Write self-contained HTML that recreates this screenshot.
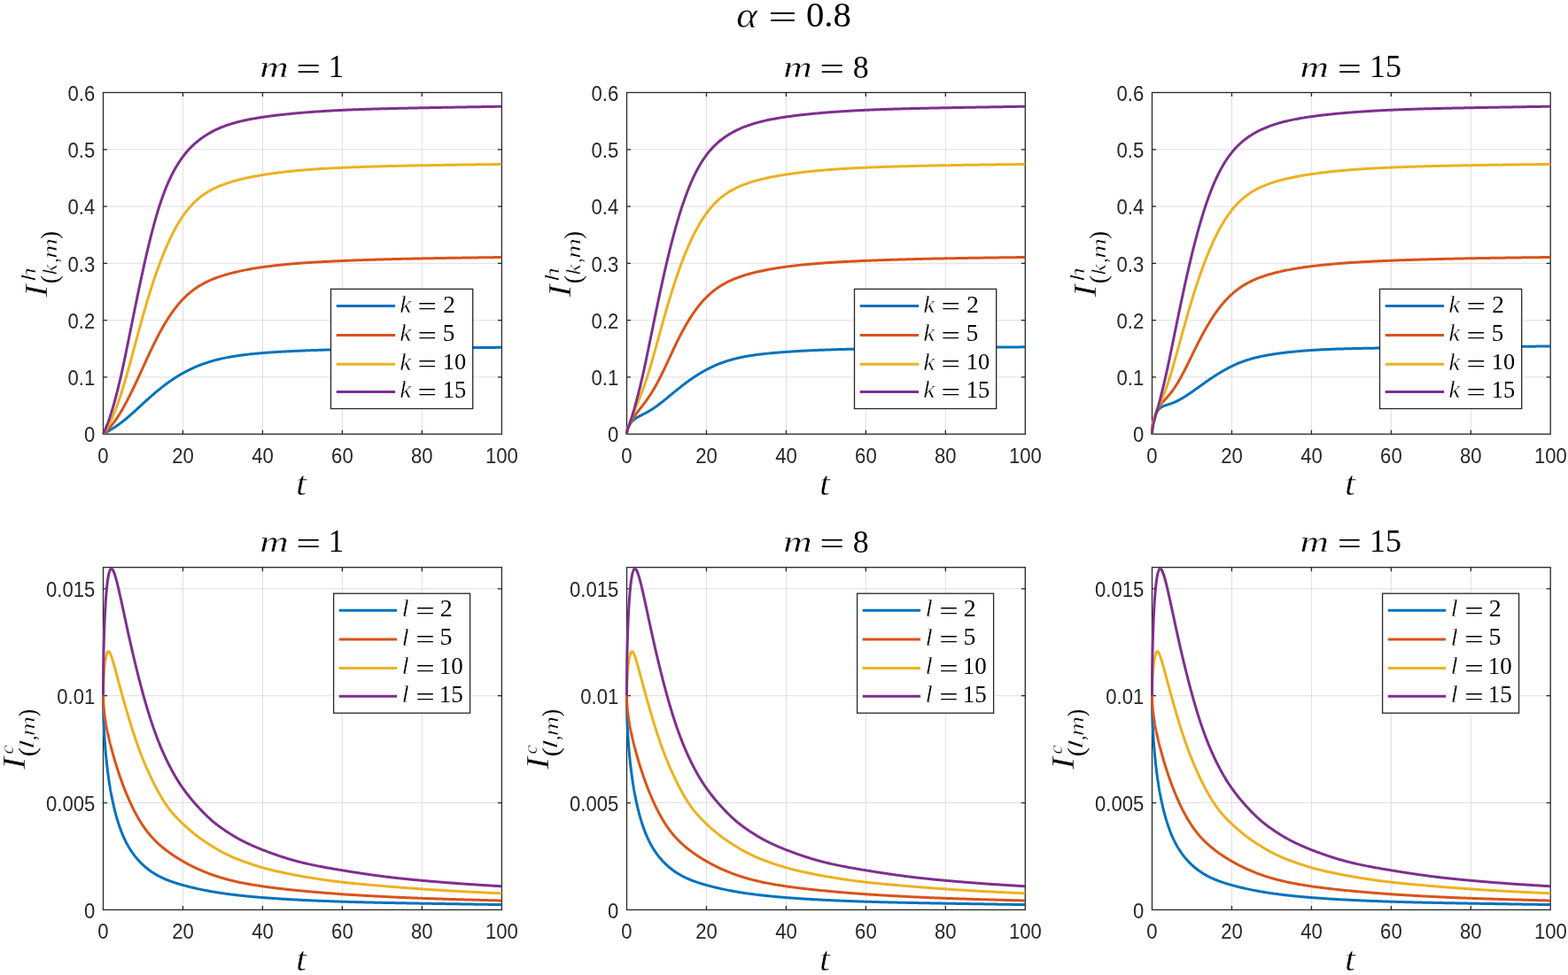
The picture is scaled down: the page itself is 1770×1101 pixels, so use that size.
<!DOCTYPE html><html><head><meta charset="utf-8"><title>alpha = 0.8</title><style>html,body{margin:0;padding:0;background:#fff;}svg{display:block;}.tk{font-family:"Liberation Sans",Arial,sans-serif;font-size:23px;fill:#262626;}.mt{font-family:"Liberation Serif","Times New Roman",serif;fill:#000;}.th{stroke:#fff;stroke-width:0.4px;}.it{font-style:italic;}</style></head><body>
<svg width="1770" height="1101" viewBox="0 0 1770 1101">
<rect width="1770" height="1101" fill="#fff"/>
<text class="mt th" font-size="39.38" font-style="italic" transform="translate(831.14 30.61) scale(1.1496 1)">α</text>
<text class="mt" font-size="39.60" transform="translate(867.33 33.22) scale(1.4500 1)">=</text>
<text class="mt" font-size="39.71" transform="translate(909.97 30.00) scale(1.0246 1)">0.8</text>
<g stroke="#dfdfdf" stroke-width="1"><line x1="206.46" y1="104.5" x2="206.46" y2="490.2"/><line x1="296.42" y1="104.5" x2="296.42" y2="490.2"/><line x1="386.38" y1="104.5" x2="386.38" y2="490.2"/><line x1="476.34" y1="104.5" x2="476.34" y2="490.2"/><line x1="116.5" y1="425.92" x2="566.4" y2="425.92"/><line x1="116.5" y1="361.63" x2="566.4" y2="361.63"/><line x1="116.5" y1="297.35" x2="566.4" y2="297.35"/><line x1="116.5" y1="233.07" x2="566.4" y2="233.07"/><line x1="116.5" y1="168.78" x2="566.4" y2="168.78"/></g>
<path d="M206.46 490.2v-4.5M206.46 104.5v4.5M296.42 490.2v-4.5M296.42 104.5v4.5M386.38 490.2v-4.5M386.38 104.5v4.5M476.34 490.2v-4.5M476.34 104.5v4.5M116.5 425.92h4.5M566.4 425.92h-4.5M116.5 361.63h4.5M566.4 361.63h-4.5M116.5 297.35h4.5M566.4 297.35h-4.5M116.5 233.07h4.5M566.4 233.07h-4.5M116.5 168.78h4.5M566.4 168.78h-4.5" fill="none" stroke="#262626" stroke-width="1.3"/>
<rect x="116.5" y="104.5" width="449.9" height="385.7" fill="none" stroke="#262626" stroke-width="1.3"/>
<path d="M116.5 490.2 L116.58 490.16 L116.65 490.11 L116.73 490.06 L116.8 490.02 L116.88 489.97 L116.95 489.92 L117.03 489.88 L117.1 489.83 L117.18 489.78 L117.26 489.74 L117.33 489.69 L117.41 489.64 L117.48 489.6 L117.56 489.55 L117.63 489.51 L117.71 489.46 L117.79 489.42 L117.86 489.37 L117.94 489.33 L118.01 489.28 L118.09 489.23 L118.16 489.19 L118.24 489.14 L118.31 489.1 L118.39 489.05 L118.47 489.01 L118.54 488.97 L118.62 488.92 L118.69 488.88 L118.77 488.83 L118.84 488.79 L118.92 488.74 L118.99 488.7 L119.07 488.65 L119.15 488.61 L119.22 488.56 L119.3 488.52 L119.37 488.48 L119.45 488.43 L119.52 488.39 L119.6 488.34 L119.68 488.3 L119.75 488.26 L119.83 488.21 L119.9 488.17 L119.98 488.12 L120.05 488.08 L120.13 488.04 L120.2 487.99 L120.28 487.95 L120.36 487.9 L120.43 487.86 L120.51 487.82 L120.58 487.77 L120.66 487.73 L120.73 487.68 L120.81 487.64 L120.88 487.6 L120.96 487.55 L121.04 487.51 L121.11 487.47 L121.19 487.42 L121.26 487.38 L121.34 487.33 L121.41 487.29 L121.49 487.25 L121.56 487.2 L121.64 487.16 L121.72 487.12 L121.79 487.07 L121.87 487.03 L121.94 486.98 L122.02 486.94 L122.09 486.9 L122.17 486.85 L122.25 486.81 L122.32 486.77 L122.4 486.72 L122.47 486.68 L122.55 486.63 L122.62 486.59 L122.7 486.55 L122.77 486.5 L122.85 486.46 L122.93 486.41 L123 486.37 L123.08 486.33 L123.15 486.28 L123.23 486.24 L123.3 486.19 L123.38 486.15 L123.45 486.1 L123.53 486.06 L123.61 486.02 L123.68 485.97 L123.76 485.93 L123.83 485.88 L123.91 485.84 L123.98 485.79 L124.06 485.75 L124.14 485.7 L124.21 485.66 L124.29 485.62 L124.36 485.57 L124.44 485.53 L124.51 485.48 L124.59 485.44 L124.66 485.39 L124.74 485.35 L124.82 485.3 L124.89 485.26 L124.97 485.21 L125.04 485.17 L125.12 485.12 L125.19 485.08 L125.27 485.03 L125.34 484.98 L125.42 484.94 L125.5 484.89 L125.63 484.81 L125.94 484.62 L126.26 484.43 L126.57 484.24 L126.88 484.05 L127.19 483.86 L127.5 483.66 L127.82 483.47 L128.13 483.27 L128.44 483.07 L128.75 482.87 L129.06 482.67 L129.38 482.47 L129.69 482.27 L130 482.06 L130.31 481.86 L130.62 481.65 L130.94 481.44 L131.25 481.23 L131.56 481.02 L131.87 480.8 L132.18 480.59 L132.5 480.37 L132.81 480.16 L133.12 479.94 L133.43 479.72 L133.75 479.5 L134.06 479.27 L134.37 479.05 L134.68 478.82 L134.99 478.6 L135.31 478.37 L135.62 478.14 L135.93 477.9 L136.24 477.67 L136.55 477.44 L136.87 477.2 L137.18 476.96 L137.49 476.72 L137.8 476.48 L138.11 476.24 L138.43 476 L138.74 475.76 L139.05 475.51 L139.36 475.26 L139.67 475.02 L139.99 474.77 L140.3 474.52 L140.61 474.27 L140.92 474.01 L141.24 473.76 L141.55 473.5 L141.86 473.25 L142.17 472.99 L142.48 472.73 L142.8 472.47 L143.11 472.21 L143.42 471.95 L143.73 471.69 L144.04 471.42 L144.36 471.16 L144.67 470.89 L144.98 470.62 L145.29 470.35 L145.6 470.09 L145.92 469.82 L146.23 469.54 L146.54 469.27 L146.85 469 L147.16 468.73 L147.48 468.45 L147.79 468.18 L148.1 467.9 L148.41 467.63 L148.72 467.35 L149.04 467.07 L149.35 466.79 L149.66 466.51 L149.97 466.23 L150.29 465.95 L150.6 465.67 L150.91 465.39 L151.22 465.11 L151.53 464.83 L151.85 464.54 L152.16 464.26 L152.47 463.98 L152.78 463.69 L153.09 463.41 L153.41 463.12 L153.72 462.84 L154.03 462.55 L154.34 462.27 L154.65 461.98 L154.97 461.7 L155.28 461.41 L155.59 461.12 L155.9 460.84 L156.21 460.55 L156.53 460.26 L156.84 459.97 L157.15 459.69 L157.46 459.4 L157.78 459.11 L158.09 458.82 L158.4 458.54 L158.71 458.25 L159.02 457.96 L159.34 457.67 L159.65 457.39 L159.96 457.1 L160.27 456.81 L160.58 456.53 L160.9 456.24 L161.21 455.95 L161.52 455.66 L161.83 455.38 L162.14 455.09 L162.46 454.81 L162.77 454.52 L163.08 454.24 L163.39 453.95 L163.7 453.67 L164.02 453.38 L164.33 453.1 L164.64 452.81 L164.95 452.53 L165.27 452.25 L165.58 451.96 L165.89 451.68 L166.2 451.4 L166.51 451.12 L166.83 450.84 L167.14 450.55 L167.45 450.27 L167.76 449.99 L168.07 449.72 L168.39 449.44 L168.7 449.16 L169.01 448.88 L169.32 448.6 L169.63 448.33 L169.95 448.05 L170.26 447.78 L170.57 447.5 L170.88 447.23 L171.19 446.95 L171.51 446.68 L171.82 446.41 L172.13 446.13 L172.44 445.86 L172.76 445.59 L173.07 445.32 L173.38 445.05 L173.69 444.79 L174 444.52 L174.32 444.25 L174.63 443.98 L174.94 443.72 L175.25 443.45 L175.56 443.19 L175.88 442.93 L176.19 442.66 L176.5 442.4 L176.81 442.14 L177.12 441.88 L177.44 441.62 L177.75 441.36 L178.06 441.1 L178.37 440.85 L178.68 440.59 L179 440.33 L179.31 440.08 L179.62 439.82 L179.93 439.57 L180.25 439.32 L180.56 439.07 L180.87 438.82 L181.18 438.57 L181.49 438.32 L181.81 438.07 L182.12 437.82 L182.43 437.58 L182.74 437.33 L183.05 437.08 L183.37 436.84 L183.68 436.6 L183.99 436.36 L184.3 436.11 L184.61 435.87 L184.93 435.63 L185.24 435.4 L185.55 435.16 L185.86 434.92 L186.17 434.69 L186.49 434.45 L186.8 434.22 L187.11 433.98 L187.42 433.75 L187.74 433.52 L188.05 433.29 L188.36 433.06 L188.67 432.83 L188.98 432.6 L189.3 432.38 L189.61 432.15 L189.92 431.93 L190.23 431.7 L190.54 431.48 L190.86 431.26 L191.17 431.04 L191.48 430.82 L191.79 430.6 L192.1 430.38 L192.42 430.16 L192.73 429.95 L193.04 429.73 L193.35 429.52 L193.66 429.3 L193.98 429.09 L194.29 428.88 L194.6 428.67 L194.91 428.46 L195.23 428.25 L195.54 428.04 L195.85 427.84 L196.16 427.63 L196.47 427.43 L196.79 427.22 L197.1 427.02 L197.41 426.82 L197.72 426.62 L198.03 426.42 L198.35 426.22 L198.66 426.02 L198.97 425.83 L199.28 425.63 L199.59 425.43 L199.91 425.24 L200.22 425.05 L200.53 424.85 L200.84 424.66 L201.15 424.47 L201.47 424.28 L201.78 424.09 L202.09 423.91 L202.4 423.72 L202.72 423.54 L203.03 423.35 L203.34 423.17 L203.65 422.98 L203.96 422.8 L204.28 422.62 L204.59 422.44 L204.9 422.26 L205.21 422.08 L205.52 421.91 L205.84 421.73 L206.15 421.56 L206.46 421.38 L207.36 420.88 L208.56 420.23 L209.76 419.59 L210.96 418.97 L212.16 418.36 L213.36 417.76 L214.56 417.17 L215.76 416.6 L216.96 416.04 L218.16 415.49 L219.36 414.96 L220.56 414.44 L221.77 413.92 L222.97 413.43 L224.17 412.94 L225.37 412.47 L226.57 412 L227.77 411.55 L228.97 411.11 L230.17 410.68 L231.37 410.26 L232.57 409.85 L233.77 409.46 L234.97 409.07 L236.17 408.69 L237.37 408.32 L238.57 407.96 L239.77 407.62 L240.97 407.28 L242.17 406.95 L243.37 406.63 L244.57 406.32 L245.77 406.01 L246.98 405.72 L248.18 405.43 L249.38 405.15 L250.58 404.88 L251.78 404.62 L252.98 404.36 L254.18 404.11 L255.38 403.87 L256.58 403.64 L257.78 403.41 L258.98 403.19 L260.18 402.98 L261.38 402.77 L262.58 402.56 L263.78 402.37 L264.98 402.18 L266.18 401.99 L267.38 401.81 L268.58 401.64 L269.78 401.46 L270.98 401.3 L272.18 401.14 L273.39 400.98 L274.59 400.83 L275.79 400.68 L276.99 400.53 L278.19 400.39 L279.39 400.26 L280.59 400.12 L281.79 399.99 L282.99 399.86 L284.19 399.74 L285.39 399.62 L286.59 399.5 L287.79 399.38 L288.99 399.27 L290.19 399.16 L291.39 399.05 L292.59 398.95 L293.79 398.84 L294.99 398.74 L296.19 398.64 L297.39 398.55 L298.6 398.45 L299.8 398.36 L301 398.27 L302.2 398.18 L303.4 398.09 L304.6 398 L305.8 397.92 L307 397.84 L308.2 397.75 L309.4 397.68 L310.6 397.6 L311.8 397.52 L313 397.45 L314.2 397.37 L315.4 397.3 L316.6 397.23 L317.8 397.16 L319 397.09 L320.2 397.02 L321.4 396.96 L322.6 396.89 L323.81 396.83 L325.01 396.76 L326.21 396.7 L327.41 396.64 L328.61 396.58 L329.81 396.52 L331.01 396.47 L332.21 396.41 L333.41 396.36 L334.61 396.3 L335.81 396.25 L337.01 396.19 L338.21 396.14 L339.41 396.09 L340.61 396.04 L341.81 395.99 L343.01 395.94 L344.21 395.89 L345.41 395.85 L346.61 395.8 L347.81 395.76 L349.02 395.71 L350.22 395.67 L351.42 395.62 L352.62 395.58 L353.82 395.54 L355.02 395.5 L356.22 395.46 L357.42 395.41 L358.62 395.38 L359.82 395.34 L361.02 395.3 L362.22 395.26 L363.42 395.22 L364.62 395.18 L365.82 395.15 L367.02 395.11 L368.22 395.08 L369.42 395.04 L370.62 395.01 L371.82 394.97 L373.02 394.94 L374.22 394.91 L375.43 394.87 L376.63 394.84 L377.83 394.81 L379.03 394.78 L380.23 394.75 L381.43 394.72 L382.63 394.69 L383.83 394.66 L385.03 394.63 L386.23 394.6 L387.43 394.57 L388.63 394.54 L389.83 394.51 L391.03 394.49 L392.23 394.46 L393.43 394.43 L394.63 394.41 L395.83 394.38 L397.03 394.35 L398.23 394.33 L399.43 394.3 L400.64 394.28 L401.84 394.25 L403.04 394.23 L404.24 394.21 L405.44 394.18 L406.64 394.16 L407.84 394.13 L409.04 394.11 L410.24 394.09 L411.44 394.07 L412.64 394.04 L413.84 394.02 L415.04 394 L416.24 393.98 L417.44 393.96 L418.64 393.94 L419.84 393.92 L421.04 393.9 L422.24 393.88 L423.44 393.86 L424.64 393.84 L425.85 393.82 L427.05 393.8 L428.25 393.78 L429.45 393.76 L430.65 393.74 L431.85 393.72 L433.05 393.7 L434.25 393.68 L435.45 393.67 L436.65 393.65 L437.85 393.63 L439.05 393.61 L440.25 393.6 L441.45 393.58 L442.65 393.56 L443.85 393.54 L445.05 393.53 L446.25 393.51 L447.45 393.49 L448.65 393.48 L449.85 393.46 L451.05 393.45 L452.26 393.43 L453.46 393.41 L454.66 393.4 L455.86 393.38 L457.06 393.37 L458.26 393.35 L459.46 393.34 L460.66 393.32 L461.86 393.31 L463.06 393.29 L464.26 393.28 L465.46 393.26 L466.66 393.25 L467.86 393.24 L469.06 393.22 L470.26 393.21 L471.46 393.19 L472.66 393.18 L473.86 393.17 L475.06 393.15 L476.26 393.14 L477.47 393.13 L478.67 393.11 L479.87 393.1 L481.07 393.09 L482.27 393.07 L483.47 393.06 L484.67 393.05 L485.87 393.03 L487.07 393.02 L488.27 393.01 L489.47 393 L490.67 392.98 L491.87 392.97 L493.07 392.96 L494.27 392.95 L495.47 392.94 L496.67 392.92 L497.87 392.91 L499.07 392.9 L500.27 392.89 L501.47 392.88 L502.68 392.86 L503.88 392.85 L505.08 392.84 L506.28 392.83 L507.48 392.82 L508.68 392.81 L509.88 392.8 L511.08 392.79 L512.28 392.77 L513.48 392.76 L514.68 392.75 L515.88 392.74 L517.08 392.73 L518.28 392.72 L519.48 392.71 L520.68 392.7 L521.88 392.69 L523.08 392.68 L524.28 392.67 L525.48 392.66 L526.68 392.64 L527.88 392.63 L529.09 392.62 L530.29 392.61 L531.49 392.6 L532.69 392.59 L533.89 392.58 L535.09 392.57 L536.29 392.56 L537.49 392.55 L538.69 392.54 L539.89 392.53 L541.09 392.52 L542.29 392.51 L543.49 392.5 L544.69 392.49 L545.89 392.48 L547.09 392.47 L548.29 392.46 L549.49 392.45 L550.69 392.44 L551.89 392.43 L553.09 392.42 L554.3 392.41 L555.5 392.4 L556.7 392.4 L557.9 392.39 L559.1 392.38 L560.3 392.37 L561.5 392.36 L562.7 392.35 L563.9 392.34 L565.1 392.33 L566.3 392.32" fill="none" stroke="#0072BD" stroke-width="3.0" stroke-linejoin="round"/>
<path d="M116.5 490.2 L116.58 490.13 L116.65 490.05 L116.73 489.97 L116.8 489.9 L116.88 489.82 L116.95 489.74 L117.03 489.67 L117.1 489.59 L117.18 489.52 L117.26 489.44 L117.33 489.37 L117.41 489.29 L117.48 489.22 L117.56 489.14 L117.63 489.07 L117.71 488.99 L117.79 488.92 L117.86 488.84 L117.94 488.77 L118.01 488.69 L118.09 488.62 L118.16 488.54 L118.24 488.47 L118.31 488.39 L118.39 488.32 L118.47 488.25 L118.54 488.17 L118.62 488.1 L118.69 488.02 L118.77 487.95 L118.84 487.87 L118.92 487.8 L118.99 487.73 L119.07 487.65 L119.15 487.58 L119.22 487.5 L119.3 487.43 L119.37 487.35 L119.45 487.28 L119.52 487.2 L119.6 487.13 L119.68 487.06 L119.75 486.98 L119.83 486.91 L119.9 486.83 L119.98 486.76 L120.05 486.68 L120.13 486.6 L120.2 486.53 L120.28 486.45 L120.36 486.38 L120.43 486.3 L120.51 486.23 L120.58 486.15 L120.66 486.07 L120.73 486 L120.81 485.92 L120.88 485.85 L120.96 485.77 L121.04 485.69 L121.11 485.62 L121.19 485.54 L121.26 485.46 L121.34 485.38 L121.41 485.31 L121.49 485.23 L121.56 485.15 L121.64 485.07 L121.72 484.99 L121.79 484.91 L121.87 484.84 L121.94 484.76 L122.02 484.68 L122.09 484.6 L122.17 484.52 L122.25 484.44 L122.32 484.36 L122.4 484.28 L122.47 484.2 L122.55 484.12 L122.62 484.04 L122.7 483.96 L122.77 483.88 L122.85 483.8 L122.93 483.71 L123 483.63 L123.08 483.55 L123.15 483.47 L123.23 483.39 L123.3 483.3 L123.38 483.22 L123.45 483.14 L123.53 483.05 L123.61 482.97 L123.68 482.89 L123.76 482.8 L123.83 482.72 L123.91 482.63 L123.98 482.55 L124.06 482.46 L124.14 482.38 L124.21 482.29 L124.29 482.21 L124.36 482.12 L124.44 482.03 L124.51 481.95 L124.59 481.86 L124.66 481.77 L124.74 481.69 L124.82 481.6 L124.89 481.51 L124.97 481.42 L125.04 481.33 L125.12 481.25 L125.19 481.16 L125.27 481.07 L125.34 480.98 L125.42 480.89 L125.5 480.8 L125.63 480.64 L125.94 480.26 L126.26 479.89 L126.57 479.5 L126.88 479.11 L127.19 478.72 L127.5 478.32 L127.82 477.92 L128.13 477.52 L128.44 477.11 L128.75 476.69 L129.06 476.27 L129.38 475.85 L129.69 475.42 L130 474.99 L130.31 474.55 L130.62 474.11 L130.94 473.66 L131.25 473.21 L131.56 472.75 L131.87 472.29 L132.18 471.83 L132.5 471.36 L132.81 470.89 L133.12 470.41 L133.43 469.93 L133.75 469.45 L134.06 468.96 L134.37 468.46 L134.68 467.96 L134.99 467.46 L135.31 466.96 L135.62 466.45 L135.93 465.93 L136.24 465.42 L136.55 464.9 L136.87 464.37 L137.18 463.84 L137.49 463.31 L137.8 462.78 L138.11 462.24 L138.43 461.69 L138.74 461.15 L139.05 460.6 L139.36 460.04 L139.67 459.49 L139.99 458.93 L140.3 458.36 L140.61 457.8 L140.92 457.23 L141.24 456.65 L141.55 456.08 L141.86 455.5 L142.17 454.92 L142.48 454.33 L142.8 453.74 L143.11 453.15 L143.42 452.56 L143.73 451.96 L144.04 451.36 L144.36 450.76 L144.67 450.15 L144.98 449.54 L145.29 448.93 L145.6 448.32 L145.92 447.7 L146.23 447.09 L146.54 446.47 L146.85 445.84 L147.16 445.22 L147.48 444.59 L147.79 443.96 L148.1 443.33 L148.41 442.69 L148.72 442.05 L149.04 441.41 L149.35 440.77 L149.66 440.13 L149.97 439.48 L150.29 438.84 L150.6 438.19 L150.91 437.54 L151.22 436.88 L151.53 436.23 L151.85 435.57 L152.16 434.92 L152.47 434.26 L152.78 433.59 L153.09 432.93 L153.41 432.27 L153.72 431.6 L154.03 430.94 L154.34 430.27 L154.65 429.6 L154.97 428.93 L155.28 428.26 L155.59 427.59 L155.9 426.91 L156.21 426.24 L156.53 425.56 L156.84 424.89 L157.15 424.21 L157.46 423.53 L157.78 422.85 L158.09 422.17 L158.4 421.49 L158.71 420.81 L159.02 420.13 L159.34 419.44 L159.65 418.76 L159.96 418.08 L160.27 417.39 L160.58 416.71 L160.9 416.02 L161.21 415.34 L161.52 414.65 L161.83 413.97 L162.14 413.28 L162.46 412.6 L162.77 411.91 L163.08 411.23 L163.39 410.54 L163.7 409.86 L164.02 409.17 L164.33 408.49 L164.64 407.81 L164.95 407.13 L165.27 406.44 L165.58 405.76 L165.89 405.09 L166.2 404.41 L166.51 403.73 L166.83 403.05 L167.14 402.38 L167.45 401.7 L167.76 401.03 L168.07 400.36 L168.39 399.69 L168.7 399.02 L169.01 398.36 L169.32 397.69 L169.63 397.03 L169.95 396.37 L170.26 395.71 L170.57 395.05 L170.88 394.39 L171.19 393.74 L171.51 393.09 L171.82 392.43 L172.13 391.79 L172.44 391.14 L172.76 390.5 L173.07 389.85 L173.38 389.21 L173.69 388.58 L174 387.94 L174.32 387.31 L174.63 386.68 L174.94 386.05 L175.25 385.43 L175.56 384.8 L175.88 384.18 L176.19 383.56 L176.5 382.95 L176.81 382.34 L177.12 381.73 L177.44 381.12 L177.75 380.52 L178.06 379.91 L178.37 379.32 L178.68 378.72 L179 378.13 L179.31 377.54 L179.62 376.95 L179.93 376.36 L180.25 375.78 L180.56 375.2 L180.87 374.63 L181.18 374.05 L181.49 373.48 L181.81 372.92 L182.12 372.35 L182.43 371.79 L182.74 371.23 L183.05 370.68 L183.37 370.13 L183.68 369.58 L183.99 369.03 L184.3 368.49 L184.61 367.95 L184.93 367.41 L185.24 366.88 L185.55 366.35 L185.86 365.82 L186.17 365.3 L186.49 364.78 L186.8 364.26 L187.11 363.75 L187.42 363.24 L187.74 362.73 L188.05 362.22 L188.36 361.72 L188.67 361.22 L188.98 360.73 L189.3 360.24 L189.61 359.75 L189.92 359.26 L190.23 358.78 L190.54 358.3 L190.86 357.82 L191.17 357.35 L191.48 356.88 L191.79 356.41 L192.1 355.95 L192.42 355.49 L192.73 355.03 L193.04 354.58 L193.35 354.13 L193.66 353.68 L193.98 353.23 L194.29 352.79 L194.6 352.35 L194.91 351.92 L195.23 351.49 L195.54 351.06 L195.85 350.63 L196.16 350.21 L196.47 349.79 L196.79 349.37 L197.1 348.95 L197.41 348.54 L197.72 348.14 L198.03 347.73 L198.35 347.33 L198.66 346.93 L198.97 346.53 L199.28 346.14 L199.59 345.75 L199.91 345.36 L200.22 344.98 L200.53 344.6 L200.84 344.22 L201.15 343.84 L201.47 343.47 L201.78 343.1 L202.09 342.74 L202.4 342.37 L202.72 342.01 L203.03 341.65 L203.34 341.3 L203.65 340.95 L203.96 340.6 L204.28 340.25 L204.59 339.91 L204.9 339.57 L205.21 339.23 L205.52 338.89 L205.84 338.56 L206.15 338.23 L206.46 337.9 L207.36 336.98 L208.56 335.77 L209.76 334.61 L210.96 333.49 L212.16 332.4 L213.36 331.35 L214.56 330.33 L215.76 329.35 L216.96 328.41 L218.16 327.49 L219.36 326.61 L220.56 325.76 L221.77 324.94 L222.97 324.14 L224.17 323.38 L225.37 322.64 L226.57 321.92 L227.77 321.23 L228.97 320.57 L230.17 319.92 L231.37 319.3 L232.57 318.69 L233.77 318.11 L234.97 317.54 L236.17 316.99 L237.37 316.46 L238.57 315.94 L239.77 315.44 L240.97 314.95 L242.17 314.48 L243.37 314.02 L244.57 313.57 L245.77 313.14 L246.98 312.71 L248.18 312.3 L249.38 311.9 L250.58 311.51 L251.78 311.13 L252.98 310.76 L254.18 310.39 L255.38 310.04 L256.58 309.7 L257.78 309.36 L258.98 309.03 L260.18 308.71 L261.38 308.39 L262.58 308.09 L263.78 307.79 L264.98 307.49 L266.18 307.2 L267.38 306.92 L268.58 306.65 L269.78 306.38 L270.98 306.11 L272.18 305.85 L273.39 305.6 L274.59 305.35 L275.79 305.11 L276.99 304.87 L278.19 304.64 L279.39 304.41 L280.59 304.19 L281.79 303.97 L282.99 303.75 L284.19 303.54 L285.39 303.34 L286.59 303.14 L287.79 302.94 L288.99 302.74 L290.19 302.55 L291.39 302.37 L292.59 302.18 L293.79 302 L294.99 301.83 L296.19 301.65 L297.39 301.49 L298.6 301.32 L299.8 301.16 L301 301 L302.2 300.84 L303.4 300.69 L304.6 300.53 L305.8 300.39 L307 300.24 L308.2 300.1 L309.4 299.96 L310.6 299.82 L311.8 299.68 L313 299.55 L314.2 299.42 L315.4 299.29 L316.6 299.17 L317.8 299.05 L319 298.92 L320.2 298.81 L321.4 298.69 L322.6 298.57 L323.81 298.46 L325.01 298.35 L326.21 298.24 L327.41 298.13 L328.61 298.03 L329.81 297.93 L331.01 297.82 L332.21 297.73 L333.41 297.63 L334.61 297.53 L335.81 297.44 L337.01 297.34 L338.21 297.25 L339.41 297.16 L340.61 297.07 L341.81 296.99 L343.01 296.9 L344.21 296.82 L345.41 296.73 L346.61 296.65 L347.81 296.57 L349.02 296.49 L350.22 296.41 L351.42 296.34 L352.62 296.26 L353.82 296.19 L355.02 296.11 L356.22 296.04 L357.42 295.97 L358.62 295.9 L359.82 295.83 L361.02 295.76 L362.22 295.7 L363.42 295.63 L364.62 295.57 L365.82 295.5 L367.02 295.44 L368.22 295.38 L369.42 295.31 L370.62 295.25 L371.82 295.19 L373.02 295.13 L374.22 295.08 L375.43 295.02 L376.63 294.96 L377.83 294.9 L379.03 294.85 L380.23 294.79 L381.43 294.74 L382.63 294.69 L383.83 294.63 L385.03 294.58 L386.23 294.53 L387.43 294.48 L388.63 294.43 L389.83 294.38 L391.03 294.33 L392.23 294.28 L393.43 294.23 L394.63 294.18 L395.83 294.14 L397.03 294.09 L398.23 294.04 L399.43 294 L400.64 293.95 L401.84 293.91 L403.04 293.86 L404.24 293.82 L405.44 293.78 L406.64 293.73 L407.84 293.69 L409.04 293.65 L410.24 293.61 L411.44 293.57 L412.64 293.53 L413.84 293.49 L415.04 293.45 L416.24 293.41 L417.44 293.37 L418.64 293.33 L419.84 293.29 L421.04 293.25 L422.24 293.22 L423.44 293.18 L424.64 293.14 L425.85 293.11 L427.05 293.07 L428.25 293.04 L429.45 293 L430.65 292.97 L431.85 292.93 L433.05 292.9 L434.25 292.87 L435.45 292.83 L436.65 292.8 L437.85 292.77 L439.05 292.73 L440.25 292.7 L441.45 292.67 L442.65 292.64 L443.85 292.61 L445.05 292.58 L446.25 292.55 L447.45 292.52 L448.65 292.49 L449.85 292.46 L451.05 292.43 L452.26 292.4 L453.46 292.37 L454.66 292.34 L455.86 292.32 L457.06 292.29 L458.26 292.26 L459.46 292.23 L460.66 292.21 L461.86 292.18 L463.06 292.15 L464.26 292.13 L465.46 292.1 L466.66 292.08 L467.86 292.05 L469.06 292.03 L470.26 292 L471.46 291.98 L472.66 291.95 L473.86 291.93 L475.06 291.9 L476.26 291.88 L477.47 291.86 L478.67 291.83 L479.87 291.81 L481.07 291.79 L482.27 291.77 L483.47 291.74 L484.67 291.72 L485.87 291.7 L487.07 291.68 L488.27 291.66 L489.47 291.63 L490.67 291.61 L491.87 291.59 L493.07 291.57 L494.27 291.55 L495.47 291.53 L496.67 291.51 L497.87 291.49 L499.07 291.47 L500.27 291.45 L501.47 291.43 L502.68 291.41 L503.88 291.39 L505.08 291.37 L506.28 291.35 L507.48 291.33 L508.68 291.31 L509.88 291.29 L511.08 291.28 L512.28 291.26 L513.48 291.24 L514.68 291.22 L515.88 291.2 L517.08 291.18 L518.28 291.17 L519.48 291.15 L520.68 291.13 L521.88 291.11 L523.08 291.1 L524.28 291.08 L525.48 291.06 L526.68 291.04 L527.88 291.03 L529.09 291.01 L530.29 290.99 L531.49 290.98 L532.69 290.96 L533.89 290.94 L535.09 290.93 L536.29 290.91 L537.49 290.89 L538.69 290.88 L539.89 290.86 L541.09 290.84 L542.29 290.83 L543.49 290.81 L544.69 290.8 L545.89 290.78 L547.09 290.76 L548.29 290.75 L549.49 290.73 L550.69 290.72 L551.89 290.7 L553.09 290.69 L554.3 290.67 L555.5 290.65 L556.7 290.64 L557.9 290.62 L559.1 290.61 L560.3 290.59 L561.5 290.58 L562.7 290.56 L563.9 290.55 L565.1 290.53 L566.3 290.52" fill="none" stroke="#D95319" stroke-width="3.0" stroke-linejoin="round"/>
<path d="M116.5 490.2 L116.58 490.08 L116.65 489.96 L116.73 489.84 L116.8 489.71 L116.88 489.59 L116.95 489.47 L117.03 489.35 L117.1 489.23 L117.18 489.11 L117.26 488.99 L117.33 488.87 L117.41 488.75 L117.48 488.63 L117.56 488.51 L117.63 488.39 L117.71 488.27 L117.79 488.15 L117.86 488.03 L117.94 487.91 L118.01 487.79 L118.09 487.67 L118.16 487.55 L118.24 487.43 L118.31 487.31 L118.39 487.19 L118.47 487.07 L118.54 486.95 L118.62 486.83 L118.69 486.71 L118.77 486.59 L118.84 486.47 L118.92 486.35 L118.99 486.23 L119.07 486.1 L119.15 485.98 L119.22 485.86 L119.3 485.74 L119.37 485.62 L119.45 485.49 L119.52 485.37 L119.6 485.25 L119.68 485.12 L119.75 485 L119.83 484.88 L119.9 484.75 L119.98 484.63 L120.05 484.5 L120.13 484.38 L120.2 484.25 L120.28 484.13 L120.36 484 L120.43 483.87 L120.51 483.75 L120.58 483.62 L120.66 483.49 L120.73 483.36 L120.81 483.23 L120.88 483.1 L120.96 482.97 L121.04 482.84 L121.11 482.71 L121.19 482.58 L121.26 482.45 L121.34 482.32 L121.41 482.19 L121.49 482.05 L121.56 481.92 L121.64 481.79 L121.72 481.65 L121.79 481.52 L121.87 481.38 L121.94 481.25 L122.02 481.11 L122.09 480.97 L122.17 480.83 L122.25 480.7 L122.32 480.56 L122.4 480.42 L122.47 480.28 L122.55 480.14 L122.62 480 L122.7 479.86 L122.77 479.72 L122.85 479.58 L122.93 479.43 L123 479.29 L123.08 479.15 L123.15 479 L123.23 478.86 L123.3 478.71 L123.38 478.57 L123.45 478.42 L123.53 478.28 L123.61 478.13 L123.68 477.98 L123.76 477.84 L123.83 477.69 L123.91 477.54 L123.98 477.39 L124.06 477.24 L124.14 477.09 L124.21 476.94 L124.29 476.78 L124.36 476.63 L124.44 476.48 L124.51 476.33 L124.59 476.17 L124.66 476.02 L124.74 475.86 L124.82 475.71 L124.89 475.55 L124.97 475.4 L125.04 475.24 L125.12 475.08 L125.19 474.92 L125.27 474.77 L125.34 474.61 L125.42 474.45 L125.5 474.29 L125.63 474 L125.94 473.33 L126.26 472.65 L126.57 471.96 L126.88 471.26 L127.19 470.55 L127.5 469.84 L127.82 469.11 L128.13 468.37 L128.44 467.63 L128.75 466.88 L129.06 466.11 L129.38 465.34 L129.69 464.56 L130 463.77 L130.31 462.97 L130.62 462.16 L130.94 461.35 L131.25 460.52 L131.56 459.69 L131.87 458.84 L132.18 457.99 L132.5 457.13 L132.81 456.26 L133.12 455.38 L133.43 454.5 L133.75 453.6 L134.06 452.7 L134.37 451.79 L134.68 450.87 L134.99 449.95 L135.31 449.01 L135.62 448.07 L135.93 447.12 L136.24 446.16 L136.55 445.2 L136.87 444.23 L137.18 443.25 L137.49 442.26 L137.8 441.27 L138.11 440.27 L138.43 439.27 L138.74 438.25 L139.05 437.23 L139.36 436.21 L139.67 435.18 L139.99 434.14 L140.3 433.09 L140.61 432.04 L140.92 430.99 L141.24 429.93 L141.55 428.86 L141.86 427.79 L142.17 426.71 L142.48 425.63 L142.8 424.54 L143.11 423.45 L143.42 422.35 L143.73 421.25 L144.04 420.15 L144.36 419.04 L144.67 417.92 L144.98 416.8 L145.29 415.68 L145.6 414.55 L145.92 413.42 L146.23 412.28 L146.54 411.15 L146.85 410 L147.16 408.86 L147.48 407.71 L147.79 406.56 L148.1 405.41 L148.41 404.26 L148.72 403.1 L149.04 401.95 L149.35 400.79 L149.66 399.63 L149.97 398.47 L150.29 397.3 L150.6 396.14 L150.91 394.98 L151.22 393.81 L151.53 392.65 L151.85 391.49 L152.16 390.32 L152.47 389.16 L152.78 388 L153.09 386.83 L153.41 385.67 L153.72 384.51 L154.03 383.35 L154.34 382.19 L154.65 381.03 L154.97 379.88 L155.28 378.72 L155.59 377.57 L155.9 376.42 L156.21 375.27 L156.53 374.12 L156.84 372.98 L157.15 371.83 L157.46 370.69 L157.78 369.55 L158.09 368.42 L158.4 367.28 L158.71 366.15 L159.02 365.02 L159.34 363.9 L159.65 362.78 L159.96 361.66 L160.27 360.54 L160.58 359.43 L160.9 358.32 L161.21 357.21 L161.52 356.11 L161.83 355.01 L162.14 353.91 L162.46 352.82 L162.77 351.73 L163.08 350.64 L163.39 349.56 L163.7 348.48 L164.02 347.41 L164.33 346.34 L164.64 345.27 L164.95 344.21 L165.27 343.15 L165.58 342.1 L165.89 341.05 L166.2 340 L166.51 338.96 L166.83 337.93 L167.14 336.89 L167.45 335.86 L167.76 334.84 L168.07 333.82 L168.39 332.81 L168.7 331.8 L169.01 330.79 L169.32 329.79 L169.63 328.79 L169.95 327.8 L170.26 326.81 L170.57 325.83 L170.88 324.85 L171.19 323.88 L171.51 322.91 L171.82 321.94 L172.13 320.98 L172.44 320.03 L172.76 319.08 L173.07 318.13 L173.38 317.19 L173.69 316.26 L174 315.33 L174.32 314.4 L174.63 313.48 L174.94 312.56 L175.25 311.65 L175.56 310.74 L175.88 309.84 L176.19 308.95 L176.5 308.05 L176.81 307.17 L177.12 306.28 L177.44 305.4 L177.75 304.53 L178.06 303.66 L178.37 302.8 L178.68 301.94 L179 301.09 L179.31 300.24 L179.62 299.39 L179.93 298.55 L180.25 297.72 L180.56 296.89 L180.87 296.07 L181.18 295.25 L181.49 294.43 L181.81 293.62 L182.12 292.81 L182.43 292.01 L182.74 291.21 L183.05 290.42 L183.37 289.64 L183.68 288.85 L183.99 288.08 L184.3 287.3 L184.61 286.53 L184.93 285.77 L185.24 285.01 L185.55 284.25 L185.86 283.5 L186.17 282.76 L186.49 282.02 L186.8 281.28 L187.11 280.55 L187.42 279.82 L187.74 279.1 L188.05 278.38 L188.36 277.67 L188.67 276.96 L188.98 276.25 L189.3 275.55 L189.61 274.85 L189.92 274.16 L190.23 273.48 L190.54 272.8 L190.86 272.12 L191.17 271.44 L191.48 270.78 L191.79 270.11 L192.1 269.45 L192.42 268.8 L192.73 268.15 L193.04 267.5 L193.35 266.86 L193.66 266.22 L193.98 265.59 L194.29 264.96 L194.6 264.34 L194.91 263.72 L195.23 263.11 L195.54 262.5 L195.85 261.9 L196.16 261.29 L196.47 260.7 L196.79 260.11 L197.1 259.52 L197.41 258.94 L197.72 258.36 L198.03 257.79 L198.35 257.22 L198.66 256.65 L198.97 256.09 L199.28 255.54 L199.59 254.99 L199.91 254.44 L200.22 253.9 L200.53 253.36 L200.84 252.83 L201.15 252.3 L201.47 251.77 L201.78 251.25 L202.09 250.74 L202.4 250.23 L202.72 249.72 L203.03 249.22 L203.34 248.72 L203.65 248.23 L203.96 247.74 L204.28 247.25 L204.59 246.77 L204.9 246.3 L205.21 245.82 L205.52 245.36 L205.84 244.89 L206.15 244.43 L206.46 243.98 L207.36 242.69 L208.56 241.02 L209.76 239.42 L210.96 237.86 L212.16 236.37 L213.36 234.92 L214.56 233.53 L215.76 232.19 L216.96 230.9 L218.16 229.66 L219.36 228.46 L220.56 227.31 L221.77 226.2 L222.97 225.14 L224.17 224.11 L225.37 223.12 L226.57 222.17 L227.77 221.26 L228.97 220.38 L230.17 219.53 L231.37 218.71 L232.57 217.93 L233.77 217.17 L234.97 216.44 L236.17 215.74 L237.37 215.07 L238.57 214.42 L239.77 213.79 L240.97 213.19 L242.17 212.6 L243.37 212.04 L244.57 211.5 L245.77 210.98 L246.98 210.47 L248.18 209.98 L249.38 209.5 L250.58 209.04 L251.78 208.59 L252.98 208.15 L254.18 207.72 L255.38 207.31 L256.58 206.9 L257.78 206.51 L258.98 206.12 L260.18 205.74 L261.38 205.38 L262.58 205.02 L263.78 204.67 L264.98 204.33 L266.18 203.99 L267.38 203.67 L268.58 203.35 L269.78 203.04 L270.98 202.73 L272.18 202.44 L273.39 202.15 L274.59 201.86 L275.79 201.58 L276.99 201.31 L278.19 201.04 L279.39 200.78 L280.59 200.53 L281.79 200.27 L282.99 200.03 L284.19 199.79 L285.39 199.55 L286.59 199.32 L287.79 199.09 L288.99 198.87 L290.19 198.65 L291.39 198.44 L292.59 198.23 L293.79 198.02 L294.99 197.82 L296.19 197.62 L297.39 197.42 L298.6 197.23 L299.8 197.04 L301 196.85 L302.2 196.67 L303.4 196.49 L304.6 196.31 L305.8 196.14 L307 195.96 L308.2 195.8 L309.4 195.63 L310.6 195.47 L311.8 195.31 L313 195.15 L314.2 194.99 L315.4 194.84 L316.6 194.69 L317.8 194.54 L319 194.4 L320.2 194.26 L321.4 194.12 L322.6 193.98 L323.81 193.84 L325.01 193.71 L326.21 193.58 L327.41 193.45 L328.61 193.32 L329.81 193.2 L331.01 193.08 L332.21 192.96 L333.41 192.84 L334.61 192.72 L335.81 192.61 L337.01 192.5 L338.21 192.39 L339.41 192.29 L340.61 192.18 L341.81 192.08 L343.01 191.98 L344.21 191.88 L345.41 191.78 L346.61 191.69 L347.81 191.6 L349.02 191.51 L350.22 191.42 L351.42 191.33 L352.62 191.24 L353.82 191.16 L355.02 191.08 L356.22 191 L357.42 190.92 L358.62 190.84 L359.82 190.76 L361.02 190.69 L362.22 190.61 L363.42 190.54 L364.62 190.47 L365.82 190.4 L367.02 190.33 L368.22 190.26 L369.42 190.2 L370.62 190.13 L371.82 190.07 L373.02 190 L374.22 189.94 L375.43 189.88 L376.63 189.82 L377.83 189.76 L379.03 189.7 L380.23 189.64 L381.43 189.59 L382.63 189.53 L383.83 189.48 L385.03 189.42 L386.23 189.37 L387.43 189.32 L388.63 189.26 L389.83 189.21 L391.03 189.16 L392.23 189.11 L393.43 189.06 L394.63 189.01 L395.83 188.97 L397.03 188.92 L398.23 188.87 L399.43 188.82 L400.64 188.78 L401.84 188.73 L403.04 188.69 L404.24 188.65 L405.44 188.6 L406.64 188.56 L407.84 188.52 L409.04 188.48 L410.24 188.44 L411.44 188.39 L412.64 188.35 L413.84 188.32 L415.04 188.28 L416.24 188.24 L417.44 188.2 L418.64 188.16 L419.84 188.13 L421.04 188.09 L422.24 188.05 L423.44 188.02 L424.64 187.98 L425.85 187.95 L427.05 187.91 L428.25 187.88 L429.45 187.84 L430.65 187.81 L431.85 187.78 L433.05 187.75 L434.25 187.71 L435.45 187.68 L436.65 187.65 L437.85 187.62 L439.05 187.59 L440.25 187.56 L441.45 187.53 L442.65 187.5 L443.85 187.47 L445.05 187.44 L446.25 187.41 L447.45 187.38 L448.65 187.35 L449.85 187.33 L451.05 187.3 L452.26 187.27 L453.46 187.25 L454.66 187.22 L455.86 187.19 L457.06 187.17 L458.26 187.14 L459.46 187.12 L460.66 187.09 L461.86 187.06 L463.06 187.04 L464.26 187.02 L465.46 186.99 L466.66 186.97 L467.86 186.94 L469.06 186.92 L470.26 186.9 L471.46 186.87 L472.66 186.85 L473.86 186.83 L475.06 186.81 L476.26 186.78 L477.47 186.76 L478.67 186.74 L479.87 186.72 L481.07 186.7 L482.27 186.67 L483.47 186.65 L484.67 186.63 L485.87 186.61 L487.07 186.59 L488.27 186.57 L489.47 186.55 L490.67 186.53 L491.87 186.51 L493.07 186.49 L494.27 186.47 L495.47 186.45 L496.67 186.43 L497.87 186.41 L499.07 186.39 L500.27 186.37 L501.47 186.36 L502.68 186.34 L503.88 186.32 L505.08 186.3 L506.28 186.28 L507.48 186.26 L508.68 186.25 L509.88 186.23 L511.08 186.21 L512.28 186.19 L513.48 186.18 L514.68 186.16 L515.88 186.14 L517.08 186.12 L518.28 186.11 L519.48 186.09 L520.68 186.07 L521.88 186.06 L523.08 186.04 L524.28 186.02 L525.48 186.01 L526.68 185.99 L527.88 185.97 L529.09 185.96 L530.29 185.94 L531.49 185.93 L532.69 185.91 L533.89 185.89 L535.09 185.88 L536.29 185.86 L537.49 185.85 L538.69 185.83 L539.89 185.81 L541.09 185.8 L542.29 185.78 L543.49 185.77 L544.69 185.75 L545.89 185.74 L547.09 185.72 L548.29 185.71 L549.49 185.69 L550.69 185.68 L551.89 185.66 L553.09 185.65 L554.3 185.63 L555.5 185.62 L556.7 185.6 L557.9 185.59 L559.1 185.57 L560.3 185.56 L561.5 185.55 L562.7 185.53 L563.9 185.52 L565.1 185.5 L566.3 185.49" fill="none" stroke="#EDB120" stroke-width="3.0" stroke-linejoin="round"/>
<path d="M116.5 490.2 L116.58 490.02 L116.65 489.84 L116.73 489.66 L116.8 489.49 L116.88 489.31 L116.95 489.13 L117.03 488.95 L117.1 488.77 L117.18 488.6 L117.26 488.42 L117.33 488.24 L117.41 488.07 L117.48 487.89 L117.56 487.72 L117.63 487.54 L117.71 487.36 L117.79 487.19 L117.86 487.01 L117.94 486.83 L118.01 486.66 L118.09 486.48 L118.16 486.3 L118.24 486.13 L118.31 485.95 L118.39 485.77 L118.47 485.6 L118.54 485.42 L118.62 485.24 L118.69 485.06 L118.77 484.88 L118.84 484.71 L118.92 484.53 L118.99 484.35 L119.07 484.17 L119.15 483.99 L119.22 483.81 L119.3 483.62 L119.37 483.44 L119.45 483.26 L119.52 483.08 L119.6 482.89 L119.68 482.71 L119.75 482.52 L119.83 482.34 L119.9 482.15 L119.98 481.97 L120.05 481.78 L120.13 481.59 L120.2 481.4 L120.28 481.22 L120.36 481.03 L120.43 480.84 L120.51 480.65 L120.58 480.45 L120.66 480.26 L120.73 480.07 L120.81 479.88 L120.88 479.68 L120.96 479.49 L121.04 479.29 L121.11 479.1 L121.19 478.9 L121.26 478.7 L121.34 478.5 L121.41 478.31 L121.49 478.11 L121.56 477.91 L121.64 477.71 L121.72 477.5 L121.79 477.3 L121.87 477.1 L121.94 476.9 L122.02 476.69 L122.09 476.49 L122.17 476.28 L122.25 476.07 L122.32 475.87 L122.4 475.66 L122.47 475.45 L122.55 475.24 L122.62 475.03 L122.7 474.82 L122.77 474.61 L122.85 474.4 L122.93 474.19 L123 473.97 L123.08 473.76 L123.15 473.54 L123.23 473.33 L123.3 473.11 L123.38 472.89 L123.45 472.68 L123.53 472.46 L123.61 472.24 L123.68 472.02 L123.76 471.8 L123.83 471.58 L123.91 471.35 L123.98 471.13 L124.06 470.91 L124.14 470.68 L124.21 470.46 L124.29 470.23 L124.36 470.01 L124.44 469.78 L124.51 469.55 L124.59 469.32 L124.66 469.09 L124.74 468.86 L124.82 468.63 L124.89 468.4 L124.97 468.17 L125.04 467.93 L125.12 467.7 L125.19 467.47 L125.27 467.23 L125.34 466.99 L125.42 466.76 L125.5 466.52 L125.63 466.09 L125.94 465.1 L126.26 464.1 L126.57 463.08 L126.88 462.05 L127.19 461.01 L127.5 459.95 L127.82 458.89 L128.13 457.81 L128.44 456.72 L128.75 455.62 L129.06 454.51 L129.38 453.38 L129.69 452.25 L130 451.1 L130.31 449.94 L130.62 448.77 L130.94 447.59 L131.25 446.4 L131.56 445.19 L131.87 443.98 L132.18 442.75 L132.5 441.52 L132.81 440.27 L133.12 439.01 L133.43 437.74 L133.75 436.46 L134.06 435.17 L134.37 433.87 L134.68 432.56 L134.99 431.23 L135.31 429.9 L135.62 428.56 L135.93 427.21 L136.24 425.85 L136.55 424.48 L136.87 423.1 L137.18 421.71 L137.49 420.31 L137.8 418.9 L138.11 417.48 L138.43 416.05 L138.74 414.62 L139.05 413.17 L139.36 411.72 L139.67 410.25 L139.99 408.78 L140.3 407.31 L140.61 405.82 L140.92 404.33 L141.24 402.83 L141.55 401.33 L141.86 399.82 L142.17 398.31 L142.48 396.79 L142.8 395.27 L143.11 393.74 L143.42 392.21 L143.73 390.68 L144.04 389.15 L144.36 387.61 L144.67 386.07 L144.98 384.53 L145.29 382.99 L145.6 381.44 L145.92 379.9 L146.23 378.35 L146.54 376.81 L146.85 375.26 L147.16 373.71 L147.48 372.16 L147.79 370.62 L148.1 369.07 L148.41 367.52 L148.72 365.98 L149.04 364.43 L149.35 362.89 L149.66 361.34 L149.97 359.8 L150.29 358.26 L150.6 356.72 L150.91 355.18 L151.22 353.65 L151.53 352.11 L151.85 350.58 L152.16 349.05 L152.47 347.52 L152.78 345.99 L153.09 344.47 L153.41 342.95 L153.72 341.43 L154.03 339.91 L154.34 338.4 L154.65 336.89 L154.97 335.38 L155.28 333.88 L155.59 332.38 L155.9 330.88 L156.21 329.38 L156.53 327.89 L156.84 326.4 L157.15 324.92 L157.46 323.44 L157.78 321.96 L158.09 320.48 L158.4 319.01 L158.71 317.55 L159.02 316.08 L159.34 314.62 L159.65 313.17 L159.96 311.72 L160.27 310.28 L160.58 308.84 L160.9 307.4 L161.21 305.97 L161.52 304.54 L161.83 303.12 L162.14 301.71 L162.46 300.3 L162.77 298.89 L163.08 297.49 L163.39 296.1 L163.7 294.71 L164.02 293.33 L164.33 291.96 L164.64 290.59 L164.95 289.22 L165.27 287.87 L165.58 286.52 L165.89 285.17 L166.2 283.83 L166.51 282.5 L166.83 281.18 L167.14 279.86 L167.45 278.55 L167.76 277.25 L168.07 275.96 L168.39 274.67 L168.7 273.39 L169.01 272.11 L169.32 270.85 L169.63 269.59 L169.95 268.34 L170.26 267.1 L170.57 265.87 L170.88 264.64 L171.19 263.42 L171.51 262.21 L171.82 261.01 L172.13 259.81 L172.44 258.63 L172.76 257.45 L173.07 256.28 L173.38 255.12 L173.69 253.97 L174 252.83 L174.32 251.69 L174.63 250.57 L174.94 249.45 L175.25 248.34 L175.56 247.24 L175.88 246.15 L176.19 245.07 L176.5 244 L176.81 242.93 L177.12 241.88 L177.44 240.83 L177.75 239.79 L178.06 238.76 L178.37 237.74 L178.68 236.73 L179 235.73 L179.31 234.74 L179.62 233.75 L179.93 232.78 L180.25 231.81 L180.56 230.85 L180.87 229.9 L181.18 228.96 L181.49 228.03 L181.81 227.11 L182.12 226.19 L182.43 225.29 L182.74 224.39 L183.05 223.5 L183.37 222.62 L183.68 221.75 L183.99 220.89 L184.3 220.03 L184.61 219.19 L184.93 218.35 L185.24 217.52 L185.55 216.7 L185.86 215.88 L186.17 215.08 L186.49 214.28 L186.8 213.49 L187.11 212.71 L187.42 211.94 L187.74 211.17 L188.05 210.42 L188.36 209.67 L188.67 208.93 L188.98 208.19 L189.3 207.46 L189.61 206.75 L189.92 206.03 L190.23 205.33 L190.54 204.63 L190.86 203.94 L191.17 203.26 L191.48 202.58 L191.79 201.91 L192.1 201.25 L192.42 200.59 L192.73 199.94 L193.04 199.3 L193.35 198.66 L193.66 198.03 L193.98 197.41 L194.29 196.79 L194.6 196.18 L194.91 195.58 L195.23 194.98 L195.54 194.39 L195.85 193.8 L196.16 193.22 L196.47 192.64 L196.79 192.07 L197.1 191.51 L197.41 190.95 L197.72 190.4 L198.03 189.85 L198.35 189.31 L198.66 188.77 L198.97 188.24 L199.28 187.72 L199.59 187.19 L199.91 186.68 L200.22 186.17 L200.53 185.66 L200.84 185.16 L201.15 184.66 L201.47 184.17 L201.78 183.69 L202.09 183.21 L202.4 182.73 L202.72 182.26 L203.03 181.79 L203.34 181.32 L203.65 180.87 L203.96 180.41 L204.28 179.96 L204.59 179.52 L204.9 179.07 L205.21 178.64 L205.52 178.2 L205.84 177.78 L206.15 177.35 L206.46 176.93 L207.36 175.74 L208.56 174.21 L209.76 172.73 L210.96 171.3 L212.16 169.93 L213.36 168.61 L214.56 167.34 L215.76 166.11 L216.96 164.93 L218.16 163.79 L219.36 162.69 L220.56 161.63 L221.77 160.6 L222.97 159.61 L224.17 158.65 L225.37 157.72 L226.57 156.82 L227.77 155.95 L228.97 155.1 L230.17 154.28 L231.37 153.48 L232.57 152.71 L233.77 151.95 L234.97 151.22 L236.17 150.51 L237.37 149.83 L238.57 149.16 L239.77 148.51 L240.97 147.88 L242.17 147.27 L243.37 146.68 L244.57 146.11 L245.77 145.56 L246.98 145.02 L248.18 144.5 L249.38 143.99 L250.58 143.5 L251.78 143.03 L252.98 142.57 L254.18 142.13 L255.38 141.7 L256.58 141.28 L257.78 140.88 L258.98 140.48 L260.18 140.11 L261.38 139.74 L262.58 139.38 L263.78 139.03 L264.98 138.7 L266.18 138.37 L267.38 138.05 L268.58 137.74 L269.78 137.44 L270.98 137.15 L272.18 136.86 L273.39 136.58 L274.59 136.31 L275.79 136.04 L276.99 135.78 L278.19 135.53 L279.39 135.28 L280.59 135.04 L281.79 134.8 L282.99 134.57 L284.19 134.35 L285.39 134.13 L286.59 133.91 L287.79 133.7 L288.99 133.49 L290.19 133.29 L291.39 133.09 L292.59 132.9 L293.79 132.7 L294.99 132.52 L296.19 132.33 L297.39 132.15 L298.6 131.98 L299.8 131.8 L301 131.63 L302.2 131.46 L303.4 131.3 L304.6 131.13 L305.8 130.97 L307 130.82 L308.2 130.66 L309.4 130.51 L310.6 130.36 L311.8 130.22 L313 130.07 L314.2 129.93 L315.4 129.79 L316.6 129.66 L317.8 129.52 L319 129.39 L320.2 129.26 L321.4 129.13 L322.6 129 L323.81 128.88 L325.01 128.76 L326.21 128.64 L327.41 128.52 L328.61 128.4 L329.81 128.28 L331.01 128.17 L332.21 128.06 L333.41 127.95 L334.61 127.84 L335.81 127.73 L337.01 127.63 L338.21 127.52 L339.41 127.42 L340.61 127.32 L341.81 127.22 L343.01 127.12 L344.21 127.02 L345.41 126.93 L346.61 126.83 L347.81 126.74 L349.02 126.65 L350.22 126.56 L351.42 126.47 L352.62 126.38 L353.82 126.29 L355.02 126.21 L356.22 126.12 L357.42 126.04 L358.62 125.96 L359.82 125.88 L361.02 125.8 L362.22 125.72 L363.42 125.64 L364.62 125.57 L365.82 125.49 L367.02 125.42 L368.22 125.34 L369.42 125.27 L370.62 125.2 L371.82 125.13 L373.02 125.06 L374.22 125 L375.43 124.93 L376.63 124.87 L377.83 124.8 L379.03 124.74 L380.23 124.68 L381.43 124.62 L382.63 124.56 L383.83 124.5 L385.03 124.44 L386.23 124.38 L387.43 124.33 L388.63 124.27 L389.83 124.22 L391.03 124.16 L392.23 124.11 L393.43 124.06 L394.63 124.01 L395.83 123.96 L397.03 123.91 L398.23 123.86 L399.43 123.82 L400.64 123.77 L401.84 123.73 L403.04 123.68 L404.24 123.64 L405.44 123.59 L406.64 123.55 L407.84 123.51 L409.04 123.47 L410.24 123.43 L411.44 123.39 L412.64 123.35 L413.84 123.31 L415.04 123.27 L416.24 123.23 L417.44 123.19 L418.64 123.16 L419.84 123.12 L421.04 123.08 L422.24 123.05 L423.44 123.01 L424.64 122.98 L425.85 122.95 L427.05 122.91 L428.25 122.88 L429.45 122.85 L430.65 122.82 L431.85 122.78 L433.05 122.75 L434.25 122.72 L435.45 122.69 L436.65 122.66 L437.85 122.63 L439.05 122.6 L440.25 122.57 L441.45 122.54 L442.65 122.51 L443.85 122.49 L445.05 122.46 L446.25 122.43 L447.45 122.4 L448.65 122.38 L449.85 122.35 L451.05 122.32 L452.26 122.3 L453.46 122.27 L454.66 122.24 L455.86 122.22 L457.06 122.19 L458.26 122.17 L459.46 122.14 L460.66 122.12 L461.86 122.09 L463.06 122.07 L464.26 122.04 L465.46 122.02 L466.66 121.99 L467.86 121.97 L469.06 121.94 L470.26 121.92 L471.46 121.9 L472.66 121.87 L473.86 121.85 L475.06 121.83 L476.26 121.8 L477.47 121.78 L478.67 121.76 L479.87 121.73 L481.07 121.71 L482.27 121.69 L483.47 121.66 L484.67 121.64 L485.87 121.62 L487.07 121.6 L488.27 121.57 L489.47 121.55 L490.67 121.53 L491.87 121.51 L493.07 121.48 L494.27 121.46 L495.47 121.44 L496.67 121.42 L497.87 121.39 L499.07 121.37 L500.27 121.35 L501.47 121.33 L502.68 121.31 L503.88 121.29 L505.08 121.26 L506.28 121.24 L507.48 121.22 L508.68 121.2 L509.88 121.18 L511.08 121.16 L512.28 121.14 L513.48 121.12 L514.68 121.09 L515.88 121.07 L517.08 121.05 L518.28 121.03 L519.48 121.01 L520.68 120.99 L521.88 120.97 L523.08 120.95 L524.28 120.93 L525.48 120.91 L526.68 120.89 L527.88 120.87 L529.09 120.85 L530.29 120.83 L531.49 120.81 L532.69 120.79 L533.89 120.77 L535.09 120.75 L536.29 120.73 L537.49 120.71 L538.69 120.69 L539.89 120.67 L541.09 120.65 L542.29 120.63 L543.49 120.61 L544.69 120.59 L545.89 120.57 L547.09 120.55 L548.29 120.53 L549.49 120.51 L550.69 120.49 L551.89 120.47 L553.09 120.46 L554.3 120.44 L555.5 120.42 L556.7 120.4 L557.9 120.38 L559.1 120.36 L560.3 120.34 L561.5 120.32 L562.7 120.3 L563.9 120.29 L565.1 120.27 L566.3 120.25" fill="none" stroke="#7E2F8E" stroke-width="3.0" stroke-linejoin="round"/>
<text class="tk" transform="translate(116.5 522.7) scale(0.96 1)" text-anchor="middle">0</text>
<text class="tk" transform="translate(206.46 522.7) scale(0.96 1)" text-anchor="middle">20</text>
<text class="tk" transform="translate(296.42 522.7) scale(0.96 1)" text-anchor="middle">40</text>
<text class="tk" transform="translate(386.38 522.7) scale(0.96 1)" text-anchor="middle">60</text>
<text class="tk" transform="translate(476.34 522.7) scale(0.96 1)" text-anchor="middle">80</text>
<text class="tk" transform="translate(566.3 522.7) scale(0.96 1)" text-anchor="middle">100</text>
<text class="tk" transform="translate(107.2 499.4) scale(0.96 1)" text-anchor="end">0</text>
<text class="tk" transform="translate(107.2 435.12) scale(0.96 1)" text-anchor="end">0.1</text>
<text class="tk" transform="translate(107.2 370.83) scale(0.96 1)" text-anchor="end">0.2</text>
<text class="tk" transform="translate(107.2 306.55) scale(0.96 1)" text-anchor="end">0.3</text>
<text class="tk" transform="translate(107.2 242.27) scale(0.96 1)" text-anchor="end">0.4</text>
<text class="tk" transform="translate(107.2 177.98) scale(0.96 1)" text-anchor="end">0.5</text>
<text class="tk" transform="translate(107.2 113.7) scale(0.96 1)" text-anchor="end">0.6</text>
<text class="mt th" font-size="34.47" font-style="italic" transform="translate(293.31 87.20) scale(1.3050 1)">m</text>
<text class="mt" font-size="35.20" transform="translate(334.13 90.10) scale(1.4052 1)">=</text>
<text class="mt" font-size="35.15" transform="translate(370.67 87.00) scale(0.9846 1)">1</text>
<text class="mt th" font-size="38.43" font-style="italic" transform="translate(334.08 559.12) scale(1.1129 1)">t</text>
<text class="mt th" font-size="36.49" font-style="italic" transform="translate(52.70 335.59) rotate(-90) scale(1.1547 1)">I</text>
<text class="mt th" font-size="23.88" font-style="italic" transform="translate(39.60 318.01) rotate(-90) scale(1.3457 1)">h</text>
<text class="mt" font-size="27.66" transform="translate(65.42 320.34) rotate(-90) scale(0.9925 1)">(</text>
<text class="mt th" font-size="23.88" font-style="italic" transform="translate(64.30 310.61) rotate(-90) scale(1.1361 1)">k</text>
<text class="mt" font-size="24.08" transform="translate(64.87 296.18) rotate(-90) scale(0.7476 1)">,</text>
<text class="mt th" font-size="23.83" font-style="italic" transform="translate(64.30 292.10) rotate(-90) scale(1.3389 1)">m</text>
<text class="mt" font-size="27.66" transform="translate(65.42 269.73) rotate(-90) scale(0.9267 1)">)</text>
<rect x="373.5" y="326.4" width="160.2" height="135.1" fill="#fff" stroke="#262626" stroke-width="1.3"/>
<line x1="379.7" y1="345.6" x2="446.1" y2="345.6" stroke="#0072BD" stroke-width="3.0"/>
<text class="mt th" font-size="27.05" font-style="italic" transform="translate(451.22 352.60) scale(1.0809 1)">k</text>
<text class="mt" font-size="27.20" transform="translate(471.40 355.14) scale(1.3994 1)">=</text>
<text class="mt" font-size="26.72" transform="translate(500.17 352.60) scale(1.0200 1)">2</text>
<line x1="379.7" y1="378.4" x2="446.1" y2="378.4" stroke="#D95319" stroke-width="3.0"/>
<text class="mt th" font-size="27.05" font-style="italic" transform="translate(451.22 385.00) scale(1.0809 1)">k</text>
<text class="mt" font-size="27.20" transform="translate(471.40 387.54) scale(1.3994 1)">=</text>
<text class="mt" font-size="26.62" transform="translate(499.84 384.73) scale(1.0174 1)">5</text>
<line x1="379.7" y1="411.2" x2="446.1" y2="411.2" stroke="#EDB120" stroke-width="3.0"/>
<text class="mt th" font-size="27.05" font-style="italic" transform="translate(451.22 417.60) scale(1.0809 1)">k</text>
<text class="mt" font-size="27.20" transform="translate(471.40 420.14) scale(1.3994 1)">=</text>
<text class="mt" font-size="26.22" transform="translate(499.69 417.34) scale(1.0068 1)">10</text>
<line x1="379.7" y1="442.5" x2="446.1" y2="442.5" stroke="#7E2F8E" stroke-width="3.0"/>
<text class="mt th" font-size="27.05" font-style="italic" transform="translate(451.22 449.40) scale(1.0809 1)">k</text>
<text class="mt" font-size="27.20" transform="translate(471.40 451.94) scale(1.3994 1)">=</text>
<text class="mt" font-size="26.42" transform="translate(499.68 449.14) scale(1.0022 1)">15</text>
<g stroke="#dfdfdf" stroke-width="1"><line x1="797.46" y1="104.5" x2="797.46" y2="490.2"/><line x1="887.42" y1="104.5" x2="887.42" y2="490.2"/><line x1="977.38" y1="104.5" x2="977.38" y2="490.2"/><line x1="1067.34" y1="104.5" x2="1067.34" y2="490.2"/><line x1="707.5" y1="425.92" x2="1157.3" y2="425.92"/><line x1="707.5" y1="361.63" x2="1157.3" y2="361.63"/><line x1="707.5" y1="297.35" x2="1157.3" y2="297.35"/><line x1="707.5" y1="233.07" x2="1157.3" y2="233.07"/><line x1="707.5" y1="168.78" x2="1157.3" y2="168.78"/></g>
<path d="M797.46 490.2v-4.5M797.46 104.5v4.5M887.42 490.2v-4.5M887.42 104.5v4.5M977.38 490.2v-4.5M977.38 104.5v4.5M1067.34 490.2v-4.5M1067.34 104.5v4.5M707.5 425.92h4.5M1157.3 425.92h-4.5M707.5 361.63h4.5M1157.3 361.63h-4.5M707.5 297.35h4.5M1157.3 297.35h-4.5M707.5 233.07h4.5M1157.3 233.07h-4.5M707.5 168.78h4.5M1157.3 168.78h-4.5" fill="none" stroke="#262626" stroke-width="1.3"/>
<rect x="707.5" y="104.5" width="449.8" height="385.7" fill="none" stroke="#262626" stroke-width="1.3"/>
<path d="M707.5 490.2 L707.58 488.51 L707.65 487.81 L707.73 487.28 L707.8 486.83 L707.88 486.43 L707.95 486.07 L708.03 485.74 L708.1 485.44 L708.18 485.15 L708.26 484.88 L708.33 484.63 L708.41 484.38 L708.48 484.15 L708.56 483.93 L708.63 483.71 L708.71 483.5 L708.79 483.3 L708.86 483.1 L708.94 482.91 L709.01 482.73 L709.09 482.55 L709.16 482.37 L709.24 482.2 L709.31 482.03 L709.39 481.87 L709.47 481.71 L709.54 481.55 L709.62 481.4 L709.69 481.25 L709.77 481.1 L709.84 480.96 L709.92 480.82 L709.99 480.68 L710.07 480.54 L710.15 480.4 L710.22 480.27 L710.3 480.14 L710.37 480.01 L710.45 479.88 L710.52 479.76 L710.6 479.64 L710.68 479.51 L710.75 479.39 L710.83 479.28 L710.9 479.16 L710.98 479.04 L711.05 478.93 L711.13 478.82 L711.2 478.71 L711.28 478.6 L711.36 478.49 L711.43 478.39 L711.51 478.28 L711.58 478.18 L711.66 478.07 L711.73 477.97 L711.81 477.87 L711.88 477.77 L711.96 477.67 L712.04 477.58 L712.11 477.48 L712.19 477.39 L712.26 477.29 L712.34 477.2 L712.41 477.11 L712.49 477.02 L712.56 476.93 L712.64 476.84 L712.72 476.75 L712.79 476.66 L712.87 476.58 L712.94 476.49 L713.02 476.41 L713.09 476.32 L713.17 476.24 L713.25 476.16 L713.32 476.08 L713.4 476 L713.47 475.92 L713.55 475.84 L713.62 475.76 L713.7 475.68 L713.77 475.61 L713.85 475.53 L713.93 475.45 L714 475.38 L714.08 475.31 L714.15 475.23 L714.23 475.16 L714.3 475.09 L714.38 475.02 L714.45 474.95 L714.53 474.88 L714.61 474.81 L714.68 474.74 L714.76 474.67 L714.83 474.6 L714.91 474.53 L714.98 474.47 L715.06 474.4 L715.14 474.34 L715.21 474.27 L715.29 474.21 L715.36 474.14 L715.44 474.08 L715.51 474.02 L715.59 473.95 L715.66 473.89 L715.74 473.83 L715.82 473.77 L715.89 473.71 L715.97 473.65 L716.04 473.59 L716.12 473.53 L716.19 473.47 L716.27 473.42 L716.34 473.36 L716.42 473.3 L716.5 473.24 L716.63 473.14 L716.94 472.92 L717.26 472.7 L717.57 472.48 L717.88 472.28 L718.19 472.07 L718.5 471.87 L718.82 471.68 L719.13 471.49 L719.44 471.3 L719.75 471.12 L720.06 470.94 L720.38 470.77 L720.69 470.59 L721 470.42 L721.31 470.25 L721.62 470.08 L721.94 469.92 L722.25 469.75 L722.56 469.59 L722.87 469.43 L723.18 469.27 L723.5 469.11 L723.81 468.95 L724.12 468.79 L724.43 468.63 L724.75 468.47 L725.06 468.31 L725.37 468.16 L725.68 468 L725.99 467.84 L726.31 467.68 L726.62 467.52 L726.93 467.36 L727.24 467.2 L727.55 467.04 L727.87 466.87 L728.18 466.71 L728.49 466.55 L728.8 466.38 L729.11 466.21 L729.43 466.05 L729.74 465.88 L730.05 465.71 L730.36 465.54 L730.67 465.37 L730.99 465.19 L731.3 465.02 L731.61 464.84 L731.92 464.66 L732.24 464.48 L732.55 464.3 L732.86 464.12 L733.17 463.94 L733.48 463.75 L733.8 463.56 L734.11 463.38 L734.42 463.18 L734.73 462.99 L735.04 462.8 L735.36 462.6 L735.67 462.41 L735.98 462.21 L736.29 462.01 L736.6 461.8 L736.92 461.6 L737.23 461.4 L737.54 461.19 L737.85 460.98 L738.16 460.77 L738.48 460.56 L738.79 460.35 L739.1 460.13 L739.41 459.92 L739.72 459.7 L740.04 459.48 L740.35 459.26 L740.66 459.04 L740.97 458.81 L741.29 458.59 L741.6 458.36 L741.91 458.14 L742.22 457.91 L742.53 457.68 L742.85 457.45 L743.16 457.21 L743.47 456.98 L743.78 456.75 L744.09 456.51 L744.41 456.27 L744.72 456.03 L745.03 455.8 L745.34 455.56 L745.65 455.31 L745.97 455.07 L746.28 454.83 L746.59 454.58 L746.9 454.34 L747.21 454.09 L747.53 453.85 L747.84 453.6 L748.15 453.35 L748.46 453.1 L748.78 452.85 L749.09 452.6 L749.4 452.35 L749.71 452.1 L750.02 451.85 L750.34 451.59 L750.65 451.34 L750.96 451.09 L751.27 450.83 L751.58 450.58 L751.9 450.32 L752.21 450.07 L752.52 449.81 L752.83 449.56 L753.14 449.3 L753.46 449.04 L753.77 448.78 L754.08 448.53 L754.39 448.27 L754.7 448.01 L755.02 447.75 L755.33 447.5 L755.64 447.24 L755.95 446.98 L756.27 446.72 L756.58 446.46 L756.89 446.2 L757.2 445.95 L757.51 445.69 L757.83 445.43 L758.14 445.17 L758.45 444.91 L758.76 444.66 L759.07 444.4 L759.39 444.14 L759.7 443.88 L760.01 443.63 L760.32 443.37 L760.63 443.11 L760.95 442.86 L761.26 442.6 L761.57 442.34 L761.88 442.09 L762.19 441.83 L762.51 441.58 L762.82 441.32 L763.13 441.07 L763.44 440.82 L763.76 440.56 L764.07 440.31 L764.38 440.06 L764.69 439.81 L765 439.56 L765.32 439.3 L765.63 439.05 L765.94 438.8 L766.25 438.55 L766.56 438.31 L766.88 438.06 L767.19 437.81 L767.5 437.56 L767.81 437.32 L768.12 437.07 L768.44 436.82 L768.75 436.58 L769.06 436.33 L769.37 436.09 L769.68 435.85 L770 435.61 L770.31 435.36 L770.62 435.12 L770.93 434.88 L771.25 434.64 L771.56 434.4 L771.87 434.17 L772.18 433.93 L772.49 433.69 L772.81 433.46 L773.12 433.22 L773.43 432.99 L773.74 432.75 L774.05 432.52 L774.37 432.29 L774.68 432.05 L774.99 431.82 L775.3 431.59 L775.61 431.36 L775.93 431.14 L776.24 430.91 L776.55 430.68 L776.86 430.46 L777.17 430.23 L777.49 430.01 L777.8 429.78 L778.11 429.56 L778.42 429.34 L778.74 429.12 L779.05 428.9 L779.36 428.68 L779.67 428.46 L779.98 428.24 L780.3 428.03 L780.61 427.81 L780.92 427.6 L781.23 427.38 L781.54 427.17 L781.86 426.96 L782.17 426.74 L782.48 426.53 L782.79 426.32 L783.1 426.12 L783.42 425.91 L783.73 425.7 L784.04 425.49 L784.35 425.29 L784.66 425.08 L784.98 424.88 L785.29 424.68 L785.6 424.48 L785.91 424.28 L786.23 424.08 L786.54 423.88 L786.85 423.68 L787.16 423.48 L787.47 423.29 L787.79 423.09 L788.1 422.9 L788.41 422.7 L788.72 422.51 L789.03 422.32 L789.35 422.13 L789.66 421.94 L789.97 421.75 L790.28 421.56 L790.59 421.37 L790.91 421.19 L791.22 421 L791.53 420.82 L791.84 420.63 L792.15 420.45 L792.47 420.27 L792.78 420.09 L793.09 419.91 L793.4 419.73 L793.72 419.55 L794.03 419.38 L794.34 419.2 L794.65 419.03 L794.96 418.85 L795.28 418.68 L795.59 418.51 L795.9 418.34 L796.21 418.16 L796.52 418 L796.84 417.83 L797.15 417.66 L797.46 417.49 L798.36 417.02 L799.56 416.4 L800.76 415.79 L801.96 415.2 L803.16 414.62 L804.36 414.05 L805.56 413.5 L806.76 412.97 L807.96 412.44 L809.16 411.93 L810.36 411.43 L811.56 410.95 L812.77 410.48 L813.97 410.02 L815.17 409.58 L816.37 409.15 L817.57 408.73 L818.77 408.32 L819.97 407.92 L821.17 407.54 L822.37 407.17 L823.57 406.8 L824.77 406.45 L825.97 406.11 L827.17 405.78 L828.37 405.47 L829.57 405.16 L830.77 404.86 L831.97 404.57 L833.17 404.29 L834.37 404.01 L835.57 403.75 L836.77 403.5 L837.98 403.25 L839.18 403.01 L840.38 402.78 L841.58 402.56 L842.78 402.34 L843.98 402.13 L845.18 401.93 L846.38 401.73 L847.58 401.54 L848.78 401.36 L849.98 401.18 L851.18 401 L852.38 400.83 L853.58 400.67 L854.78 400.51 L855.98 400.36 L857.18 400.21 L858.38 400.06 L859.58 399.92 L860.78 399.78 L861.98 399.64 L863.18 399.51 L864.39 399.38 L865.59 399.26 L866.79 399.13 L867.99 399.01 L869.19 398.89 L870.39 398.78 L871.59 398.67 L872.79 398.56 L873.99 398.45 L875.19 398.34 L876.39 398.24 L877.59 398.14 L878.79 398.04 L879.99 397.94 L881.19 397.85 L882.39 397.75 L883.59 397.66 L884.79 397.57 L885.99 397.48 L887.19 397.4 L888.39 397.31 L889.6 397.23 L890.8 397.14 L892 397.06 L893.2 396.98 L894.4 396.91 L895.6 396.83 L896.8 396.76 L898 396.68 L899.2 396.61 L900.4 396.54 L901.6 396.47 L902.8 396.4 L904 396.33 L905.2 396.27 L906.4 396.2 L907.6 396.14 L908.8 396.08 L910 396.02 L911.2 395.96 L912.4 395.9 L913.6 395.84 L914.81 395.78 L916.01 395.73 L917.21 395.67 L918.41 395.62 L919.61 395.57 L920.81 395.52 L922.01 395.47 L923.21 395.42 L924.41 395.37 L925.61 395.32 L926.81 395.27 L928.01 395.22 L929.21 395.18 L930.41 395.13 L931.61 395.09 L932.81 395.05 L934.01 395 L935.21 394.96 L936.41 394.92 L937.61 394.88 L938.81 394.84 L940.02 394.8 L941.22 394.77 L942.42 394.73 L943.62 394.69 L944.82 394.65 L946.02 394.62 L947.22 394.58 L948.42 394.55 L949.62 394.51 L950.82 394.48 L952.02 394.45 L953.22 394.42 L954.42 394.38 L955.62 394.35 L956.82 394.32 L958.02 394.29 L959.22 394.26 L960.42 394.23 L961.62 394.2 L962.82 394.17 L964.02 394.14 L965.22 394.12 L966.43 394.09 L967.63 394.06 L968.83 394.03 L970.03 394.01 L971.23 393.98 L972.43 393.96 L973.63 393.93 L974.83 393.9 L976.03 393.88 L977.23 393.85 L978.43 393.83 L979.63 393.81 L980.83 393.78 L982.03 393.76 L983.23 393.74 L984.43 393.71 L985.63 393.69 L986.83 393.67 L988.03 393.65 L989.23 393.62 L990.43 393.6 L991.64 393.58 L992.84 393.56 L994.04 393.54 L995.24 393.52 L996.44 393.5 L997.64 393.48 L998.84 393.46 L1000.04 393.44 L1001.24 393.42 L1002.44 393.4 L1003.64 393.38 L1004.84 393.36 L1006.04 393.34 L1007.24 393.33 L1008.44 393.31 L1009.64 393.29 L1010.84 393.27 L1012.04 393.25 L1013.24 393.24 L1014.44 393.22 L1015.64 393.2 L1016.85 393.18 L1018.05 393.17 L1019.25 393.15 L1020.45 393.13 L1021.65 393.12 L1022.85 393.1 L1024.05 393.09 L1025.25 393.07 L1026.45 393.05 L1027.65 393.04 L1028.85 393.02 L1030.05 393.01 L1031.25 392.99 L1032.45 392.98 L1033.65 392.96 L1034.85 392.95 L1036.05 392.93 L1037.25 392.92 L1038.45 392.9 L1039.65 392.89 L1040.85 392.87 L1042.05 392.86 L1043.26 392.84 L1044.46 392.83 L1045.66 392.82 L1046.86 392.8 L1048.06 392.79 L1049.26 392.77 L1050.46 392.76 L1051.66 392.75 L1052.86 392.73 L1054.06 392.72 L1055.26 392.71 L1056.46 392.69 L1057.66 392.68 L1058.86 392.67 L1060.06 392.66 L1061.26 392.64 L1062.46 392.63 L1063.66 392.62 L1064.86 392.61 L1066.06 392.59 L1067.26 392.58 L1068.47 392.57 L1069.67 392.56 L1070.87 392.55 L1072.07 392.53 L1073.27 392.52 L1074.47 392.51 L1075.67 392.5 L1076.87 392.49 L1078.07 392.48 L1079.27 392.46 L1080.47 392.45 L1081.67 392.44 L1082.87 392.43 L1084.07 392.42 L1085.27 392.41 L1086.47 392.4 L1087.67 392.39 L1088.87 392.38 L1090.07 392.36 L1091.27 392.35 L1092.47 392.34 L1093.68 392.33 L1094.88 392.32 L1096.08 392.31 L1097.28 392.3 L1098.48 392.29 L1099.68 392.28 L1100.88 392.27 L1102.08 392.26 L1103.28 392.25 L1104.48 392.24 L1105.68 392.23 L1106.88 392.22 L1108.08 392.21 L1109.28 392.2 L1110.48 392.19 L1111.68 392.18 L1112.88 392.17 L1114.08 392.16 L1115.28 392.15 L1116.48 392.15 L1117.68 392.14 L1118.88 392.13 L1120.09 392.12 L1121.29 392.11 L1122.49 392.1 L1123.69 392.09 L1124.89 392.08 L1126.09 392.07 L1127.29 392.06 L1128.49 392.05 L1129.69 392.04 L1130.89 392.04 L1132.09 392.03 L1133.29 392.02 L1134.49 392.01 L1135.69 392 L1136.89 391.99 L1138.09 391.98 L1139.29 391.97 L1140.49 391.96 L1141.69 391.96 L1142.89 391.95 L1144.09 391.94 L1145.3 391.93 L1146.5 391.92 L1147.7 391.91 L1148.9 391.9 L1150.1 391.89 L1151.3 391.89 L1152.5 391.88 L1153.7 391.87 L1154.9 391.86 L1156.1 391.85 L1157.3 391.84" fill="none" stroke="#0072BD" stroke-width="3.0" stroke-linejoin="round"/>
<path d="M707.5 490.2 L707.58 488.75 L707.65 488.15 L707.73 487.68 L707.8 487.28 L707.88 486.92 L707.95 486.6 L708.03 486.3 L708.1 486.01 L708.18 485.75 L708.26 485.49 L708.33 485.25 L708.41 485.01 L708.48 484.78 L708.56 484.56 L708.63 484.35 L708.71 484.14 L708.79 483.93 L708.86 483.73 L708.94 483.54 L709.01 483.34 L709.09 483.15 L709.16 482.97 L709.24 482.78 L709.31 482.6 L709.39 482.42 L709.47 482.24 L709.54 482.07 L709.62 481.9 L709.69 481.73 L709.77 481.56 L709.84 481.39 L709.92 481.22 L709.99 481.06 L710.07 480.89 L710.15 480.73 L710.22 480.57 L710.3 480.41 L710.37 480.25 L710.45 480.09 L710.52 479.94 L710.6 479.78 L710.68 479.63 L710.75 479.47 L710.83 479.32 L710.9 479.17 L710.98 479.02 L711.05 478.87 L711.13 478.72 L711.2 478.57 L711.28 478.42 L711.36 478.27 L711.43 478.13 L711.51 477.98 L711.58 477.84 L711.66 477.69 L711.73 477.55 L711.81 477.4 L711.88 477.26 L711.96 477.12 L712.04 476.98 L712.11 476.84 L712.19 476.7 L712.26 476.56 L712.34 476.42 L712.41 476.28 L712.49 476.15 L712.56 476.01 L712.64 475.87 L712.72 475.74 L712.79 475.6 L712.87 475.47 L712.94 475.33 L713.02 475.2 L713.09 475.07 L713.17 474.94 L713.25 474.8 L713.32 474.67 L713.4 474.54 L713.47 474.41 L713.55 474.28 L713.62 474.15 L713.7 474.02 L713.77 473.9 L713.85 473.77 L713.93 473.64 L714 473.52 L714.08 473.39 L714.15 473.27 L714.23 473.14 L714.3 473.02 L714.38 472.89 L714.45 472.77 L714.53 472.65 L714.61 472.52 L714.68 472.4 L714.76 472.28 L714.83 472.16 L714.91 472.04 L714.98 471.92 L715.06 471.8 L715.14 471.68 L715.21 471.57 L715.29 471.45 L715.36 471.33 L715.44 471.22 L715.51 471.1 L715.59 470.98 L715.66 470.87 L715.74 470.75 L715.82 470.64 L715.89 470.53 L715.97 470.41 L716.04 470.3 L716.12 470.19 L716.19 470.08 L716.27 469.97 L716.34 469.86 L716.42 469.75 L716.5 469.64 L716.63 469.44 L716.94 468.99 L717.26 468.55 L717.57 468.12 L717.88 467.69 L718.19 467.26 L718.5 466.84 L718.82 466.42 L719.13 466 L719.44 465.59 L719.75 465.18 L720.06 464.77 L720.38 464.36 L720.69 463.96 L721 463.55 L721.31 463.15 L721.62 462.75 L721.94 462.35 L722.25 461.95 L722.56 461.55 L722.87 461.14 L723.18 460.74 L723.5 460.34 L723.81 459.94 L724.12 459.54 L724.43 459.14 L724.75 458.73 L725.06 458.33 L725.37 457.92 L725.68 457.52 L725.99 457.11 L726.31 456.7 L726.62 456.29 L726.93 455.88 L727.24 455.46 L727.55 455.05 L727.87 454.63 L728.18 454.21 L728.49 453.78 L728.8 453.36 L729.11 452.93 L729.43 452.5 L729.74 452.07 L730.05 451.63 L730.36 451.19 L730.67 450.75 L730.99 450.31 L731.3 449.86 L731.61 449.41 L731.92 448.95 L732.24 448.5 L732.55 448.04 L732.86 447.57 L733.17 447.11 L733.48 446.64 L733.8 446.16 L734.11 445.69 L734.42 445.2 L734.73 444.72 L735.04 444.23 L735.36 443.74 L735.67 443.24 L735.98 442.75 L736.29 442.24 L736.6 441.73 L736.92 441.22 L737.23 440.71 L737.54 440.19 L737.85 439.67 L738.16 439.14 L738.48 438.61 L738.79 438.07 L739.1 437.53 L739.41 436.99 L739.72 436.44 L740.04 435.89 L740.35 435.33 L740.66 434.77 L740.97 434.21 L741.29 433.64 L741.6 433.07 L741.91 432.49 L742.22 431.91 L742.53 431.33 L742.85 430.74 L743.16 430.15 L743.47 429.56 L743.78 428.96 L744.09 428.36 L744.41 427.75 L744.72 427.14 L745.03 426.53 L745.34 425.92 L745.65 425.3 L745.97 424.68 L746.28 424.05 L746.59 423.42 L746.9 422.79 L747.21 422.16 L747.53 421.52 L747.84 420.88 L748.15 420.24 L748.46 419.6 L748.78 418.95 L749.09 418.3 L749.4 417.65 L749.71 417 L750.02 416.34 L750.34 415.69 L750.65 415.03 L750.96 414.37 L751.27 413.7 L751.58 413.04 L751.9 412.37 L752.21 411.7 L752.52 411.04 L752.83 410.37 L753.14 409.69 L753.46 409.02 L753.77 408.35 L754.08 407.68 L754.39 407 L754.7 406.33 L755.02 405.65 L755.33 404.98 L755.64 404.3 L755.95 403.63 L756.27 402.95 L756.58 402.28 L756.89 401.61 L757.2 400.93 L757.51 400.26 L757.83 399.59 L758.14 398.92 L758.45 398.25 L758.76 397.58 L759.07 396.91 L759.39 396.25 L759.7 395.58 L760.01 394.92 L760.32 394.26 L760.63 393.6 L760.95 392.94 L761.26 392.28 L761.57 391.62 L761.88 390.97 L762.19 390.32 L762.51 389.67 L762.82 389.02 L763.13 388.38 L763.44 387.73 L763.76 387.09 L764.07 386.45 L764.38 385.82 L764.69 385.18 L765 384.55 L765.32 383.92 L765.63 383.3 L765.94 382.67 L766.25 382.05 L766.56 381.43 L766.88 380.81 L767.19 380.2 L767.5 379.59 L767.81 378.98 L768.12 378.38 L768.44 377.78 L768.75 377.18 L769.06 376.58 L769.37 375.99 L769.68 375.4 L770 374.81 L770.31 374.22 L770.62 373.64 L770.93 373.06 L771.25 372.49 L771.56 371.92 L771.87 371.35 L772.18 370.78 L772.49 370.22 L772.81 369.66 L773.12 369.1 L773.43 368.55 L773.74 368 L774.05 367.45 L774.37 366.91 L774.68 366.37 L774.99 365.83 L775.3 365.3 L775.61 364.77 L775.93 364.24 L776.24 363.72 L776.55 363.19 L776.86 362.68 L777.17 362.16 L777.49 361.65 L777.8 361.15 L778.11 360.64 L778.42 360.14 L778.74 359.64 L779.05 359.15 L779.36 358.66 L779.67 358.17 L779.98 357.69 L780.3 357.21 L780.61 356.73 L780.92 356.25 L781.23 355.78 L781.54 355.32 L781.86 354.85 L782.17 354.39 L782.48 353.93 L782.79 353.48 L783.1 353.03 L783.42 352.58 L783.73 352.13 L784.04 351.69 L784.35 351.26 L784.66 350.82 L784.98 350.39 L785.29 349.96 L785.6 349.54 L785.91 349.11 L786.23 348.7 L786.54 348.28 L786.85 347.87 L787.16 347.46 L787.47 347.05 L787.79 346.65 L788.1 346.25 L788.41 345.85 L788.72 345.46 L789.03 345.07 L789.35 344.68 L789.66 344.3 L789.97 343.92 L790.28 343.54 L790.59 343.17 L790.91 342.79 L791.22 342.43 L791.53 342.06 L791.84 341.7 L792.15 341.34 L792.47 340.98 L792.78 340.63 L793.09 340.28 L793.4 339.93 L793.72 339.58 L794.03 339.24 L794.34 338.9 L794.65 338.56 L794.96 338.23 L795.28 337.9 L795.59 337.57 L795.9 337.25 L796.21 336.92 L796.52 336.6 L796.84 336.29 L797.15 335.97 L797.46 335.66 L798.36 334.78 L799.56 333.63 L800.76 332.53 L801.96 331.46 L803.16 330.43 L804.36 329.43 L805.56 328.46 L806.76 327.53 L807.96 326.63 L809.16 325.76 L810.36 324.92 L811.56 324.11 L812.77 323.33 L813.97 322.57 L815.17 321.84 L816.37 321.14 L817.57 320.46 L818.77 319.8 L819.97 319.16 L821.17 318.54 L822.37 317.94 L823.57 317.37 L824.77 316.81 L825.97 316.27 L827.17 315.74 L828.37 315.23 L829.57 314.74 L830.77 314.26 L831.97 313.8 L833.17 313.35 L834.37 312.91 L835.57 312.48 L836.77 312.07 L837.98 311.66 L839.18 311.27 L840.38 310.89 L841.58 310.52 L842.78 310.15 L843.98 309.8 L845.18 309.46 L846.38 309.12 L847.58 308.79 L848.78 308.47 L849.98 308.16 L851.18 307.86 L852.38 307.56 L853.58 307.27 L854.78 306.99 L855.98 306.71 L857.18 306.44 L858.38 306.18 L859.58 305.92 L860.78 305.66 L861.98 305.42 L863.18 305.17 L864.39 304.94 L865.59 304.71 L866.79 304.48 L867.99 304.26 L869.19 304.04 L870.39 303.82 L871.59 303.61 L872.79 303.41 L873.99 303.21 L875.19 303.01 L876.39 302.82 L877.59 302.63 L878.79 302.44 L879.99 302.26 L881.19 302.08 L882.39 301.91 L883.59 301.73 L884.79 301.57 L885.99 301.4 L887.19 301.24 L888.39 301.08 L889.6 300.92 L890.8 300.77 L892 300.62 L893.2 300.47 L894.4 300.32 L895.6 300.18 L896.8 300.04 L898 299.9 L899.2 299.77 L900.4 299.63 L901.6 299.5 L902.8 299.37 L904 299.25 L905.2 299.12 L906.4 299 L907.6 298.88 L908.8 298.77 L910 298.65 L911.2 298.54 L912.4 298.42 L913.6 298.32 L914.81 298.21 L916.01 298.1 L917.21 298 L918.41 297.89 L919.61 297.79 L920.81 297.69 L922.01 297.6 L923.21 297.5 L924.41 297.41 L925.61 297.31 L926.81 297.22 L928.01 297.13 L929.21 297.04 L930.41 296.96 L931.61 296.87 L932.81 296.79 L934.01 296.71 L935.21 296.62 L936.41 296.54 L937.61 296.46 L938.81 296.39 L940.02 296.31 L941.22 296.23 L942.42 296.16 L943.62 296.09 L944.82 296.01 L946.02 295.94 L947.22 295.87 L948.42 295.8 L949.62 295.74 L950.82 295.67 L952.02 295.6 L953.22 295.54 L954.42 295.47 L955.62 295.41 L956.82 295.35 L958.02 295.29 L959.22 295.23 L960.42 295.16 L961.62 295.11 L962.82 295.05 L964.02 294.99 L965.22 294.93 L966.43 294.88 L967.63 294.82 L968.83 294.77 L970.03 294.71 L971.23 294.66 L972.43 294.61 L973.63 294.55 L974.83 294.5 L976.03 294.45 L977.23 294.4 L978.43 294.35 L979.63 294.3 L980.83 294.25 L982.03 294.21 L983.23 294.16 L984.43 294.11 L985.63 294.07 L986.83 294.02 L988.03 293.97 L989.23 293.93 L990.43 293.89 L991.64 293.84 L992.84 293.8 L994.04 293.76 L995.24 293.71 L996.44 293.67 L997.64 293.63 L998.84 293.59 L1000.04 293.55 L1001.24 293.51 L1002.44 293.47 L1003.64 293.43 L1004.84 293.39 L1006.04 293.35 L1007.24 293.31 L1008.44 293.28 L1009.64 293.24 L1010.84 293.2 L1012.04 293.17 L1013.24 293.13 L1014.44 293.09 L1015.64 293.06 L1016.85 293.02 L1018.05 292.99 L1019.25 292.96 L1020.45 292.92 L1021.65 292.89 L1022.85 292.85 L1024.05 292.82 L1025.25 292.79 L1026.45 292.76 L1027.65 292.73 L1028.85 292.69 L1030.05 292.66 L1031.25 292.63 L1032.45 292.6 L1033.65 292.57 L1034.85 292.54 L1036.05 292.51 L1037.25 292.48 L1038.45 292.45 L1039.65 292.42 L1040.85 292.39 L1042.05 292.37 L1043.26 292.34 L1044.46 292.31 L1045.66 292.28 L1046.86 292.25 L1048.06 292.23 L1049.26 292.2 L1050.46 292.17 L1051.66 292.15 L1052.86 292.12 L1054.06 292.1 L1055.26 292.07 L1056.46 292.05 L1057.66 292.02 L1058.86 292 L1060.06 291.97 L1061.26 291.95 L1062.46 291.92 L1063.66 291.9 L1064.86 291.88 L1066.06 291.85 L1067.26 291.83 L1068.47 291.81 L1069.67 291.78 L1070.87 291.76 L1072.07 291.74 L1073.27 291.72 L1074.47 291.69 L1075.67 291.67 L1076.87 291.65 L1078.07 291.63 L1079.27 291.61 L1080.47 291.59 L1081.67 291.56 L1082.87 291.54 L1084.07 291.52 L1085.27 291.5 L1086.47 291.48 L1087.67 291.46 L1088.87 291.44 L1090.07 291.42 L1091.27 291.4 L1092.47 291.38 L1093.68 291.36 L1094.88 291.35 L1096.08 291.33 L1097.28 291.31 L1098.48 291.29 L1099.68 291.27 L1100.88 291.25 L1102.08 291.23 L1103.28 291.22 L1104.48 291.2 L1105.68 291.18 L1106.88 291.16 L1108.08 291.14 L1109.28 291.13 L1110.48 291.11 L1111.68 291.09 L1112.88 291.08 L1114.08 291.06 L1115.28 291.04 L1116.48 291.02 L1117.68 291.01 L1118.88 290.99 L1120.09 290.98 L1121.29 290.96 L1122.49 290.94 L1123.69 290.93 L1124.89 290.91 L1126.09 290.89 L1127.29 290.88 L1128.49 290.86 L1129.69 290.85 L1130.89 290.83 L1132.09 290.82 L1133.29 290.8 L1134.49 290.79 L1135.69 290.77 L1136.89 290.76 L1138.09 290.74 L1139.29 290.73 L1140.49 290.71 L1141.69 290.7 L1142.89 290.68 L1144.09 290.67 L1145.3 290.65 L1146.5 290.64 L1147.7 290.62 L1148.9 290.61 L1150.1 290.59 L1151.3 290.58 L1152.5 290.56 L1153.7 290.55 L1154.9 290.54 L1156.1 290.52 L1157.3 290.51" fill="none" stroke="#D95319" stroke-width="3.0" stroke-linejoin="round"/>
<path d="M707.5 490.2 L707.58 488.72 L707.65 488.09 L707.73 487.6 L707.8 487.18 L707.88 486.8 L707.95 486.46 L708.03 486.13 L708.1 485.82 L708.18 485.53 L708.26 485.24 L708.33 484.97 L708.41 484.7 L708.48 484.44 L708.56 484.19 L708.63 483.94 L708.71 483.7 L708.79 483.46 L708.86 483.22 L708.94 482.99 L709.01 482.76 L709.09 482.53 L709.16 482.3 L709.24 482.08 L709.31 481.86 L709.39 481.64 L709.47 481.42 L709.54 481.2 L709.62 480.98 L709.69 480.77 L709.77 480.56 L709.84 480.34 L709.92 480.13 L709.99 479.92 L710.07 479.71 L710.15 479.5 L710.22 479.29 L710.3 479.08 L710.37 478.87 L710.45 478.66 L710.52 478.45 L710.6 478.24 L710.68 478.04 L710.75 477.83 L710.83 477.63 L710.9 477.42 L710.98 477.22 L711.05 477.01 L711.13 476.81 L711.2 476.6 L711.28 476.4 L711.36 476.2 L711.43 475.99 L711.51 475.79 L711.58 475.59 L711.66 475.39 L711.73 475.19 L711.81 474.99 L711.88 474.79 L711.96 474.59 L712.04 474.39 L712.11 474.19 L712.19 473.99 L712.26 473.79 L712.34 473.59 L712.41 473.39 L712.49 473.19 L712.56 473 L712.64 472.8 L712.72 472.6 L712.79 472.41 L712.87 472.21 L712.94 472.01 L713.02 471.82 L713.09 471.62 L713.17 471.43 L713.25 471.23 L713.32 471.04 L713.4 470.84 L713.47 470.65 L713.55 470.46 L713.62 470.26 L713.7 470.07 L713.77 469.87 L713.85 469.68 L713.93 469.49 L714 469.3 L714.08 469.1 L714.15 468.91 L714.23 468.72 L714.3 468.53 L714.38 468.34 L714.45 468.15 L714.53 467.96 L714.61 467.76 L714.68 467.57 L714.76 467.38 L714.83 467.19 L714.91 467 L714.98 466.81 L715.06 466.62 L715.14 466.43 L715.21 466.24 L715.29 466.05 L715.36 465.87 L715.44 465.68 L715.51 465.49 L715.59 465.3 L715.66 465.11 L715.74 464.92 L715.82 464.73 L715.89 464.55 L715.97 464.36 L716.04 464.17 L716.12 463.98 L716.19 463.79 L716.27 463.61 L716.34 463.42 L716.42 463.23 L716.5 463.05 L716.63 462.71 L716.94 461.94 L717.26 461.17 L717.57 460.41 L717.88 459.64 L718.19 458.88 L718.5 458.11 L718.82 457.35 L719.13 456.58 L719.44 455.82 L719.75 455.05 L720.06 454.28 L720.38 453.51 L720.69 452.74 L721 451.96 L721.31 451.18 L721.62 450.4 L721.94 449.62 L722.25 448.83 L722.56 448.04 L722.87 447.24 L723.18 446.44 L723.5 445.63 L723.81 444.82 L724.12 444.01 L724.43 443.19 L724.75 442.36 L725.06 441.52 L725.37 440.69 L725.68 439.84 L725.99 438.99 L726.31 438.13 L726.62 437.26 L726.93 436.39 L727.24 435.51 L727.55 434.63 L727.87 433.73 L728.18 432.83 L728.49 431.92 L728.8 431 L729.11 430.08 L729.43 429.15 L729.74 428.21 L730.05 427.26 L730.36 426.31 L730.67 425.34 L730.99 424.37 L731.3 423.39 L731.61 422.41 L731.92 421.41 L732.24 420.41 L732.55 419.4 L732.86 418.38 L733.17 417.36 L733.48 416.33 L733.8 415.29 L734.11 414.25 L734.42 413.19 L734.73 412.14 L735.04 411.07 L735.36 410 L735.67 408.93 L735.98 407.85 L736.29 406.76 L736.6 405.67 L736.92 404.57 L737.23 403.47 L737.54 402.37 L737.85 401.26 L738.16 400.15 L738.48 399.04 L738.79 397.92 L739.1 396.8 L739.41 395.68 L739.72 394.56 L740.04 393.43 L740.35 392.3 L740.66 391.17 L740.97 390.04 L741.29 388.91 L741.6 387.78 L741.91 386.65 L742.22 385.51 L742.53 384.38 L742.85 383.25 L743.16 382.11 L743.47 380.98 L743.78 379.85 L744.09 378.71 L744.41 377.58 L744.72 376.45 L745.03 375.32 L745.34 374.19 L745.65 373.06 L745.97 371.94 L746.28 370.81 L746.59 369.69 L746.9 368.57 L747.21 367.45 L747.53 366.33 L747.84 365.21 L748.15 364.1 L748.46 362.99 L748.78 361.88 L749.09 360.77 L749.4 359.67 L749.71 358.57 L750.02 357.47 L750.34 356.37 L750.65 355.28 L750.96 354.19 L751.27 353.1 L751.58 352.02 L751.9 350.94 L752.21 349.86 L752.52 348.79 L752.83 347.72 L753.14 346.65 L753.46 345.59 L753.77 344.53 L754.08 343.47 L754.39 342.42 L754.7 341.37 L755.02 340.32 L755.33 339.28 L755.64 338.25 L755.95 337.21 L756.27 336.18 L756.58 335.16 L756.89 334.14 L757.2 333.12 L757.51 332.11 L757.83 331.1 L758.14 330.09 L758.45 329.09 L758.76 328.1 L759.07 327.1 L759.39 326.12 L759.7 325.13 L760.01 324.16 L760.32 323.18 L760.63 322.21 L760.95 321.25 L761.26 320.29 L761.57 319.33 L761.88 318.38 L762.19 317.43 L762.51 316.49 L762.82 315.55 L763.13 314.62 L763.44 313.69 L763.76 312.77 L764.07 311.85 L764.38 310.93 L764.69 310.03 L765 309.12 L765.32 308.22 L765.63 307.33 L765.94 306.44 L766.25 305.55 L766.56 304.67 L766.88 303.79 L767.19 302.92 L767.5 302.06 L767.81 301.2 L768.12 300.34 L768.44 299.49 L768.75 298.64 L769.06 297.8 L769.37 296.96 L769.68 296.13 L770 295.3 L770.31 294.48 L770.62 293.66 L770.93 292.85 L771.25 292.04 L771.56 291.24 L771.87 290.44 L772.18 289.65 L772.49 288.86 L772.81 288.08 L773.12 287.3 L773.43 286.53 L773.74 285.76 L774.05 284.99 L774.37 284.24 L774.68 283.48 L774.99 282.73 L775.3 281.99 L775.61 281.25 L775.93 280.51 L776.24 279.79 L776.55 279.06 L776.86 278.34 L777.17 277.63 L777.49 276.92 L777.8 276.21 L778.11 275.51 L778.42 274.81 L778.74 274.12 L779.05 273.44 L779.36 272.75 L779.67 272.08 L779.98 271.4 L780.3 270.74 L780.61 270.07 L780.92 269.42 L781.23 268.76 L781.54 268.12 L781.86 267.47 L782.17 266.83 L782.48 266.2 L782.79 265.57 L783.1 264.94 L783.42 264.32 L783.73 263.71 L784.04 263.1 L784.35 262.49 L784.66 261.89 L784.98 261.29 L785.29 260.7 L785.6 260.11 L785.91 259.52 L786.23 258.94 L786.54 258.37 L786.85 257.8 L787.16 257.23 L787.47 256.67 L787.79 256.11 L788.1 255.56 L788.41 255.01 L788.72 254.47 L789.03 253.93 L789.35 253.39 L789.66 252.86 L789.97 252.34 L790.28 251.81 L790.59 251.29 L790.91 250.78 L791.22 250.27 L791.53 249.77 L791.84 249.26 L792.15 248.77 L792.47 248.27 L792.78 247.79 L793.09 247.3 L793.4 246.82 L793.72 246.34 L794.03 245.87 L794.34 245.4 L794.65 244.94 L794.96 244.48 L795.28 244.02 L795.59 243.57 L795.9 243.12 L796.21 242.68 L796.52 242.24 L796.84 241.8 L797.15 241.37 L797.46 240.94 L798.36 239.73 L799.56 238.15 L800.76 236.63 L801.96 235.17 L803.16 233.76 L804.36 232.39 L805.56 231.08 L806.76 229.81 L807.96 228.59 L809.16 227.42 L810.36 226.29 L811.56 225.2 L812.77 224.15 L813.97 223.14 L815.17 222.17 L816.37 221.23 L817.57 220.33 L818.77 219.47 L819.97 218.63 L821.17 217.83 L822.37 217.06 L823.57 216.31 L824.77 215.6 L825.97 214.9 L827.17 214.24 L828.37 213.6 L829.57 212.98 L830.77 212.38 L831.97 211.8 L833.17 211.24 L834.37 210.7 L835.57 210.18 L836.77 209.68 L837.98 209.19 L839.18 208.72 L840.38 208.26 L841.58 207.81 L842.78 207.38 L843.98 206.96 L845.18 206.55 L846.38 206.16 L847.58 205.77 L848.78 205.4 L849.98 205.03 L851.18 204.68 L852.38 204.34 L853.58 204 L854.78 203.67 L855.98 203.35 L857.18 203.04 L858.38 202.74 L859.58 202.44 L860.78 202.15 L861.98 201.87 L863.18 201.59 L864.39 201.32 L865.59 201.06 L866.79 200.8 L867.99 200.54 L869.19 200.29 L870.39 200.05 L871.59 199.81 L872.79 199.58 L873.99 199.35 L875.19 199.12 L876.39 198.9 L877.59 198.69 L878.79 198.47 L879.99 198.27 L881.19 198.06 L882.39 197.86 L883.59 197.66 L884.79 197.47 L885.99 197.28 L887.19 197.09 L888.39 196.9 L889.6 196.72 L890.8 196.55 L892 196.37 L893.2 196.2 L894.4 196.03 L895.6 195.86 L896.8 195.7 L898 195.54 L899.2 195.38 L900.4 195.22 L901.6 195.07 L902.8 194.92 L904 194.77 L905.2 194.63 L906.4 194.48 L907.6 194.34 L908.8 194.2 L910 194.07 L911.2 193.93 L912.4 193.8 L913.6 193.67 L914.81 193.55 L916.01 193.42 L917.21 193.3 L918.41 193.18 L919.61 193.06 L920.81 192.94 L922.01 192.83 L923.21 192.71 L924.41 192.6 L925.61 192.49 L926.81 192.39 L928.01 192.28 L929.21 192.18 L930.41 192.08 L931.61 191.98 L932.81 191.88 L934.01 191.78 L935.21 191.69 L936.41 191.6 L937.61 191.5 L938.81 191.41 L940.02 191.33 L941.22 191.24 L942.42 191.16 L943.62 191.07 L944.82 190.99 L946.02 190.91 L947.22 190.83 L948.42 190.75 L949.62 190.68 L950.82 190.6 L952.02 190.53 L953.22 190.46 L954.42 190.38 L955.62 190.31 L956.82 190.25 L958.02 190.18 L959.22 190.11 L960.42 190.05 L961.62 189.98 L962.82 189.92 L964.02 189.86 L965.22 189.8 L966.43 189.74 L967.63 189.68 L968.83 189.62 L970.03 189.56 L971.23 189.5 L972.43 189.45 L973.63 189.39 L974.83 189.34 L976.03 189.29 L977.23 189.24 L978.43 189.18 L979.63 189.13 L980.83 189.08 L982.03 189.03 L983.23 188.99 L984.43 188.94 L985.63 188.89 L986.83 188.84 L988.03 188.8 L989.23 188.75 L990.43 188.71 L991.64 188.67 L992.84 188.62 L994.04 188.58 L995.24 188.54 L996.44 188.5 L997.64 188.45 L998.84 188.41 L1000.04 188.37 L1001.24 188.33 L1002.44 188.29 L1003.64 188.26 L1004.84 188.22 L1006.04 188.18 L1007.24 188.14 L1008.44 188.11 L1009.64 188.07 L1010.84 188.04 L1012.04 188 L1013.24 187.96 L1014.44 187.93 L1015.64 187.9 L1016.85 187.86 L1018.05 187.83 L1019.25 187.8 L1020.45 187.76 L1021.65 187.73 L1022.85 187.7 L1024.05 187.67 L1025.25 187.64 L1026.45 187.61 L1027.65 187.58 L1028.85 187.55 L1030.05 187.52 L1031.25 187.49 L1032.45 187.46 L1033.65 187.43 L1034.85 187.4 L1036.05 187.37 L1037.25 187.34 L1038.45 187.32 L1039.65 187.29 L1040.85 187.26 L1042.05 187.24 L1043.26 187.21 L1044.46 187.18 L1045.66 187.16 L1046.86 187.13 L1048.06 187.11 L1049.26 187.08 L1050.46 187.06 L1051.66 187.03 L1052.86 187.01 L1054.06 186.98 L1055.26 186.96 L1056.46 186.94 L1057.66 186.91 L1058.86 186.89 L1060.06 186.87 L1061.26 186.84 L1062.46 186.82 L1063.66 186.8 L1064.86 186.78 L1066.06 186.75 L1067.26 186.73 L1068.47 186.71 L1069.67 186.69 L1070.87 186.67 L1072.07 186.65 L1073.27 186.62 L1074.47 186.6 L1075.67 186.58 L1076.87 186.56 L1078.07 186.54 L1079.27 186.52 L1080.47 186.5 L1081.67 186.48 L1082.87 186.46 L1084.07 186.44 L1085.27 186.42 L1086.47 186.41 L1087.67 186.39 L1088.87 186.37 L1090.07 186.35 L1091.27 186.33 L1092.47 186.31 L1093.68 186.29 L1094.88 186.28 L1096.08 186.26 L1097.28 186.24 L1098.48 186.22 L1099.68 186.2 L1100.88 186.19 L1102.08 186.17 L1103.28 186.15 L1104.48 186.14 L1105.68 186.12 L1106.88 186.1 L1108.08 186.09 L1109.28 186.07 L1110.48 186.05 L1111.68 186.04 L1112.88 186.02 L1114.08 186 L1115.28 185.99 L1116.48 185.97 L1117.68 185.96 L1118.88 185.94 L1120.09 185.92 L1121.29 185.91 L1122.49 185.89 L1123.69 185.88 L1124.89 185.86 L1126.09 185.85 L1127.29 185.83 L1128.49 185.82 L1129.69 185.8 L1130.89 185.79 L1132.09 185.77 L1133.29 185.76 L1134.49 185.74 L1135.69 185.73 L1136.89 185.71 L1138.09 185.7 L1139.29 185.69 L1140.49 185.67 L1141.69 185.66 L1142.89 185.64 L1144.09 185.63 L1145.3 185.62 L1146.5 185.6 L1147.7 185.59 L1148.9 185.57 L1150.1 185.56 L1151.3 185.55 L1152.5 185.53 L1153.7 185.52 L1154.9 185.5 L1156.1 185.49 L1157.3 185.48" fill="none" stroke="#EDB120" stroke-width="3.0" stroke-linejoin="round"/>
<path d="M707.5 490.2 L707.58 488.93 L707.65 488.39 L707.73 487.96 L707.8 487.58 L707.88 487.24 L707.95 486.93 L708.03 486.63 L708.1 486.34 L708.18 486.07 L708.26 485.8 L708.33 485.54 L708.41 485.29 L708.48 485.04 L708.56 484.8 L708.63 484.56 L708.71 484.32 L708.79 484.08 L708.86 483.85 L708.94 483.61 L709.01 483.38 L709.09 483.15 L709.16 482.92 L709.24 482.69 L709.31 482.47 L709.39 482.24 L709.47 482.01 L709.54 481.79 L709.62 481.56 L709.69 481.34 L709.77 481.11 L709.84 480.89 L709.92 480.66 L709.99 480.44 L710.07 480.21 L710.15 479.99 L710.22 479.76 L710.3 479.54 L710.37 479.31 L710.45 479.08 L710.52 478.86 L710.6 478.63 L710.68 478.4 L710.75 478.18 L710.83 477.95 L710.9 477.72 L710.98 477.49 L711.05 477.26 L711.13 477.03 L711.2 476.8 L711.28 476.57 L711.36 476.34 L711.43 476.11 L711.51 475.88 L711.58 475.65 L711.66 475.42 L711.73 475.19 L711.81 474.95 L711.88 474.72 L711.96 474.49 L712.04 474.25 L712.11 474.02 L712.19 473.78 L712.26 473.55 L712.34 473.31 L712.41 473.08 L712.49 472.84 L712.56 472.6 L712.64 472.36 L712.72 472.13 L712.79 471.89 L712.87 471.65 L712.94 471.41 L713.02 471.17 L713.09 470.93 L713.17 470.69 L713.25 470.45 L713.32 470.2 L713.4 469.96 L713.47 469.72 L713.55 469.48 L713.62 469.23 L713.7 468.99 L713.77 468.74 L713.85 468.5 L713.93 468.25 L714 468.01 L714.08 467.76 L714.15 467.51 L714.23 467.26 L714.3 467.02 L714.38 466.77 L714.45 466.52 L714.53 466.27 L714.61 466.02 L714.68 465.77 L714.76 465.52 L714.83 465.26 L714.91 465.01 L714.98 464.76 L715.06 464.51 L715.14 464.25 L715.21 464 L715.29 463.74 L715.36 463.49 L715.44 463.23 L715.51 462.97 L715.59 462.72 L715.66 462.46 L715.74 462.2 L715.82 461.94 L715.89 461.68 L715.97 461.42 L716.04 461.16 L716.12 460.9 L716.19 460.64 L716.27 460.38 L716.34 460.12 L716.42 459.85 L716.5 459.59 L716.63 459.12 L716.94 458.02 L717.26 456.92 L717.57 455.8 L717.88 454.68 L718.19 453.54 L718.5 452.4 L718.82 451.25 L719.13 450.08 L719.44 448.91 L719.75 447.73 L720.06 446.54 L720.38 445.34 L720.69 444.12 L721 442.9 L721.31 441.67 L721.62 440.42 L721.94 439.17 L722.25 437.9 L722.56 436.62 L722.87 435.34 L723.18 434.04 L723.5 432.73 L723.81 431.41 L724.12 430.08 L724.43 428.73 L724.75 427.38 L725.06 426.02 L725.37 424.65 L725.68 423.27 L725.99 421.87 L726.31 420.47 L726.62 419.06 L726.93 417.64 L727.24 416.21 L727.55 414.77 L727.87 413.33 L728.18 411.87 L728.49 410.41 L728.8 408.94 L729.11 407.47 L729.43 405.99 L729.74 404.5 L730.05 403.01 L730.36 401.51 L730.67 400.01 L730.99 398.5 L731.3 396.99 L731.61 395.48 L731.92 393.96 L732.24 392.44 L732.55 390.92 L732.86 389.4 L733.17 387.87 L733.48 386.34 L733.8 384.81 L734.11 383.28 L734.42 381.75 L734.73 380.21 L735.04 378.68 L735.36 377.14 L735.67 375.61 L735.98 374.08 L736.29 372.54 L736.6 371.01 L736.92 369.48 L737.23 367.95 L737.54 366.42 L737.85 364.89 L738.16 363.36 L738.48 361.83 L738.79 360.31 L739.1 358.79 L739.41 357.27 L739.72 355.75 L740.04 354.23 L740.35 352.72 L740.66 351.21 L740.97 349.71 L741.29 348.2 L741.6 346.7 L741.91 345.2 L742.22 343.71 L742.53 342.22 L742.85 340.73 L743.16 339.25 L743.47 337.77 L743.78 336.29 L744.09 334.82 L744.41 333.35 L744.72 331.89 L745.03 330.43 L745.34 328.97 L745.65 327.52 L745.97 326.08 L746.28 324.63 L746.59 323.2 L746.9 321.77 L747.21 320.34 L747.53 318.92 L747.84 317.5 L748.15 316.09 L748.46 314.68 L748.78 313.28 L749.09 311.89 L749.4 310.5 L749.71 309.11 L750.02 307.73 L750.34 306.36 L750.65 304.99 L750.96 303.63 L751.27 302.28 L751.58 300.93 L751.9 299.58 L752.21 298.24 L752.52 296.91 L752.83 295.58 L753.14 294.26 L753.46 292.95 L753.77 291.64 L754.08 290.34 L754.39 289.05 L754.7 287.76 L755.02 286.47 L755.33 285.2 L755.64 283.93 L755.95 282.67 L756.27 281.41 L756.58 280.16 L756.89 278.92 L757.2 277.68 L757.51 276.45 L757.83 275.23 L758.14 274.01 L758.45 272.8 L758.76 271.6 L759.07 270.4 L759.39 269.21 L759.7 268.03 L760.01 266.86 L760.32 265.69 L760.63 264.53 L760.95 263.37 L761.26 262.23 L761.57 261.09 L761.88 259.95 L762.19 258.83 L762.51 257.71 L762.82 256.59 L763.13 255.49 L763.44 254.39 L763.76 253.3 L764.07 252.22 L764.38 251.14 L764.69 250.07 L765 249.01 L765.32 247.95 L765.63 246.91 L765.94 245.86 L766.25 244.83 L766.56 243.81 L766.88 242.79 L767.19 241.77 L767.5 240.77 L767.81 239.77 L768.12 238.78 L768.44 237.8 L768.75 236.82 L769.06 235.85 L769.37 234.89 L769.68 233.94 L770 232.99 L770.31 232.05 L770.62 231.12 L770.93 230.19 L771.25 229.27 L771.56 228.36 L771.87 227.45 L772.18 226.56 L772.49 225.67 L772.81 224.78 L773.12 223.91 L773.43 223.04 L773.74 222.18 L774.05 221.32 L774.37 220.47 L774.68 219.63 L774.99 218.8 L775.3 217.97 L775.61 217.15 L775.93 216.34 L776.24 215.53 L776.55 214.73 L776.86 213.94 L777.17 213.15 L777.49 212.37 L777.8 211.6 L778.11 210.83 L778.42 210.07 L778.74 209.32 L779.05 208.58 L779.36 207.84 L779.67 207.11 L779.98 206.38 L780.3 205.66 L780.61 204.95 L780.92 204.24 L781.23 203.54 L781.54 202.85 L781.86 202.16 L782.17 201.48 L782.48 200.8 L782.79 200.14 L783.1 199.47 L783.42 198.82 L783.73 198.17 L784.04 197.52 L784.35 196.89 L784.66 196.26 L784.98 195.63 L785.29 195.01 L785.6 194.4 L785.91 193.79 L786.23 193.19 L786.54 192.59 L786.85 192 L787.16 191.42 L787.47 190.84 L787.79 190.27 L788.1 189.7 L788.41 189.14 L788.72 188.58 L789.03 188.03 L789.35 187.48 L789.66 186.94 L789.97 186.41 L790.28 185.88 L790.59 185.36 L790.91 184.84 L791.22 184.32 L791.53 183.82 L791.84 183.31 L792.15 182.82 L792.47 182.32 L792.78 181.83 L793.09 181.35 L793.4 180.87 L793.72 180.4 L794.03 179.93 L794.34 179.47 L794.65 179.01 L794.96 178.55 L795.28 178.1 L795.59 177.66 L795.9 177.22 L796.21 176.78 L796.52 176.35 L796.84 175.92 L797.15 175.5 L797.46 175.08 L798.36 173.9 L799.56 172.37 L800.76 170.9 L801.96 169.49 L803.16 168.14 L804.36 166.83 L805.56 165.58 L806.76 164.37 L807.96 163.21 L809.16 162.09 L810.36 161.01 L811.56 159.98 L812.77 158.98 L813.97 158.01 L815.17 157.08 L816.37 156.18 L817.57 155.31 L818.77 154.48 L819.97 153.67 L821.17 152.88 L822.37 152.13 L823.57 151.39 L824.77 150.69 L825.97 150 L827.17 149.33 L828.37 148.69 L829.57 148.07 L830.77 147.46 L831.97 146.87 L833.17 146.31 L834.37 145.75 L835.57 145.22 L836.77 144.7 L837.98 144.2 L839.18 143.71 L840.38 143.23 L841.58 142.77 L842.78 142.32 L843.98 141.89 L845.18 141.47 L846.38 141.06 L847.58 140.66 L848.78 140.27 L849.98 139.89 L851.18 139.53 L852.38 139.17 L853.58 138.83 L854.78 138.49 L855.98 138.17 L857.18 137.85 L858.38 137.54 L859.58 137.24 L860.78 136.94 L861.98 136.66 L863.18 136.38 L864.39 136.1 L865.59 135.84 L866.79 135.58 L867.99 135.33 L869.19 135.08 L870.39 134.84 L871.59 134.61 L872.79 134.38 L873.99 134.16 L875.19 133.94 L876.39 133.72 L877.59 133.51 L878.79 133.31 L879.99 133.11 L881.19 132.91 L882.39 132.72 L883.59 132.53 L884.79 132.35 L885.99 132.16 L887.19 131.99 L888.39 131.81 L889.6 131.64 L890.8 131.47 L892 131.31 L893.2 131.15 L894.4 130.99 L895.6 130.83 L896.8 130.68 L898 130.53 L899.2 130.38 L900.4 130.24 L901.6 130.09 L902.8 129.95 L904 129.81 L905.2 129.68 L906.4 129.54 L907.6 129.41 L908.8 129.28 L910 129.15 L911.2 129.03 L912.4 128.9 L913.6 128.78 L914.81 128.66 L916.01 128.54 L917.21 128.43 L918.41 128.31 L919.61 128.2 L920.81 128.09 L922.01 127.98 L923.21 127.87 L924.41 127.76 L925.61 127.66 L926.81 127.55 L928.01 127.45 L929.21 127.35 L930.41 127.25 L931.61 127.15 L932.81 127.05 L934.01 126.96 L935.21 126.86 L936.41 126.77 L937.61 126.68 L938.81 126.59 L940.02 126.5 L941.22 126.41 L942.42 126.33 L943.62 126.24 L944.82 126.16 L946.02 126.08 L947.22 125.99 L948.42 125.91 L949.62 125.83 L950.82 125.76 L952.02 125.68 L953.22 125.6 L954.42 125.53 L955.62 125.46 L956.82 125.38 L958.02 125.31 L959.22 125.24 L960.42 125.17 L961.62 125.11 L962.82 125.04 L964.02 124.97 L965.22 124.91 L966.43 124.84 L967.63 124.78 L968.83 124.72 L970.03 124.66 L971.23 124.6 L972.43 124.54 L973.63 124.48 L974.83 124.42 L976.03 124.37 L977.23 124.31 L978.43 124.26 L979.63 124.2 L980.83 124.15 L982.03 124.1 L983.23 124.05 L984.43 124 L985.63 123.95 L986.83 123.9 L988.03 123.85 L989.23 123.8 L990.43 123.76 L991.64 123.71 L992.84 123.67 L994.04 123.62 L995.24 123.58 L996.44 123.54 L997.64 123.49 L998.84 123.45 L1000.04 123.41 L1001.24 123.37 L1002.44 123.33 L1003.64 123.29 L1004.84 123.25 L1006.04 123.21 L1007.24 123.18 L1008.44 123.14 L1009.64 123.1 L1010.84 123.07 L1012.04 123.03 L1013.24 123 L1014.44 122.96 L1015.64 122.93 L1016.85 122.89 L1018.05 122.86 L1019.25 122.83 L1020.45 122.8 L1021.65 122.76 L1022.85 122.73 L1024.05 122.7 L1025.25 122.67 L1026.45 122.64 L1027.65 122.61 L1028.85 122.58 L1030.05 122.55 L1031.25 122.52 L1032.45 122.49 L1033.65 122.47 L1034.85 122.44 L1036.05 122.41 L1037.25 122.38 L1038.45 122.35 L1039.65 122.33 L1040.85 122.3 L1042.05 122.27 L1043.26 122.25 L1044.46 122.22 L1045.66 122.2 L1046.86 122.17 L1048.06 122.14 L1049.26 122.12 L1050.46 122.09 L1051.66 122.07 L1052.86 122.04 L1054.06 122.02 L1055.26 121.99 L1056.46 121.97 L1057.66 121.95 L1058.86 121.92 L1060.06 121.9 L1061.26 121.87 L1062.46 121.85 L1063.66 121.83 L1064.86 121.8 L1066.06 121.78 L1067.26 121.76 L1068.47 121.73 L1069.67 121.71 L1070.87 121.69 L1072.07 121.67 L1073.27 121.64 L1074.47 121.62 L1075.67 121.6 L1076.87 121.58 L1078.07 121.55 L1079.27 121.53 L1080.47 121.51 L1081.67 121.49 L1082.87 121.46 L1084.07 121.44 L1085.27 121.42 L1086.47 121.4 L1087.67 121.38 L1088.87 121.36 L1090.07 121.33 L1091.27 121.31 L1092.47 121.29 L1093.68 121.27 L1094.88 121.25 L1096.08 121.23 L1097.28 121.21 L1098.48 121.19 L1099.68 121.17 L1100.88 121.14 L1102.08 121.12 L1103.28 121.1 L1104.48 121.08 L1105.68 121.06 L1106.88 121.04 L1108.08 121.02 L1109.28 121 L1110.48 120.98 L1111.68 120.96 L1112.88 120.94 L1114.08 120.92 L1115.28 120.9 L1116.48 120.88 L1117.68 120.86 L1118.88 120.84 L1120.09 120.82 L1121.29 120.8 L1122.49 120.78 L1123.69 120.76 L1124.89 120.74 L1126.09 120.72 L1127.29 120.7 L1128.49 120.68 L1129.69 120.67 L1130.89 120.65 L1132.09 120.63 L1133.29 120.61 L1134.49 120.59 L1135.69 120.57 L1136.89 120.55 L1138.09 120.53 L1139.29 120.52 L1140.49 120.5 L1141.69 120.48 L1142.89 120.46 L1144.09 120.44 L1145.3 120.42 L1146.5 120.4 L1147.7 120.39 L1148.9 120.37 L1150.1 120.35 L1151.3 120.33 L1152.5 120.31 L1153.7 120.3 L1154.9 120.28 L1156.1 120.26 L1157.3 120.24" fill="none" stroke="#7E2F8E" stroke-width="3.0" stroke-linejoin="round"/>
<text class="tk" transform="translate(707.5 522.7) scale(0.96 1)" text-anchor="middle">0</text>
<text class="tk" transform="translate(797.46 522.7) scale(0.96 1)" text-anchor="middle">20</text>
<text class="tk" transform="translate(887.42 522.7) scale(0.96 1)" text-anchor="middle">40</text>
<text class="tk" transform="translate(977.38 522.7) scale(0.96 1)" text-anchor="middle">60</text>
<text class="tk" transform="translate(1067.34 522.7) scale(0.96 1)" text-anchor="middle">80</text>
<text class="tk" transform="translate(1157.3 522.7) scale(0.96 1)" text-anchor="middle">100</text>
<text class="tk" transform="translate(698.2 499.4) scale(0.96 1)" text-anchor="end">0</text>
<text class="tk" transform="translate(698.2 435.12) scale(0.96 1)" text-anchor="end">0.1</text>
<text class="tk" transform="translate(698.2 370.83) scale(0.96 1)" text-anchor="end">0.2</text>
<text class="tk" transform="translate(698.2 306.55) scale(0.96 1)" text-anchor="end">0.3</text>
<text class="tk" transform="translate(698.2 242.27) scale(0.96 1)" text-anchor="end">0.4</text>
<text class="tk" transform="translate(698.2 177.98) scale(0.96 1)" text-anchor="end">0.5</text>
<text class="tk" transform="translate(698.2 113.7) scale(0.96 1)" text-anchor="end">0.6</text>
<text class="mt th" font-size="34.47" font-style="italic" transform="translate(884.31 87.20) scale(1.3050 1)">m</text>
<text class="mt" font-size="35.20" transform="translate(925.13 90.10) scale(1.4052 1)">=</text>
<text class="mt" font-size="36.15" transform="translate(962.65 87.54) scale(0.9959 1)">8</text>
<text class="mt th" font-size="38.43" font-style="italic" transform="translate(925.08 559.12) scale(1.1129 1)">t</text>
<text class="mt th" font-size="36.49" font-style="italic" transform="translate(643.70 335.59) rotate(-90) scale(1.1547 1)">I</text>
<text class="mt th" font-size="23.88" font-style="italic" transform="translate(630.60 318.01) rotate(-90) scale(1.3457 1)">h</text>
<text class="mt" font-size="27.66" transform="translate(656.42 320.34) rotate(-90) scale(0.9925 1)">(</text>
<text class="mt th" font-size="23.88" font-style="italic" transform="translate(655.30 310.61) rotate(-90) scale(1.1361 1)">k</text>
<text class="mt" font-size="24.08" transform="translate(655.87 296.18) rotate(-90) scale(0.7476 1)">,</text>
<text class="mt th" font-size="23.83" font-style="italic" transform="translate(655.30 292.10) rotate(-90) scale(1.3389 1)">m</text>
<text class="mt" font-size="27.66" transform="translate(656.42 269.73) rotate(-90) scale(0.9267 1)">)</text>
<rect x="964.5" y="326.4" width="160.2" height="135.1" fill="#fff" stroke="#262626" stroke-width="1.3"/>
<line x1="970.7" y1="345.6" x2="1037.1" y2="345.6" stroke="#0072BD" stroke-width="3.0"/>
<text class="mt th" font-size="27.05" font-style="italic" transform="translate(1042.22 352.60) scale(1.0809 1)">k</text>
<text class="mt" font-size="27.20" transform="translate(1062.40 355.14) scale(1.3994 1)">=</text>
<text class="mt" font-size="26.72" transform="translate(1091.17 352.60) scale(1.0200 1)">2</text>
<line x1="970.7" y1="378.4" x2="1037.1" y2="378.4" stroke="#D95319" stroke-width="3.0"/>
<text class="mt th" font-size="27.05" font-style="italic" transform="translate(1042.22 385.00) scale(1.0809 1)">k</text>
<text class="mt" font-size="27.20" transform="translate(1062.40 387.54) scale(1.3994 1)">=</text>
<text class="mt" font-size="26.62" transform="translate(1090.84 384.73) scale(1.0174 1)">5</text>
<line x1="970.7" y1="411.2" x2="1037.1" y2="411.2" stroke="#EDB120" stroke-width="3.0"/>
<text class="mt th" font-size="27.05" font-style="italic" transform="translate(1042.22 417.60) scale(1.0809 1)">k</text>
<text class="mt" font-size="27.20" transform="translate(1062.40 420.14) scale(1.3994 1)">=</text>
<text class="mt" font-size="26.22" transform="translate(1090.69 417.34) scale(1.0068 1)">10</text>
<line x1="970.7" y1="442.5" x2="1037.1" y2="442.5" stroke="#7E2F8E" stroke-width="3.0"/>
<text class="mt th" font-size="27.05" font-style="italic" transform="translate(1042.22 449.40) scale(1.0809 1)">k</text>
<text class="mt" font-size="27.20" transform="translate(1062.40 451.94) scale(1.3994 1)">=</text>
<text class="mt" font-size="26.42" transform="translate(1090.68 449.14) scale(1.0022 1)">15</text>
<g stroke="#dfdfdf" stroke-width="1"><line x1="1390.46" y1="104.5" x2="1390.46" y2="490.2"/><line x1="1480.42" y1="104.5" x2="1480.42" y2="490.2"/><line x1="1570.38" y1="104.5" x2="1570.38" y2="490.2"/><line x1="1660.34" y1="104.5" x2="1660.34" y2="490.2"/><line x1="1300.5" y1="425.92" x2="1750.2" y2="425.92"/><line x1="1300.5" y1="361.63" x2="1750.2" y2="361.63"/><line x1="1300.5" y1="297.35" x2="1750.2" y2="297.35"/><line x1="1300.5" y1="233.07" x2="1750.2" y2="233.07"/><line x1="1300.5" y1="168.78" x2="1750.2" y2="168.78"/></g>
<path d="M1390.46 490.2v-4.5M1390.46 104.5v4.5M1480.42 490.2v-4.5M1480.42 104.5v4.5M1570.38 490.2v-4.5M1570.38 104.5v4.5M1660.34 490.2v-4.5M1660.34 104.5v4.5M1300.5 425.92h4.5M1750.2 425.92h-4.5M1300.5 361.63h4.5M1750.2 361.63h-4.5M1300.5 297.35h4.5M1750.2 297.35h-4.5M1300.5 233.07h4.5M1750.2 233.07h-4.5M1300.5 168.78h4.5M1750.2 168.78h-4.5" fill="none" stroke="#262626" stroke-width="1.3"/>
<rect x="1300.5" y="104.5" width="449.7" height="385.7" fill="none" stroke="#262626" stroke-width="1.3"/>
<path d="M1300.5 490.2 L1300.58 486.82 L1300.65 485.43 L1300.73 484.37 L1300.8 483.48 L1300.88 482.7 L1300.95 482 L1301.03 481.36 L1301.1 480.76 L1301.18 480.2 L1301.26 479.68 L1301.33 479.19 L1301.41 478.72 L1301.48 478.27 L1301.56 477.84 L1301.63 477.42 L1301.71 477.03 L1301.79 476.65 L1301.86 476.28 L1301.94 475.92 L1302.01 475.57 L1302.09 475.24 L1302.16 474.91 L1302.24 474.59 L1302.31 474.28 L1302.39 473.98 L1302.47 473.69 L1302.54 473.41 L1302.62 473.13 L1302.69 472.86 L1302.77 472.59 L1302.84 472.33 L1302.92 472.08 L1302.99 471.83 L1303.07 471.58 L1303.15 471.34 L1303.22 471.11 L1303.3 470.88 L1303.37 470.66 L1303.45 470.44 L1303.52 470.22 L1303.6 470.01 L1303.68 469.8 L1303.75 469.6 L1303.83 469.4 L1303.9 469.2 L1303.98 469.01 L1304.05 468.82 L1304.13 468.63 L1304.2 468.45 L1304.28 468.27 L1304.36 468.09 L1304.43 467.92 L1304.51 467.75 L1304.58 467.58 L1304.66 467.41 L1304.73 467.25 L1304.81 467.09 L1304.88 466.93 L1304.96 466.78 L1305.04 466.63 L1305.11 466.48 L1305.19 466.33 L1305.26 466.19 L1305.34 466.04 L1305.41 465.9 L1305.49 465.76 L1305.56 465.63 L1305.64 465.5 L1305.72 465.36 L1305.79 465.23 L1305.87 465.11 L1305.94 464.98 L1306.02 464.86 L1306.09 464.74 L1306.17 464.62 L1306.25 464.5 L1306.32 464.38 L1306.4 464.27 L1306.47 464.16 L1306.55 464.05 L1306.62 463.94 L1306.7 463.83 L1306.77 463.72 L1306.85 463.62 L1306.93 463.52 L1307 463.42 L1307.08 463.32 L1307.15 463.22 L1307.23 463.12 L1307.3 463.03 L1307.38 462.94 L1307.45 462.85 L1307.53 462.76 L1307.61 462.67 L1307.68 462.58 L1307.76 462.49 L1307.83 462.41 L1307.91 462.32 L1307.98 462.24 L1308.06 462.16 L1308.14 462.08 L1308.21 462 L1308.29 461.93 L1308.36 461.85 L1308.44 461.77 L1308.51 461.7 L1308.59 461.63 L1308.66 461.56 L1308.74 461.49 L1308.82 461.42 L1308.89 461.35 L1308.97 461.28 L1309.04 461.21 L1309.12 461.15 L1309.19 461.08 L1309.27 461.02 L1309.34 460.96 L1309.42 460.9 L1309.5 460.84 L1309.63 460.73 L1309.94 460.5 L1310.26 460.27 L1310.57 460.07 L1310.88 459.87 L1311.19 459.68 L1311.5 459.5 L1311.82 459.34 L1312.13 459.18 L1312.44 459.02 L1312.75 458.88 L1313.06 458.74 L1313.38 458.6 L1313.69 458.47 L1314 458.35 L1314.31 458.23 L1314.62 458.12 L1314.94 458 L1315.25 457.89 L1315.56 457.78 L1315.87 457.68 L1316.18 457.58 L1316.5 457.47 L1316.81 457.37 L1317.12 457.27 L1317.43 457.17 L1317.75 457.08 L1318.06 456.98 L1318.37 456.88 L1318.68 456.78 L1318.99 456.68 L1319.31 456.58 L1319.62 456.48 L1319.93 456.38 L1320.24 456.27 L1320.55 456.17 L1320.87 456.06 L1321.18 455.96 L1321.49 455.85 L1321.8 455.74 L1322.11 455.63 L1322.43 455.52 L1322.74 455.4 L1323.05 455.29 L1323.36 455.17 L1323.67 455.05 L1323.99 454.93 L1324.3 454.8 L1324.61 454.68 L1324.92 454.55 L1325.24 454.42 L1325.55 454.29 L1325.86 454.16 L1326.17 454.02 L1326.48 453.89 L1326.8 453.75 L1327.11 453.6 L1327.42 453.46 L1327.73 453.32 L1328.04 453.17 L1328.36 453.02 L1328.67 452.87 L1328.98 452.71 L1329.29 452.56 L1329.6 452.4 L1329.92 452.24 L1330.23 452.08 L1330.54 451.91 L1330.85 451.75 L1331.16 451.58 L1331.48 451.41 L1331.79 451.24 L1332.1 451.07 L1332.41 450.9 L1332.72 450.72 L1333.04 450.54 L1333.35 450.36 L1333.66 450.18 L1333.97 450 L1334.29 449.82 L1334.6 449.64 L1334.91 449.45 L1335.22 449.26 L1335.53 449.07 L1335.85 448.88 L1336.16 448.69 L1336.47 448.5 L1336.78 448.31 L1337.09 448.11 L1337.41 447.91 L1337.72 447.72 L1338.03 447.52 L1338.34 447.32 L1338.65 447.12 L1338.97 446.92 L1339.28 446.71 L1339.59 446.51 L1339.9 446.31 L1340.21 446.1 L1340.53 445.9 L1340.84 445.69 L1341.15 445.48 L1341.46 445.27 L1341.78 445.06 L1342.09 444.85 L1342.4 444.64 L1342.71 444.43 L1343.02 444.22 L1343.34 444 L1343.65 443.79 L1343.96 443.57 L1344.27 443.36 L1344.58 443.14 L1344.9 442.93 L1345.21 442.71 L1345.52 442.49 L1345.83 442.28 L1346.14 442.06 L1346.46 441.84 L1346.77 441.62 L1347.08 441.4 L1347.39 441.18 L1347.7 440.96 L1348.02 440.74 L1348.33 440.52 L1348.64 440.3 L1348.95 440.08 L1349.27 439.86 L1349.58 439.64 L1349.89 439.41 L1350.2 439.19 L1350.51 438.97 L1350.83 438.75 L1351.14 438.52 L1351.45 438.3 L1351.76 438.08 L1352.07 437.85 L1352.39 437.63 L1352.7 437.41 L1353.01 437.18 L1353.32 436.96 L1353.63 436.74 L1353.95 436.51 L1354.26 436.29 L1354.57 436.07 L1354.88 435.84 L1355.19 435.62 L1355.51 435.39 L1355.82 435.17 L1356.13 434.95 L1356.44 434.72 L1356.76 434.5 L1357.07 434.28 L1357.38 434.06 L1357.69 433.83 L1358 433.61 L1358.32 433.39 L1358.63 433.17 L1358.94 432.95 L1359.25 432.72 L1359.56 432.5 L1359.88 432.28 L1360.19 432.06 L1360.5 431.84 L1360.81 431.62 L1361.12 431.4 L1361.44 431.18 L1361.75 430.96 L1362.06 430.74 L1362.37 430.53 L1362.68 430.31 L1363 430.09 L1363.31 429.87 L1363.62 429.66 L1363.93 429.44 L1364.25 429.23 L1364.56 429.01 L1364.87 428.8 L1365.18 428.58 L1365.49 428.37 L1365.81 428.16 L1366.12 427.95 L1366.43 427.73 L1366.74 427.52 L1367.05 427.31 L1367.37 427.1 L1367.68 426.89 L1367.99 426.68 L1368.3 426.48 L1368.61 426.27 L1368.93 426.06 L1369.24 425.86 L1369.55 425.65 L1369.86 425.45 L1370.17 425.24 L1370.49 425.04 L1370.8 424.83 L1371.11 424.63 L1371.42 424.43 L1371.74 424.23 L1372.05 424.03 L1372.36 423.83 L1372.67 423.63 L1372.98 423.43 L1373.3 423.24 L1373.61 423.04 L1373.92 422.84 L1374.23 422.65 L1374.54 422.45 L1374.86 422.26 L1375.17 422.07 L1375.48 421.88 L1375.79 421.68 L1376.1 421.49 L1376.42 421.3 L1376.73 421.12 L1377.04 420.93 L1377.35 420.74 L1377.66 420.55 L1377.98 420.37 L1378.29 420.18 L1378.6 420 L1378.91 419.81 L1379.23 419.63 L1379.54 419.45 L1379.85 419.27 L1380.16 419.09 L1380.47 418.91 L1380.79 418.73 L1381.1 418.55 L1381.41 418.37 L1381.72 418.2 L1382.03 418.02 L1382.35 417.85 L1382.66 417.67 L1382.97 417.5 L1383.28 417.33 L1383.59 417.15 L1383.91 416.98 L1384.22 416.81 L1384.53 416.65 L1384.84 416.48 L1385.15 416.31 L1385.47 416.14 L1385.78 415.98 L1386.09 415.81 L1386.4 415.65 L1386.72 415.49 L1387.03 415.32 L1387.34 415.16 L1387.65 415 L1387.96 414.84 L1388.28 414.68 L1388.59 414.53 L1388.9 414.37 L1389.21 414.21 L1389.52 414.06 L1389.84 413.91 L1390.15 413.75 L1390.46 413.6 L1391.36 413.17 L1392.56 412.6 L1393.76 412.04 L1394.96 411.5 L1396.16 410.98 L1397.36 410.46 L1398.56 409.97 L1399.76 409.48 L1400.96 409.01 L1402.16 408.55 L1403.36 408.11 L1404.56 407.68 L1405.77 407.26 L1406.97 406.86 L1408.17 406.47 L1409.37 406.09 L1410.57 405.72 L1411.77 405.37 L1412.97 405.02 L1414.17 404.69 L1415.37 404.37 L1416.57 404.06 L1417.77 403.76 L1418.97 403.47 L1420.17 403.19 L1421.37 402.92 L1422.57 402.66 L1423.77 402.4 L1424.97 402.15 L1426.17 401.91 L1427.37 401.68 L1428.57 401.45 L1429.77 401.23 L1430.98 401.02 L1432.18 400.81 L1433.38 400.61 L1434.58 400.41 L1435.78 400.22 L1436.98 400.03 L1438.18 399.85 L1439.38 399.67 L1440.58 399.5 L1441.78 399.33 L1442.98 399.17 L1444.18 399 L1445.38 398.85 L1446.58 398.69 L1447.78 398.54 L1448.98 398.39 L1450.18 398.25 L1451.38 398.11 L1452.58 397.97 L1453.78 397.83 L1454.98 397.7 L1456.18 397.57 L1457.39 397.44 L1458.59 397.32 L1459.79 397.2 L1460.99 397.08 L1462.19 396.96 L1463.39 396.85 L1464.59 396.73 L1465.79 396.63 L1466.99 396.52 L1468.19 396.41 L1469.39 396.31 L1470.59 396.21 L1471.79 396.12 L1472.99 396.02 L1474.19 395.93 L1475.39 395.84 L1476.59 395.75 L1477.79 395.67 L1478.99 395.59 L1480.19 395.5 L1481.39 395.43 L1482.6 395.35 L1483.8 395.28 L1485 395.2 L1486.2 395.13 L1487.4 395.06 L1488.6 395 L1489.8 394.93 L1491 394.87 L1492.2 394.81 L1493.4 394.75 L1494.6 394.69 L1495.8 394.64 L1497 394.58 L1498.2 394.53 L1499.4 394.48 L1500.6 394.43 L1501.8 394.38 L1503 394.33 L1504.2 394.29 L1505.4 394.24 L1506.6 394.2 L1507.81 394.16 L1509.01 394.11 L1510.21 394.07 L1511.41 394.03 L1512.61 394 L1513.81 393.96 L1515.01 393.92 L1516.21 393.89 L1517.41 393.85 L1518.61 393.82 L1519.81 393.79 L1521.01 393.75 L1522.21 393.72 L1523.41 393.69 L1524.61 393.66 L1525.81 393.63 L1527.01 393.61 L1528.21 393.58 L1529.41 393.55 L1530.61 393.52 L1531.81 393.5 L1533.02 393.47 L1534.22 393.45 L1535.42 393.42 L1536.62 393.4 L1537.82 393.37 L1539.02 393.35 L1540.22 393.33 L1541.42 393.3 L1542.62 393.28 L1543.82 393.26 L1545.02 393.24 L1546.22 393.21 L1547.42 393.19 L1548.62 393.17 L1549.82 393.15 L1551.02 393.13 L1552.22 393.11 L1553.42 393.09 L1554.62 393.07 L1555.82 393.05 L1557.02 393.03 L1558.22 393.01 L1559.43 392.99 L1560.63 392.97 L1561.83 392.95 L1563.03 392.93 L1564.23 392.91 L1565.43 392.89 L1566.63 392.87 L1567.83 392.85 L1569.03 392.83 L1570.23 392.81 L1571.43 392.79 L1572.63 392.77 L1573.83 392.75 L1575.03 392.74 L1576.23 392.72 L1577.43 392.7 L1578.63 392.68 L1579.83 392.66 L1581.03 392.64 L1582.23 392.63 L1583.43 392.61 L1584.64 392.59 L1585.84 392.57 L1587.04 392.56 L1588.24 392.54 L1589.44 392.52 L1590.64 392.51 L1591.84 392.49 L1593.04 392.47 L1594.24 392.45 L1595.44 392.44 L1596.64 392.42 L1597.84 392.41 L1599.04 392.39 L1600.24 392.37 L1601.44 392.36 L1602.64 392.34 L1603.84 392.33 L1605.04 392.31 L1606.24 392.3 L1607.44 392.28 L1608.64 392.26 L1609.85 392.25 L1611.05 392.23 L1612.25 392.22 L1613.45 392.21 L1614.65 392.19 L1615.85 392.18 L1617.05 392.16 L1618.25 392.15 L1619.45 392.13 L1620.65 392.12 L1621.85 392.11 L1623.05 392.09 L1624.25 392.08 L1625.45 392.07 L1626.65 392.05 L1627.85 392.04 L1629.05 392.03 L1630.25 392.01 L1631.45 392 L1632.65 391.99 L1633.85 391.97 L1635.05 391.96 L1636.26 391.95 L1637.46 391.94 L1638.66 391.92 L1639.86 391.91 L1641.06 391.9 L1642.26 391.89 L1643.46 391.88 L1644.66 391.86 L1645.86 391.85 L1647.06 391.84 L1648.26 391.83 L1649.46 391.82 L1650.66 391.81 L1651.86 391.79 L1653.06 391.78 L1654.26 391.77 L1655.46 391.76 L1656.66 391.75 L1657.86 391.74 L1659.06 391.73 L1660.26 391.72 L1661.47 391.71 L1662.67 391.69 L1663.87 391.68 L1665.07 391.67 L1666.27 391.66 L1667.47 391.65 L1668.67 391.64 L1669.87 391.63 L1671.07 391.62 L1672.27 391.61 L1673.47 391.6 L1674.67 391.59 L1675.87 391.58 L1677.07 391.57 L1678.27 391.56 L1679.47 391.55 L1680.67 391.54 L1681.87 391.53 L1683.07 391.52 L1684.27 391.51 L1685.47 391.5 L1686.68 391.49 L1687.88 391.48 L1689.08 391.47 L1690.28 391.46 L1691.48 391.45 L1692.68 391.44 L1693.88 391.43 L1695.08 391.42 L1696.28 391.41 L1697.48 391.4 L1698.68 391.39 L1699.88 391.38 L1701.08 391.37 L1702.28 391.36 L1703.48 391.36 L1704.68 391.35 L1705.88 391.34 L1707.08 391.33 L1708.28 391.32 L1709.48 391.31 L1710.68 391.3 L1711.88 391.29 L1713.09 391.28 L1714.29 391.27 L1715.49 391.26 L1716.69 391.25 L1717.89 391.25 L1719.09 391.24 L1720.29 391.23 L1721.49 391.22 L1722.69 391.21 L1723.89 391.2 L1725.09 391.19 L1726.29 391.18 L1727.49 391.17 L1728.69 391.17 L1729.89 391.16 L1731.09 391.15 L1732.29 391.14 L1733.49 391.13 L1734.69 391.12 L1735.89 391.11 L1737.09 391.1 L1738.3 391.1 L1739.5 391.09 L1740.7 391.08 L1741.9 391.07 L1743.1 391.06 L1744.3 391.05 L1745.5 391.04 L1746.7 391.04 L1747.9 391.03 L1749.1 391.02 L1750.3 391.01" fill="none" stroke="#0072BD" stroke-width="3.0" stroke-linejoin="round"/>
<path d="M1300.5 490.2 L1300.58 486.93 L1300.65 485.58 L1300.73 484.54 L1300.8 483.67 L1300.88 482.9 L1300.95 482.21 L1301.03 481.58 L1301.1 480.99 L1301.18 480.43 L1301.26 479.91 L1301.33 479.41 L1301.41 478.93 L1301.48 478.48 L1301.56 478.04 L1301.63 477.62 L1301.71 477.22 L1301.79 476.82 L1301.86 476.44 L1301.94 476.07 L1302.01 475.71 L1302.09 475.36 L1302.16 475.02 L1302.24 474.68 L1302.31 474.36 L1302.39 474.04 L1302.47 473.73 L1302.54 473.42 L1302.62 473.12 L1302.69 472.83 L1302.77 472.54 L1302.84 472.26 L1302.92 471.98 L1302.99 471.71 L1303.07 471.44 L1303.15 471.18 L1303.22 470.92 L1303.3 470.66 L1303.37 470.41 L1303.45 470.17 L1303.52 469.92 L1303.6 469.69 L1303.68 469.45 L1303.75 469.22 L1303.83 468.99 L1303.9 468.76 L1303.98 468.54 L1304.05 468.32 L1304.13 468.11 L1304.2 467.89 L1304.28 467.68 L1304.36 467.48 L1304.43 467.27 L1304.51 467.07 L1304.58 466.87 L1304.66 466.67 L1304.73 466.48 L1304.81 466.29 L1304.88 466.1 L1304.96 465.91 L1305.04 465.72 L1305.11 465.54 L1305.19 465.36 L1305.26 465.18 L1305.34 465.01 L1305.41 464.83 L1305.49 464.66 L1305.56 464.49 L1305.64 464.32 L1305.72 464.16 L1305.79 463.99 L1305.87 463.83 L1305.94 463.67 L1306.02 463.51 L1306.09 463.35 L1306.17 463.2 L1306.25 463.05 L1306.32 462.89 L1306.4 462.74 L1306.47 462.6 L1306.55 462.45 L1306.62 462.3 L1306.7 462.16 L1306.77 462.02 L1306.85 461.88 L1306.93 461.74 L1307 461.6 L1307.08 461.46 L1307.15 461.33 L1307.23 461.19 L1307.3 461.06 L1307.38 460.93 L1307.45 460.8 L1307.53 460.67 L1307.61 460.54 L1307.68 460.42 L1307.76 460.29 L1307.83 460.17 L1307.91 460.05 L1307.98 459.93 L1308.06 459.81 L1308.14 459.69 L1308.21 459.57 L1308.29 459.45 L1308.36 459.34 L1308.44 459.22 L1308.51 459.11 L1308.59 458.99 L1308.66 458.88 L1308.74 458.77 L1308.82 458.66 L1308.89 458.55 L1308.97 458.44 L1309.04 458.33 L1309.12 458.23 L1309.19 458.12 L1309.27 458.01 L1309.34 457.91 L1309.42 457.81 L1309.5 457.7 L1309.63 457.52 L1309.94 457.1 L1310.26 456.7 L1310.57 456.31 L1310.88 455.92 L1311.19 455.54 L1311.5 455.17 L1311.82 454.81 L1312.13 454.45 L1312.44 454.1 L1312.75 453.75 L1313.06 453.41 L1313.38 453.06 L1313.69 452.72 L1314 452.39 L1314.31 452.05 L1314.62 451.71 L1314.94 451.38 L1315.25 451.04 L1315.56 450.7 L1315.87 450.37 L1316.18 450.03 L1316.5 449.69 L1316.81 449.35 L1317.12 449 L1317.43 448.66 L1317.75 448.31 L1318.06 447.95 L1318.37 447.6 L1318.68 447.24 L1318.99 446.88 L1319.31 446.51 L1319.62 446.15 L1319.93 445.77 L1320.24 445.4 L1320.55 445.02 L1320.87 444.63 L1321.18 444.24 L1321.49 443.85 L1321.8 443.45 L1322.11 443.05 L1322.43 442.64 L1322.74 442.23 L1323.05 441.82 L1323.36 441.4 L1323.67 440.97 L1323.99 440.54 L1324.3 440.11 L1324.61 439.67 L1324.92 439.23 L1325.24 438.78 L1325.55 438.32 L1325.86 437.87 L1326.17 437.4 L1326.48 436.93 L1326.8 436.46 L1327.11 435.98 L1327.42 435.49 L1327.73 435 L1328.04 434.51 L1328.36 434.01 L1328.67 433.51 L1328.98 433 L1329.29 432.48 L1329.6 431.96 L1329.92 431.44 L1330.23 430.91 L1330.54 430.38 L1330.85 429.84 L1331.16 429.3 L1331.48 428.76 L1331.79 428.21 L1332.1 427.66 L1332.41 427.1 L1332.72 426.54 L1333.04 425.97 L1333.35 425.4 L1333.66 424.83 L1333.97 424.26 L1334.29 423.68 L1334.6 423.09 L1334.91 422.51 L1335.22 421.92 L1335.53 421.32 L1335.85 420.73 L1336.16 420.13 L1336.47 419.53 L1336.78 418.92 L1337.09 418.31 L1337.41 417.71 L1337.72 417.09 L1338.03 416.48 L1338.34 415.86 L1338.65 415.24 L1338.97 414.62 L1339.28 414 L1339.59 413.37 L1339.9 412.75 L1340.21 412.12 L1340.53 411.49 L1340.84 410.86 L1341.15 410.23 L1341.46 409.59 L1341.78 408.96 L1342.09 408.32 L1342.4 407.69 L1342.71 407.05 L1343.02 406.41 L1343.34 405.77 L1343.65 405.13 L1343.96 404.49 L1344.27 403.85 L1344.58 403.22 L1344.9 402.58 L1345.21 401.94 L1345.52 401.3 L1345.83 400.66 L1346.14 400.02 L1346.46 399.38 L1346.77 398.75 L1347.08 398.11 L1347.39 397.47 L1347.7 396.84 L1348.02 396.2 L1348.33 395.57 L1348.64 394.94 L1348.95 394.31 L1349.27 393.68 L1349.58 393.05 L1349.89 392.42 L1350.2 391.79 L1350.51 391.17 L1350.83 390.54 L1351.14 389.92 L1351.45 389.3 L1351.76 388.68 L1352.07 388.07 L1352.39 387.45 L1352.7 386.84 L1353.01 386.22 L1353.32 385.61 L1353.63 385.01 L1353.95 384.4 L1354.26 383.8 L1354.57 383.19 L1354.88 382.59 L1355.19 382 L1355.51 381.4 L1355.82 380.81 L1356.13 380.21 L1356.44 379.63 L1356.76 379.04 L1357.07 378.46 L1357.38 377.87 L1357.69 377.29 L1358 376.72 L1358.32 376.14 L1358.63 375.57 L1358.94 375 L1359.25 374.43 L1359.56 373.87 L1359.88 373.31 L1360.19 372.75 L1360.5 372.19 L1360.81 371.64 L1361.12 371.09 L1361.44 370.54 L1361.75 369.99 L1362.06 369.45 L1362.37 368.91 L1362.68 368.37 L1363 367.84 L1363.31 367.31 L1363.62 366.78 L1363.93 366.25 L1364.25 365.73 L1364.56 365.21 L1364.87 364.69 L1365.18 364.18 L1365.49 363.67 L1365.81 363.16 L1366.12 362.65 L1366.43 362.15 L1366.74 361.65 L1367.05 361.15 L1367.37 360.66 L1367.68 360.17 L1367.99 359.68 L1368.3 359.2 L1368.61 358.72 L1368.93 358.24 L1369.24 357.76 L1369.55 357.29 L1369.86 356.82 L1370.17 356.35 L1370.49 355.89 L1370.8 355.43 L1371.11 354.97 L1371.42 354.52 L1371.74 354.06 L1372.05 353.62 L1372.36 353.17 L1372.67 352.73 L1372.98 352.29 L1373.3 351.85 L1373.61 351.42 L1373.92 350.99 L1374.23 350.56 L1374.54 350.14 L1374.86 349.72 L1375.17 349.3 L1375.48 348.88 L1375.79 348.47 L1376.1 348.06 L1376.42 347.65 L1376.73 347.25 L1377.04 346.85 L1377.35 346.45 L1377.66 346.06 L1377.98 345.67 L1378.29 345.28 L1378.6 344.89 L1378.91 344.51 L1379.23 344.13 L1379.54 343.75 L1379.85 343.38 L1380.16 343.01 L1380.47 342.64 L1380.79 342.27 L1381.1 341.91 L1381.41 341.55 L1381.72 341.2 L1382.03 340.84 L1382.35 340.49 L1382.66 340.14 L1382.97 339.8 L1383.28 339.45 L1383.59 339.11 L1383.91 338.77 L1384.22 338.44 L1384.53 338.11 L1384.84 337.78 L1385.15 337.45 L1385.47 337.13 L1385.78 336.81 L1386.09 336.49 L1386.4 336.17 L1386.72 335.86 L1387.03 335.55 L1387.34 335.24 L1387.65 334.94 L1387.96 334.63 L1388.28 334.33 L1388.59 334.04 L1388.9 333.74 L1389.21 333.45 L1389.52 333.16 L1389.84 332.87 L1390.15 332.58 L1390.46 332.3 L1391.36 331.5 L1392.56 330.46 L1393.76 329.46 L1394.96 328.49 L1396.16 327.55 L1397.36 326.64 L1398.56 325.76 L1399.76 324.92 L1400.96 324.1 L1402.16 323.31 L1403.36 322.55 L1404.56 321.81 L1405.77 321.1 L1406.97 320.41 L1408.17 319.74 L1409.37 319.1 L1410.57 318.48 L1411.77 317.88 L1412.97 317.29 L1414.17 316.73 L1415.37 316.18 L1416.57 315.66 L1417.77 315.14 L1418.97 314.65 L1420.17 314.17 L1421.37 313.7 L1422.57 313.25 L1423.77 312.81 L1424.97 312.38 L1426.17 311.96 L1427.37 311.56 L1428.57 311.17 L1429.77 310.78 L1430.98 310.41 L1432.18 310.05 L1433.38 309.7 L1434.58 309.35 L1435.78 309.02 L1436.98 308.69 L1438.18 308.37 L1439.38 308.06 L1440.58 307.76 L1441.78 307.46 L1442.98 307.17 L1444.18 306.89 L1445.38 306.61 L1446.58 306.34 L1447.78 306.08 L1448.98 305.82 L1450.18 305.57 L1451.38 305.33 L1452.58 305.08 L1453.78 304.85 L1454.98 304.62 L1456.18 304.39 L1457.39 304.17 L1458.59 303.96 L1459.79 303.74 L1460.99 303.54 L1462.19 303.33 L1463.39 303.13 L1464.59 302.94 L1465.79 302.75 L1466.99 302.56 L1468.19 302.37 L1469.39 302.19 L1470.59 302.02 L1471.79 301.84 L1472.99 301.67 L1474.19 301.51 L1475.39 301.34 L1476.59 301.18 L1477.79 301.02 L1478.99 300.87 L1480.19 300.72 L1481.39 300.57 L1482.6 300.42 L1483.8 300.28 L1485 300.13 L1486.2 300 L1487.4 299.86 L1488.6 299.73 L1489.8 299.59 L1491 299.46 L1492.2 299.34 L1493.4 299.21 L1494.6 299.09 L1495.8 298.97 L1497 298.85 L1498.2 298.73 L1499.4 298.62 L1500.6 298.51 L1501.8 298.4 L1503 298.29 L1504.2 298.18 L1505.4 298.07 L1506.6 297.97 L1507.81 297.87 L1509.01 297.77 L1510.21 297.67 L1511.41 297.57 L1512.61 297.48 L1513.81 297.38 L1515.01 297.29 L1516.21 297.2 L1517.41 297.11 L1518.61 297.02 L1519.81 296.94 L1521.01 296.85 L1522.21 296.77 L1523.41 296.69 L1524.61 296.61 L1525.81 296.53 L1527.01 296.45 L1528.21 296.37 L1529.41 296.29 L1530.61 296.22 L1531.81 296.14 L1533.02 296.07 L1534.22 296 L1535.42 295.93 L1536.62 295.86 L1537.82 295.79 L1539.02 295.72 L1540.22 295.65 L1541.42 295.59 L1542.62 295.52 L1543.82 295.46 L1545.02 295.39 L1546.22 295.33 L1547.42 295.27 L1548.62 295.21 L1549.82 295.15 L1551.02 295.09 L1552.22 295.03 L1553.42 294.98 L1554.62 294.92 L1555.82 294.86 L1557.02 294.81 L1558.22 294.75 L1559.43 294.7 L1560.63 294.64 L1561.83 294.59 L1563.03 294.54 L1564.23 294.49 L1565.43 294.44 L1566.63 294.39 L1567.83 294.34 L1569.03 294.29 L1570.23 294.24 L1571.43 294.19 L1572.63 294.15 L1573.83 294.1 L1575.03 294.05 L1576.23 294.01 L1577.43 293.96 L1578.63 293.92 L1579.83 293.87 L1581.03 293.83 L1582.23 293.79 L1583.43 293.74 L1584.64 293.7 L1585.84 293.66 L1587.04 293.62 L1588.24 293.58 L1589.44 293.54 L1590.64 293.5 L1591.84 293.46 L1593.04 293.42 L1594.24 293.38 L1595.44 293.34 L1596.64 293.3 L1597.84 293.27 L1599.04 293.23 L1600.24 293.19 L1601.44 293.16 L1602.64 293.12 L1603.84 293.09 L1605.04 293.05 L1606.24 293.02 L1607.44 292.98 L1608.64 292.95 L1609.85 292.91 L1611.05 292.88 L1612.25 292.85 L1613.45 292.81 L1614.65 292.78 L1615.85 292.75 L1617.05 292.72 L1618.25 292.69 L1619.45 292.65 L1620.65 292.62 L1621.85 292.59 L1623.05 292.56 L1624.25 292.53 L1625.45 292.5 L1626.65 292.47 L1627.85 292.44 L1629.05 292.42 L1630.25 292.39 L1631.45 292.36 L1632.65 292.33 L1633.85 292.3 L1635.05 292.28 L1636.26 292.25 L1637.46 292.22 L1638.66 292.19 L1639.86 292.17 L1641.06 292.14 L1642.26 292.12 L1643.46 292.09 L1644.66 292.06 L1645.86 292.04 L1647.06 292.01 L1648.26 291.99 L1649.46 291.96 L1650.66 291.94 L1651.86 291.92 L1653.06 291.89 L1654.26 291.87 L1655.46 291.85 L1656.66 291.82 L1657.86 291.8 L1659.06 291.78 L1660.26 291.75 L1661.47 291.73 L1662.67 291.71 L1663.87 291.69 L1665.07 291.67 L1666.27 291.64 L1667.47 291.62 L1668.67 291.6 L1669.87 291.58 L1671.07 291.56 L1672.27 291.54 L1673.47 291.52 L1674.67 291.5 L1675.87 291.48 L1677.07 291.46 L1678.27 291.44 L1679.47 291.42 L1680.67 291.4 L1681.87 291.38 L1683.07 291.36 L1684.27 291.34 L1685.47 291.32 L1686.68 291.3 L1687.88 291.29 L1689.08 291.27 L1690.28 291.25 L1691.48 291.23 L1692.68 291.21 L1693.88 291.2 L1695.08 291.18 L1696.28 291.16 L1697.48 291.14 L1698.68 291.13 L1699.88 291.11 L1701.08 291.09 L1702.28 291.08 L1703.48 291.06 L1704.68 291.04 L1705.88 291.03 L1707.08 291.01 L1708.28 290.99 L1709.48 290.98 L1710.68 290.96 L1711.88 290.95 L1713.09 290.93 L1714.29 290.92 L1715.49 290.9 L1716.69 290.88 L1717.89 290.87 L1719.09 290.85 L1720.29 290.84 L1721.49 290.83 L1722.69 290.81 L1723.89 290.8 L1725.09 290.78 L1726.29 290.77 L1727.49 290.75 L1728.69 290.74 L1729.89 290.73 L1731.09 290.71 L1732.29 290.7 L1733.49 290.68 L1734.69 290.67 L1735.89 290.66 L1737.09 290.64 L1738.3 290.63 L1739.5 290.62 L1740.7 290.6 L1741.9 290.59 L1743.1 290.58 L1744.3 290.56 L1745.5 290.55 L1746.7 290.54 L1747.9 290.52 L1749.1 290.51 L1750.3 290.5" fill="none" stroke="#D95319" stroke-width="3.0" stroke-linejoin="round"/>
<path d="M1300.5 490.2 L1300.58 487.07 L1300.65 485.77 L1300.73 484.77 L1300.8 483.93 L1300.88 483.18 L1300.95 482.51 L1301.03 481.89 L1301.1 481.31 L1301.18 480.77 L1301.26 480.25 L1301.33 479.76 L1301.41 479.3 L1301.48 478.85 L1301.56 478.41 L1301.63 477.99 L1301.71 477.59 L1301.79 477.2 L1301.86 476.81 L1301.94 476.44 L1302.01 476.08 L1302.09 475.72 L1302.16 475.38 L1302.24 475.04 L1302.31 474.7 L1302.39 474.38 L1302.47 474.06 L1302.54 473.75 L1302.62 473.44 L1302.69 473.13 L1302.77 472.84 L1302.84 472.54 L1302.92 472.26 L1302.99 471.97 L1303.07 471.69 L1303.15 471.42 L1303.22 471.15 L1303.3 470.88 L1303.37 470.61 L1303.45 470.35 L1303.52 470.1 L1303.6 469.84 L1303.68 469.59 L1303.75 469.34 L1303.83 469.1 L1303.9 468.86 L1303.98 468.62 L1304.05 468.38 L1304.13 468.14 L1304.2 467.91 L1304.28 467.68 L1304.36 467.46 L1304.43 467.23 L1304.51 467.01 L1304.58 466.79 L1304.66 466.57 L1304.73 466.36 L1304.81 466.14 L1304.88 465.93 L1304.96 465.72 L1305.04 465.51 L1305.11 465.31 L1305.19 465.11 L1305.26 464.9 L1305.34 464.7 L1305.41 464.5 L1305.49 464.31 L1305.56 464.11 L1305.64 463.92 L1305.72 463.73 L1305.79 463.54 L1305.87 463.35 L1305.94 463.16 L1306.02 462.97 L1306.09 462.79 L1306.17 462.6 L1306.25 462.42 L1306.32 462.24 L1306.4 462.06 L1306.47 461.88 L1306.55 461.71 L1306.62 461.53 L1306.7 461.35 L1306.77 461.18 L1306.85 461.01 L1306.93 460.83 L1307 460.66 L1307.08 460.49 L1307.15 460.32 L1307.23 460.16 L1307.3 459.99 L1307.38 459.82 L1307.45 459.66 L1307.53 459.49 L1307.61 459.33 L1307.68 459.16 L1307.76 459 L1307.83 458.84 L1307.91 458.68 L1307.98 458.52 L1308.06 458.36 L1308.14 458.19 L1308.21 458.03 L1308.29 457.87 L1308.36 457.71 L1308.44 457.56 L1308.51 457.4 L1308.59 457.24 L1308.66 457.08 L1308.74 456.92 L1308.82 456.76 L1308.89 456.6 L1308.97 456.44 L1309.04 456.28 L1309.12 456.13 L1309.19 455.97 L1309.27 455.81 L1309.34 455.65 L1309.42 455.49 L1309.5 455.33 L1309.63 455.04 L1309.94 454.38 L1310.26 453.71 L1310.57 453.03 L1310.88 452.35 L1311.19 451.65 L1311.5 450.95 L1311.82 450.24 L1312.13 449.52 L1312.44 448.79 L1312.75 448.04 L1313.06 447.29 L1313.38 446.53 L1313.69 445.75 L1314 444.97 L1314.31 444.17 L1314.62 443.36 L1314.94 442.55 L1315.25 441.72 L1315.56 440.87 L1315.87 440.02 L1316.18 439.16 L1316.5 438.29 L1316.81 437.4 L1317.12 436.51 L1317.43 435.6 L1317.75 434.69 L1318.06 433.76 L1318.37 432.83 L1318.68 431.88 L1318.99 430.93 L1319.31 429.96 L1319.62 428.99 L1319.93 428.01 L1320.24 427.01 L1320.55 426.02 L1320.87 425.01 L1321.18 423.99 L1321.49 422.97 L1321.8 421.94 L1322.11 420.9 L1322.43 419.85 L1322.74 418.8 L1323.05 417.74 L1323.36 416.68 L1323.67 415.61 L1323.99 414.53 L1324.3 413.45 L1324.61 412.36 L1324.92 411.27 L1325.24 410.17 L1325.55 409.07 L1325.86 407.97 L1326.17 406.86 L1326.48 405.75 L1326.8 404.64 L1327.11 403.52 L1327.42 402.4 L1327.73 401.28 L1328.04 400.15 L1328.36 399.03 L1328.67 397.9 L1328.98 396.77 L1329.29 395.64 L1329.6 394.51 L1329.92 393.38 L1330.23 392.24 L1330.54 391.11 L1330.85 389.98 L1331.16 388.84 L1331.48 387.71 L1331.79 386.57 L1332.1 385.44 L1332.41 384.31 L1332.72 383.18 L1333.04 382.04 L1333.35 380.91 L1333.66 379.78 L1333.97 378.65 L1334.29 377.53 L1334.6 376.4 L1334.91 375.27 L1335.22 374.15 L1335.53 373.03 L1335.85 371.91 L1336.16 370.79 L1336.47 369.67 L1336.78 368.56 L1337.09 367.45 L1337.41 366.34 L1337.72 365.23 L1338.03 364.13 L1338.34 363.02 L1338.65 361.93 L1338.97 360.83 L1339.28 359.73 L1339.59 358.64 L1339.9 357.55 L1340.21 356.47 L1340.53 355.39 L1340.84 354.31 L1341.15 353.23 L1341.46 352.16 L1341.78 351.09 L1342.09 350.02 L1342.4 348.96 L1342.71 347.9 L1343.02 346.84 L1343.34 345.79 L1343.65 344.74 L1343.96 343.7 L1344.27 342.65 L1344.58 341.62 L1344.9 340.58 L1345.21 339.55 L1345.52 338.52 L1345.83 337.5 L1346.14 336.48 L1346.46 335.47 L1346.77 334.46 L1347.08 333.45 L1347.39 332.45 L1347.7 331.45 L1348.02 330.46 L1348.33 329.47 L1348.64 328.48 L1348.95 327.5 L1349.27 326.52 L1349.58 325.55 L1349.89 324.58 L1350.2 323.62 L1350.51 322.66 L1350.83 321.7 L1351.14 320.75 L1351.45 319.8 L1351.76 318.86 L1352.07 317.92 L1352.39 316.99 L1352.7 316.06 L1353.01 315.13 L1353.32 314.21 L1353.63 313.3 L1353.95 312.39 L1354.26 311.48 L1354.57 310.58 L1354.88 309.68 L1355.19 308.79 L1355.51 307.9 L1355.82 307.02 L1356.13 306.14 L1356.44 305.26 L1356.76 304.39 L1357.07 303.53 L1357.38 302.67 L1357.69 301.81 L1358 300.96 L1358.32 300.12 L1358.63 299.28 L1358.94 298.44 L1359.25 297.61 L1359.56 296.78 L1359.88 295.96 L1360.19 295.14 L1360.5 294.33 L1360.81 293.52 L1361.12 292.72 L1361.44 291.92 L1361.75 291.12 L1362.06 290.33 L1362.37 289.55 L1362.68 288.77 L1363 287.99 L1363.31 287.22 L1363.62 286.46 L1363.93 285.69 L1364.25 284.94 L1364.56 284.19 L1364.87 283.44 L1365.18 282.7 L1365.49 281.96 L1365.81 281.23 L1366.12 280.5 L1366.43 279.78 L1366.74 279.06 L1367.05 278.34 L1367.37 277.63 L1367.68 276.93 L1367.99 276.23 L1368.3 275.53 L1368.61 274.84 L1368.93 274.16 L1369.24 273.47 L1369.55 272.8 L1369.86 272.13 L1370.17 271.46 L1370.49 270.79 L1370.8 270.14 L1371.11 269.48 L1371.42 268.83 L1371.74 268.19 L1372.05 267.55 L1372.36 266.91 L1372.67 266.28 L1372.98 265.66 L1373.3 265.03 L1373.61 264.42 L1373.92 263.8 L1374.23 263.19 L1374.54 262.59 L1374.86 261.99 L1375.17 261.4 L1375.48 260.81 L1375.79 260.22 L1376.1 259.64 L1376.42 259.06 L1376.73 258.49 L1377.04 257.92 L1377.35 257.35 L1377.66 256.79 L1377.98 256.24 L1378.29 255.69 L1378.6 255.14 L1378.91 254.6 L1379.23 254.06 L1379.54 253.53 L1379.85 253 L1380.16 252.47 L1380.47 251.95 L1380.79 251.43 L1381.1 250.92 L1381.41 250.41 L1381.72 249.9 L1382.03 249.4 L1382.35 248.91 L1382.66 248.41 L1382.97 247.93 L1383.28 247.44 L1383.59 246.96 L1383.91 246.49 L1384.22 246.01 L1384.53 245.54 L1384.84 245.08 L1385.15 244.62 L1385.47 244.16 L1385.78 243.71 L1386.09 243.26 L1386.4 242.82 L1386.72 242.38 L1387.03 241.94 L1387.34 241.51 L1387.65 241.08 L1387.96 240.65 L1388.28 240.23 L1388.59 239.81 L1388.9 239.4 L1389.21 238.99 L1389.52 238.58 L1389.84 238.18 L1390.15 237.78 L1390.46 237.38 L1391.36 236.26 L1392.56 234.81 L1393.76 233.41 L1394.96 232.06 L1396.16 230.75 L1397.36 229.5 L1398.56 228.29 L1399.76 227.12 L1400.96 226 L1402.16 224.92 L1403.36 223.87 L1404.56 222.87 L1405.77 221.91 L1406.97 220.98 L1408.17 220.09 L1409.37 219.23 L1410.57 218.4 L1411.77 217.6 L1412.97 216.83 L1414.17 216.09 L1415.37 215.38 L1416.57 214.7 L1417.77 214.04 L1418.97 213.4 L1420.17 212.78 L1421.37 212.19 L1422.57 211.62 L1423.77 211.06 L1424.97 210.53 L1426.17 210.01 L1427.37 209.51 L1428.57 209.03 L1429.77 208.56 L1430.98 208.1 L1432.18 207.66 L1433.38 207.23 L1434.58 206.82 L1435.78 206.41 L1436.98 206.02 L1438.18 205.63 L1439.38 205.26 L1440.58 204.9 L1441.78 204.55 L1442.98 204.21 L1444.18 203.87 L1445.38 203.54 L1446.58 203.23 L1447.78 202.92 L1448.98 202.61 L1450.18 202.32 L1451.38 202.03 L1452.58 201.75 L1453.78 201.47 L1454.98 201.2 L1456.18 200.94 L1457.39 200.68 L1458.59 200.43 L1459.79 200.18 L1460.99 199.94 L1462.19 199.7 L1463.39 199.47 L1464.59 199.24 L1465.79 199.02 L1466.99 198.8 L1468.19 198.58 L1469.39 198.37 L1470.59 198.17 L1471.79 197.96 L1472.99 197.76 L1474.19 197.57 L1475.39 197.38 L1476.59 197.19 L1477.79 197 L1478.99 196.82 L1480.19 196.64 L1481.39 196.46 L1482.6 196.29 L1483.8 196.12 L1485 195.95 L1486.2 195.79 L1487.4 195.62 L1488.6 195.46 L1489.8 195.31 L1491 195.15 L1492.2 195 L1493.4 194.85 L1494.6 194.71 L1495.8 194.56 L1497 194.42 L1498.2 194.28 L1499.4 194.15 L1500.6 194.01 L1501.8 193.88 L1503 193.75 L1504.2 193.62 L1505.4 193.49 L1506.6 193.37 L1507.81 193.25 L1509.01 193.13 L1510.21 193.01 L1511.41 192.9 L1512.61 192.78 L1513.81 192.67 L1515.01 192.56 L1516.21 192.45 L1517.41 192.35 L1518.61 192.24 L1519.81 192.14 L1521.01 192.04 L1522.21 191.94 L1523.41 191.85 L1524.61 191.75 L1525.81 191.66 L1527.01 191.56 L1528.21 191.47 L1529.41 191.38 L1530.61 191.3 L1531.81 191.21 L1533.02 191.13 L1534.22 191.04 L1535.42 190.96 L1536.62 190.88 L1537.82 190.8 L1539.02 190.73 L1540.22 190.65 L1541.42 190.58 L1542.62 190.5 L1543.82 190.43 L1545.02 190.36 L1546.22 190.29 L1547.42 190.22 L1548.62 190.16 L1549.82 190.09 L1551.02 190.02 L1552.22 189.96 L1553.42 189.9 L1554.62 189.84 L1555.82 189.77 L1557.02 189.71 L1558.22 189.66 L1559.43 189.6 L1560.63 189.54 L1561.83 189.48 L1563.03 189.43 L1564.23 189.37 L1565.43 189.32 L1566.63 189.27 L1567.83 189.22 L1569.03 189.16 L1570.23 189.11 L1571.43 189.06 L1572.63 189.02 L1573.83 188.97 L1575.03 188.92 L1576.23 188.87 L1577.43 188.83 L1578.63 188.78 L1579.83 188.74 L1581.03 188.69 L1582.23 188.65 L1583.43 188.6 L1584.64 188.56 L1585.84 188.52 L1587.04 188.48 L1588.24 188.44 L1589.44 188.4 L1590.64 188.36 L1591.84 188.32 L1593.04 188.28 L1594.24 188.24 L1595.44 188.2 L1596.64 188.17 L1597.84 188.13 L1599.04 188.09 L1600.24 188.06 L1601.44 188.02 L1602.64 187.98 L1603.84 187.95 L1605.04 187.92 L1606.24 187.88 L1607.44 187.85 L1608.64 187.82 L1609.85 187.78 L1611.05 187.75 L1612.25 187.72 L1613.45 187.69 L1614.65 187.66 L1615.85 187.62 L1617.05 187.59 L1618.25 187.56 L1619.45 187.53 L1620.65 187.5 L1621.85 187.47 L1623.05 187.45 L1624.25 187.42 L1625.45 187.39 L1626.65 187.36 L1627.85 187.33 L1629.05 187.31 L1630.25 187.28 L1631.45 187.25 L1632.65 187.22 L1633.85 187.2 L1635.05 187.17 L1636.26 187.15 L1637.46 187.12 L1638.66 187.1 L1639.86 187.07 L1641.06 187.05 L1642.26 187.02 L1643.46 187 L1644.66 186.97 L1645.86 186.95 L1647.06 186.92 L1648.26 186.9 L1649.46 186.88 L1650.66 186.85 L1651.86 186.83 L1653.06 186.81 L1654.26 186.79 L1655.46 186.76 L1656.66 186.74 L1657.86 186.72 L1659.06 186.7 L1660.26 186.68 L1661.47 186.66 L1662.67 186.64 L1663.87 186.61 L1665.07 186.59 L1666.27 186.57 L1667.47 186.55 L1668.67 186.53 L1669.87 186.51 L1671.07 186.49 L1672.27 186.47 L1673.47 186.45 L1674.67 186.43 L1675.87 186.42 L1677.07 186.4 L1678.27 186.38 L1679.47 186.36 L1680.67 186.34 L1681.87 186.32 L1683.07 186.3 L1684.27 186.29 L1685.47 186.27 L1686.68 186.25 L1687.88 186.23 L1689.08 186.21 L1690.28 186.2 L1691.48 186.18 L1692.68 186.16 L1693.88 186.15 L1695.08 186.13 L1696.28 186.11 L1697.48 186.1 L1698.68 186.08 L1699.88 186.06 L1701.08 186.05 L1702.28 186.03 L1703.48 186.01 L1704.68 186 L1705.88 185.98 L1707.08 185.97 L1708.28 185.95 L1709.48 185.94 L1710.68 185.92 L1711.88 185.91 L1713.09 185.89 L1714.29 185.88 L1715.49 185.86 L1716.69 185.85 L1717.89 185.83 L1719.09 185.82 L1720.29 185.8 L1721.49 185.79 L1722.69 185.77 L1723.89 185.76 L1725.09 185.75 L1726.29 185.73 L1727.49 185.72 L1728.69 185.71 L1729.89 185.69 L1731.09 185.68 L1732.29 185.66 L1733.49 185.65 L1734.69 185.64 L1735.89 185.63 L1737.09 185.61 L1738.3 185.6 L1739.5 185.59 L1740.7 185.57 L1741.9 185.56 L1743.1 185.55 L1744.3 185.53 L1745.5 185.52 L1746.7 185.51 L1747.9 185.5 L1749.1 185.48 L1750.3 185.47" fill="none" stroke="#EDB120" stroke-width="3.0" stroke-linejoin="round"/>
<path d="M1300.5 490.2 L1300.58 487.86 L1300.65 486.87 L1300.73 486.11 L1300.8 485.45 L1300.88 484.87 L1300.95 484.33 L1301.03 483.84 L1301.1 483.37 L1301.18 482.92 L1301.26 482.49 L1301.33 482.08 L1301.41 481.68 L1301.48 481.3 L1301.56 480.92 L1301.63 480.55 L1301.71 480.19 L1301.79 479.84 L1301.86 479.5 L1301.94 479.16 L1302.01 478.82 L1302.09 478.49 L1302.16 478.17 L1302.24 477.85 L1302.31 477.53 L1302.39 477.21 L1302.47 476.9 L1302.54 476.59 L1302.62 476.29 L1302.69 475.98 L1302.77 475.68 L1302.84 475.38 L1302.92 475.09 L1302.99 474.79 L1303.07 474.5 L1303.15 474.21 L1303.22 473.92 L1303.3 473.63 L1303.37 473.34 L1303.45 473.05 L1303.52 472.77 L1303.6 472.48 L1303.68 472.2 L1303.75 471.92 L1303.83 471.64 L1303.9 471.36 L1303.98 471.08 L1304.05 470.8 L1304.13 470.52 L1304.2 470.25 L1304.28 469.97 L1304.36 469.69 L1304.43 469.42 L1304.51 469.14 L1304.58 468.87 L1304.66 468.59 L1304.73 468.32 L1304.81 468.05 L1304.88 467.77 L1304.96 467.5 L1305.04 467.23 L1305.11 466.96 L1305.19 466.68 L1305.26 466.41 L1305.34 466.14 L1305.41 465.87 L1305.49 465.6 L1305.56 465.33 L1305.64 465.05 L1305.72 464.78 L1305.79 464.51 L1305.87 464.24 L1305.94 463.97 L1306.02 463.7 L1306.09 463.43 L1306.17 463.16 L1306.25 462.88 L1306.32 462.61 L1306.4 462.34 L1306.47 462.07 L1306.55 461.8 L1306.62 461.52 L1306.7 461.25 L1306.77 460.98 L1306.85 460.71 L1306.93 460.43 L1307 460.16 L1307.08 459.89 L1307.15 459.62 L1307.23 459.34 L1307.3 459.07 L1307.38 458.79 L1307.45 458.52 L1307.53 458.25 L1307.61 457.97 L1307.68 457.7 L1307.76 457.42 L1307.83 457.14 L1307.91 456.87 L1307.98 456.59 L1308.06 456.31 L1308.14 456.04 L1308.21 455.76 L1308.29 455.48 L1308.36 455.2 L1308.44 454.93 L1308.51 454.65 L1308.59 454.37 L1308.66 454.09 L1308.74 453.81 L1308.82 453.53 L1308.89 453.24 L1308.97 452.96 L1309.04 452.68 L1309.12 452.4 L1309.19 452.11 L1309.27 451.83 L1309.34 451.55 L1309.42 451.26 L1309.5 450.98 L1309.63 450.47 L1309.94 449.28 L1310.26 448.08 L1310.57 446.88 L1310.88 445.66 L1311.19 444.43 L1311.5 443.2 L1311.82 441.95 L1312.13 440.69 L1312.44 439.43 L1312.75 438.15 L1313.06 436.86 L1313.38 435.56 L1313.69 434.25 L1314 432.93 L1314.31 431.6 L1314.62 430.26 L1314.94 428.91 L1315.25 427.54 L1315.56 426.17 L1315.87 424.79 L1316.18 423.4 L1316.5 422 L1316.81 420.59 L1317.12 419.17 L1317.43 417.74 L1317.75 416.31 L1318.06 414.87 L1318.37 413.41 L1318.68 411.96 L1318.99 410.49 L1319.31 409.02 L1319.62 407.54 L1319.93 406.06 L1320.24 404.57 L1320.55 403.07 L1320.87 401.57 L1321.18 400.07 L1321.49 398.56 L1321.8 397.05 L1322.11 395.54 L1322.43 394.02 L1322.74 392.51 L1323.05 390.99 L1323.36 389.46 L1323.67 387.94 L1323.99 386.41 L1324.3 384.88 L1324.61 383.36 L1324.92 381.83 L1325.24 380.3 L1325.55 378.77 L1325.86 377.24 L1326.17 375.71 L1326.48 374.18 L1326.8 372.65 L1327.11 371.12 L1327.42 369.6 L1327.73 368.07 L1328.04 366.55 L1328.36 365.02 L1328.67 363.5 L1328.98 361.98 L1329.29 360.47 L1329.6 358.95 L1329.92 357.44 L1330.23 355.93 L1330.54 354.42 L1330.85 352.91 L1331.16 351.41 L1331.48 349.91 L1331.79 348.41 L1332.1 346.92 L1332.41 345.43 L1332.72 343.94 L1333.04 342.46 L1333.35 340.98 L1333.66 339.5 L1333.97 338.03 L1334.29 336.56 L1334.6 335.1 L1334.91 333.64 L1335.22 332.18 L1335.53 330.73 L1335.85 329.28 L1336.16 327.84 L1336.47 326.4 L1336.78 324.97 L1337.09 323.54 L1337.41 322.11 L1337.72 320.69 L1338.03 319.28 L1338.34 317.87 L1338.65 316.46 L1338.97 315.06 L1339.28 313.67 L1339.59 312.28 L1339.9 310.9 L1340.21 309.52 L1340.53 308.15 L1340.84 306.78 L1341.15 305.42 L1341.46 304.06 L1341.78 302.71 L1342.09 301.37 L1342.4 300.03 L1342.71 298.7 L1343.02 297.37 L1343.34 296.05 L1343.65 294.74 L1343.96 293.43 L1344.27 292.13 L1344.58 290.83 L1344.9 289.54 L1345.21 288.26 L1345.52 286.98 L1345.83 285.71 L1346.14 284.44 L1346.46 283.19 L1346.77 281.93 L1347.08 280.69 L1347.39 279.45 L1347.7 278.22 L1348.02 276.99 L1348.33 275.77 L1348.64 274.56 L1348.95 273.35 L1349.27 272.16 L1349.58 270.96 L1349.89 269.78 L1350.2 268.6 L1350.51 267.43 L1350.83 266.26 L1351.14 265.1 L1351.45 263.95 L1351.76 262.81 L1352.07 261.67 L1352.39 260.54 L1352.7 259.41 L1353.01 258.3 L1353.32 257.19 L1353.63 256.08 L1353.95 254.99 L1354.26 253.9 L1354.57 252.82 L1354.88 251.74 L1355.19 250.67 L1355.51 249.61 L1355.82 248.56 L1356.13 247.51 L1356.44 246.47 L1356.76 245.44 L1357.07 244.41 L1357.38 243.4 L1357.69 242.38 L1358 241.38 L1358.32 240.38 L1358.63 239.39 L1358.94 238.41 L1359.25 237.43 L1359.56 236.46 L1359.88 235.5 L1360.19 234.55 L1360.5 233.6 L1360.81 232.66 L1361.12 231.73 L1361.44 230.8 L1361.75 229.88 L1362.06 228.97 L1362.37 228.06 L1362.68 227.16 L1363 226.27 L1363.31 225.39 L1363.62 224.51 L1363.93 223.64 L1364.25 222.78 L1364.56 221.92 L1364.87 221.07 L1365.18 220.23 L1365.49 219.39 L1365.81 218.56 L1366.12 217.74 L1366.43 216.92 L1366.74 216.11 L1367.05 215.31 L1367.37 214.52 L1367.68 213.73 L1367.99 212.95 L1368.3 212.17 L1368.61 211.41 L1368.93 210.64 L1369.24 209.89 L1369.55 209.14 L1369.86 208.4 L1370.17 207.66 L1370.49 206.93 L1370.8 206.21 L1371.11 205.5 L1371.42 204.79 L1371.74 204.08 L1372.05 203.39 L1372.36 202.7 L1372.67 202.01 L1372.98 201.34 L1373.3 200.66 L1373.61 200 L1373.92 199.34 L1374.23 198.69 L1374.54 198.04 L1374.86 197.4 L1375.17 196.76 L1375.48 196.14 L1375.79 195.51 L1376.1 194.9 L1376.42 194.29 L1376.73 193.68 L1377.04 193.08 L1377.35 192.49 L1377.66 191.9 L1377.98 191.32 L1378.29 190.74 L1378.6 190.17 L1378.91 189.6 L1379.23 189.04 L1379.54 188.49 L1379.85 187.94 L1380.16 187.4 L1380.47 186.86 L1380.79 186.33 L1381.1 185.8 L1381.41 185.28 L1381.72 184.76 L1382.03 184.25 L1382.35 183.74 L1382.66 183.24 L1382.97 182.74 L1383.28 182.25 L1383.59 181.76 L1383.91 181.28 L1384.22 180.8 L1384.53 180.33 L1384.84 179.86 L1385.15 179.4 L1385.47 178.94 L1385.78 178.49 L1386.09 178.04 L1386.4 177.6 L1386.72 177.16 L1387.03 176.72 L1387.34 176.29 L1387.65 175.86 L1387.96 175.44 L1388.28 175.02 L1388.59 174.61 L1388.9 174.2 L1389.21 173.79 L1389.52 173.39 L1389.84 173 L1390.15 172.6 L1390.46 172.21 L1391.36 171.11 L1392.56 169.69 L1393.76 168.33 L1394.96 167.02 L1396.16 165.76 L1397.36 164.54 L1398.56 163.37 L1399.76 162.25 L1400.96 161.16 L1402.16 160.12 L1403.36 159.11 L1404.56 158.14 L1405.77 157.21 L1406.97 156.3 L1408.17 155.43 L1409.37 154.59 L1410.57 153.77 L1411.77 152.99 L1412.97 152.22 L1414.17 151.49 L1415.37 150.78 L1416.57 150.09 L1417.77 149.42 L1418.97 148.77 L1420.17 148.14 L1421.37 147.53 L1422.57 146.95 L1423.77 146.37 L1424.97 145.82 L1426.17 145.28 L1427.37 144.76 L1428.57 144.26 L1429.77 143.76 L1430.98 143.29 L1432.18 142.82 L1433.38 142.38 L1434.58 141.94 L1435.78 141.52 L1436.98 141.1 L1438.18 140.7 L1439.38 140.32 L1440.58 139.94 L1441.78 139.57 L1442.98 139.22 L1444.18 138.87 L1445.38 138.53 L1446.58 138.2 L1447.78 137.88 L1448.98 137.57 L1450.18 137.27 L1451.38 136.98 L1452.58 136.69 L1453.78 136.41 L1454.98 136.14 L1456.18 135.87 L1457.39 135.61 L1458.59 135.36 L1459.79 135.11 L1460.99 134.87 L1462.19 134.64 L1463.39 134.41 L1464.59 134.18 L1465.79 133.96 L1466.99 133.75 L1468.19 133.54 L1469.39 133.33 L1470.59 133.13 L1471.79 132.93 L1472.99 132.74 L1474.19 132.55 L1475.39 132.37 L1476.59 132.19 L1477.79 132.01 L1478.99 131.83 L1480.19 131.66 L1481.39 131.49 L1482.6 131.33 L1483.8 131.17 L1485 131.01 L1486.2 130.85 L1487.4 130.7 L1488.6 130.55 L1489.8 130.4 L1491 130.25 L1492.2 130.11 L1493.4 129.97 L1494.6 129.83 L1495.8 129.69 L1497 129.56 L1498.2 129.43 L1499.4 129.3 L1500.6 129.17 L1501.8 129.04 L1503 128.92 L1504.2 128.8 L1505.4 128.68 L1506.6 128.56 L1507.81 128.44 L1509.01 128.33 L1510.21 128.21 L1511.41 128.1 L1512.61 127.99 L1513.81 127.88 L1515.01 127.77 L1516.21 127.67 L1517.41 127.56 L1518.61 127.46 L1519.81 127.36 L1521.01 127.26 L1522.21 127.16 L1523.41 127.07 L1524.61 126.97 L1525.81 126.88 L1527.01 126.78 L1528.21 126.69 L1529.41 126.6 L1530.61 126.51 L1531.81 126.42 L1533.02 126.34 L1534.22 126.25 L1535.42 126.17 L1536.62 126.09 L1537.82 126 L1539.02 125.92 L1540.22 125.84 L1541.42 125.77 L1542.62 125.69 L1543.82 125.61 L1545.02 125.54 L1546.22 125.47 L1547.42 125.39 L1548.62 125.32 L1549.82 125.25 L1551.02 125.18 L1552.22 125.11 L1553.42 125.05 L1554.62 124.98 L1555.82 124.92 L1557.02 124.85 L1558.22 124.79 L1559.43 124.73 L1560.63 124.67 L1561.83 124.61 L1563.03 124.55 L1564.23 124.49 L1565.43 124.43 L1566.63 124.37 L1567.83 124.32 L1569.03 124.26 L1570.23 124.21 L1571.43 124.16 L1572.63 124.11 L1573.83 124.05 L1575.03 124 L1576.23 123.95 L1577.43 123.9 L1578.63 123.86 L1579.83 123.81 L1581.03 123.76 L1582.23 123.72 L1583.43 123.67 L1584.64 123.63 L1585.84 123.58 L1587.04 123.54 L1588.24 123.5 L1589.44 123.46 L1590.64 123.42 L1591.84 123.38 L1593.04 123.34 L1594.24 123.3 L1595.44 123.26 L1596.64 123.22 L1597.84 123.18 L1599.04 123.14 L1600.24 123.11 L1601.44 123.07 L1602.64 123.04 L1603.84 123 L1605.04 122.97 L1606.24 122.93 L1607.44 122.9 L1608.64 122.87 L1609.85 122.83 L1611.05 122.8 L1612.25 122.77 L1613.45 122.74 L1614.65 122.71 L1615.85 122.68 L1617.05 122.64 L1618.25 122.61 L1619.45 122.59 L1620.65 122.56 L1621.85 122.53 L1623.05 122.5 L1624.25 122.47 L1625.45 122.44 L1626.65 122.41 L1627.85 122.39 L1629.05 122.36 L1630.25 122.33 L1631.45 122.3 L1632.65 122.28 L1633.85 122.25 L1635.05 122.22 L1636.26 122.2 L1637.46 122.17 L1638.66 122.15 L1639.86 122.12 L1641.06 122.1 L1642.26 122.07 L1643.46 122.05 L1644.66 122.02 L1645.86 122 L1647.06 121.97 L1648.26 121.95 L1649.46 121.92 L1650.66 121.9 L1651.86 121.88 L1653.06 121.85 L1654.26 121.83 L1655.46 121.81 L1656.66 121.78 L1657.86 121.76 L1659.06 121.74 L1660.26 121.71 L1661.47 121.69 L1662.67 121.67 L1663.87 121.64 L1665.07 121.62 L1666.27 121.6 L1667.47 121.58 L1668.67 121.55 L1669.87 121.53 L1671.07 121.51 L1672.27 121.49 L1673.47 121.47 L1674.67 121.44 L1675.87 121.42 L1677.07 121.4 L1678.27 121.38 L1679.47 121.36 L1680.67 121.33 L1681.87 121.31 L1683.07 121.29 L1684.27 121.27 L1685.47 121.25 L1686.68 121.23 L1687.88 121.21 L1689.08 121.19 L1690.28 121.17 L1691.48 121.15 L1692.68 121.12 L1693.88 121.1 L1695.08 121.08 L1696.28 121.06 L1697.48 121.04 L1698.68 121.02 L1699.88 121 L1701.08 120.98 L1702.28 120.96 L1703.48 120.94 L1704.68 120.92 L1705.88 120.9 L1707.08 120.88 L1708.28 120.86 L1709.48 120.84 L1710.68 120.82 L1711.88 120.8 L1713.09 120.79 L1714.29 120.77 L1715.49 120.75 L1716.69 120.73 L1717.89 120.71 L1719.09 120.69 L1720.29 120.67 L1721.49 120.65 L1722.69 120.64 L1723.89 120.62 L1725.09 120.6 L1726.29 120.58 L1727.49 120.56 L1728.69 120.54 L1729.89 120.53 L1731.09 120.51 L1732.29 120.49 L1733.49 120.47 L1734.69 120.46 L1735.89 120.44 L1737.09 120.42 L1738.3 120.4 L1739.5 120.39 L1740.7 120.37 L1741.9 120.35 L1743.1 120.34 L1744.3 120.32 L1745.5 120.3 L1746.7 120.29 L1747.9 120.27 L1749.1 120.25 L1750.3 120.24" fill="none" stroke="#7E2F8E" stroke-width="3.0" stroke-linejoin="round"/>
<text class="tk" transform="translate(1300.5 522.7) scale(0.96 1)" text-anchor="middle">0</text>
<text class="tk" transform="translate(1390.46 522.7) scale(0.96 1)" text-anchor="middle">20</text>
<text class="tk" transform="translate(1480.42 522.7) scale(0.96 1)" text-anchor="middle">40</text>
<text class="tk" transform="translate(1570.38 522.7) scale(0.96 1)" text-anchor="middle">60</text>
<text class="tk" transform="translate(1660.34 522.7) scale(0.96 1)" text-anchor="middle">80</text>
<text class="tk" transform="translate(1750.3 522.7) scale(0.96 1)" text-anchor="middle">100</text>
<text class="tk" transform="translate(1291.2 499.4) scale(0.96 1)" text-anchor="end">0</text>
<text class="tk" transform="translate(1291.2 435.12) scale(0.96 1)" text-anchor="end">0.1</text>
<text class="tk" transform="translate(1291.2 370.83) scale(0.96 1)" text-anchor="end">0.2</text>
<text class="tk" transform="translate(1291.2 306.55) scale(0.96 1)" text-anchor="end">0.3</text>
<text class="tk" transform="translate(1291.2 242.27) scale(0.96 1)" text-anchor="end">0.4</text>
<text class="tk" transform="translate(1291.2 177.98) scale(0.96 1)" text-anchor="end">0.5</text>
<text class="tk" transform="translate(1291.2 113.7) scale(0.96 1)" text-anchor="end">0.6</text>
<text class="mt th" font-size="34.47" font-style="italic" transform="translate(1467.61 87.20) scale(1.3050 1)">m</text>
<text class="mt" font-size="35.20" transform="translate(1509.68 90.10) scale(1.3746 1)">=</text>
<text class="mt" font-size="35.37" transform="translate(1546.06 87.05) scale(1.0142 1)">15</text>
<text class="mt th" font-size="38.43" font-style="italic" transform="translate(1518.08 559.12) scale(1.1129 1)">t</text>
<text class="mt th" font-size="36.49" font-style="italic" transform="translate(1236.70 335.59) rotate(-90) scale(1.1547 1)">I</text>
<text class="mt th" font-size="23.88" font-style="italic" transform="translate(1223.60 318.01) rotate(-90) scale(1.3457 1)">h</text>
<text class="mt" font-size="27.66" transform="translate(1249.42 320.34) rotate(-90) scale(0.9925 1)">(</text>
<text class="mt th" font-size="23.88" font-style="italic" transform="translate(1248.30 310.61) rotate(-90) scale(1.1361 1)">k</text>
<text class="mt" font-size="24.08" transform="translate(1248.87 296.18) rotate(-90) scale(0.7476 1)">,</text>
<text class="mt th" font-size="23.83" font-style="italic" transform="translate(1248.30 292.10) rotate(-90) scale(1.3389 1)">m</text>
<text class="mt" font-size="27.66" transform="translate(1249.42 269.73) rotate(-90) scale(0.9267 1)">)</text>
<rect x="1557.5" y="326.4" width="160.2" height="135.1" fill="#fff" stroke="#262626" stroke-width="1.3"/>
<line x1="1563.7" y1="345.6" x2="1630.1" y2="345.6" stroke="#0072BD" stroke-width="3.0"/>
<text class="mt th" font-size="27.05" font-style="italic" transform="translate(1635.22 352.60) scale(1.0809 1)">k</text>
<text class="mt" font-size="27.20" transform="translate(1655.40 355.14) scale(1.3994 1)">=</text>
<text class="mt" font-size="26.72" transform="translate(1684.17 352.60) scale(1.0200 1)">2</text>
<line x1="1563.7" y1="378.4" x2="1630.1" y2="378.4" stroke="#D95319" stroke-width="3.0"/>
<text class="mt th" font-size="27.05" font-style="italic" transform="translate(1635.22 385.00) scale(1.0809 1)">k</text>
<text class="mt" font-size="27.20" transform="translate(1655.40 387.54) scale(1.3994 1)">=</text>
<text class="mt" font-size="26.62" transform="translate(1683.84 384.73) scale(1.0174 1)">5</text>
<line x1="1563.7" y1="411.2" x2="1630.1" y2="411.2" stroke="#EDB120" stroke-width="3.0"/>
<text class="mt th" font-size="27.05" font-style="italic" transform="translate(1635.22 417.60) scale(1.0809 1)">k</text>
<text class="mt" font-size="27.20" transform="translate(1655.40 420.14) scale(1.3994 1)">=</text>
<text class="mt" font-size="26.22" transform="translate(1683.69 417.34) scale(1.0068 1)">10</text>
<line x1="1563.7" y1="442.5" x2="1630.1" y2="442.5" stroke="#7E2F8E" stroke-width="3.0"/>
<text class="mt th" font-size="27.05" font-style="italic" transform="translate(1635.22 449.40) scale(1.0809 1)">k</text>
<text class="mt" font-size="27.20" transform="translate(1655.40 451.94) scale(1.3994 1)">=</text>
<text class="mt" font-size="26.42" transform="translate(1683.68 449.14) scale(1.0022 1)">15</text>
<g stroke="#dfdfdf" stroke-width="1"><line x1="206.46" y1="640.7" x2="206.46" y2="1027.4"/><line x1="296.42" y1="640.7" x2="296.42" y2="1027.4"/><line x1="386.38" y1="640.7" x2="386.38" y2="1027.4"/><line x1="476.34" y1="640.7" x2="476.34" y2="1027.4"/><line x1="116.5" y1="906.56" x2="566.4" y2="906.56"/><line x1="116.5" y1="785.71" x2="566.4" y2="785.71"/><line x1="116.5" y1="664.87" x2="566.4" y2="664.87"/></g>
<path d="M206.46 1027.4v-4.5M206.46 640.7v4.5M296.42 1027.4v-4.5M296.42 640.7v4.5M386.38 1027.4v-4.5M386.38 640.7v4.5M476.34 1027.4v-4.5M476.34 640.7v4.5M116.5 906.56h4.5M566.4 906.56h-4.5M116.5 785.71h4.5M566.4 785.71h-4.5M116.5 664.87h4.5M566.4 664.87h-4.5" fill="none" stroke="#262626" stroke-width="1.3"/>
<rect x="116.5" y="640.7" width="449.9" height="386.7" fill="none" stroke="#262626" stroke-width="1.3"/>
<path d="M116.5 785.71 L116.58 796.47 L116.65 800.92 L116.73 804.32 L116.8 807.19 L116.88 809.72 L116.95 812 L117.03 814.09 L117.1 816.03 L117.18 817.86 L117.26 819.58 L117.33 821.22 L117.41 822.78 L117.48 824.27 L117.56 825.71 L117.63 827.09 L117.71 828.43 L117.79 829.72 L117.86 830.98 L117.94 832.2 L118.01 833.38 L118.09 834.54 L118.16 835.66 L118.24 836.76 L118.31 837.83 L118.39 838.88 L118.47 839.91 L118.54 840.92 L118.62 841.9 L118.69 842.87 L118.77 843.82 L118.84 844.75 L118.92 845.67 L118.99 846.57 L119.07 847.45 L119.15 848.32 L119.22 849.18 L119.3 850.02 L119.37 850.86 L119.45 851.68 L119.52 852.48 L119.6 853.28 L119.68 854.07 L119.75 854.84 L119.83 855.61 L119.9 856.36 L119.98 857.11 L120.05 857.84 L120.13 858.57 L120.2 859.29 L120.28 860 L120.36 860.7 L120.43 861.4 L120.51 862.09 L120.58 862.76 L120.66 863.44 L120.73 864.1 L120.81 864.76 L120.88 865.41 L120.96 866.05 L121.04 866.69 L121.11 867.32 L121.19 867.95 L121.26 868.57 L121.34 869.18 L121.41 869.79 L121.49 870.39 L121.56 870.99 L121.64 871.58 L121.72 872.16 L121.79 872.74 L121.87 873.32 L121.94 873.89 L122.02 874.45 L122.09 875.01 L122.17 875.57 L122.25 876.12 L122.32 876.67 L122.4 877.21 L122.47 877.75 L122.55 878.28 L122.62 878.81 L122.7 879.33 L122.77 879.85 L122.85 880.37 L122.93 880.88 L123 881.39 L123.08 881.9 L123.15 882.4 L123.23 882.9 L123.3 883.39 L123.38 883.88 L123.45 884.37 L123.53 884.85 L123.61 885.33 L123.68 885.81 L123.76 886.28 L123.83 886.75 L123.91 887.22 L123.98 887.68 L124.06 888.14 L124.14 888.6 L124.21 889.05 L124.29 889.5 L124.36 889.95 L124.44 890.39 L124.51 890.84 L124.59 891.27 L124.66 891.71 L124.74 892.14 L124.82 892.57 L124.89 893 L124.97 893.43 L125.04 893.85 L125.12 894.27 L125.19 894.69 L125.27 895.1 L125.34 895.51 L125.42 895.92 L125.5 896.33 L125.63 897.05 L125.94 898.69 L126.26 900.28 L126.57 901.84 L126.88 903.36 L127.19 904.85 L127.5 906.31 L127.82 907.73 L128.13 909.12 L128.44 910.48 L128.75 911.81 L129.06 913.12 L129.38 914.4 L129.69 915.65 L130 916.87 L130.31 918.08 L130.62 919.25 L130.94 920.41 L131.25 921.54 L131.56 922.65 L131.87 923.74 L132.18 924.81 L132.5 925.86 L132.81 926.89 L133.12 927.9 L133.43 928.9 L133.75 929.87 L134.06 930.83 L134.37 931.77 L134.68 932.69 L134.99 933.6 L135.31 934.49 L135.62 935.36 L135.93 936.22 L136.24 937.07 L136.55 937.9 L136.87 938.72 L137.18 939.52 L137.49 940.31 L137.8 941.08 L138.11 941.84 L138.43 942.59 L138.74 943.33 L139.05 944.06 L139.36 944.77 L139.67 945.47 L139.99 946.16 L140.3 946.84 L140.61 947.51 L140.92 948.17 L141.24 948.82 L141.55 949.46 L141.86 950.09 L142.17 950.71 L142.48 951.32 L142.8 951.92 L143.11 952.51 L143.42 953.09 L143.73 953.67 L144.04 954.23 L144.36 954.79 L144.67 955.34 L144.98 955.89 L145.29 956.42 L145.6 956.95 L145.92 957.47 L146.23 957.98 L146.54 958.49 L146.85 958.99 L147.16 959.48 L147.48 959.97 L147.79 960.45 L148.1 960.92 L148.41 961.39 L148.72 961.85 L149.04 962.31 L149.35 962.76 L149.66 963.2 L149.97 963.64 L150.29 964.07 L150.6 964.5 L150.91 964.93 L151.22 965.34 L151.53 965.76 L151.85 966.16 L152.16 966.57 L152.47 966.96 L152.78 967.36 L153.09 967.75 L153.41 968.13 L153.72 968.51 L154.03 968.89 L154.34 969.26 L154.65 969.62 L154.97 969.99 L155.28 970.35 L155.59 970.7 L155.9 971.05 L156.21 971.4 L156.53 971.74 L156.84 972.08 L157.15 972.42 L157.46 972.75 L157.78 973.08 L158.09 973.41 L158.4 973.73 L158.71 974.05 L159.02 974.36 L159.34 974.68 L159.65 974.98 L159.96 975.29 L160.27 975.59 L160.58 975.89 L160.9 976.19 L161.21 976.48 L161.52 976.77 L161.83 977.06 L162.14 977.34 L162.46 977.63 L162.77 977.9 L163.08 978.18 L163.39 978.45 L163.7 978.72 L164.02 978.99 L164.33 979.26 L164.64 979.52 L164.95 979.78 L165.27 980.04 L165.58 980.29 L165.89 980.54 L166.2 980.79 L166.51 981.04 L166.83 981.28 L167.14 981.53 L167.45 981.77 L167.76 982 L168.07 982.24 L168.39 982.47 L168.7 982.7 L169.01 982.93 L169.32 983.16 L169.63 983.38 L169.95 983.6 L170.26 983.82 L170.57 984.04 L170.88 984.25 L171.19 984.47 L171.51 984.68 L171.82 984.89 L172.13 985.1 L172.44 985.3 L172.76 985.5 L173.07 985.71 L173.38 985.9 L173.69 986.1 L174 986.3 L174.32 986.49 L174.63 986.68 L174.94 986.87 L175.25 987.06 L175.56 987.25 L175.88 987.43 L176.19 987.61 L176.5 987.79 L176.81 987.97 L177.12 988.15 L177.44 988.33 L177.75 988.5 L178.06 988.67 L178.37 988.84 L178.68 989.01 L179 989.18 L179.31 989.35 L179.62 989.51 L179.93 989.67 L180.25 989.83 L180.56 989.99 L180.87 990.15 L181.18 990.31 L181.49 990.46 L181.81 990.61 L182.12 990.76 L182.43 990.91 L182.74 991.06 L183.05 991.21 L183.37 991.36 L183.68 991.5 L183.99 991.64 L184.3 991.79 L184.61 991.93 L184.93 992.06 L185.24 992.2 L185.55 992.34 L185.86 992.47 L186.17 992.61 L186.49 992.74 L186.8 992.87 L187.11 993 L187.42 993.13 L187.74 993.26 L188.05 993.39 L188.36 993.51 L188.67 993.64 L188.98 993.76 L189.3 993.89 L189.61 994.01 L189.92 994.13 L190.23 994.25 L190.54 994.37 L190.86 994.49 L191.17 994.6 L191.48 994.72 L191.79 994.83 L192.1 994.95 L192.42 995.06 L192.73 995.18 L193.04 995.29 L193.35 995.4 L193.66 995.51 L193.98 995.62 L194.29 995.73 L194.6 995.84 L194.91 995.94 L195.23 996.05 L195.54 996.16 L195.85 996.26 L196.16 996.37 L196.47 996.47 L196.79 996.57 L197.1 996.68 L197.41 996.78 L197.72 996.88 L198.03 996.98 L198.35 997.08 L198.66 997.18 L198.97 997.28 L199.28 997.38 L199.59 997.48 L199.91 997.58 L200.22 997.67 L200.53 997.77 L200.84 997.86 L201.15 997.96 L201.47 998.06 L201.78 998.15 L202.09 998.24 L202.4 998.34 L202.72 998.43 L203.03 998.52 L203.34 998.61 L203.65 998.7 L203.96 998.8 L204.28 998.89 L204.59 998.98 L204.9 999.07 L205.21 999.15 L205.52 999.24 L205.84 999.33 L206.15 999.42 L206.46 999.51 L207.36 999.76 L208.56 1000.09 L209.76 1000.41 L210.96 1000.73 L212.16 1001.04 L213.36 1001.35 L214.56 1001.65 L215.76 1001.94 L216.96 1002.23 L218.16 1002.52 L219.36 1002.8 L220.56 1003.08 L221.77 1003.35 L222.97 1003.62 L224.17 1003.88 L225.37 1004.14 L226.57 1004.39 L227.77 1004.64 L228.97 1004.88 L230.17 1005.12 L231.37 1005.36 L232.57 1005.59 L233.77 1005.82 L234.97 1006.04 L236.17 1006.26 L237.37 1006.47 L238.57 1006.69 L239.77 1006.89 L240.97 1007.1 L242.17 1007.3 L243.37 1007.5 L244.57 1007.69 L245.77 1007.88 L246.98 1008.07 L248.18 1008.25 L249.38 1008.43 L250.58 1008.61 L251.78 1008.78 L252.98 1008.95 L254.18 1009.12 L255.38 1009.29 L256.58 1009.45 L257.78 1009.61 L258.98 1009.76 L260.18 1009.92 L261.38 1010.07 L262.58 1010.22 L263.78 1010.36 L264.98 1010.51 L266.18 1010.65 L267.38 1010.79 L268.58 1010.93 L269.78 1011.06 L270.98 1011.19 L272.18 1011.32 L273.39 1011.45 L274.59 1011.58 L275.79 1011.71 L276.99 1011.83 L278.19 1011.95 L279.39 1012.07 L280.59 1012.19 L281.79 1012.3 L282.99 1012.42 L284.19 1012.53 L285.39 1012.64 L286.59 1012.75 L287.79 1012.86 L288.99 1012.96 L290.19 1013.06 L291.39 1013.17 L292.59 1013.27 L293.79 1013.37 L294.99 1013.47 L296.19 1013.56 L297.39 1013.66 L298.6 1013.75 L299.8 1013.84 L301 1013.93 L302.2 1014.02 L303.4 1014.11 L304.6 1014.2 L305.8 1014.28 L307 1014.36 L308.2 1014.45 L309.4 1014.53 L310.6 1014.61 L311.8 1014.69 L313 1014.77 L314.2 1014.84 L315.4 1014.92 L316.6 1015 L317.8 1015.07 L319 1015.14 L320.2 1015.22 L321.4 1015.29 L322.6 1015.36 L323.81 1015.43 L325.01 1015.5 L326.21 1015.56 L327.41 1015.63 L328.61 1015.7 L329.81 1015.76 L331.01 1015.83 L332.21 1015.89 L333.41 1015.95 L334.61 1016.02 L335.81 1016.08 L337.01 1016.14 L338.21 1016.2 L339.41 1016.26 L340.61 1016.32 L341.81 1016.38 L343.01 1016.43 L344.21 1016.49 L345.41 1016.55 L346.61 1016.61 L347.81 1016.66 L349.02 1016.72 L350.22 1016.77 L351.42 1016.83 L352.62 1016.88 L353.82 1016.93 L355.02 1016.98 L356.22 1017.04 L357.42 1017.09 L358.62 1017.14 L359.82 1017.19 L361.02 1017.24 L362.22 1017.29 L363.42 1017.34 L364.62 1017.39 L365.82 1017.43 L367.02 1017.48 L368.22 1017.53 L369.42 1017.57 L370.62 1017.62 L371.82 1017.66 L373.02 1017.71 L374.22 1017.75 L375.43 1017.8 L376.63 1017.84 L377.83 1017.88 L379.03 1017.92 L380.23 1017.97 L381.43 1018.01 L382.63 1018.05 L383.83 1018.09 L385.03 1018.13 L386.23 1018.17 L387.43 1018.2 L388.63 1018.24 L389.83 1018.28 L391.03 1018.32 L392.23 1018.35 L393.43 1018.39 L394.63 1018.42 L395.83 1018.46 L397.03 1018.49 L398.23 1018.53 L399.43 1018.56 L400.64 1018.6 L401.84 1018.63 L403.04 1018.66 L404.24 1018.7 L405.44 1018.73 L406.64 1018.76 L407.84 1018.79 L409.04 1018.82 L410.24 1018.85 L411.44 1018.88 L412.64 1018.91 L413.84 1018.94 L415.04 1018.97 L416.24 1019 L417.44 1019.03 L418.64 1019.06 L419.84 1019.09 L421.04 1019.11 L422.24 1019.14 L423.44 1019.17 L424.64 1019.2 L425.85 1019.22 L427.05 1019.25 L428.25 1019.27 L429.45 1019.3 L430.65 1019.33 L431.85 1019.35 L433.05 1019.38 L434.25 1019.4 L435.45 1019.43 L436.65 1019.45 L437.85 1019.48 L439.05 1019.5 L440.25 1019.52 L441.45 1019.55 L442.65 1019.57 L443.85 1019.6 L445.05 1019.62 L446.25 1019.64 L447.45 1019.67 L448.65 1019.69 L449.85 1019.71 L451.05 1019.73 L452.26 1019.76 L453.46 1019.78 L454.66 1019.8 L455.86 1019.82 L457.06 1019.84 L458.26 1019.87 L459.46 1019.89 L460.66 1019.91 L461.86 1019.93 L463.06 1019.95 L464.26 1019.97 L465.46 1019.99 L466.66 1020.02 L467.86 1020.04 L469.06 1020.06 L470.26 1020.08 L471.46 1020.1 L472.66 1020.12 L473.86 1020.14 L475.06 1020.16 L476.26 1020.18 L477.47 1020.2 L478.67 1020.22 L479.87 1020.24 L481.07 1020.26 L482.27 1020.28 L483.47 1020.3 L484.67 1020.32 L485.87 1020.34 L487.07 1020.36 L488.27 1020.38 L489.47 1020.4 L490.67 1020.42 L491.87 1020.44 L493.07 1020.46 L494.27 1020.48 L495.47 1020.5 L496.67 1020.52 L497.87 1020.54 L499.07 1020.56 L500.27 1020.58 L501.47 1020.6 L502.68 1020.62 L503.88 1020.64 L505.08 1020.66 L506.28 1020.68 L507.48 1020.7 L508.68 1020.72 L509.88 1020.74 L511.08 1020.75 L512.28 1020.77 L513.48 1020.79 L514.68 1020.81 L515.88 1020.83 L517.08 1020.85 L518.28 1020.87 L519.48 1020.89 L520.68 1020.91 L521.88 1020.93 L523.08 1020.94 L524.28 1020.96 L525.48 1020.98 L526.68 1021 L527.88 1021.02 L529.09 1021.04 L530.29 1021.06 L531.49 1021.07 L532.69 1021.09 L533.89 1021.11 L535.09 1021.13 L536.29 1021.15 L537.49 1021.17 L538.69 1021.19 L539.89 1021.2 L541.09 1021.22 L542.29 1021.24 L543.49 1021.26 L544.69 1021.28 L545.89 1021.3 L547.09 1021.31 L548.29 1021.33 L549.49 1021.35 L550.69 1021.37 L551.89 1021.39 L553.09 1021.4 L554.3 1021.42 L555.5 1021.44 L556.7 1021.46 L557.9 1021.48 L559.1 1021.49 L560.3 1021.51 L561.5 1021.53 L562.7 1021.55 L563.9 1021.56 L565.1 1021.58 L566.3 1021.6" fill="none" stroke="#0072BD" stroke-width="3.0" stroke-linejoin="round"/>
<path d="M116.5 785.71 L116.58 790.48 L116.65 792.46 L116.73 793.99 L116.8 795.28 L116.88 796.42 L116.95 797.45 L117.03 798.41 L117.1 799.3 L117.18 800.14 L117.26 800.94 L117.33 801.7 L117.41 802.43 L117.48 803.13 L117.56 803.8 L117.63 804.46 L117.71 805.1 L117.79 805.71 L117.86 806.32 L117.94 806.9 L118.01 807.48 L118.09 808.04 L118.16 808.59 L118.24 809.13 L118.31 809.66 L118.39 810.18 L118.47 810.69 L118.54 811.19 L118.62 811.69 L118.69 812.17 L118.77 812.66 L118.84 813.13 L118.92 813.6 L118.99 814.06 L119.07 814.52 L119.15 814.97 L119.22 815.42 L119.3 815.86 L119.37 816.29 L119.45 816.73 L119.52 817.16 L119.6 817.58 L119.68 818 L119.75 818.42 L119.83 818.83 L119.9 819.24 L119.98 819.64 L120.05 820.04 L120.13 820.44 L120.2 820.84 L120.28 821.23 L120.36 821.62 L120.43 822.01 L120.51 822.39 L120.58 822.77 L120.66 823.15 L120.73 823.53 L120.81 823.9 L120.88 824.28 L120.96 824.65 L121.04 825.01 L121.11 825.38 L121.19 825.74 L121.26 826.1 L121.34 826.46 L121.41 826.82 L121.49 827.17 L121.56 827.52 L121.64 827.88 L121.72 828.23 L121.79 828.57 L121.87 828.92 L121.94 829.26 L122.02 829.61 L122.09 829.95 L122.17 830.29 L122.25 830.62 L122.32 830.96 L122.4 831.3 L122.47 831.63 L122.55 831.96 L122.62 832.29 L122.7 832.62 L122.77 832.95 L122.85 833.28 L122.93 833.6 L123 833.93 L123.08 834.25 L123.15 834.57 L123.23 834.89 L123.3 835.21 L123.38 835.53 L123.45 835.84 L123.53 836.16 L123.61 836.48 L123.68 836.79 L123.76 837.1 L123.83 837.41 L123.91 837.72 L123.98 838.03 L124.06 838.34 L124.14 838.65 L124.21 838.95 L124.29 839.26 L124.36 839.56 L124.44 839.87 L124.51 840.17 L124.59 840.47 L124.66 840.77 L124.74 841.07 L124.82 841.37 L124.89 841.67 L124.97 841.96 L125.04 842.26 L125.12 842.55 L125.19 842.85 L125.27 843.14 L125.34 843.43 L125.42 843.72 L125.5 844.02 L125.63 844.53 L125.94 845.72 L126.26 846.89 L126.57 848.05 L126.88 849.2 L127.19 850.34 L127.5 851.47 L127.82 852.58 L128.13 853.69 L128.44 854.78 L128.75 855.87 L129.06 856.94 L129.38 858.01 L129.69 859.06 L130 860.11 L130.31 861.14 L130.62 862.17 L130.94 863.19 L131.25 864.2 L131.56 865.21 L131.87 866.2 L132.18 867.19 L132.5 868.16 L132.81 869.14 L133.12 870.1 L133.43 871.05 L133.75 872 L134.06 872.94 L134.37 873.87 L134.68 874.8 L134.99 875.72 L135.31 876.63 L135.62 877.53 L135.93 878.43 L136.24 879.32 L136.55 880.2 L136.87 881.08 L137.18 881.95 L137.49 882.81 L137.8 883.67 L138.11 884.52 L138.43 885.36 L138.74 886.2 L139.05 887.03 L139.36 887.86 L139.67 888.68 L139.99 889.49 L140.3 890.3 L140.61 891.1 L140.92 891.89 L141.24 892.68 L141.55 893.46 L141.86 894.24 L142.17 895.01 L142.48 895.77 L142.8 896.53 L143.11 897.28 L143.42 898.03 L143.73 898.77 L144.04 899.51 L144.36 900.24 L144.67 900.96 L144.98 901.68 L145.29 902.39 L145.6 903.1 L145.92 903.8 L146.23 904.5 L146.54 905.19 L146.85 905.88 L147.16 906.56 L147.48 907.24 L147.79 907.91 L148.1 908.57 L148.41 909.23 L148.72 909.89 L149.04 910.54 L149.35 911.18 L149.66 911.82 L149.97 912.46 L150.29 913.09 L150.6 913.71 L150.91 914.33 L151.22 914.95 L151.53 915.56 L151.85 916.16 L152.16 916.76 L152.47 917.36 L152.78 917.95 L153.09 918.53 L153.41 919.12 L153.72 919.69 L154.03 920.26 L154.34 920.83 L154.65 921.39 L154.97 921.95 L155.28 922.5 L155.59 923.05 L155.9 923.6 L156.21 924.14 L156.53 924.67 L156.84 925.2 L157.15 925.73 L157.46 926.25 L157.78 926.76 L158.09 927.27 L158.4 927.78 L158.71 928.28 L159.02 928.78 L159.34 929.28 L159.65 929.77 L159.96 930.25 L160.27 930.73 L160.58 931.21 L160.9 931.68 L161.21 932.15 L161.52 932.61 L161.83 933.07 L162.14 933.52 L162.46 933.98 L162.77 934.42 L163.08 934.87 L163.39 935.3 L163.7 935.74 L164.02 936.17 L164.33 936.6 L164.64 937.02 L164.95 937.44 L165.27 937.85 L165.58 938.26 L165.89 938.67 L166.2 939.08 L166.51 939.48 L166.83 939.87 L167.14 940.27 L167.45 940.66 L167.76 941.04 L168.07 941.42 L168.39 941.8 L168.7 942.18 L169.01 942.55 L169.32 942.92 L169.63 943.29 L169.95 943.65 L170.26 944.01 L170.57 944.37 L170.88 944.72 L171.19 945.07 L171.51 945.42 L171.82 945.76 L172.13 946.11 L172.44 946.44 L172.76 946.78 L173.07 947.11 L173.38 947.44 L173.69 947.77 L174 948.09 L174.32 948.41 L174.63 948.73 L174.94 949.05 L175.25 949.36 L175.56 949.67 L175.88 949.98 L176.19 950.29 L176.5 950.59 L176.81 950.89 L177.12 951.19 L177.44 951.49 L177.75 951.78 L178.06 952.08 L178.37 952.37 L178.68 952.66 L179 952.94 L179.31 953.22 L179.62 953.51 L179.93 953.79 L180.25 954.06 L180.56 954.34 L180.87 954.61 L181.18 954.89 L181.49 955.16 L181.81 955.42 L182.12 955.69 L182.43 955.95 L182.74 956.22 L183.05 956.48 L183.37 956.74 L183.68 957 L183.99 957.25 L184.3 957.51 L184.61 957.76 L184.93 958.01 L185.24 958.26 L185.55 958.51 L185.86 958.76 L186.17 959 L186.49 959.25 L186.8 959.49 L187.11 959.73 L187.42 959.97 L187.74 960.21 L188.05 960.45 L188.36 960.68 L188.67 960.92 L188.98 961.15 L189.3 961.38 L189.61 961.61 L189.92 961.84 L190.23 962.07 L190.54 962.3 L190.86 962.52 L191.17 962.75 L191.48 962.97 L191.79 963.19 L192.1 963.41 L192.42 963.63 L192.73 963.85 L193.04 964.07 L193.35 964.29 L193.66 964.5 L193.98 964.72 L194.29 964.93 L194.6 965.14 L194.91 965.36 L195.23 965.57 L195.54 965.78 L195.85 965.99 L196.16 966.19 L196.47 966.4 L196.79 966.61 L197.1 966.81 L197.41 967.02 L197.72 967.22 L198.03 967.42 L198.35 967.62 L198.66 967.82 L198.97 968.02 L199.28 968.22 L199.59 968.42 L199.91 968.61 L200.22 968.81 L200.53 969.01 L200.84 969.2 L201.15 969.39 L201.47 969.59 L201.78 969.78 L202.09 969.97 L202.4 970.16 L202.72 970.35 L203.03 970.54 L203.34 970.73 L203.65 970.91 L203.96 971.1 L204.28 971.29 L204.59 971.47 L204.9 971.65 L205.21 971.84 L205.52 972.02 L205.84 972.2 L206.15 972.38 L206.46 972.56 L207.36 973.08 L208.56 973.76 L209.76 974.43 L210.96 975.08 L212.16 975.73 L213.36 976.37 L214.56 976.99 L215.76 977.61 L216.96 978.21 L218.16 978.8 L219.36 979.39 L220.56 979.96 L221.77 980.52 L222.97 981.08 L224.17 981.62 L225.37 982.15 L226.57 982.68 L227.77 983.19 L228.97 983.7 L230.17 984.2 L231.37 984.68 L232.57 985.16 L233.77 985.64 L234.97 986.1 L236.17 986.55 L237.37 987 L238.57 987.44 L239.77 987.87 L240.97 988.29 L242.17 988.7 L243.37 989.11 L244.57 989.5 L245.77 989.89 L246.98 990.28 L248.18 990.65 L249.38 991.01 L250.58 991.37 L251.78 991.72 L252.98 992.06 L254.18 992.4 L255.38 992.73 L256.58 993.05 L257.78 993.36 L258.98 993.67 L260.18 993.97 L261.38 994.26 L262.58 994.55 L263.78 994.83 L264.98 995.11 L266.18 995.38 L267.38 995.65 L268.58 995.91 L269.78 996.17 L270.98 996.42 L272.18 996.66 L273.39 996.91 L274.59 997.14 L275.79 997.38 L276.99 997.61 L278.19 997.83 L279.39 998.05 L280.59 998.27 L281.79 998.49 L282.99 998.7 L284.19 998.9 L285.39 999.11 L286.59 999.31 L287.79 999.51 L288.99 999.7 L290.19 999.89 L291.39 1000.08 L292.59 1000.26 L293.79 1000.45 L294.99 1000.63 L296.19 1000.8 L297.39 1000.98 L298.6 1001.15 L299.8 1001.32 L301 1001.49 L302.2 1001.65 L303.4 1001.81 L304.6 1001.97 L305.8 1002.13 L307 1002.29 L308.2 1002.44 L309.4 1002.59 L310.6 1002.74 L311.8 1002.89 L313 1003.03 L314.2 1003.18 L315.4 1003.32 L316.6 1003.46 L317.8 1003.6 L319 1003.74 L320.2 1003.87 L321.4 1004.01 L322.6 1004.14 L323.81 1004.27 L325.01 1004.4 L326.21 1004.53 L327.41 1004.66 L328.61 1004.78 L329.81 1004.91 L331.01 1005.03 L332.21 1005.15 L333.41 1005.27 L334.61 1005.39 L335.81 1005.51 L337.01 1005.63 L338.21 1005.75 L339.41 1005.86 L340.61 1005.98 L341.81 1006.09 L343.01 1006.2 L344.21 1006.32 L345.41 1006.43 L346.61 1006.54 L347.81 1006.65 L349.02 1006.76 L350.22 1006.87 L351.42 1006.97 L352.62 1007.08 L353.82 1007.19 L355.02 1007.29 L356.22 1007.39 L357.42 1007.5 L358.62 1007.6 L359.82 1007.7 L361.02 1007.8 L362.22 1007.9 L363.42 1008 L364.62 1008.1 L365.82 1008.2 L367.02 1008.29 L368.22 1008.39 L369.42 1008.48 L370.62 1008.58 L371.82 1008.67 L373.02 1008.76 L374.22 1008.85 L375.43 1008.94 L376.63 1009.04 L377.83 1009.12 L379.03 1009.21 L380.23 1009.3 L381.43 1009.39 L382.63 1009.47 L383.83 1009.56 L385.03 1009.64 L386.23 1009.73 L387.43 1009.81 L388.63 1009.89 L389.83 1009.98 L391.03 1010.06 L392.23 1010.14 L393.43 1010.22 L394.63 1010.3 L395.83 1010.37 L397.03 1010.45 L398.23 1010.53 L399.43 1010.6 L400.64 1010.68 L401.84 1010.75 L403.04 1010.83 L404.24 1010.9 L405.44 1010.98 L406.64 1011.05 L407.84 1011.12 L409.04 1011.19 L410.24 1011.26 L411.44 1011.33 L412.64 1011.4 L413.84 1011.47 L415.04 1011.54 L416.24 1011.6 L417.44 1011.67 L418.64 1011.74 L419.84 1011.8 L421.04 1011.87 L422.24 1011.93 L423.44 1011.99 L424.64 1012.06 L425.85 1012.12 L427.05 1012.18 L428.25 1012.24 L429.45 1012.31 L430.65 1012.37 L431.85 1012.43 L433.05 1012.49 L434.25 1012.55 L435.45 1012.6 L436.65 1012.66 L437.85 1012.72 L439.05 1012.78 L440.25 1012.83 L441.45 1012.89 L442.65 1012.95 L443.85 1013 L445.05 1013.06 L446.25 1013.11 L447.45 1013.16 L448.65 1013.22 L449.85 1013.27 L451.05 1013.32 L452.26 1013.38 L453.46 1013.43 L454.66 1013.48 L455.86 1013.53 L457.06 1013.58 L458.26 1013.63 L459.46 1013.68 L460.66 1013.73 L461.86 1013.78 L463.06 1013.83 L464.26 1013.88 L465.46 1013.92 L466.66 1013.97 L467.86 1014.02 L469.06 1014.06 L470.26 1014.11 L471.46 1014.16 L472.66 1014.2 L473.86 1014.25 L475.06 1014.29 L476.26 1014.34 L477.47 1014.38 L478.67 1014.42 L479.87 1014.47 L481.07 1014.51 L482.27 1014.55 L483.47 1014.6 L484.67 1014.64 L485.87 1014.68 L487.07 1014.72 L488.27 1014.76 L489.47 1014.8 L490.67 1014.84 L491.87 1014.88 L493.07 1014.92 L494.27 1014.96 L495.47 1015 L496.67 1015.04 L497.87 1015.08 L499.07 1015.12 L500.27 1015.16 L501.47 1015.2 L502.68 1015.23 L503.88 1015.27 L505.08 1015.31 L506.28 1015.35 L507.48 1015.38 L508.68 1015.42 L509.88 1015.46 L511.08 1015.49 L512.28 1015.53 L513.48 1015.57 L514.68 1015.6 L515.88 1015.64 L517.08 1015.67 L518.28 1015.71 L519.48 1015.74 L520.68 1015.78 L521.88 1015.81 L523.08 1015.85 L524.28 1015.88 L525.48 1015.92 L526.68 1015.95 L527.88 1015.98 L529.09 1016.02 L530.29 1016.05 L531.49 1016.09 L532.69 1016.12 L533.89 1016.15 L535.09 1016.19 L536.29 1016.22 L537.49 1016.25 L538.69 1016.28 L539.89 1016.32 L541.09 1016.35 L542.29 1016.38 L543.49 1016.41 L544.69 1016.45 L545.89 1016.48 L547.09 1016.51 L548.29 1016.54 L549.49 1016.57 L550.69 1016.61 L551.89 1016.64 L553.09 1016.67 L554.3 1016.7 L555.5 1016.73 L556.7 1016.76 L557.9 1016.79 L559.1 1016.83 L560.3 1016.86 L561.5 1016.89 L562.7 1016.92 L563.9 1016.95 L565.1 1016.98 L566.3 1017.01" fill="none" stroke="#D95319" stroke-width="3.0" stroke-linejoin="round"/>
<path d="M116.5 785.71 L116.58 777.99 L116.65 774.82 L116.73 772.4 L116.8 770.39 L116.88 768.62 L116.95 767.04 L117.03 765.6 L117.1 764.28 L117.18 763.04 L117.26 761.88 L117.33 760.79 L117.41 759.75 L117.48 758.77 L117.56 757.83 L117.63 756.93 L117.71 756.07 L117.79 755.25 L117.86 754.46 L117.94 753.7 L118.01 752.97 L118.09 752.26 L118.16 751.58 L118.24 750.92 L118.31 750.29 L118.39 749.67 L118.47 749.08 L118.54 748.5 L118.62 747.95 L118.69 747.41 L118.77 746.88 L118.84 746.38 L118.92 745.89 L118.99 745.41 L119.07 744.95 L119.15 744.5 L119.22 744.07 L119.3 743.65 L119.37 743.25 L119.45 742.86 L119.52 742.48 L119.6 742.11 L119.68 741.75 L119.75 741.41 L119.83 741.08 L119.9 740.76 L119.98 740.45 L120.05 740.16 L120.13 739.87 L120.2 739.59 L120.28 739.33 L120.36 739.07 L120.43 738.83 L120.51 738.59 L120.58 738.37 L120.66 738.16 L120.73 737.95 L120.81 737.76 L120.88 737.57 L120.96 737.39 L121.04 737.23 L121.11 737.07 L121.19 736.92 L121.26 736.78 L121.34 736.65 L121.41 736.53 L121.49 736.42 L121.56 736.32 L121.64 736.22 L121.72 736.14 L121.79 736.06 L121.87 735.99 L121.94 735.93 L122.02 735.88 L122.09 735.84 L122.17 735.8 L122.25 735.78 L122.32 735.76 L122.4 735.75 L122.47 735.75 L122.55 735.75 L122.62 735.77 L122.7 735.79 L122.77 735.82 L122.85 735.86 L122.93 735.9 L123 735.96 L123.08 736.02 L123.15 736.08 L123.23 736.15 L123.3 736.23 L123.38 736.32 L123.45 736.41 L123.53 736.51 L123.61 736.61 L123.68 736.72 L123.76 736.83 L123.83 736.95 L123.91 737.07 L123.98 737.2 L124.06 737.33 L124.14 737.47 L124.21 737.61 L124.29 737.76 L124.36 737.91 L124.44 738.06 L124.51 738.22 L124.59 738.39 L124.66 738.55 L124.74 738.72 L124.82 738.9 L124.89 739.08 L124.97 739.26 L125.04 739.44 L125.12 739.63 L125.19 739.82 L125.27 740.01 L125.34 740.21 L125.42 740.41 L125.5 740.61 L125.63 740.98 L125.94 741.86 L126.26 742.78 L126.57 743.73 L126.88 744.71 L127.19 745.72 L127.5 746.76 L127.82 747.81 L128.13 748.89 L128.44 749.98 L128.75 751.09 L129.06 752.2 L129.38 753.33 L129.69 754.47 L130 755.61 L130.31 756.76 L130.62 757.91 L130.94 759.07 L131.25 760.23 L131.56 761.39 L131.87 762.55 L132.18 763.71 L132.5 764.88 L132.81 766.04 L133.12 767.2 L133.43 768.36 L133.75 769.52 L134.06 770.67 L134.37 771.83 L134.68 772.98 L134.99 774.13 L135.31 775.27 L135.62 776.42 L135.93 777.56 L136.24 778.69 L136.55 779.83 L136.87 780.96 L137.18 782.09 L137.49 783.21 L137.8 784.34 L138.11 785.46 L138.43 786.58 L138.74 787.7 L139.05 788.81 L139.36 789.92 L139.67 791.04 L139.99 792.14 L140.3 793.25 L140.61 794.35 L140.92 795.45 L141.24 796.55 L141.55 797.64 L141.86 798.73 L142.17 799.81 L142.48 800.9 L142.8 801.98 L143.11 803.05 L143.42 804.12 L143.73 805.19 L144.04 806.25 L144.36 807.31 L144.67 808.37 L144.98 809.42 L145.29 810.46 L145.6 811.51 L145.92 812.54 L146.23 813.58 L146.54 814.61 L146.85 815.63 L147.16 816.65 L147.48 817.66 L147.79 818.67 L148.1 819.68 L148.41 820.68 L148.72 821.68 L149.04 822.67 L149.35 823.65 L149.66 824.63 L149.97 825.61 L150.29 826.58 L150.6 827.54 L150.91 828.5 L151.22 829.45 L151.53 830.4 L151.85 831.34 L152.16 832.28 L152.47 833.21 L152.78 834.14 L153.09 835.06 L153.41 835.97 L153.72 836.88 L154.03 837.79 L154.34 838.68 L154.65 839.58 L154.97 840.46 L155.28 841.34 L155.59 842.22 L155.9 843.08 L156.21 843.95 L156.53 844.8 L156.84 845.65 L157.15 846.5 L157.46 847.34 L157.78 848.17 L158.09 849 L158.4 849.82 L158.71 850.64 L159.02 851.45 L159.34 852.26 L159.65 853.06 L159.96 853.85 L160.27 854.64 L160.58 855.43 L160.9 856.21 L161.21 856.99 L161.52 857.76 L161.83 858.52 L162.14 859.28 L162.46 860.04 L162.77 860.79 L163.08 861.54 L163.39 862.28 L163.7 863.02 L164.02 863.75 L164.33 864.48 L164.64 865.2 L164.95 865.93 L165.27 866.64 L165.58 867.35 L165.89 868.06 L166.2 868.77 L166.51 869.47 L166.83 870.16 L167.14 870.86 L167.45 871.55 L167.76 872.23 L168.07 872.91 L168.39 873.59 L168.7 874.27 L169.01 874.94 L169.32 875.61 L169.63 876.27 L169.95 876.93 L170.26 877.59 L170.57 878.25 L170.88 878.9 L171.19 879.55 L171.51 880.2 L171.82 880.84 L172.13 881.48 L172.44 882.12 L172.76 882.75 L173.07 883.38 L173.38 884.01 L173.69 884.64 L174 885.26 L174.32 885.87 L174.63 886.49 L174.94 887.1 L175.25 887.71 L175.56 888.31 L175.88 888.91 L176.19 889.51 L176.5 890.11 L176.81 890.7 L177.12 891.29 L177.44 891.87 L177.75 892.45 L178.06 893.03 L178.37 893.6 L178.68 894.17 L179 894.74 L179.31 895.3 L179.62 895.86 L179.93 896.41 L180.25 896.97 L180.56 897.51 L180.87 898.06 L181.18 898.6 L181.49 899.13 L181.81 899.67 L182.12 900.2 L182.43 900.72 L182.74 901.24 L183.05 901.76 L183.37 902.27 L183.68 902.78 L183.99 903.29 L184.3 903.79 L184.61 904.29 L184.93 904.78 L185.24 905.27 L185.55 905.75 L185.86 906.23 L186.17 906.71 L186.49 907.18 L186.8 907.65 L187.11 908.11 L187.42 908.57 L187.74 909.03 L188.05 909.48 L188.36 909.93 L188.67 910.37 L188.98 910.81 L189.3 911.24 L189.61 911.67 L189.92 912.1 L190.23 912.52 L190.54 912.94 L190.86 913.35 L191.17 913.76 L191.48 914.17 L191.79 914.57 L192.1 914.97 L192.42 915.36 L192.73 915.75 L193.04 916.14 L193.35 916.52 L193.66 916.9 L193.98 917.27 L194.29 917.64 L194.6 918.01 L194.91 918.38 L195.23 918.74 L195.54 919.1 L195.85 919.46 L196.16 919.81 L196.47 920.16 L196.79 920.51 L197.1 920.86 L197.41 921.2 L197.72 921.54 L198.03 921.88 L198.35 922.21 L198.66 922.55 L198.97 922.88 L199.28 923.21 L199.59 923.53 L199.91 923.86 L200.22 924.18 L200.53 924.5 L200.84 924.82 L201.15 925.14 L201.47 925.46 L201.78 925.77 L202.09 926.08 L202.4 926.39 L202.72 926.7 L203.03 927.01 L203.34 927.32 L203.65 927.63 L203.96 927.93 L204.28 928.24 L204.59 928.54 L204.9 928.84 L205.21 929.14 L205.52 929.44 L205.84 929.74 L206.15 930.04 L206.46 930.33 L207.36 931.18 L208.56 932.3 L209.76 933.41 L210.96 934.5 L212.16 935.57 L213.36 936.63 L214.56 937.67 L215.76 938.69 L216.96 939.7 L218.16 940.68 L219.36 941.65 L220.56 942.6 L221.77 943.53 L222.97 944.44 L224.17 945.33 L225.37 946.21 L226.57 947.07 L227.77 947.92 L228.97 948.76 L230.17 949.59 L231.37 950.4 L232.57 951.21 L233.77 952.01 L234.97 952.79 L236.17 953.57 L237.37 954.34 L238.57 955.1 L239.77 955.85 L240.97 956.59 L242.17 957.32 L243.37 958.03 L244.57 958.73 L245.77 959.43 L246.98 960.1 L248.18 960.77 L249.38 961.42 L250.58 962.07 L251.78 962.69 L252.98 963.31 L254.18 963.91 L255.38 964.5 L256.58 965.07 L257.78 965.64 L258.98 966.19 L260.18 966.74 L261.38 967.27 L262.58 967.8 L263.78 968.31 L264.98 968.82 L266.18 969.32 L267.38 969.81 L268.58 970.29 L269.78 970.76 L270.98 971.23 L272.18 971.69 L273.39 972.15 L274.59 972.6 L275.79 973.04 L276.99 973.48 L278.19 973.91 L279.39 974.33 L280.59 974.75 L281.79 975.17 L282.99 975.58 L284.19 975.98 L285.39 976.38 L286.59 976.77 L287.79 977.16 L288.99 977.54 L290.19 977.91 L291.39 978.28 L292.59 978.64 L293.79 979 L294.99 979.35 L296.19 979.7 L297.39 980.04 L298.6 980.37 L299.8 980.7 L301 981.02 L302.2 981.34 L303.4 981.65 L304.6 981.96 L305.8 982.27 L307 982.56 L308.2 982.86 L309.4 983.15 L310.6 983.43 L311.8 983.72 L313 983.99 L314.2 984.27 L315.4 984.54 L316.6 984.8 L317.8 985.06 L319 985.32 L320.2 985.58 L321.4 985.83 L322.6 986.08 L323.81 986.33 L325.01 986.57 L326.21 986.81 L327.41 987.05 L328.61 987.28 L329.81 987.51 L331.01 987.74 L332.21 987.97 L333.41 988.19 L334.61 988.42 L335.81 988.64 L337.01 988.85 L338.21 989.07 L339.41 989.29 L340.61 989.5 L341.81 989.71 L343.01 989.92 L344.21 990.12 L345.41 990.33 L346.61 990.53 L347.81 990.74 L349.02 990.94 L350.22 991.13 L351.42 991.33 L352.62 991.52 L353.82 991.72 L355.02 991.91 L356.22 992.1 L357.42 992.28 L358.62 992.47 L359.82 992.65 L361.02 992.83 L362.22 993.01 L363.42 993.19 L364.62 993.36 L365.82 993.54 L367.02 993.71 L368.22 993.88 L369.42 994.05 L370.62 994.21 L371.82 994.38 L373.02 994.54 L374.22 994.7 L375.43 994.85 L376.63 995.01 L377.83 995.16 L379.03 995.32 L380.23 995.46 L381.43 995.61 L382.63 995.76 L383.83 995.9 L385.03 996.04 L386.23 996.18 L387.43 996.32 L388.63 996.45 L389.83 996.59 L391.03 996.72 L392.23 996.85 L393.43 996.98 L394.63 997.1 L395.83 997.23 L397.03 997.35 L398.23 997.47 L399.43 997.59 L400.64 997.71 L401.84 997.83 L403.04 997.94 L404.24 998.06 L405.44 998.17 L406.64 998.28 L407.84 998.39 L409.04 998.5 L410.24 998.61 L411.44 998.72 L412.64 998.83 L413.84 998.94 L415.04 999.04 L416.24 999.15 L417.44 999.25 L418.64 999.36 L419.84 999.46 L421.04 999.56 L422.24 999.66 L423.44 999.77 L424.64 999.87 L425.85 999.97 L427.05 1000.07 L428.25 1000.17 L429.45 1000.27 L430.65 1000.37 L431.85 1000.47 L433.05 1000.57 L434.25 1000.67 L435.45 1000.77 L436.65 1000.87 L437.85 1000.97 L439.05 1001.07 L440.25 1001.17 L441.45 1001.27 L442.65 1001.37 L443.85 1001.47 L445.05 1001.56 L446.25 1001.66 L447.45 1001.76 L448.65 1001.85 L449.85 1001.95 L451.05 1002.05 L452.26 1002.14 L453.46 1002.24 L454.66 1002.33 L455.86 1002.43 L457.06 1002.52 L458.26 1002.61 L459.46 1002.71 L460.66 1002.8 L461.86 1002.89 L463.06 1002.98 L464.26 1003.07 L465.46 1003.16 L466.66 1003.25 L467.86 1003.34 L469.06 1003.43 L470.26 1003.51 L471.46 1003.6 L472.66 1003.69 L473.86 1003.77 L475.06 1003.86 L476.26 1003.94 L477.47 1004.02 L478.67 1004.1 L479.87 1004.19 L481.07 1004.27 L482.27 1004.35 L483.47 1004.43 L484.67 1004.51 L485.87 1004.58 L487.07 1004.66 L488.27 1004.74 L489.47 1004.81 L490.67 1004.89 L491.87 1004.96 L493.07 1005.04 L494.27 1005.11 L495.47 1005.19 L496.67 1005.26 L497.87 1005.33 L499.07 1005.4 L500.27 1005.47 L501.47 1005.54 L502.68 1005.61 L503.88 1005.68 L505.08 1005.75 L506.28 1005.82 L507.48 1005.89 L508.68 1005.95 L509.88 1006.02 L511.08 1006.09 L512.28 1006.15 L513.48 1006.22 L514.68 1006.28 L515.88 1006.35 L517.08 1006.41 L518.28 1006.48 L519.48 1006.54 L520.68 1006.6 L521.88 1006.67 L523.08 1006.73 L524.28 1006.79 L525.48 1006.85 L526.68 1006.91 L527.88 1006.97 L529.09 1007.03 L530.29 1007.09 L531.49 1007.15 L532.69 1007.21 L533.89 1007.27 L535.09 1007.33 L536.29 1007.39 L537.49 1007.45 L538.69 1007.51 L539.89 1007.57 L541.09 1007.62 L542.29 1007.68 L543.49 1007.74 L544.69 1007.79 L545.89 1007.85 L547.09 1007.91 L548.29 1007.96 L549.49 1008.02 L550.69 1008.08 L551.89 1008.13 L553.09 1008.19 L554.3 1008.24 L555.5 1008.3 L556.7 1008.35 L557.9 1008.41 L559.1 1008.46 L560.3 1008.52 L561.5 1008.57 L562.7 1008.63 L563.9 1008.68 L565.1 1008.74 L566.3 1008.79" fill="none" stroke="#EDB120" stroke-width="3.0" stroke-linejoin="round"/>
<path d="M116.5 785.71 L116.58 766.25 L116.65 758.26 L116.73 752.18 L116.8 747.1 L116.88 742.66 L116.95 738.68 L117.03 735.05 L117.1 731.71 L117.18 728.59 L117.26 725.67 L117.33 722.91 L117.41 720.3 L117.48 717.82 L117.56 715.46 L117.63 713.19 L117.71 711.03 L117.79 708.95 L117.86 706.95 L117.94 705.02 L118.01 703.16 L118.09 701.36 L118.16 699.63 L118.24 697.95 L118.31 696.32 L118.39 694.74 L118.47 693.21 L118.54 691.73 L118.62 690.28 L118.69 688.88 L118.77 687.52 L118.84 686.19 L118.92 684.9 L118.99 683.64 L119.07 682.42 L119.15 681.22 L119.22 680.06 L119.3 678.93 L119.37 677.83 L119.45 676.75 L119.52 675.7 L119.6 674.67 L119.68 673.67 L119.75 672.7 L119.83 671.75 L119.9 670.82 L119.98 669.91 L120.05 669.02 L120.13 668.16 L120.2 667.32 L120.28 666.49 L120.36 665.69 L120.43 664.91 L120.51 664.14 L120.58 663.39 L120.66 662.66 L120.73 661.95 L120.81 661.25 L120.88 660.57 L120.96 659.91 L121.04 659.27 L121.11 658.64 L121.19 658.02 L121.26 657.42 L121.34 656.84 L121.41 656.27 L121.49 655.71 L121.56 655.17 L121.64 654.64 L121.72 654.13 L121.79 653.63 L121.87 653.14 L121.94 652.67 L122.02 652.2 L122.09 651.75 L122.17 651.32 L122.25 650.89 L122.32 650.48 L122.4 650.08 L122.47 649.69 L122.55 649.31 L122.62 648.95 L122.7 648.59 L122.77 648.25 L122.85 647.92 L122.93 647.59 L123 647.28 L123.08 646.98 L123.15 646.69 L123.23 646.41 L123.3 646.14 L123.38 645.88 L123.45 645.63 L123.53 645.39 L123.61 645.16 L123.68 644.94 L123.76 644.73 L123.83 644.52 L123.91 644.33 L123.98 644.14 L124.06 643.97 L124.14 643.8 L124.21 643.64 L124.29 643.49 L124.36 643.35 L124.44 643.22 L124.51 643.1 L124.59 642.98 L124.66 642.87 L124.74 642.77 L124.82 642.68 L124.89 642.6 L124.97 642.52 L125.04 642.45 L125.12 642.39 L125.19 642.34 L125.27 642.3 L125.34 642.26 L125.42 642.23 L125.5 642.21 L125.63 642.18 L125.94 642.22 L126.26 642.36 L126.57 642.61 L126.88 642.95 L127.19 643.38 L127.5 643.89 L127.82 644.48 L128.13 645.13 L128.44 645.86 L128.75 646.64 L129.06 647.48 L129.38 648.37 L129.69 649.32 L130 650.3 L130.31 651.33 L130.62 652.39 L130.94 653.49 L131.25 654.63 L131.56 655.79 L131.87 656.98 L132.18 658.2 L132.5 659.44 L132.81 660.7 L133.12 661.99 L133.43 663.29 L133.75 664.6 L134.06 665.94 L134.37 667.29 L134.68 668.65 L134.99 670.02 L135.31 671.41 L135.62 672.8 L135.93 674.2 L136.24 675.62 L136.55 677.03 L136.87 678.46 L137.18 679.89 L137.49 681.33 L137.8 682.77 L138.11 684.21 L138.43 685.66 L138.74 687.11 L139.05 688.56 L139.36 690.02 L139.67 691.47 L139.99 692.93 L140.3 694.39 L140.61 695.84 L140.92 697.3 L141.24 698.75 L141.55 700.21 L141.86 701.66 L142.17 703.11 L142.48 704.55 L142.8 706 L143.11 707.44 L143.42 708.88 L143.73 710.31 L144.04 711.74 L144.36 713.17 L144.67 714.59 L144.98 716.01 L145.29 717.43 L145.6 718.84 L145.92 720.24 L146.23 721.65 L146.54 723.04 L146.85 724.43 L147.16 725.82 L147.48 727.2 L147.79 728.58 L148.1 729.95 L148.41 731.31 L148.72 732.67 L149.04 734.03 L149.35 735.38 L149.66 736.72 L149.97 738.06 L150.29 739.4 L150.6 740.73 L150.91 742.05 L151.22 743.37 L151.53 744.68 L151.85 745.98 L152.16 747.28 L152.47 748.58 L152.78 749.87 L153.09 751.15 L153.41 752.43 L153.72 753.71 L154.03 754.98 L154.34 756.24 L154.65 757.5 L154.97 758.75 L155.28 760 L155.59 761.24 L155.9 762.47 L156.21 763.71 L156.53 764.93 L156.84 766.15 L157.15 767.37 L157.46 768.57 L157.78 769.78 L158.09 770.98 L158.4 772.17 L158.71 773.36 L159.02 774.54 L159.34 775.72 L159.65 776.89 L159.96 778.05 L160.27 779.21 L160.58 780.37 L160.9 781.51 L161.21 782.66 L161.52 783.79 L161.83 784.92 L162.14 786.05 L162.46 787.17 L162.77 788.28 L163.08 789.39 L163.39 790.49 L163.7 791.58 L164.02 792.67 L164.33 793.75 L164.64 794.83 L164.95 795.9 L165.27 796.96 L165.58 798.02 L165.89 799.07 L166.2 800.12 L166.51 801.16 L166.83 802.19 L167.14 803.21 L167.45 804.23 L167.76 805.25 L168.07 806.25 L168.39 807.25 L168.7 808.25 L169.01 809.23 L169.32 810.21 L169.63 811.19 L169.95 812.15 L170.26 813.11 L170.57 814.07 L170.88 815.02 L171.19 815.96 L171.51 816.89 L171.82 817.82 L172.13 818.75 L172.44 819.66 L172.76 820.57 L173.07 821.48 L173.38 822.37 L173.69 823.26 L174 824.15 L174.32 825.03 L174.63 825.9 L174.94 826.76 L175.25 827.62 L175.56 828.48 L175.88 829.33 L176.19 830.17 L176.5 831 L176.81 831.83 L177.12 832.66 L177.44 833.48 L177.75 834.29 L178.06 835.09 L178.37 835.9 L178.68 836.69 L179 837.48 L179.31 838.27 L179.62 839.05 L179.93 839.82 L180.25 840.59 L180.56 841.35 L180.87 842.11 L181.18 842.86 L181.49 843.61 L181.81 844.35 L182.12 845.08 L182.43 845.82 L182.74 846.54 L183.05 847.26 L183.37 847.98 L183.68 848.69 L183.99 849.4 L184.3 850.1 L184.61 850.8 L184.93 851.49 L185.24 852.18 L185.55 852.87 L185.86 853.55 L186.17 854.22 L186.49 854.89 L186.8 855.56 L187.11 856.22 L187.42 856.88 L187.74 857.54 L188.05 858.19 L188.36 858.84 L188.67 859.48 L188.98 860.12 L189.3 860.75 L189.61 861.38 L189.92 862.01 L190.23 862.63 L190.54 863.25 L190.86 863.87 L191.17 864.48 L191.48 865.09 L191.79 865.7 L192.1 866.3 L192.42 866.9 L192.73 867.49 L193.04 868.08 L193.35 868.67 L193.66 869.25 L193.98 869.83 L194.29 870.4 L194.6 870.97 L194.91 871.54 L195.23 872.11 L195.54 872.67 L195.85 873.22 L196.16 873.78 L196.47 874.33 L196.79 874.87 L197.1 875.41 L197.41 875.95 L197.72 876.48 L198.03 877.02 L198.35 877.54 L198.66 878.07 L198.97 878.59 L199.28 879.1 L199.59 879.61 L199.91 880.12 L200.22 880.63 L200.53 881.13 L200.84 881.63 L201.15 882.12 L201.47 882.62 L201.78 883.11 L202.09 883.59 L202.4 884.07 L202.72 884.55 L203.03 885.03 L203.34 885.5 L203.65 885.97 L203.96 886.44 L204.28 886.9 L204.59 887.36 L204.9 887.82 L205.21 888.28 L205.52 888.73 L205.84 889.18 L206.15 889.63 L206.46 890.07 L207.36 891.34 L208.56 892.99 L209.76 894.61 L210.96 896.19 L212.16 897.74 L213.36 899.26 L214.56 900.74 L215.76 902.2 L216.96 903.64 L218.16 905.05 L219.36 906.44 L220.56 907.81 L221.77 909.16 L222.97 910.49 L224.17 911.8 L225.37 913.1 L226.57 914.37 L227.77 915.63 L228.97 916.87 L230.17 918.09 L231.37 919.29 L232.57 920.47 L233.77 921.62 L234.97 922.76 L236.17 923.87 L237.37 924.96 L238.57 926.02 L239.77 927.06 L240.97 928.07 L242.17 929.06 L243.37 930.02 L244.57 930.96 L245.77 931.88 L246.98 932.79 L248.18 933.67 L249.38 934.54 L250.58 935.4 L251.78 936.24 L252.98 937.07 L254.18 937.89 L255.38 938.7 L256.58 939.49 L257.78 940.27 L258.98 941.04 L260.18 941.8 L261.38 942.55 L262.58 943.28 L263.78 944 L264.98 944.71 L266.18 945.41 L267.38 946.1 L268.58 946.78 L269.78 947.44 L270.98 948.09 L272.18 948.73 L273.39 949.36 L274.59 949.98 L275.79 950.58 L276.99 951.18 L278.19 951.76 L279.39 952.34 L280.59 952.9 L281.79 953.46 L282.99 954 L284.19 954.54 L285.39 955.07 L286.59 955.6 L287.79 956.11 L288.99 956.62 L290.19 957.12 L291.39 957.62 L292.59 958.11 L293.79 958.6 L294.99 959.08 L296.19 959.56 L297.39 960.03 L298.6 960.49 L299.8 960.96 L301 961.42 L302.2 961.87 L303.4 962.32 L304.6 962.77 L305.8 963.21 L307 963.64 L308.2 964.07 L309.4 964.5 L310.6 964.92 L311.8 965.34 L313 965.76 L314.2 966.16 L315.4 966.57 L316.6 966.97 L317.8 967.36 L319 967.75 L320.2 968.13 L321.4 968.51 L322.6 968.89 L323.81 969.26 L325.01 969.62 L326.21 969.98 L327.41 970.34 L328.61 970.69 L329.81 971.03 L331.01 971.38 L332.21 971.71 L333.41 972.04 L334.61 972.37 L335.81 972.69 L337.01 973 L338.21 973.31 L339.41 973.62 L340.61 973.91 L341.81 974.21 L343.01 974.5 L344.21 974.78 L345.41 975.06 L346.61 975.34 L347.81 975.61 L349.02 975.88 L350.22 976.14 L351.42 976.4 L352.62 976.65 L353.82 976.91 L355.02 977.15 L356.22 977.4 L357.42 977.64 L358.62 977.88 L359.82 978.11 L361.02 978.34 L362.22 978.57 L363.42 978.8 L364.62 979.03 L365.82 979.25 L367.02 979.47 L368.22 979.68 L369.42 979.9 L370.62 980.11 L371.82 980.33 L373.02 980.54 L374.22 980.74 L375.43 980.95 L376.63 981.16 L377.83 981.36 L379.03 981.56 L380.23 981.77 L381.43 981.97 L382.63 982.17 L383.83 982.37 L385.03 982.57 L386.23 982.76 L387.43 982.96 L388.63 983.16 L389.83 983.35 L391.03 983.55 L392.23 983.75 L393.43 983.94 L394.63 984.13 L395.83 984.33 L397.03 984.52 L398.23 984.71 L399.43 984.9 L400.64 985.09 L401.84 985.28 L403.04 985.47 L404.24 985.65 L405.44 985.84 L406.64 986.02 L407.84 986.21 L409.04 986.39 L410.24 986.57 L411.44 986.75 L412.64 986.93 L413.84 987.1 L415.04 987.28 L416.24 987.45 L417.44 987.63 L418.64 987.8 L419.84 987.97 L421.04 988.13 L422.24 988.3 L423.44 988.47 L424.64 988.63 L425.85 988.79 L427.05 988.95 L428.25 989.11 L429.45 989.27 L430.65 989.42 L431.85 989.58 L433.05 989.73 L434.25 989.88 L435.45 990.03 L436.65 990.17 L437.85 990.32 L439.05 990.46 L440.25 990.61 L441.45 990.75 L442.65 990.89 L443.85 991.02 L445.05 991.16 L446.25 991.29 L447.45 991.43 L448.65 991.56 L449.85 991.69 L451.05 991.82 L452.26 991.95 L453.46 992.08 L454.66 992.2 L455.86 992.33 L457.06 992.45 L458.26 992.58 L459.46 992.7 L460.66 992.82 L461.86 992.94 L463.06 993.06 L464.26 993.17 L465.46 993.29 L466.66 993.41 L467.86 993.52 L469.06 993.64 L470.26 993.75 L471.46 993.86 L472.66 993.97 L473.86 994.08 L475.06 994.19 L476.26 994.3 L477.47 994.41 L478.67 994.52 L479.87 994.63 L481.07 994.73 L482.27 994.84 L483.47 994.95 L484.67 995.05 L485.87 995.15 L487.07 995.26 L488.27 995.36 L489.47 995.46 L490.67 995.56 L491.87 995.66 L493.07 995.76 L494.27 995.86 L495.47 995.96 L496.67 996.06 L497.87 996.16 L499.07 996.25 L500.27 996.35 L501.47 996.44 L502.68 996.54 L503.88 996.63 L505.08 996.73 L506.28 996.82 L507.48 996.91 L508.68 997 L509.88 997.09 L511.08 997.18 L512.28 997.27 L513.48 997.36 L514.68 997.45 L515.88 997.54 L517.08 997.63 L518.28 997.71 L519.48 997.8 L520.68 997.88 L521.88 997.97 L523.08 998.05 L524.28 998.14 L525.48 998.22 L526.68 998.3 L527.88 998.38 L529.09 998.47 L530.29 998.55 L531.49 998.63 L532.69 998.71 L533.89 998.79 L535.09 998.87 L536.29 998.95 L537.49 999.02 L538.69 999.1 L539.89 999.18 L541.09 999.26 L542.29 999.33 L543.49 999.41 L544.69 999.49 L545.89 999.56 L547.09 999.64 L548.29 999.71 L549.49 999.79 L550.69 999.86 L551.89 999.94 L553.09 1000.01 L554.3 1000.09 L555.5 1000.16 L556.7 1000.23 L557.9 1000.31 L559.1 1000.38 L560.3 1000.45 L561.5 1000.53 L562.7 1000.6 L563.9 1000.67 L565.1 1000.75 L566.3 1000.82" fill="none" stroke="#7E2F8E" stroke-width="3.0" stroke-linejoin="round"/>
<text class="tk" transform="translate(116.5 1059.9) scale(0.96 1)" text-anchor="middle">0</text>
<text class="tk" transform="translate(206.46 1059.9) scale(0.96 1)" text-anchor="middle">20</text>
<text class="tk" transform="translate(296.42 1059.9) scale(0.96 1)" text-anchor="middle">40</text>
<text class="tk" transform="translate(386.38 1059.9) scale(0.96 1)" text-anchor="middle">60</text>
<text class="tk" transform="translate(476.34 1059.9) scale(0.96 1)" text-anchor="middle">80</text>
<text class="tk" transform="translate(566.3 1059.9) scale(0.96 1)" text-anchor="middle">100</text>
<text class="tk" transform="translate(107.2 1036.6) scale(0.96 1)" text-anchor="end">0</text>
<text class="tk" transform="translate(107.2 915.76) scale(0.96 1)" text-anchor="end">0.005</text>
<text class="tk" transform="translate(107.2 794.91) scale(0.96 1)" text-anchor="end">0.01</text>
<text class="tk" transform="translate(107.2 674.07) scale(0.96 1)" text-anchor="end">0.015</text>
<text class="mt th" font-size="34.47" font-style="italic" transform="translate(293.31 623.40) scale(1.3050 1)">m</text>
<text class="mt" font-size="35.20" transform="translate(334.13 626.30) scale(1.4052 1)">=</text>
<text class="mt" font-size="35.15" transform="translate(370.67 623.20) scale(0.9846 1)">1</text>
<text class="mt th" font-size="38.43" font-style="italic" transform="translate(334.08 1096.32) scale(1.1129 1)">t</text>
<text class="mt th" font-size="36.64" font-style="italic" transform="translate(27.60 868.70) rotate(-90) scale(1.1426 1)">I</text>
<text class="mt th" font-size="21.88" font-style="italic" transform="translate(14.68 851.71) rotate(-90) scale(1.0790 1)">c</text>
<text class="mt" font-size="26.78" transform="translate(39.71 854.51) rotate(-90) scale(1.1716 1)">(</text>
<text class="mt th" font-size="22.59" font-style="italic" transform="translate(38.20 846.66) rotate(-90) scale(1.9019 1)">l</text>
<text class="mt" font-size="24.08" transform="translate(39.77 835.75) rotate(-90) scale(0.8306 1)">,</text>
<text class="mt th" font-size="22.34" font-style="italic" transform="translate(39.20 831.36) rotate(-90) scale(1.3864 1)">m</text>
<text class="mt" font-size="26.78" transform="translate(39.71 808.88) rotate(-90) scale(0.8992 1)">)</text>
<rect x="376.6" y="670.2" width="154" height="135" fill="#fff" stroke="#262626" stroke-width="1.3"/>
<line x1="382.7" y1="689.3" x2="448.1" y2="689.3" stroke="#0072BD" stroke-width="3.0"/>
<text class="mt th" font-size="27.19" font-style="italic" transform="translate(453.54 696.20) scale(1.0896 1)">l</text>
<text class="mt" font-size="27.20" transform="translate(469.30 698.74) scale(1.3994 1)">=</text>
<text class="mt" font-size="27.47" transform="translate(496.84 696.20) scale(1.0192 1)">2</text>
<line x1="382.7" y1="722" x2="448.1" y2="722" stroke="#D95319" stroke-width="3.0"/>
<text class="mt th" font-size="27.19" font-style="italic" transform="translate(453.54 728.60) scale(1.0896 1)">l</text>
<text class="mt" font-size="27.20" transform="translate(469.30 731.14) scale(1.3994 1)">=</text>
<text class="mt" font-size="27.37" transform="translate(496.50 728.33) scale(1.0167 1)">5</text>
<line x1="382.7" y1="754.5" x2="448.1" y2="754.5" stroke="#EDB120" stroke-width="3.0"/>
<text class="mt th" font-size="27.19" font-style="italic" transform="translate(453.54 761.20) scale(1.0896 1)">l</text>
<text class="mt" font-size="27.20" transform="translate(469.30 763.74) scale(1.3994 1)">=</text>
<text class="mt" font-size="26.96" transform="translate(495.74 760.93) scale(1.0003 1)">10</text>
<line x1="382.7" y1="786.3" x2="448.1" y2="786.3" stroke="#7E2F8E" stroke-width="3.0"/>
<text class="mt th" font-size="27.19" font-style="italic" transform="translate(453.54 793.20) scale(1.0896 1)">l</text>
<text class="mt" font-size="27.20" transform="translate(469.30 795.74) scale(1.3994 1)">=</text>
<text class="mt" font-size="27.16" transform="translate(495.73 792.93) scale(0.9957 1)">15</text>
<g stroke="#dfdfdf" stroke-width="1"><line x1="797.46" y1="640.7" x2="797.46" y2="1027.4"/><line x1="887.42" y1="640.7" x2="887.42" y2="1027.4"/><line x1="977.38" y1="640.7" x2="977.38" y2="1027.4"/><line x1="1067.34" y1="640.7" x2="1067.34" y2="1027.4"/><line x1="707.5" y1="906.56" x2="1157.3" y2="906.56"/><line x1="707.5" y1="785.71" x2="1157.3" y2="785.71"/><line x1="707.5" y1="664.87" x2="1157.3" y2="664.87"/></g>
<path d="M797.46 1027.4v-4.5M797.46 640.7v4.5M887.42 1027.4v-4.5M887.42 640.7v4.5M977.38 1027.4v-4.5M977.38 640.7v4.5M1067.34 1027.4v-4.5M1067.34 640.7v4.5M707.5 906.56h4.5M1157.3 906.56h-4.5M707.5 785.71h4.5M1157.3 785.71h-4.5M707.5 664.87h4.5M1157.3 664.87h-4.5" fill="none" stroke="#262626" stroke-width="1.3"/>
<rect x="707.5" y="640.7" width="449.8" height="386.7" fill="none" stroke="#262626" stroke-width="1.3"/>
<path d="M707.5 785.71 L707.58 796.47 L707.65 800.92 L707.73 804.32 L707.8 807.19 L707.88 809.72 L707.95 812 L708.03 814.09 L708.1 816.03 L708.18 817.86 L708.26 819.58 L708.33 821.22 L708.41 822.78 L708.48 824.27 L708.56 825.71 L708.63 827.09 L708.71 828.43 L708.79 829.72 L708.86 830.98 L708.94 832.2 L709.01 833.38 L709.09 834.54 L709.16 835.66 L709.24 836.76 L709.31 837.83 L709.39 838.88 L709.47 839.91 L709.54 840.92 L709.62 841.9 L709.69 842.87 L709.77 843.82 L709.84 844.75 L709.92 845.67 L709.99 846.57 L710.07 847.45 L710.15 848.32 L710.22 849.18 L710.3 850.02 L710.37 850.86 L710.45 851.68 L710.52 852.48 L710.6 853.28 L710.68 854.07 L710.75 854.84 L710.83 855.61 L710.9 856.36 L710.98 857.11 L711.05 857.84 L711.13 858.57 L711.2 859.29 L711.28 860 L711.36 860.7 L711.43 861.4 L711.51 862.09 L711.58 862.76 L711.66 863.44 L711.73 864.1 L711.81 864.76 L711.88 865.41 L711.96 866.05 L712.04 866.69 L712.11 867.32 L712.19 867.95 L712.26 868.57 L712.34 869.18 L712.41 869.79 L712.49 870.39 L712.56 870.99 L712.64 871.58 L712.72 872.16 L712.79 872.74 L712.87 873.32 L712.94 873.89 L713.02 874.45 L713.09 875.01 L713.17 875.57 L713.25 876.12 L713.32 876.67 L713.4 877.21 L713.47 877.75 L713.55 878.28 L713.62 878.81 L713.7 879.33 L713.77 879.85 L713.85 880.37 L713.93 880.88 L714 881.39 L714.08 881.9 L714.15 882.4 L714.23 882.9 L714.3 883.39 L714.38 883.88 L714.45 884.37 L714.53 884.85 L714.61 885.33 L714.68 885.81 L714.76 886.28 L714.83 886.75 L714.91 887.22 L714.98 887.68 L715.06 888.14 L715.14 888.6 L715.21 889.05 L715.29 889.5 L715.36 889.95 L715.44 890.39 L715.51 890.84 L715.59 891.27 L715.66 891.71 L715.74 892.14 L715.82 892.57 L715.89 893 L715.97 893.43 L716.04 893.85 L716.12 894.27 L716.19 894.69 L716.27 895.1 L716.34 895.51 L716.42 895.92 L716.5 896.33 L716.63 897.05 L716.94 898.69 L717.26 900.28 L717.57 901.84 L717.88 903.36 L718.19 904.85 L718.5 906.31 L718.82 907.73 L719.13 909.12 L719.44 910.48 L719.75 911.81 L720.06 913.12 L720.38 914.4 L720.69 915.65 L721 916.87 L721.31 918.08 L721.62 919.25 L721.94 920.41 L722.25 921.54 L722.56 922.65 L722.87 923.74 L723.18 924.81 L723.5 925.86 L723.81 926.89 L724.12 927.9 L724.43 928.9 L724.75 929.87 L725.06 930.83 L725.37 931.77 L725.68 932.69 L725.99 933.6 L726.31 934.49 L726.62 935.36 L726.93 936.22 L727.24 937.07 L727.55 937.9 L727.87 938.72 L728.18 939.52 L728.49 940.31 L728.8 941.08 L729.11 941.84 L729.43 942.59 L729.74 943.33 L730.05 944.06 L730.36 944.77 L730.67 945.47 L730.99 946.16 L731.3 946.84 L731.61 947.51 L731.92 948.17 L732.24 948.82 L732.55 949.46 L732.86 950.09 L733.17 950.71 L733.48 951.32 L733.8 951.92 L734.11 952.51 L734.42 953.09 L734.73 953.67 L735.04 954.23 L735.36 954.79 L735.67 955.34 L735.98 955.89 L736.29 956.42 L736.6 956.95 L736.92 957.47 L737.23 957.98 L737.54 958.49 L737.85 958.99 L738.16 959.48 L738.48 959.97 L738.79 960.45 L739.1 960.92 L739.41 961.39 L739.72 961.85 L740.04 962.31 L740.35 962.76 L740.66 963.2 L740.97 963.64 L741.29 964.07 L741.6 964.5 L741.91 964.93 L742.22 965.34 L742.53 965.76 L742.85 966.16 L743.16 966.57 L743.47 966.96 L743.78 967.36 L744.09 967.75 L744.41 968.13 L744.72 968.51 L745.03 968.89 L745.34 969.26 L745.65 969.62 L745.97 969.99 L746.28 970.35 L746.59 970.7 L746.9 971.05 L747.21 971.4 L747.53 971.74 L747.84 972.08 L748.15 972.42 L748.46 972.75 L748.78 973.08 L749.09 973.41 L749.4 973.73 L749.71 974.05 L750.02 974.36 L750.34 974.68 L750.65 974.98 L750.96 975.29 L751.27 975.59 L751.58 975.89 L751.9 976.19 L752.21 976.48 L752.52 976.77 L752.83 977.06 L753.14 977.34 L753.46 977.63 L753.77 977.9 L754.08 978.18 L754.39 978.45 L754.7 978.72 L755.02 978.99 L755.33 979.26 L755.64 979.52 L755.95 979.78 L756.27 980.04 L756.58 980.29 L756.89 980.54 L757.2 980.79 L757.51 981.04 L757.83 981.28 L758.14 981.53 L758.45 981.77 L758.76 982 L759.07 982.24 L759.39 982.47 L759.7 982.7 L760.01 982.93 L760.32 983.16 L760.63 983.38 L760.95 983.6 L761.26 983.82 L761.57 984.04 L761.88 984.25 L762.19 984.47 L762.51 984.68 L762.82 984.89 L763.13 985.1 L763.44 985.3 L763.76 985.5 L764.07 985.71 L764.38 985.9 L764.69 986.1 L765 986.3 L765.32 986.49 L765.63 986.68 L765.94 986.87 L766.25 987.06 L766.56 987.25 L766.88 987.43 L767.19 987.61 L767.5 987.79 L767.81 987.97 L768.12 988.15 L768.44 988.33 L768.75 988.5 L769.06 988.67 L769.37 988.84 L769.68 989.01 L770 989.18 L770.31 989.35 L770.62 989.51 L770.93 989.67 L771.25 989.83 L771.56 989.99 L771.87 990.15 L772.18 990.31 L772.49 990.46 L772.81 990.61 L773.12 990.76 L773.43 990.91 L773.74 991.06 L774.05 991.21 L774.37 991.36 L774.68 991.5 L774.99 991.64 L775.3 991.79 L775.61 991.93 L775.93 992.06 L776.24 992.2 L776.55 992.34 L776.86 992.47 L777.17 992.61 L777.49 992.74 L777.8 992.87 L778.11 993 L778.42 993.13 L778.74 993.26 L779.05 993.39 L779.36 993.51 L779.67 993.64 L779.98 993.76 L780.3 993.89 L780.61 994.01 L780.92 994.13 L781.23 994.25 L781.54 994.37 L781.86 994.49 L782.17 994.6 L782.48 994.72 L782.79 994.83 L783.1 994.95 L783.42 995.06 L783.73 995.18 L784.04 995.29 L784.35 995.4 L784.66 995.51 L784.98 995.62 L785.29 995.73 L785.6 995.84 L785.91 995.94 L786.23 996.05 L786.54 996.16 L786.85 996.26 L787.16 996.37 L787.47 996.47 L787.79 996.57 L788.1 996.68 L788.41 996.78 L788.72 996.88 L789.03 996.98 L789.35 997.08 L789.66 997.18 L789.97 997.28 L790.28 997.38 L790.59 997.48 L790.91 997.58 L791.22 997.67 L791.53 997.77 L791.84 997.86 L792.15 997.96 L792.47 998.06 L792.78 998.15 L793.09 998.24 L793.4 998.34 L793.72 998.43 L794.03 998.52 L794.34 998.61 L794.65 998.7 L794.96 998.8 L795.28 998.89 L795.59 998.98 L795.9 999.07 L796.21 999.15 L796.52 999.24 L796.84 999.33 L797.15 999.42 L797.46 999.51 L798.36 999.76 L799.56 1000.09 L800.76 1000.41 L801.96 1000.73 L803.16 1001.04 L804.36 1001.35 L805.56 1001.65 L806.76 1001.94 L807.96 1002.23 L809.16 1002.52 L810.36 1002.8 L811.56 1003.08 L812.77 1003.35 L813.97 1003.62 L815.17 1003.88 L816.37 1004.14 L817.57 1004.39 L818.77 1004.64 L819.97 1004.88 L821.17 1005.12 L822.37 1005.36 L823.57 1005.59 L824.77 1005.82 L825.97 1006.04 L827.17 1006.26 L828.37 1006.47 L829.57 1006.69 L830.77 1006.89 L831.97 1007.1 L833.17 1007.3 L834.37 1007.5 L835.57 1007.69 L836.77 1007.88 L837.98 1008.07 L839.18 1008.25 L840.38 1008.43 L841.58 1008.61 L842.78 1008.78 L843.98 1008.95 L845.18 1009.12 L846.38 1009.29 L847.58 1009.45 L848.78 1009.61 L849.98 1009.76 L851.18 1009.92 L852.38 1010.07 L853.58 1010.22 L854.78 1010.36 L855.98 1010.51 L857.18 1010.65 L858.38 1010.79 L859.58 1010.93 L860.78 1011.06 L861.98 1011.19 L863.18 1011.32 L864.39 1011.45 L865.59 1011.58 L866.79 1011.71 L867.99 1011.83 L869.19 1011.95 L870.39 1012.07 L871.59 1012.19 L872.79 1012.3 L873.99 1012.42 L875.19 1012.53 L876.39 1012.64 L877.59 1012.75 L878.79 1012.86 L879.99 1012.96 L881.19 1013.06 L882.39 1013.17 L883.59 1013.27 L884.79 1013.37 L885.99 1013.47 L887.19 1013.56 L888.39 1013.66 L889.6 1013.75 L890.8 1013.84 L892 1013.93 L893.2 1014.02 L894.4 1014.11 L895.6 1014.2 L896.8 1014.28 L898 1014.36 L899.2 1014.45 L900.4 1014.53 L901.6 1014.61 L902.8 1014.69 L904 1014.77 L905.2 1014.84 L906.4 1014.92 L907.6 1015 L908.8 1015.07 L910 1015.14 L911.2 1015.22 L912.4 1015.29 L913.6 1015.36 L914.81 1015.43 L916.01 1015.5 L917.21 1015.56 L918.41 1015.63 L919.61 1015.7 L920.81 1015.76 L922.01 1015.83 L923.21 1015.89 L924.41 1015.95 L925.61 1016.02 L926.81 1016.08 L928.01 1016.14 L929.21 1016.2 L930.41 1016.26 L931.61 1016.32 L932.81 1016.38 L934.01 1016.43 L935.21 1016.49 L936.41 1016.55 L937.61 1016.61 L938.81 1016.66 L940.02 1016.72 L941.22 1016.77 L942.42 1016.83 L943.62 1016.88 L944.82 1016.93 L946.02 1016.98 L947.22 1017.04 L948.42 1017.09 L949.62 1017.14 L950.82 1017.19 L952.02 1017.24 L953.22 1017.29 L954.42 1017.34 L955.62 1017.39 L956.82 1017.43 L958.02 1017.48 L959.22 1017.53 L960.42 1017.57 L961.62 1017.62 L962.82 1017.66 L964.02 1017.71 L965.22 1017.75 L966.43 1017.8 L967.63 1017.84 L968.83 1017.88 L970.03 1017.92 L971.23 1017.97 L972.43 1018.01 L973.63 1018.05 L974.83 1018.09 L976.03 1018.13 L977.23 1018.17 L978.43 1018.2 L979.63 1018.24 L980.83 1018.28 L982.03 1018.32 L983.23 1018.35 L984.43 1018.39 L985.63 1018.42 L986.83 1018.46 L988.03 1018.49 L989.23 1018.53 L990.43 1018.56 L991.64 1018.6 L992.84 1018.63 L994.04 1018.66 L995.24 1018.7 L996.44 1018.73 L997.64 1018.76 L998.84 1018.79 L1000.04 1018.82 L1001.24 1018.85 L1002.44 1018.88 L1003.64 1018.91 L1004.84 1018.94 L1006.04 1018.97 L1007.24 1019 L1008.44 1019.03 L1009.64 1019.06 L1010.84 1019.09 L1012.04 1019.11 L1013.24 1019.14 L1014.44 1019.17 L1015.64 1019.2 L1016.85 1019.22 L1018.05 1019.25 L1019.25 1019.27 L1020.45 1019.3 L1021.65 1019.33 L1022.85 1019.35 L1024.05 1019.38 L1025.25 1019.4 L1026.45 1019.43 L1027.65 1019.45 L1028.85 1019.48 L1030.05 1019.5 L1031.25 1019.52 L1032.45 1019.55 L1033.65 1019.57 L1034.85 1019.6 L1036.05 1019.62 L1037.25 1019.64 L1038.45 1019.67 L1039.65 1019.69 L1040.85 1019.71 L1042.05 1019.73 L1043.26 1019.76 L1044.46 1019.78 L1045.66 1019.8 L1046.86 1019.82 L1048.06 1019.84 L1049.26 1019.87 L1050.46 1019.89 L1051.66 1019.91 L1052.86 1019.93 L1054.06 1019.95 L1055.26 1019.97 L1056.46 1019.99 L1057.66 1020.02 L1058.86 1020.04 L1060.06 1020.06 L1061.26 1020.08 L1062.46 1020.1 L1063.66 1020.12 L1064.86 1020.14 L1066.06 1020.16 L1067.26 1020.18 L1068.47 1020.2 L1069.67 1020.22 L1070.87 1020.24 L1072.07 1020.26 L1073.27 1020.28 L1074.47 1020.3 L1075.67 1020.32 L1076.87 1020.34 L1078.07 1020.36 L1079.27 1020.38 L1080.47 1020.4 L1081.67 1020.42 L1082.87 1020.44 L1084.07 1020.46 L1085.27 1020.48 L1086.47 1020.5 L1087.67 1020.52 L1088.87 1020.54 L1090.07 1020.56 L1091.27 1020.58 L1092.47 1020.6 L1093.68 1020.62 L1094.88 1020.64 L1096.08 1020.66 L1097.28 1020.68 L1098.48 1020.7 L1099.68 1020.72 L1100.88 1020.74 L1102.08 1020.75 L1103.28 1020.77 L1104.48 1020.79 L1105.68 1020.81 L1106.88 1020.83 L1108.08 1020.85 L1109.28 1020.87 L1110.48 1020.89 L1111.68 1020.91 L1112.88 1020.93 L1114.08 1020.94 L1115.28 1020.96 L1116.48 1020.98 L1117.68 1021 L1118.88 1021.02 L1120.09 1021.04 L1121.29 1021.06 L1122.49 1021.07 L1123.69 1021.09 L1124.89 1021.11 L1126.09 1021.13 L1127.29 1021.15 L1128.49 1021.17 L1129.69 1021.19 L1130.89 1021.2 L1132.09 1021.22 L1133.29 1021.24 L1134.49 1021.26 L1135.69 1021.28 L1136.89 1021.3 L1138.09 1021.31 L1139.29 1021.33 L1140.49 1021.35 L1141.69 1021.37 L1142.89 1021.39 L1144.09 1021.4 L1145.3 1021.42 L1146.5 1021.44 L1147.7 1021.46 L1148.9 1021.48 L1150.1 1021.49 L1151.3 1021.51 L1152.5 1021.53 L1153.7 1021.55 L1154.9 1021.56 L1156.1 1021.58 L1157.3 1021.6" fill="none" stroke="#0072BD" stroke-width="3.0" stroke-linejoin="round"/>
<path d="M707.5 785.71 L707.58 790.48 L707.65 792.46 L707.73 793.99 L707.8 795.28 L707.88 796.42 L707.95 797.45 L708.03 798.41 L708.1 799.3 L708.18 800.14 L708.26 800.94 L708.33 801.7 L708.41 802.43 L708.48 803.13 L708.56 803.8 L708.63 804.46 L708.71 805.1 L708.79 805.71 L708.86 806.32 L708.94 806.9 L709.01 807.48 L709.09 808.04 L709.16 808.59 L709.24 809.13 L709.31 809.66 L709.39 810.18 L709.47 810.69 L709.54 811.19 L709.62 811.69 L709.69 812.17 L709.77 812.66 L709.84 813.13 L709.92 813.6 L709.99 814.06 L710.07 814.52 L710.15 814.97 L710.22 815.42 L710.3 815.86 L710.37 816.29 L710.45 816.73 L710.52 817.16 L710.6 817.58 L710.68 818 L710.75 818.42 L710.83 818.83 L710.9 819.24 L710.98 819.64 L711.05 820.04 L711.13 820.44 L711.2 820.84 L711.28 821.23 L711.36 821.62 L711.43 822.01 L711.51 822.39 L711.58 822.77 L711.66 823.15 L711.73 823.53 L711.81 823.9 L711.88 824.28 L711.96 824.65 L712.04 825.01 L712.11 825.38 L712.19 825.74 L712.26 826.1 L712.34 826.46 L712.41 826.82 L712.49 827.17 L712.56 827.52 L712.64 827.88 L712.72 828.23 L712.79 828.57 L712.87 828.92 L712.94 829.26 L713.02 829.61 L713.09 829.95 L713.17 830.29 L713.25 830.62 L713.32 830.96 L713.4 831.3 L713.47 831.63 L713.55 831.96 L713.62 832.29 L713.7 832.62 L713.77 832.95 L713.85 833.28 L713.93 833.6 L714 833.93 L714.08 834.25 L714.15 834.57 L714.23 834.89 L714.3 835.21 L714.38 835.53 L714.45 835.84 L714.53 836.16 L714.61 836.48 L714.68 836.79 L714.76 837.1 L714.83 837.41 L714.91 837.72 L714.98 838.03 L715.06 838.34 L715.14 838.65 L715.21 838.95 L715.29 839.26 L715.36 839.56 L715.44 839.87 L715.51 840.17 L715.59 840.47 L715.66 840.77 L715.74 841.07 L715.82 841.37 L715.89 841.67 L715.97 841.96 L716.04 842.26 L716.12 842.55 L716.19 842.85 L716.27 843.14 L716.34 843.43 L716.42 843.72 L716.5 844.02 L716.63 844.53 L716.94 845.72 L717.26 846.89 L717.57 848.05 L717.88 849.2 L718.19 850.34 L718.5 851.47 L718.82 852.58 L719.13 853.69 L719.44 854.78 L719.75 855.87 L720.06 856.94 L720.38 858.01 L720.69 859.06 L721 860.11 L721.31 861.14 L721.62 862.17 L721.94 863.19 L722.25 864.2 L722.56 865.21 L722.87 866.2 L723.18 867.19 L723.5 868.16 L723.81 869.14 L724.12 870.1 L724.43 871.05 L724.75 872 L725.06 872.94 L725.37 873.87 L725.68 874.8 L725.99 875.72 L726.31 876.63 L726.62 877.53 L726.93 878.43 L727.24 879.32 L727.55 880.2 L727.87 881.08 L728.18 881.95 L728.49 882.81 L728.8 883.67 L729.11 884.52 L729.43 885.36 L729.74 886.2 L730.05 887.03 L730.36 887.86 L730.67 888.68 L730.99 889.49 L731.3 890.3 L731.61 891.1 L731.92 891.89 L732.24 892.68 L732.55 893.46 L732.86 894.24 L733.17 895.01 L733.48 895.77 L733.8 896.53 L734.11 897.28 L734.42 898.03 L734.73 898.77 L735.04 899.51 L735.36 900.24 L735.67 900.96 L735.98 901.68 L736.29 902.39 L736.6 903.1 L736.92 903.8 L737.23 904.5 L737.54 905.19 L737.85 905.88 L738.16 906.56 L738.48 907.24 L738.79 907.91 L739.1 908.57 L739.41 909.23 L739.72 909.89 L740.04 910.54 L740.35 911.18 L740.66 911.82 L740.97 912.46 L741.29 913.09 L741.6 913.71 L741.91 914.33 L742.22 914.95 L742.53 915.56 L742.85 916.16 L743.16 916.76 L743.47 917.36 L743.78 917.95 L744.09 918.53 L744.41 919.12 L744.72 919.69 L745.03 920.26 L745.34 920.83 L745.65 921.39 L745.97 921.95 L746.28 922.5 L746.59 923.05 L746.9 923.6 L747.21 924.14 L747.53 924.67 L747.84 925.2 L748.15 925.73 L748.46 926.25 L748.78 926.76 L749.09 927.27 L749.4 927.78 L749.71 928.28 L750.02 928.78 L750.34 929.28 L750.65 929.77 L750.96 930.25 L751.27 930.73 L751.58 931.21 L751.9 931.68 L752.21 932.15 L752.52 932.61 L752.83 933.07 L753.14 933.52 L753.46 933.98 L753.77 934.42 L754.08 934.87 L754.39 935.3 L754.7 935.74 L755.02 936.17 L755.33 936.6 L755.64 937.02 L755.95 937.44 L756.27 937.85 L756.58 938.26 L756.89 938.67 L757.2 939.08 L757.51 939.48 L757.83 939.87 L758.14 940.27 L758.45 940.66 L758.76 941.04 L759.07 941.42 L759.39 941.8 L759.7 942.18 L760.01 942.55 L760.32 942.92 L760.63 943.29 L760.95 943.65 L761.26 944.01 L761.57 944.37 L761.88 944.72 L762.19 945.07 L762.51 945.42 L762.82 945.76 L763.13 946.11 L763.44 946.44 L763.76 946.78 L764.07 947.11 L764.38 947.44 L764.69 947.77 L765 948.09 L765.32 948.41 L765.63 948.73 L765.94 949.05 L766.25 949.36 L766.56 949.67 L766.88 949.98 L767.19 950.29 L767.5 950.59 L767.81 950.89 L768.12 951.19 L768.44 951.49 L768.75 951.78 L769.06 952.08 L769.37 952.37 L769.68 952.66 L770 952.94 L770.31 953.22 L770.62 953.51 L770.93 953.79 L771.25 954.06 L771.56 954.34 L771.87 954.61 L772.18 954.89 L772.49 955.16 L772.81 955.42 L773.12 955.69 L773.43 955.95 L773.74 956.22 L774.05 956.48 L774.37 956.74 L774.68 957 L774.99 957.25 L775.3 957.51 L775.61 957.76 L775.93 958.01 L776.24 958.26 L776.55 958.51 L776.86 958.76 L777.17 959 L777.49 959.25 L777.8 959.49 L778.11 959.73 L778.42 959.97 L778.74 960.21 L779.05 960.45 L779.36 960.68 L779.67 960.92 L779.98 961.15 L780.3 961.38 L780.61 961.61 L780.92 961.84 L781.23 962.07 L781.54 962.3 L781.86 962.52 L782.17 962.75 L782.48 962.97 L782.79 963.19 L783.1 963.41 L783.42 963.63 L783.73 963.85 L784.04 964.07 L784.35 964.29 L784.66 964.5 L784.98 964.72 L785.29 964.93 L785.6 965.14 L785.91 965.36 L786.23 965.57 L786.54 965.78 L786.85 965.99 L787.16 966.19 L787.47 966.4 L787.79 966.61 L788.1 966.81 L788.41 967.02 L788.72 967.22 L789.03 967.42 L789.35 967.62 L789.66 967.82 L789.97 968.02 L790.28 968.22 L790.59 968.42 L790.91 968.61 L791.22 968.81 L791.53 969.01 L791.84 969.2 L792.15 969.39 L792.47 969.59 L792.78 969.78 L793.09 969.97 L793.4 970.16 L793.72 970.35 L794.03 970.54 L794.34 970.73 L794.65 970.91 L794.96 971.1 L795.28 971.29 L795.59 971.47 L795.9 971.65 L796.21 971.84 L796.52 972.02 L796.84 972.2 L797.15 972.38 L797.46 972.56 L798.36 973.08 L799.56 973.76 L800.76 974.43 L801.96 975.08 L803.16 975.73 L804.36 976.37 L805.56 976.99 L806.76 977.61 L807.96 978.21 L809.16 978.8 L810.36 979.39 L811.56 979.96 L812.77 980.52 L813.97 981.08 L815.17 981.62 L816.37 982.15 L817.57 982.68 L818.77 983.19 L819.97 983.7 L821.17 984.2 L822.37 984.68 L823.57 985.16 L824.77 985.64 L825.97 986.1 L827.17 986.55 L828.37 987 L829.57 987.44 L830.77 987.87 L831.97 988.29 L833.17 988.7 L834.37 989.11 L835.57 989.5 L836.77 989.89 L837.98 990.28 L839.18 990.65 L840.38 991.01 L841.58 991.37 L842.78 991.72 L843.98 992.06 L845.18 992.4 L846.38 992.73 L847.58 993.05 L848.78 993.36 L849.98 993.67 L851.18 993.97 L852.38 994.26 L853.58 994.55 L854.78 994.83 L855.98 995.11 L857.18 995.38 L858.38 995.65 L859.58 995.91 L860.78 996.17 L861.98 996.42 L863.18 996.66 L864.39 996.91 L865.59 997.14 L866.79 997.38 L867.99 997.61 L869.19 997.83 L870.39 998.05 L871.59 998.27 L872.79 998.49 L873.99 998.7 L875.19 998.9 L876.39 999.11 L877.59 999.31 L878.79 999.51 L879.99 999.7 L881.19 999.89 L882.39 1000.08 L883.59 1000.26 L884.79 1000.45 L885.99 1000.63 L887.19 1000.8 L888.39 1000.98 L889.6 1001.15 L890.8 1001.32 L892 1001.49 L893.2 1001.65 L894.4 1001.81 L895.6 1001.97 L896.8 1002.13 L898 1002.29 L899.2 1002.44 L900.4 1002.59 L901.6 1002.74 L902.8 1002.89 L904 1003.03 L905.2 1003.18 L906.4 1003.32 L907.6 1003.46 L908.8 1003.6 L910 1003.74 L911.2 1003.87 L912.4 1004.01 L913.6 1004.14 L914.81 1004.27 L916.01 1004.4 L917.21 1004.53 L918.41 1004.66 L919.61 1004.78 L920.81 1004.91 L922.01 1005.03 L923.21 1005.15 L924.41 1005.27 L925.61 1005.39 L926.81 1005.51 L928.01 1005.63 L929.21 1005.75 L930.41 1005.86 L931.61 1005.98 L932.81 1006.09 L934.01 1006.2 L935.21 1006.32 L936.41 1006.43 L937.61 1006.54 L938.81 1006.65 L940.02 1006.76 L941.22 1006.87 L942.42 1006.97 L943.62 1007.08 L944.82 1007.19 L946.02 1007.29 L947.22 1007.39 L948.42 1007.5 L949.62 1007.6 L950.82 1007.7 L952.02 1007.8 L953.22 1007.9 L954.42 1008 L955.62 1008.1 L956.82 1008.2 L958.02 1008.29 L959.22 1008.39 L960.42 1008.48 L961.62 1008.58 L962.82 1008.67 L964.02 1008.76 L965.22 1008.85 L966.43 1008.94 L967.63 1009.04 L968.83 1009.12 L970.03 1009.21 L971.23 1009.3 L972.43 1009.39 L973.63 1009.47 L974.83 1009.56 L976.03 1009.64 L977.23 1009.73 L978.43 1009.81 L979.63 1009.89 L980.83 1009.98 L982.03 1010.06 L983.23 1010.14 L984.43 1010.22 L985.63 1010.3 L986.83 1010.37 L988.03 1010.45 L989.23 1010.53 L990.43 1010.6 L991.64 1010.68 L992.84 1010.75 L994.04 1010.83 L995.24 1010.9 L996.44 1010.98 L997.64 1011.05 L998.84 1011.12 L1000.04 1011.19 L1001.24 1011.26 L1002.44 1011.33 L1003.64 1011.4 L1004.84 1011.47 L1006.04 1011.54 L1007.24 1011.6 L1008.44 1011.67 L1009.64 1011.74 L1010.84 1011.8 L1012.04 1011.87 L1013.24 1011.93 L1014.44 1011.99 L1015.64 1012.06 L1016.85 1012.12 L1018.05 1012.18 L1019.25 1012.24 L1020.45 1012.31 L1021.65 1012.37 L1022.85 1012.43 L1024.05 1012.49 L1025.25 1012.55 L1026.45 1012.6 L1027.65 1012.66 L1028.85 1012.72 L1030.05 1012.78 L1031.25 1012.83 L1032.45 1012.89 L1033.65 1012.95 L1034.85 1013 L1036.05 1013.06 L1037.25 1013.11 L1038.45 1013.16 L1039.65 1013.22 L1040.85 1013.27 L1042.05 1013.32 L1043.26 1013.38 L1044.46 1013.43 L1045.66 1013.48 L1046.86 1013.53 L1048.06 1013.58 L1049.26 1013.63 L1050.46 1013.68 L1051.66 1013.73 L1052.86 1013.78 L1054.06 1013.83 L1055.26 1013.88 L1056.46 1013.92 L1057.66 1013.97 L1058.86 1014.02 L1060.06 1014.06 L1061.26 1014.11 L1062.46 1014.16 L1063.66 1014.2 L1064.86 1014.25 L1066.06 1014.29 L1067.26 1014.34 L1068.47 1014.38 L1069.67 1014.42 L1070.87 1014.47 L1072.07 1014.51 L1073.27 1014.55 L1074.47 1014.6 L1075.67 1014.64 L1076.87 1014.68 L1078.07 1014.72 L1079.27 1014.76 L1080.47 1014.8 L1081.67 1014.84 L1082.87 1014.88 L1084.07 1014.92 L1085.27 1014.96 L1086.47 1015 L1087.67 1015.04 L1088.87 1015.08 L1090.07 1015.12 L1091.27 1015.16 L1092.47 1015.2 L1093.68 1015.23 L1094.88 1015.27 L1096.08 1015.31 L1097.28 1015.35 L1098.48 1015.38 L1099.68 1015.42 L1100.88 1015.46 L1102.08 1015.49 L1103.28 1015.53 L1104.48 1015.57 L1105.68 1015.6 L1106.88 1015.64 L1108.08 1015.67 L1109.28 1015.71 L1110.48 1015.74 L1111.68 1015.78 L1112.88 1015.81 L1114.08 1015.85 L1115.28 1015.88 L1116.48 1015.92 L1117.68 1015.95 L1118.88 1015.98 L1120.09 1016.02 L1121.29 1016.05 L1122.49 1016.09 L1123.69 1016.12 L1124.89 1016.15 L1126.09 1016.19 L1127.29 1016.22 L1128.49 1016.25 L1129.69 1016.28 L1130.89 1016.32 L1132.09 1016.35 L1133.29 1016.38 L1134.49 1016.41 L1135.69 1016.45 L1136.89 1016.48 L1138.09 1016.51 L1139.29 1016.54 L1140.49 1016.57 L1141.69 1016.61 L1142.89 1016.64 L1144.09 1016.67 L1145.3 1016.7 L1146.5 1016.73 L1147.7 1016.76 L1148.9 1016.79 L1150.1 1016.83 L1151.3 1016.86 L1152.5 1016.89 L1153.7 1016.92 L1154.9 1016.95 L1156.1 1016.98 L1157.3 1017.01" fill="none" stroke="#D95319" stroke-width="3.0" stroke-linejoin="round"/>
<path d="M707.5 785.71 L707.58 777.99 L707.65 774.82 L707.73 772.4 L707.8 770.39 L707.88 768.62 L707.95 767.04 L708.03 765.6 L708.1 764.28 L708.18 763.04 L708.26 761.88 L708.33 760.79 L708.41 759.75 L708.48 758.77 L708.56 757.83 L708.63 756.93 L708.71 756.07 L708.79 755.25 L708.86 754.46 L708.94 753.7 L709.01 752.97 L709.09 752.26 L709.16 751.58 L709.24 750.92 L709.31 750.29 L709.39 749.67 L709.47 749.08 L709.54 748.5 L709.62 747.95 L709.69 747.41 L709.77 746.88 L709.84 746.38 L709.92 745.89 L709.99 745.41 L710.07 744.95 L710.15 744.5 L710.22 744.07 L710.3 743.65 L710.37 743.25 L710.45 742.86 L710.52 742.48 L710.6 742.11 L710.68 741.75 L710.75 741.41 L710.83 741.08 L710.9 740.76 L710.98 740.45 L711.05 740.16 L711.13 739.87 L711.2 739.59 L711.28 739.33 L711.36 739.07 L711.43 738.83 L711.51 738.59 L711.58 738.37 L711.66 738.16 L711.73 737.95 L711.81 737.76 L711.88 737.57 L711.96 737.39 L712.04 737.23 L712.11 737.07 L712.19 736.92 L712.26 736.78 L712.34 736.65 L712.41 736.53 L712.49 736.42 L712.56 736.32 L712.64 736.22 L712.72 736.14 L712.79 736.06 L712.87 735.99 L712.94 735.93 L713.02 735.88 L713.09 735.84 L713.17 735.8 L713.25 735.78 L713.32 735.76 L713.4 735.75 L713.47 735.75 L713.55 735.75 L713.62 735.77 L713.7 735.79 L713.77 735.82 L713.85 735.86 L713.93 735.9 L714 735.96 L714.08 736.02 L714.15 736.08 L714.23 736.15 L714.3 736.23 L714.38 736.32 L714.45 736.41 L714.53 736.51 L714.61 736.61 L714.68 736.72 L714.76 736.83 L714.83 736.95 L714.91 737.07 L714.98 737.2 L715.06 737.33 L715.14 737.47 L715.21 737.61 L715.29 737.76 L715.36 737.91 L715.44 738.06 L715.51 738.22 L715.59 738.39 L715.66 738.55 L715.74 738.72 L715.82 738.9 L715.89 739.08 L715.97 739.26 L716.04 739.44 L716.12 739.63 L716.19 739.82 L716.27 740.01 L716.34 740.21 L716.42 740.41 L716.5 740.61 L716.63 740.98 L716.94 741.86 L717.26 742.78 L717.57 743.73 L717.88 744.71 L718.19 745.72 L718.5 746.76 L718.82 747.81 L719.13 748.89 L719.44 749.98 L719.75 751.09 L720.06 752.2 L720.38 753.33 L720.69 754.47 L721 755.61 L721.31 756.76 L721.62 757.91 L721.94 759.07 L722.25 760.23 L722.56 761.39 L722.87 762.55 L723.18 763.71 L723.5 764.88 L723.81 766.04 L724.12 767.2 L724.43 768.36 L724.75 769.52 L725.06 770.67 L725.37 771.83 L725.68 772.98 L725.99 774.13 L726.31 775.27 L726.62 776.42 L726.93 777.56 L727.24 778.69 L727.55 779.83 L727.87 780.96 L728.18 782.09 L728.49 783.21 L728.8 784.34 L729.11 785.46 L729.43 786.58 L729.74 787.7 L730.05 788.81 L730.36 789.92 L730.67 791.04 L730.99 792.14 L731.3 793.25 L731.61 794.35 L731.92 795.45 L732.24 796.55 L732.55 797.64 L732.86 798.73 L733.17 799.81 L733.48 800.9 L733.8 801.98 L734.11 803.05 L734.42 804.12 L734.73 805.19 L735.04 806.25 L735.36 807.31 L735.67 808.37 L735.98 809.42 L736.29 810.46 L736.6 811.51 L736.92 812.54 L737.23 813.58 L737.54 814.61 L737.85 815.63 L738.16 816.65 L738.48 817.66 L738.79 818.67 L739.1 819.68 L739.41 820.68 L739.72 821.68 L740.04 822.67 L740.35 823.65 L740.66 824.63 L740.97 825.61 L741.29 826.58 L741.6 827.54 L741.91 828.5 L742.22 829.45 L742.53 830.4 L742.85 831.34 L743.16 832.28 L743.47 833.21 L743.78 834.14 L744.09 835.06 L744.41 835.97 L744.72 836.88 L745.03 837.79 L745.34 838.68 L745.65 839.58 L745.97 840.46 L746.28 841.34 L746.59 842.22 L746.9 843.08 L747.21 843.95 L747.53 844.8 L747.84 845.65 L748.15 846.5 L748.46 847.34 L748.78 848.17 L749.09 849 L749.4 849.82 L749.71 850.64 L750.02 851.45 L750.34 852.26 L750.65 853.06 L750.96 853.85 L751.27 854.64 L751.58 855.43 L751.9 856.21 L752.21 856.99 L752.52 857.76 L752.83 858.52 L753.14 859.28 L753.46 860.04 L753.77 860.79 L754.08 861.54 L754.39 862.28 L754.7 863.02 L755.02 863.75 L755.33 864.48 L755.64 865.2 L755.95 865.93 L756.27 866.64 L756.58 867.35 L756.89 868.06 L757.2 868.77 L757.51 869.47 L757.83 870.16 L758.14 870.86 L758.45 871.55 L758.76 872.23 L759.07 872.91 L759.39 873.59 L759.7 874.27 L760.01 874.94 L760.32 875.61 L760.63 876.27 L760.95 876.93 L761.26 877.59 L761.57 878.25 L761.88 878.9 L762.19 879.55 L762.51 880.2 L762.82 880.84 L763.13 881.48 L763.44 882.12 L763.76 882.75 L764.07 883.38 L764.38 884.01 L764.69 884.64 L765 885.26 L765.32 885.87 L765.63 886.49 L765.94 887.1 L766.25 887.71 L766.56 888.31 L766.88 888.91 L767.19 889.51 L767.5 890.11 L767.81 890.7 L768.12 891.29 L768.44 891.87 L768.75 892.45 L769.06 893.03 L769.37 893.6 L769.68 894.17 L770 894.74 L770.31 895.3 L770.62 895.86 L770.93 896.41 L771.25 896.97 L771.56 897.51 L771.87 898.06 L772.18 898.6 L772.49 899.13 L772.81 899.67 L773.12 900.2 L773.43 900.72 L773.74 901.24 L774.05 901.76 L774.37 902.27 L774.68 902.78 L774.99 903.29 L775.3 903.79 L775.61 904.29 L775.93 904.78 L776.24 905.27 L776.55 905.75 L776.86 906.23 L777.17 906.71 L777.49 907.18 L777.8 907.65 L778.11 908.11 L778.42 908.57 L778.74 909.03 L779.05 909.48 L779.36 909.93 L779.67 910.37 L779.98 910.81 L780.3 911.24 L780.61 911.67 L780.92 912.1 L781.23 912.52 L781.54 912.94 L781.86 913.35 L782.17 913.76 L782.48 914.17 L782.79 914.57 L783.1 914.97 L783.42 915.36 L783.73 915.75 L784.04 916.14 L784.35 916.52 L784.66 916.9 L784.98 917.27 L785.29 917.64 L785.6 918.01 L785.91 918.38 L786.23 918.74 L786.54 919.1 L786.85 919.46 L787.16 919.81 L787.47 920.16 L787.79 920.51 L788.1 920.86 L788.41 921.2 L788.72 921.54 L789.03 921.88 L789.35 922.21 L789.66 922.55 L789.97 922.88 L790.28 923.21 L790.59 923.53 L790.91 923.86 L791.22 924.18 L791.53 924.5 L791.84 924.82 L792.15 925.14 L792.47 925.46 L792.78 925.77 L793.09 926.08 L793.4 926.39 L793.72 926.7 L794.03 927.01 L794.34 927.32 L794.65 927.63 L794.96 927.93 L795.28 928.24 L795.59 928.54 L795.9 928.84 L796.21 929.14 L796.52 929.44 L796.84 929.74 L797.15 930.04 L797.46 930.33 L798.36 931.18 L799.56 932.3 L800.76 933.41 L801.96 934.5 L803.16 935.57 L804.36 936.63 L805.56 937.67 L806.76 938.69 L807.96 939.7 L809.16 940.68 L810.36 941.65 L811.56 942.6 L812.77 943.53 L813.97 944.44 L815.17 945.33 L816.37 946.21 L817.57 947.07 L818.77 947.92 L819.97 948.76 L821.17 949.59 L822.37 950.4 L823.57 951.21 L824.77 952.01 L825.97 952.79 L827.17 953.57 L828.37 954.34 L829.57 955.1 L830.77 955.85 L831.97 956.59 L833.17 957.32 L834.37 958.03 L835.57 958.73 L836.77 959.43 L837.98 960.1 L839.18 960.77 L840.38 961.42 L841.58 962.07 L842.78 962.69 L843.98 963.31 L845.18 963.91 L846.38 964.5 L847.58 965.07 L848.78 965.64 L849.98 966.19 L851.18 966.74 L852.38 967.27 L853.58 967.8 L854.78 968.31 L855.98 968.82 L857.18 969.32 L858.38 969.81 L859.58 970.29 L860.78 970.76 L861.98 971.23 L863.18 971.69 L864.39 972.15 L865.59 972.6 L866.79 973.04 L867.99 973.48 L869.19 973.91 L870.39 974.33 L871.59 974.75 L872.79 975.17 L873.99 975.58 L875.19 975.98 L876.39 976.38 L877.59 976.77 L878.79 977.16 L879.99 977.54 L881.19 977.91 L882.39 978.28 L883.59 978.64 L884.79 979 L885.99 979.35 L887.19 979.7 L888.39 980.04 L889.6 980.37 L890.8 980.7 L892 981.02 L893.2 981.34 L894.4 981.65 L895.6 981.96 L896.8 982.27 L898 982.56 L899.2 982.86 L900.4 983.15 L901.6 983.43 L902.8 983.72 L904 983.99 L905.2 984.27 L906.4 984.54 L907.6 984.8 L908.8 985.06 L910 985.32 L911.2 985.58 L912.4 985.83 L913.6 986.08 L914.81 986.33 L916.01 986.57 L917.21 986.81 L918.41 987.05 L919.61 987.28 L920.81 987.51 L922.01 987.74 L923.21 987.97 L924.41 988.19 L925.61 988.42 L926.81 988.64 L928.01 988.85 L929.21 989.07 L930.41 989.29 L931.61 989.5 L932.81 989.71 L934.01 989.92 L935.21 990.12 L936.41 990.33 L937.61 990.53 L938.81 990.74 L940.02 990.94 L941.22 991.13 L942.42 991.33 L943.62 991.52 L944.82 991.72 L946.02 991.91 L947.22 992.1 L948.42 992.28 L949.62 992.47 L950.82 992.65 L952.02 992.83 L953.22 993.01 L954.42 993.19 L955.62 993.36 L956.82 993.54 L958.02 993.71 L959.22 993.88 L960.42 994.05 L961.62 994.21 L962.82 994.38 L964.02 994.54 L965.22 994.7 L966.43 994.85 L967.63 995.01 L968.83 995.16 L970.03 995.32 L971.23 995.46 L972.43 995.61 L973.63 995.76 L974.83 995.9 L976.03 996.04 L977.23 996.18 L978.43 996.32 L979.63 996.45 L980.83 996.59 L982.03 996.72 L983.23 996.85 L984.43 996.98 L985.63 997.1 L986.83 997.23 L988.03 997.35 L989.23 997.47 L990.43 997.59 L991.64 997.71 L992.84 997.83 L994.04 997.94 L995.24 998.06 L996.44 998.17 L997.64 998.28 L998.84 998.39 L1000.04 998.5 L1001.24 998.61 L1002.44 998.72 L1003.64 998.83 L1004.84 998.94 L1006.04 999.04 L1007.24 999.15 L1008.44 999.25 L1009.64 999.36 L1010.84 999.46 L1012.04 999.56 L1013.24 999.66 L1014.44 999.77 L1015.64 999.87 L1016.85 999.97 L1018.05 1000.07 L1019.25 1000.17 L1020.45 1000.27 L1021.65 1000.37 L1022.85 1000.47 L1024.05 1000.57 L1025.25 1000.67 L1026.45 1000.77 L1027.65 1000.87 L1028.85 1000.97 L1030.05 1001.07 L1031.25 1001.17 L1032.45 1001.27 L1033.65 1001.37 L1034.85 1001.47 L1036.05 1001.56 L1037.25 1001.66 L1038.45 1001.76 L1039.65 1001.85 L1040.85 1001.95 L1042.05 1002.05 L1043.26 1002.14 L1044.46 1002.24 L1045.66 1002.33 L1046.86 1002.43 L1048.06 1002.52 L1049.26 1002.61 L1050.46 1002.71 L1051.66 1002.8 L1052.86 1002.89 L1054.06 1002.98 L1055.26 1003.07 L1056.46 1003.16 L1057.66 1003.25 L1058.86 1003.34 L1060.06 1003.43 L1061.26 1003.51 L1062.46 1003.6 L1063.66 1003.69 L1064.86 1003.77 L1066.06 1003.86 L1067.26 1003.94 L1068.47 1004.02 L1069.67 1004.1 L1070.87 1004.19 L1072.07 1004.27 L1073.27 1004.35 L1074.47 1004.43 L1075.67 1004.51 L1076.87 1004.58 L1078.07 1004.66 L1079.27 1004.74 L1080.47 1004.81 L1081.67 1004.89 L1082.87 1004.96 L1084.07 1005.04 L1085.27 1005.11 L1086.47 1005.19 L1087.67 1005.26 L1088.87 1005.33 L1090.07 1005.4 L1091.27 1005.47 L1092.47 1005.54 L1093.68 1005.61 L1094.88 1005.68 L1096.08 1005.75 L1097.28 1005.82 L1098.48 1005.89 L1099.68 1005.95 L1100.88 1006.02 L1102.08 1006.09 L1103.28 1006.15 L1104.48 1006.22 L1105.68 1006.28 L1106.88 1006.35 L1108.08 1006.41 L1109.28 1006.48 L1110.48 1006.54 L1111.68 1006.6 L1112.88 1006.67 L1114.08 1006.73 L1115.28 1006.79 L1116.48 1006.85 L1117.68 1006.91 L1118.88 1006.97 L1120.09 1007.03 L1121.29 1007.09 L1122.49 1007.15 L1123.69 1007.21 L1124.89 1007.27 L1126.09 1007.33 L1127.29 1007.39 L1128.49 1007.45 L1129.69 1007.51 L1130.89 1007.57 L1132.09 1007.62 L1133.29 1007.68 L1134.49 1007.74 L1135.69 1007.79 L1136.89 1007.85 L1138.09 1007.91 L1139.29 1007.96 L1140.49 1008.02 L1141.69 1008.08 L1142.89 1008.13 L1144.09 1008.19 L1145.3 1008.24 L1146.5 1008.3 L1147.7 1008.35 L1148.9 1008.41 L1150.1 1008.46 L1151.3 1008.52 L1152.5 1008.57 L1153.7 1008.63 L1154.9 1008.68 L1156.1 1008.74 L1157.3 1008.79" fill="none" stroke="#EDB120" stroke-width="3.0" stroke-linejoin="round"/>
<path d="M707.5 785.71 L707.58 766.25 L707.65 758.26 L707.73 752.18 L707.8 747.1 L707.88 742.66 L707.95 738.68 L708.03 735.05 L708.1 731.71 L708.18 728.59 L708.26 725.67 L708.33 722.91 L708.41 720.3 L708.48 717.82 L708.56 715.46 L708.63 713.19 L708.71 711.03 L708.79 708.95 L708.86 706.95 L708.94 705.02 L709.01 703.16 L709.09 701.36 L709.16 699.63 L709.24 697.95 L709.31 696.32 L709.39 694.74 L709.47 693.21 L709.54 691.73 L709.62 690.28 L709.69 688.88 L709.77 687.52 L709.84 686.19 L709.92 684.9 L709.99 683.64 L710.07 682.42 L710.15 681.22 L710.22 680.06 L710.3 678.93 L710.37 677.83 L710.45 676.75 L710.52 675.7 L710.6 674.67 L710.68 673.67 L710.75 672.7 L710.83 671.75 L710.9 670.82 L710.98 669.91 L711.05 669.02 L711.13 668.16 L711.2 667.32 L711.28 666.49 L711.36 665.69 L711.43 664.91 L711.51 664.14 L711.58 663.39 L711.66 662.66 L711.73 661.95 L711.81 661.25 L711.88 660.57 L711.96 659.91 L712.04 659.27 L712.11 658.64 L712.19 658.02 L712.26 657.42 L712.34 656.84 L712.41 656.27 L712.49 655.71 L712.56 655.17 L712.64 654.64 L712.72 654.13 L712.79 653.63 L712.87 653.14 L712.94 652.67 L713.02 652.2 L713.09 651.75 L713.17 651.32 L713.25 650.89 L713.32 650.48 L713.4 650.08 L713.47 649.69 L713.55 649.31 L713.62 648.95 L713.7 648.59 L713.77 648.25 L713.85 647.92 L713.93 647.59 L714 647.28 L714.08 646.98 L714.15 646.69 L714.23 646.41 L714.3 646.14 L714.38 645.88 L714.45 645.63 L714.53 645.39 L714.61 645.16 L714.68 644.94 L714.76 644.73 L714.83 644.52 L714.91 644.33 L714.98 644.14 L715.06 643.97 L715.14 643.8 L715.21 643.64 L715.29 643.49 L715.36 643.35 L715.44 643.22 L715.51 643.1 L715.59 642.98 L715.66 642.87 L715.74 642.77 L715.82 642.68 L715.89 642.6 L715.97 642.52 L716.04 642.45 L716.12 642.39 L716.19 642.34 L716.27 642.3 L716.34 642.26 L716.42 642.23 L716.5 642.21 L716.63 642.18 L716.94 642.22 L717.26 642.36 L717.57 642.61 L717.88 642.95 L718.19 643.38 L718.5 643.89 L718.82 644.48 L719.13 645.13 L719.44 645.86 L719.75 646.64 L720.06 647.48 L720.38 648.37 L720.69 649.32 L721 650.3 L721.31 651.33 L721.62 652.39 L721.94 653.49 L722.25 654.63 L722.56 655.79 L722.87 656.98 L723.18 658.2 L723.5 659.44 L723.81 660.7 L724.12 661.99 L724.43 663.29 L724.75 664.6 L725.06 665.94 L725.37 667.29 L725.68 668.65 L725.99 670.02 L726.31 671.41 L726.62 672.8 L726.93 674.2 L727.24 675.62 L727.55 677.03 L727.87 678.46 L728.18 679.89 L728.49 681.33 L728.8 682.77 L729.11 684.21 L729.43 685.66 L729.74 687.11 L730.05 688.56 L730.36 690.02 L730.67 691.47 L730.99 692.93 L731.3 694.39 L731.61 695.84 L731.92 697.3 L732.24 698.75 L732.55 700.21 L732.86 701.66 L733.17 703.11 L733.48 704.55 L733.8 706 L734.11 707.44 L734.42 708.88 L734.73 710.31 L735.04 711.74 L735.36 713.17 L735.67 714.59 L735.98 716.01 L736.29 717.43 L736.6 718.84 L736.92 720.24 L737.23 721.65 L737.54 723.04 L737.85 724.43 L738.16 725.82 L738.48 727.2 L738.79 728.58 L739.1 729.95 L739.41 731.31 L739.72 732.67 L740.04 734.03 L740.35 735.38 L740.66 736.72 L740.97 738.06 L741.29 739.4 L741.6 740.73 L741.91 742.05 L742.22 743.37 L742.53 744.68 L742.85 745.98 L743.16 747.28 L743.47 748.58 L743.78 749.87 L744.09 751.15 L744.41 752.43 L744.72 753.71 L745.03 754.98 L745.34 756.24 L745.65 757.5 L745.97 758.75 L746.28 760 L746.59 761.24 L746.9 762.47 L747.21 763.71 L747.53 764.93 L747.84 766.15 L748.15 767.37 L748.46 768.57 L748.78 769.78 L749.09 770.98 L749.4 772.17 L749.71 773.36 L750.02 774.54 L750.34 775.72 L750.65 776.89 L750.96 778.05 L751.27 779.21 L751.58 780.37 L751.9 781.51 L752.21 782.66 L752.52 783.79 L752.83 784.92 L753.14 786.05 L753.46 787.17 L753.77 788.28 L754.08 789.39 L754.39 790.49 L754.7 791.58 L755.02 792.67 L755.33 793.75 L755.64 794.83 L755.95 795.9 L756.27 796.96 L756.58 798.02 L756.89 799.07 L757.2 800.12 L757.51 801.16 L757.83 802.19 L758.14 803.21 L758.45 804.23 L758.76 805.25 L759.07 806.25 L759.39 807.25 L759.7 808.25 L760.01 809.23 L760.32 810.21 L760.63 811.19 L760.95 812.15 L761.26 813.11 L761.57 814.07 L761.88 815.02 L762.19 815.96 L762.51 816.89 L762.82 817.82 L763.13 818.75 L763.44 819.66 L763.76 820.57 L764.07 821.48 L764.38 822.37 L764.69 823.26 L765 824.15 L765.32 825.03 L765.63 825.9 L765.94 826.76 L766.25 827.62 L766.56 828.48 L766.88 829.33 L767.19 830.17 L767.5 831 L767.81 831.83 L768.12 832.66 L768.44 833.48 L768.75 834.29 L769.06 835.09 L769.37 835.9 L769.68 836.69 L770 837.48 L770.31 838.27 L770.62 839.05 L770.93 839.82 L771.25 840.59 L771.56 841.35 L771.87 842.11 L772.18 842.86 L772.49 843.61 L772.81 844.35 L773.12 845.08 L773.43 845.82 L773.74 846.54 L774.05 847.26 L774.37 847.98 L774.68 848.69 L774.99 849.4 L775.3 850.1 L775.61 850.8 L775.93 851.49 L776.24 852.18 L776.55 852.87 L776.86 853.55 L777.17 854.22 L777.49 854.89 L777.8 855.56 L778.11 856.22 L778.42 856.88 L778.74 857.54 L779.05 858.19 L779.36 858.84 L779.67 859.48 L779.98 860.12 L780.3 860.75 L780.61 861.38 L780.92 862.01 L781.23 862.63 L781.54 863.25 L781.86 863.87 L782.17 864.48 L782.48 865.09 L782.79 865.7 L783.1 866.3 L783.42 866.9 L783.73 867.49 L784.04 868.08 L784.35 868.67 L784.66 869.25 L784.98 869.83 L785.29 870.4 L785.6 870.97 L785.91 871.54 L786.23 872.11 L786.54 872.67 L786.85 873.22 L787.16 873.78 L787.47 874.33 L787.79 874.87 L788.1 875.41 L788.41 875.95 L788.72 876.48 L789.03 877.02 L789.35 877.54 L789.66 878.07 L789.97 878.59 L790.28 879.1 L790.59 879.61 L790.91 880.12 L791.22 880.63 L791.53 881.13 L791.84 881.63 L792.15 882.12 L792.47 882.62 L792.78 883.11 L793.09 883.59 L793.4 884.07 L793.72 884.55 L794.03 885.03 L794.34 885.5 L794.65 885.97 L794.96 886.44 L795.28 886.9 L795.59 887.36 L795.9 887.82 L796.21 888.28 L796.52 888.73 L796.84 889.18 L797.15 889.63 L797.46 890.07 L798.36 891.34 L799.56 892.99 L800.76 894.61 L801.96 896.19 L803.16 897.74 L804.36 899.26 L805.56 900.74 L806.76 902.2 L807.96 903.64 L809.16 905.05 L810.36 906.44 L811.56 907.81 L812.77 909.16 L813.97 910.49 L815.17 911.8 L816.37 913.1 L817.57 914.37 L818.77 915.63 L819.97 916.87 L821.17 918.09 L822.37 919.29 L823.57 920.47 L824.77 921.62 L825.97 922.76 L827.17 923.87 L828.37 924.96 L829.57 926.02 L830.77 927.06 L831.97 928.07 L833.17 929.06 L834.37 930.02 L835.57 930.96 L836.77 931.88 L837.98 932.79 L839.18 933.67 L840.38 934.54 L841.58 935.4 L842.78 936.24 L843.98 937.07 L845.18 937.89 L846.38 938.7 L847.58 939.49 L848.78 940.27 L849.98 941.04 L851.18 941.8 L852.38 942.55 L853.58 943.28 L854.78 944 L855.98 944.71 L857.18 945.41 L858.38 946.1 L859.58 946.78 L860.78 947.44 L861.98 948.09 L863.18 948.73 L864.39 949.36 L865.59 949.98 L866.79 950.58 L867.99 951.18 L869.19 951.76 L870.39 952.34 L871.59 952.9 L872.79 953.46 L873.99 954 L875.19 954.54 L876.39 955.07 L877.59 955.6 L878.79 956.11 L879.99 956.62 L881.19 957.12 L882.39 957.62 L883.59 958.11 L884.79 958.6 L885.99 959.08 L887.19 959.56 L888.39 960.03 L889.6 960.49 L890.8 960.96 L892 961.42 L893.2 961.87 L894.4 962.32 L895.6 962.77 L896.8 963.21 L898 963.64 L899.2 964.07 L900.4 964.5 L901.6 964.92 L902.8 965.34 L904 965.76 L905.2 966.16 L906.4 966.57 L907.6 966.97 L908.8 967.36 L910 967.75 L911.2 968.13 L912.4 968.51 L913.6 968.89 L914.81 969.26 L916.01 969.62 L917.21 969.98 L918.41 970.34 L919.61 970.69 L920.81 971.03 L922.01 971.38 L923.21 971.71 L924.41 972.04 L925.61 972.37 L926.81 972.69 L928.01 973 L929.21 973.31 L930.41 973.62 L931.61 973.91 L932.81 974.21 L934.01 974.5 L935.21 974.78 L936.41 975.06 L937.61 975.34 L938.81 975.61 L940.02 975.88 L941.22 976.14 L942.42 976.4 L943.62 976.65 L944.82 976.91 L946.02 977.15 L947.22 977.4 L948.42 977.64 L949.62 977.88 L950.82 978.11 L952.02 978.34 L953.22 978.57 L954.42 978.8 L955.62 979.03 L956.82 979.25 L958.02 979.47 L959.22 979.68 L960.42 979.9 L961.62 980.11 L962.82 980.33 L964.02 980.54 L965.22 980.74 L966.43 980.95 L967.63 981.16 L968.83 981.36 L970.03 981.56 L971.23 981.77 L972.43 981.97 L973.63 982.17 L974.83 982.37 L976.03 982.57 L977.23 982.76 L978.43 982.96 L979.63 983.16 L980.83 983.35 L982.03 983.55 L983.23 983.75 L984.43 983.94 L985.63 984.13 L986.83 984.33 L988.03 984.52 L989.23 984.71 L990.43 984.9 L991.64 985.09 L992.84 985.28 L994.04 985.47 L995.24 985.65 L996.44 985.84 L997.64 986.02 L998.84 986.21 L1000.04 986.39 L1001.24 986.57 L1002.44 986.75 L1003.64 986.93 L1004.84 987.1 L1006.04 987.28 L1007.24 987.45 L1008.44 987.63 L1009.64 987.8 L1010.84 987.97 L1012.04 988.13 L1013.24 988.3 L1014.44 988.47 L1015.64 988.63 L1016.85 988.79 L1018.05 988.95 L1019.25 989.11 L1020.45 989.27 L1021.65 989.42 L1022.85 989.58 L1024.05 989.73 L1025.25 989.88 L1026.45 990.03 L1027.65 990.17 L1028.85 990.32 L1030.05 990.46 L1031.25 990.61 L1032.45 990.75 L1033.65 990.89 L1034.85 991.02 L1036.05 991.16 L1037.25 991.29 L1038.45 991.43 L1039.65 991.56 L1040.85 991.69 L1042.05 991.82 L1043.26 991.95 L1044.46 992.08 L1045.66 992.2 L1046.86 992.33 L1048.06 992.45 L1049.26 992.58 L1050.46 992.7 L1051.66 992.82 L1052.86 992.94 L1054.06 993.06 L1055.26 993.17 L1056.46 993.29 L1057.66 993.41 L1058.86 993.52 L1060.06 993.64 L1061.26 993.75 L1062.46 993.86 L1063.66 993.97 L1064.86 994.08 L1066.06 994.19 L1067.26 994.3 L1068.47 994.41 L1069.67 994.52 L1070.87 994.63 L1072.07 994.73 L1073.27 994.84 L1074.47 994.95 L1075.67 995.05 L1076.87 995.15 L1078.07 995.26 L1079.27 995.36 L1080.47 995.46 L1081.67 995.56 L1082.87 995.66 L1084.07 995.76 L1085.27 995.86 L1086.47 995.96 L1087.67 996.06 L1088.87 996.16 L1090.07 996.25 L1091.27 996.35 L1092.47 996.44 L1093.68 996.54 L1094.88 996.63 L1096.08 996.73 L1097.28 996.82 L1098.48 996.91 L1099.68 997 L1100.88 997.09 L1102.08 997.18 L1103.28 997.27 L1104.48 997.36 L1105.68 997.45 L1106.88 997.54 L1108.08 997.63 L1109.28 997.71 L1110.48 997.8 L1111.68 997.88 L1112.88 997.97 L1114.08 998.05 L1115.28 998.14 L1116.48 998.22 L1117.68 998.3 L1118.88 998.38 L1120.09 998.47 L1121.29 998.55 L1122.49 998.63 L1123.69 998.71 L1124.89 998.79 L1126.09 998.87 L1127.29 998.95 L1128.49 999.02 L1129.69 999.1 L1130.89 999.18 L1132.09 999.26 L1133.29 999.33 L1134.49 999.41 L1135.69 999.49 L1136.89 999.56 L1138.09 999.64 L1139.29 999.71 L1140.49 999.79 L1141.69 999.86 L1142.89 999.94 L1144.09 1000.01 L1145.3 1000.09 L1146.5 1000.16 L1147.7 1000.23 L1148.9 1000.31 L1150.1 1000.38 L1151.3 1000.45 L1152.5 1000.53 L1153.7 1000.6 L1154.9 1000.67 L1156.1 1000.75 L1157.3 1000.82" fill="none" stroke="#7E2F8E" stroke-width="3.0" stroke-linejoin="round"/>
<text class="tk" transform="translate(707.5 1059.9) scale(0.96 1)" text-anchor="middle">0</text>
<text class="tk" transform="translate(797.46 1059.9) scale(0.96 1)" text-anchor="middle">20</text>
<text class="tk" transform="translate(887.42 1059.9) scale(0.96 1)" text-anchor="middle">40</text>
<text class="tk" transform="translate(977.38 1059.9) scale(0.96 1)" text-anchor="middle">60</text>
<text class="tk" transform="translate(1067.34 1059.9) scale(0.96 1)" text-anchor="middle">80</text>
<text class="tk" transform="translate(1157.3 1059.9) scale(0.96 1)" text-anchor="middle">100</text>
<text class="tk" transform="translate(698.2 1036.6) scale(0.96 1)" text-anchor="end">0</text>
<text class="tk" transform="translate(698.2 915.76) scale(0.96 1)" text-anchor="end">0.005</text>
<text class="tk" transform="translate(698.2 794.91) scale(0.96 1)" text-anchor="end">0.01</text>
<text class="tk" transform="translate(698.2 674.07) scale(0.96 1)" text-anchor="end">0.015</text>
<text class="mt th" font-size="34.47" font-style="italic" transform="translate(884.31 623.40) scale(1.3050 1)">m</text>
<text class="mt" font-size="35.20" transform="translate(925.13 626.30) scale(1.4052 1)">=</text>
<text class="mt" font-size="36.15" transform="translate(962.65 623.74) scale(0.9959 1)">8</text>
<text class="mt th" font-size="38.43" font-style="italic" transform="translate(925.08 1096.32) scale(1.1129 1)">t</text>
<text class="mt th" font-size="36.64" font-style="italic" transform="translate(618.60 868.70) rotate(-90) scale(1.1426 1)">I</text>
<text class="mt th" font-size="21.88" font-style="italic" transform="translate(605.68 851.71) rotate(-90) scale(1.0790 1)">c</text>
<text class="mt" font-size="26.78" transform="translate(630.71 854.51) rotate(-90) scale(1.1716 1)">(</text>
<text class="mt th" font-size="22.59" font-style="italic" transform="translate(629.20 846.66) rotate(-90) scale(1.9019 1)">l</text>
<text class="mt" font-size="24.08" transform="translate(630.77 835.75) rotate(-90) scale(0.8306 1)">,</text>
<text class="mt th" font-size="22.34" font-style="italic" transform="translate(630.20 831.36) rotate(-90) scale(1.3864 1)">m</text>
<text class="mt" font-size="26.78" transform="translate(630.71 808.88) rotate(-90) scale(0.8992 1)">)</text>
<rect x="967.6" y="670.2" width="154" height="135" fill="#fff" stroke="#262626" stroke-width="1.3"/>
<line x1="973.7" y1="689.3" x2="1039.1" y2="689.3" stroke="#0072BD" stroke-width="3.0"/>
<text class="mt th" font-size="27.19" font-style="italic" transform="translate(1044.54 696.20) scale(1.0896 1)">l</text>
<text class="mt" font-size="27.20" transform="translate(1060.30 698.74) scale(1.3994 1)">=</text>
<text class="mt" font-size="27.47" transform="translate(1087.84 696.20) scale(1.0192 1)">2</text>
<line x1="973.7" y1="722" x2="1039.1" y2="722" stroke="#D95319" stroke-width="3.0"/>
<text class="mt th" font-size="27.19" font-style="italic" transform="translate(1044.54 728.60) scale(1.0896 1)">l</text>
<text class="mt" font-size="27.20" transform="translate(1060.30 731.14) scale(1.3994 1)">=</text>
<text class="mt" font-size="27.37" transform="translate(1087.50 728.33) scale(1.0167 1)">5</text>
<line x1="973.7" y1="754.5" x2="1039.1" y2="754.5" stroke="#EDB120" stroke-width="3.0"/>
<text class="mt th" font-size="27.19" font-style="italic" transform="translate(1044.54 761.20) scale(1.0896 1)">l</text>
<text class="mt" font-size="27.20" transform="translate(1060.30 763.74) scale(1.3994 1)">=</text>
<text class="mt" font-size="26.96" transform="translate(1086.74 760.93) scale(1.0003 1)">10</text>
<line x1="973.7" y1="786.3" x2="1039.1" y2="786.3" stroke="#7E2F8E" stroke-width="3.0"/>
<text class="mt th" font-size="27.19" font-style="italic" transform="translate(1044.54 793.20) scale(1.0896 1)">l</text>
<text class="mt" font-size="27.20" transform="translate(1060.30 795.74) scale(1.3994 1)">=</text>
<text class="mt" font-size="27.16" transform="translate(1086.73 792.93) scale(0.9957 1)">15</text>
<g stroke="#dfdfdf" stroke-width="1"><line x1="1390.46" y1="640.7" x2="1390.46" y2="1027.4"/><line x1="1480.42" y1="640.7" x2="1480.42" y2="1027.4"/><line x1="1570.38" y1="640.7" x2="1570.38" y2="1027.4"/><line x1="1660.34" y1="640.7" x2="1660.34" y2="1027.4"/><line x1="1300.5" y1="906.56" x2="1750.2" y2="906.56"/><line x1="1300.5" y1="785.71" x2="1750.2" y2="785.71"/><line x1="1300.5" y1="664.87" x2="1750.2" y2="664.87"/></g>
<path d="M1390.46 1027.4v-4.5M1390.46 640.7v4.5M1480.42 1027.4v-4.5M1480.42 640.7v4.5M1570.38 1027.4v-4.5M1570.38 640.7v4.5M1660.34 1027.4v-4.5M1660.34 640.7v4.5M1300.5 906.56h4.5M1750.2 906.56h-4.5M1300.5 785.71h4.5M1750.2 785.71h-4.5M1300.5 664.87h4.5M1750.2 664.87h-4.5" fill="none" stroke="#262626" stroke-width="1.3"/>
<rect x="1300.5" y="640.7" width="449.7" height="386.7" fill="none" stroke="#262626" stroke-width="1.3"/>
<path d="M1300.5 785.71 L1300.58 796.47 L1300.65 800.92 L1300.73 804.32 L1300.8 807.19 L1300.88 809.72 L1300.95 812 L1301.03 814.09 L1301.1 816.03 L1301.18 817.86 L1301.26 819.58 L1301.33 821.22 L1301.41 822.78 L1301.48 824.27 L1301.56 825.71 L1301.63 827.09 L1301.71 828.43 L1301.79 829.72 L1301.86 830.98 L1301.94 832.2 L1302.01 833.38 L1302.09 834.54 L1302.16 835.66 L1302.24 836.76 L1302.31 837.83 L1302.39 838.88 L1302.47 839.91 L1302.54 840.92 L1302.62 841.9 L1302.69 842.87 L1302.77 843.82 L1302.84 844.75 L1302.92 845.67 L1302.99 846.57 L1303.07 847.45 L1303.15 848.32 L1303.22 849.18 L1303.3 850.02 L1303.37 850.86 L1303.45 851.68 L1303.52 852.48 L1303.6 853.28 L1303.68 854.07 L1303.75 854.84 L1303.83 855.61 L1303.9 856.36 L1303.98 857.11 L1304.05 857.84 L1304.13 858.57 L1304.2 859.29 L1304.28 860 L1304.36 860.7 L1304.43 861.4 L1304.51 862.09 L1304.58 862.76 L1304.66 863.44 L1304.73 864.1 L1304.81 864.76 L1304.88 865.41 L1304.96 866.05 L1305.04 866.69 L1305.11 867.32 L1305.19 867.95 L1305.26 868.57 L1305.34 869.18 L1305.41 869.79 L1305.49 870.39 L1305.56 870.99 L1305.64 871.58 L1305.72 872.16 L1305.79 872.74 L1305.87 873.32 L1305.94 873.89 L1306.02 874.45 L1306.09 875.01 L1306.17 875.57 L1306.25 876.12 L1306.32 876.67 L1306.4 877.21 L1306.47 877.75 L1306.55 878.28 L1306.62 878.81 L1306.7 879.33 L1306.77 879.85 L1306.85 880.37 L1306.93 880.88 L1307 881.39 L1307.08 881.9 L1307.15 882.4 L1307.23 882.9 L1307.3 883.39 L1307.38 883.88 L1307.45 884.37 L1307.53 884.85 L1307.61 885.33 L1307.68 885.81 L1307.76 886.28 L1307.83 886.75 L1307.91 887.22 L1307.98 887.68 L1308.06 888.14 L1308.14 888.6 L1308.21 889.05 L1308.29 889.5 L1308.36 889.95 L1308.44 890.39 L1308.51 890.84 L1308.59 891.27 L1308.66 891.71 L1308.74 892.14 L1308.82 892.57 L1308.89 893 L1308.97 893.43 L1309.04 893.85 L1309.12 894.27 L1309.19 894.69 L1309.27 895.1 L1309.34 895.51 L1309.42 895.92 L1309.5 896.33 L1309.63 897.05 L1309.94 898.69 L1310.26 900.28 L1310.57 901.84 L1310.88 903.36 L1311.19 904.85 L1311.5 906.31 L1311.82 907.73 L1312.13 909.12 L1312.44 910.48 L1312.75 911.81 L1313.06 913.12 L1313.38 914.4 L1313.69 915.65 L1314 916.87 L1314.31 918.08 L1314.62 919.25 L1314.94 920.41 L1315.25 921.54 L1315.56 922.65 L1315.87 923.74 L1316.18 924.81 L1316.5 925.86 L1316.81 926.89 L1317.12 927.9 L1317.43 928.9 L1317.75 929.87 L1318.06 930.83 L1318.37 931.77 L1318.68 932.69 L1318.99 933.6 L1319.31 934.49 L1319.62 935.36 L1319.93 936.22 L1320.24 937.07 L1320.55 937.9 L1320.87 938.72 L1321.18 939.52 L1321.49 940.31 L1321.8 941.08 L1322.11 941.84 L1322.43 942.59 L1322.74 943.33 L1323.05 944.06 L1323.36 944.77 L1323.67 945.47 L1323.99 946.16 L1324.3 946.84 L1324.61 947.51 L1324.92 948.17 L1325.24 948.82 L1325.55 949.46 L1325.86 950.09 L1326.17 950.71 L1326.48 951.32 L1326.8 951.92 L1327.11 952.51 L1327.42 953.09 L1327.73 953.67 L1328.04 954.23 L1328.36 954.79 L1328.67 955.34 L1328.98 955.89 L1329.29 956.42 L1329.6 956.95 L1329.92 957.47 L1330.23 957.98 L1330.54 958.49 L1330.85 958.99 L1331.16 959.48 L1331.48 959.97 L1331.79 960.45 L1332.1 960.92 L1332.41 961.39 L1332.72 961.85 L1333.04 962.31 L1333.35 962.76 L1333.66 963.2 L1333.97 963.64 L1334.29 964.07 L1334.6 964.5 L1334.91 964.93 L1335.22 965.34 L1335.53 965.76 L1335.85 966.16 L1336.16 966.57 L1336.47 966.96 L1336.78 967.36 L1337.09 967.75 L1337.41 968.13 L1337.72 968.51 L1338.03 968.89 L1338.34 969.26 L1338.65 969.62 L1338.97 969.99 L1339.28 970.35 L1339.59 970.7 L1339.9 971.05 L1340.21 971.4 L1340.53 971.74 L1340.84 972.08 L1341.15 972.42 L1341.46 972.75 L1341.78 973.08 L1342.09 973.41 L1342.4 973.73 L1342.71 974.05 L1343.02 974.36 L1343.34 974.68 L1343.65 974.98 L1343.96 975.29 L1344.27 975.59 L1344.58 975.89 L1344.9 976.19 L1345.21 976.48 L1345.52 976.77 L1345.83 977.06 L1346.14 977.34 L1346.46 977.63 L1346.77 977.9 L1347.08 978.18 L1347.39 978.45 L1347.7 978.72 L1348.02 978.99 L1348.33 979.26 L1348.64 979.52 L1348.95 979.78 L1349.27 980.04 L1349.58 980.29 L1349.89 980.54 L1350.2 980.79 L1350.51 981.04 L1350.83 981.28 L1351.14 981.53 L1351.45 981.77 L1351.76 982 L1352.07 982.24 L1352.39 982.47 L1352.7 982.7 L1353.01 982.93 L1353.32 983.16 L1353.63 983.38 L1353.95 983.6 L1354.26 983.82 L1354.57 984.04 L1354.88 984.25 L1355.19 984.47 L1355.51 984.68 L1355.82 984.89 L1356.13 985.1 L1356.44 985.3 L1356.76 985.5 L1357.07 985.71 L1357.38 985.9 L1357.69 986.1 L1358 986.3 L1358.32 986.49 L1358.63 986.68 L1358.94 986.87 L1359.25 987.06 L1359.56 987.25 L1359.88 987.43 L1360.19 987.61 L1360.5 987.79 L1360.81 987.97 L1361.12 988.15 L1361.44 988.33 L1361.75 988.5 L1362.06 988.67 L1362.37 988.84 L1362.68 989.01 L1363 989.18 L1363.31 989.35 L1363.62 989.51 L1363.93 989.67 L1364.25 989.83 L1364.56 989.99 L1364.87 990.15 L1365.18 990.31 L1365.49 990.46 L1365.81 990.61 L1366.12 990.76 L1366.43 990.91 L1366.74 991.06 L1367.05 991.21 L1367.37 991.36 L1367.68 991.5 L1367.99 991.64 L1368.3 991.79 L1368.61 991.93 L1368.93 992.06 L1369.24 992.2 L1369.55 992.34 L1369.86 992.47 L1370.17 992.61 L1370.49 992.74 L1370.8 992.87 L1371.11 993 L1371.42 993.13 L1371.74 993.26 L1372.05 993.39 L1372.36 993.51 L1372.67 993.64 L1372.98 993.76 L1373.3 993.89 L1373.61 994.01 L1373.92 994.13 L1374.23 994.25 L1374.54 994.37 L1374.86 994.49 L1375.17 994.6 L1375.48 994.72 L1375.79 994.83 L1376.1 994.95 L1376.42 995.06 L1376.73 995.18 L1377.04 995.29 L1377.35 995.4 L1377.66 995.51 L1377.98 995.62 L1378.29 995.73 L1378.6 995.84 L1378.91 995.94 L1379.23 996.05 L1379.54 996.16 L1379.85 996.26 L1380.16 996.37 L1380.47 996.47 L1380.79 996.57 L1381.1 996.68 L1381.41 996.78 L1381.72 996.88 L1382.03 996.98 L1382.35 997.08 L1382.66 997.18 L1382.97 997.28 L1383.28 997.38 L1383.59 997.48 L1383.91 997.58 L1384.22 997.67 L1384.53 997.77 L1384.84 997.86 L1385.15 997.96 L1385.47 998.06 L1385.78 998.15 L1386.09 998.24 L1386.4 998.34 L1386.72 998.43 L1387.03 998.52 L1387.34 998.61 L1387.65 998.7 L1387.96 998.8 L1388.28 998.89 L1388.59 998.98 L1388.9 999.07 L1389.21 999.15 L1389.52 999.24 L1389.84 999.33 L1390.15 999.42 L1390.46 999.51 L1391.36 999.76 L1392.56 1000.09 L1393.76 1000.41 L1394.96 1000.73 L1396.16 1001.04 L1397.36 1001.35 L1398.56 1001.65 L1399.76 1001.94 L1400.96 1002.23 L1402.16 1002.52 L1403.36 1002.8 L1404.56 1003.08 L1405.77 1003.35 L1406.97 1003.62 L1408.17 1003.88 L1409.37 1004.14 L1410.57 1004.39 L1411.77 1004.64 L1412.97 1004.88 L1414.17 1005.12 L1415.37 1005.36 L1416.57 1005.59 L1417.77 1005.82 L1418.97 1006.04 L1420.17 1006.26 L1421.37 1006.47 L1422.57 1006.69 L1423.77 1006.89 L1424.97 1007.1 L1426.17 1007.3 L1427.37 1007.5 L1428.57 1007.69 L1429.77 1007.88 L1430.98 1008.07 L1432.18 1008.25 L1433.38 1008.43 L1434.58 1008.61 L1435.78 1008.78 L1436.98 1008.95 L1438.18 1009.12 L1439.38 1009.29 L1440.58 1009.45 L1441.78 1009.61 L1442.98 1009.76 L1444.18 1009.92 L1445.38 1010.07 L1446.58 1010.22 L1447.78 1010.36 L1448.98 1010.51 L1450.18 1010.65 L1451.38 1010.79 L1452.58 1010.93 L1453.78 1011.06 L1454.98 1011.19 L1456.18 1011.32 L1457.39 1011.45 L1458.59 1011.58 L1459.79 1011.71 L1460.99 1011.83 L1462.19 1011.95 L1463.39 1012.07 L1464.59 1012.19 L1465.79 1012.3 L1466.99 1012.42 L1468.19 1012.53 L1469.39 1012.64 L1470.59 1012.75 L1471.79 1012.86 L1472.99 1012.96 L1474.19 1013.06 L1475.39 1013.17 L1476.59 1013.27 L1477.79 1013.37 L1478.99 1013.47 L1480.19 1013.56 L1481.39 1013.66 L1482.6 1013.75 L1483.8 1013.84 L1485 1013.93 L1486.2 1014.02 L1487.4 1014.11 L1488.6 1014.2 L1489.8 1014.28 L1491 1014.36 L1492.2 1014.45 L1493.4 1014.53 L1494.6 1014.61 L1495.8 1014.69 L1497 1014.77 L1498.2 1014.84 L1499.4 1014.92 L1500.6 1015 L1501.8 1015.07 L1503 1015.14 L1504.2 1015.22 L1505.4 1015.29 L1506.6 1015.36 L1507.81 1015.43 L1509.01 1015.5 L1510.21 1015.56 L1511.41 1015.63 L1512.61 1015.7 L1513.81 1015.76 L1515.01 1015.83 L1516.21 1015.89 L1517.41 1015.95 L1518.61 1016.02 L1519.81 1016.08 L1521.01 1016.14 L1522.21 1016.2 L1523.41 1016.26 L1524.61 1016.32 L1525.81 1016.38 L1527.01 1016.43 L1528.21 1016.49 L1529.41 1016.55 L1530.61 1016.61 L1531.81 1016.66 L1533.02 1016.72 L1534.22 1016.77 L1535.42 1016.83 L1536.62 1016.88 L1537.82 1016.93 L1539.02 1016.98 L1540.22 1017.04 L1541.42 1017.09 L1542.62 1017.14 L1543.82 1017.19 L1545.02 1017.24 L1546.22 1017.29 L1547.42 1017.34 L1548.62 1017.39 L1549.82 1017.43 L1551.02 1017.48 L1552.22 1017.53 L1553.42 1017.57 L1554.62 1017.62 L1555.82 1017.66 L1557.02 1017.71 L1558.22 1017.75 L1559.43 1017.8 L1560.63 1017.84 L1561.83 1017.88 L1563.03 1017.92 L1564.23 1017.97 L1565.43 1018.01 L1566.63 1018.05 L1567.83 1018.09 L1569.03 1018.13 L1570.23 1018.17 L1571.43 1018.2 L1572.63 1018.24 L1573.83 1018.28 L1575.03 1018.32 L1576.23 1018.35 L1577.43 1018.39 L1578.63 1018.42 L1579.83 1018.46 L1581.03 1018.49 L1582.23 1018.53 L1583.43 1018.56 L1584.64 1018.6 L1585.84 1018.63 L1587.04 1018.66 L1588.24 1018.7 L1589.44 1018.73 L1590.64 1018.76 L1591.84 1018.79 L1593.04 1018.82 L1594.24 1018.85 L1595.44 1018.88 L1596.64 1018.91 L1597.84 1018.94 L1599.04 1018.97 L1600.24 1019 L1601.44 1019.03 L1602.64 1019.06 L1603.84 1019.09 L1605.04 1019.11 L1606.24 1019.14 L1607.44 1019.17 L1608.64 1019.2 L1609.85 1019.22 L1611.05 1019.25 L1612.25 1019.27 L1613.45 1019.3 L1614.65 1019.33 L1615.85 1019.35 L1617.05 1019.38 L1618.25 1019.4 L1619.45 1019.43 L1620.65 1019.45 L1621.85 1019.48 L1623.05 1019.5 L1624.25 1019.52 L1625.45 1019.55 L1626.65 1019.57 L1627.85 1019.6 L1629.05 1019.62 L1630.25 1019.64 L1631.45 1019.67 L1632.65 1019.69 L1633.85 1019.71 L1635.05 1019.73 L1636.26 1019.76 L1637.46 1019.78 L1638.66 1019.8 L1639.86 1019.82 L1641.06 1019.84 L1642.26 1019.87 L1643.46 1019.89 L1644.66 1019.91 L1645.86 1019.93 L1647.06 1019.95 L1648.26 1019.97 L1649.46 1019.99 L1650.66 1020.02 L1651.86 1020.04 L1653.06 1020.06 L1654.26 1020.08 L1655.46 1020.1 L1656.66 1020.12 L1657.86 1020.14 L1659.06 1020.16 L1660.26 1020.18 L1661.47 1020.2 L1662.67 1020.22 L1663.87 1020.24 L1665.07 1020.26 L1666.27 1020.28 L1667.47 1020.3 L1668.67 1020.32 L1669.87 1020.34 L1671.07 1020.36 L1672.27 1020.38 L1673.47 1020.4 L1674.67 1020.42 L1675.87 1020.44 L1677.07 1020.46 L1678.27 1020.48 L1679.47 1020.5 L1680.67 1020.52 L1681.87 1020.54 L1683.07 1020.56 L1684.27 1020.58 L1685.47 1020.6 L1686.68 1020.62 L1687.88 1020.64 L1689.08 1020.66 L1690.28 1020.68 L1691.48 1020.7 L1692.68 1020.72 L1693.88 1020.74 L1695.08 1020.75 L1696.28 1020.77 L1697.48 1020.79 L1698.68 1020.81 L1699.88 1020.83 L1701.08 1020.85 L1702.28 1020.87 L1703.48 1020.89 L1704.68 1020.91 L1705.88 1020.93 L1707.08 1020.94 L1708.28 1020.96 L1709.48 1020.98 L1710.68 1021 L1711.88 1021.02 L1713.09 1021.04 L1714.29 1021.06 L1715.49 1021.07 L1716.69 1021.09 L1717.89 1021.11 L1719.09 1021.13 L1720.29 1021.15 L1721.49 1021.17 L1722.69 1021.19 L1723.89 1021.2 L1725.09 1021.22 L1726.29 1021.24 L1727.49 1021.26 L1728.69 1021.28 L1729.89 1021.3 L1731.09 1021.31 L1732.29 1021.33 L1733.49 1021.35 L1734.69 1021.37 L1735.89 1021.39 L1737.09 1021.4 L1738.3 1021.42 L1739.5 1021.44 L1740.7 1021.46 L1741.9 1021.48 L1743.1 1021.49 L1744.3 1021.51 L1745.5 1021.53 L1746.7 1021.55 L1747.9 1021.56 L1749.1 1021.58 L1750.3 1021.6" fill="none" stroke="#0072BD" stroke-width="3.0" stroke-linejoin="round"/>
<path d="M1300.5 785.71 L1300.58 790.48 L1300.65 792.46 L1300.73 793.99 L1300.8 795.28 L1300.88 796.42 L1300.95 797.45 L1301.03 798.41 L1301.1 799.3 L1301.18 800.14 L1301.26 800.94 L1301.33 801.7 L1301.41 802.43 L1301.48 803.13 L1301.56 803.8 L1301.63 804.46 L1301.71 805.1 L1301.79 805.71 L1301.86 806.32 L1301.94 806.9 L1302.01 807.48 L1302.09 808.04 L1302.16 808.59 L1302.24 809.13 L1302.31 809.66 L1302.39 810.18 L1302.47 810.69 L1302.54 811.19 L1302.62 811.69 L1302.69 812.17 L1302.77 812.66 L1302.84 813.13 L1302.92 813.6 L1302.99 814.06 L1303.07 814.52 L1303.15 814.97 L1303.22 815.42 L1303.3 815.86 L1303.37 816.29 L1303.45 816.73 L1303.52 817.16 L1303.6 817.58 L1303.68 818 L1303.75 818.42 L1303.83 818.83 L1303.9 819.24 L1303.98 819.64 L1304.05 820.04 L1304.13 820.44 L1304.2 820.84 L1304.28 821.23 L1304.36 821.62 L1304.43 822.01 L1304.51 822.39 L1304.58 822.77 L1304.66 823.15 L1304.73 823.53 L1304.81 823.9 L1304.88 824.28 L1304.96 824.65 L1305.04 825.01 L1305.11 825.38 L1305.19 825.74 L1305.26 826.1 L1305.34 826.46 L1305.41 826.82 L1305.49 827.17 L1305.56 827.52 L1305.64 827.88 L1305.72 828.23 L1305.79 828.57 L1305.87 828.92 L1305.94 829.26 L1306.02 829.61 L1306.09 829.95 L1306.17 830.29 L1306.25 830.62 L1306.32 830.96 L1306.4 831.3 L1306.47 831.63 L1306.55 831.96 L1306.62 832.29 L1306.7 832.62 L1306.77 832.95 L1306.85 833.28 L1306.93 833.6 L1307 833.93 L1307.08 834.25 L1307.15 834.57 L1307.23 834.89 L1307.3 835.21 L1307.38 835.53 L1307.45 835.84 L1307.53 836.16 L1307.61 836.48 L1307.68 836.79 L1307.76 837.1 L1307.83 837.41 L1307.91 837.72 L1307.98 838.03 L1308.06 838.34 L1308.14 838.65 L1308.21 838.95 L1308.29 839.26 L1308.36 839.56 L1308.44 839.87 L1308.51 840.17 L1308.59 840.47 L1308.66 840.77 L1308.74 841.07 L1308.82 841.37 L1308.89 841.67 L1308.97 841.96 L1309.04 842.26 L1309.12 842.55 L1309.19 842.85 L1309.27 843.14 L1309.34 843.43 L1309.42 843.72 L1309.5 844.02 L1309.63 844.53 L1309.94 845.72 L1310.26 846.89 L1310.57 848.05 L1310.88 849.2 L1311.19 850.34 L1311.5 851.47 L1311.82 852.58 L1312.13 853.69 L1312.44 854.78 L1312.75 855.87 L1313.06 856.94 L1313.38 858.01 L1313.69 859.06 L1314 860.11 L1314.31 861.14 L1314.62 862.17 L1314.94 863.19 L1315.25 864.2 L1315.56 865.21 L1315.87 866.2 L1316.18 867.19 L1316.5 868.16 L1316.81 869.14 L1317.12 870.1 L1317.43 871.05 L1317.75 872 L1318.06 872.94 L1318.37 873.87 L1318.68 874.8 L1318.99 875.72 L1319.31 876.63 L1319.62 877.53 L1319.93 878.43 L1320.24 879.32 L1320.55 880.2 L1320.87 881.08 L1321.18 881.95 L1321.49 882.81 L1321.8 883.67 L1322.11 884.52 L1322.43 885.36 L1322.74 886.2 L1323.05 887.03 L1323.36 887.86 L1323.67 888.68 L1323.99 889.49 L1324.3 890.3 L1324.61 891.1 L1324.92 891.89 L1325.24 892.68 L1325.55 893.46 L1325.86 894.24 L1326.17 895.01 L1326.48 895.77 L1326.8 896.53 L1327.11 897.28 L1327.42 898.03 L1327.73 898.77 L1328.04 899.51 L1328.36 900.24 L1328.67 900.96 L1328.98 901.68 L1329.29 902.39 L1329.6 903.1 L1329.92 903.8 L1330.23 904.5 L1330.54 905.19 L1330.85 905.88 L1331.16 906.56 L1331.48 907.24 L1331.79 907.91 L1332.1 908.57 L1332.41 909.23 L1332.72 909.89 L1333.04 910.54 L1333.35 911.18 L1333.66 911.82 L1333.97 912.46 L1334.29 913.09 L1334.6 913.71 L1334.91 914.33 L1335.22 914.95 L1335.53 915.56 L1335.85 916.16 L1336.16 916.76 L1336.47 917.36 L1336.78 917.95 L1337.09 918.53 L1337.41 919.12 L1337.72 919.69 L1338.03 920.26 L1338.34 920.83 L1338.65 921.39 L1338.97 921.95 L1339.28 922.5 L1339.59 923.05 L1339.9 923.6 L1340.21 924.14 L1340.53 924.67 L1340.84 925.2 L1341.15 925.73 L1341.46 926.25 L1341.78 926.76 L1342.09 927.27 L1342.4 927.78 L1342.71 928.28 L1343.02 928.78 L1343.34 929.28 L1343.65 929.77 L1343.96 930.25 L1344.27 930.73 L1344.58 931.21 L1344.9 931.68 L1345.21 932.15 L1345.52 932.61 L1345.83 933.07 L1346.14 933.52 L1346.46 933.98 L1346.77 934.42 L1347.08 934.87 L1347.39 935.3 L1347.7 935.74 L1348.02 936.17 L1348.33 936.6 L1348.64 937.02 L1348.95 937.44 L1349.27 937.85 L1349.58 938.26 L1349.89 938.67 L1350.2 939.08 L1350.51 939.48 L1350.83 939.87 L1351.14 940.27 L1351.45 940.66 L1351.76 941.04 L1352.07 941.42 L1352.39 941.8 L1352.7 942.18 L1353.01 942.55 L1353.32 942.92 L1353.63 943.29 L1353.95 943.65 L1354.26 944.01 L1354.57 944.37 L1354.88 944.72 L1355.19 945.07 L1355.51 945.42 L1355.82 945.76 L1356.13 946.11 L1356.44 946.44 L1356.76 946.78 L1357.07 947.11 L1357.38 947.44 L1357.69 947.77 L1358 948.09 L1358.32 948.41 L1358.63 948.73 L1358.94 949.05 L1359.25 949.36 L1359.56 949.67 L1359.88 949.98 L1360.19 950.29 L1360.5 950.59 L1360.81 950.89 L1361.12 951.19 L1361.44 951.49 L1361.75 951.78 L1362.06 952.08 L1362.37 952.37 L1362.68 952.66 L1363 952.94 L1363.31 953.22 L1363.62 953.51 L1363.93 953.79 L1364.25 954.06 L1364.56 954.34 L1364.87 954.61 L1365.18 954.89 L1365.49 955.16 L1365.81 955.42 L1366.12 955.69 L1366.43 955.95 L1366.74 956.22 L1367.05 956.48 L1367.37 956.74 L1367.68 957 L1367.99 957.25 L1368.3 957.51 L1368.61 957.76 L1368.93 958.01 L1369.24 958.26 L1369.55 958.51 L1369.86 958.76 L1370.17 959 L1370.49 959.25 L1370.8 959.49 L1371.11 959.73 L1371.42 959.97 L1371.74 960.21 L1372.05 960.45 L1372.36 960.68 L1372.67 960.92 L1372.98 961.15 L1373.3 961.38 L1373.61 961.61 L1373.92 961.84 L1374.23 962.07 L1374.54 962.3 L1374.86 962.52 L1375.17 962.75 L1375.48 962.97 L1375.79 963.19 L1376.1 963.41 L1376.42 963.63 L1376.73 963.85 L1377.04 964.07 L1377.35 964.29 L1377.66 964.5 L1377.98 964.72 L1378.29 964.93 L1378.6 965.14 L1378.91 965.36 L1379.23 965.57 L1379.54 965.78 L1379.85 965.99 L1380.16 966.19 L1380.47 966.4 L1380.79 966.61 L1381.1 966.81 L1381.41 967.02 L1381.72 967.22 L1382.03 967.42 L1382.35 967.62 L1382.66 967.82 L1382.97 968.02 L1383.28 968.22 L1383.59 968.42 L1383.91 968.61 L1384.22 968.81 L1384.53 969.01 L1384.84 969.2 L1385.15 969.39 L1385.47 969.59 L1385.78 969.78 L1386.09 969.97 L1386.4 970.16 L1386.72 970.35 L1387.03 970.54 L1387.34 970.73 L1387.65 970.91 L1387.96 971.1 L1388.28 971.29 L1388.59 971.47 L1388.9 971.65 L1389.21 971.84 L1389.52 972.02 L1389.84 972.2 L1390.15 972.38 L1390.46 972.56 L1391.36 973.08 L1392.56 973.76 L1393.76 974.43 L1394.96 975.08 L1396.16 975.73 L1397.36 976.37 L1398.56 976.99 L1399.76 977.61 L1400.96 978.21 L1402.16 978.8 L1403.36 979.39 L1404.56 979.96 L1405.77 980.52 L1406.97 981.08 L1408.17 981.62 L1409.37 982.15 L1410.57 982.68 L1411.77 983.19 L1412.97 983.7 L1414.17 984.2 L1415.37 984.68 L1416.57 985.16 L1417.77 985.64 L1418.97 986.1 L1420.17 986.55 L1421.37 987 L1422.57 987.44 L1423.77 987.87 L1424.97 988.29 L1426.17 988.7 L1427.37 989.11 L1428.57 989.5 L1429.77 989.89 L1430.98 990.28 L1432.18 990.65 L1433.38 991.01 L1434.58 991.37 L1435.78 991.72 L1436.98 992.06 L1438.18 992.4 L1439.38 992.73 L1440.58 993.05 L1441.78 993.36 L1442.98 993.67 L1444.18 993.97 L1445.38 994.26 L1446.58 994.55 L1447.78 994.83 L1448.98 995.11 L1450.18 995.38 L1451.38 995.65 L1452.58 995.91 L1453.78 996.17 L1454.98 996.42 L1456.18 996.66 L1457.39 996.91 L1458.59 997.14 L1459.79 997.38 L1460.99 997.61 L1462.19 997.83 L1463.39 998.05 L1464.59 998.27 L1465.79 998.49 L1466.99 998.7 L1468.19 998.9 L1469.39 999.11 L1470.59 999.31 L1471.79 999.51 L1472.99 999.7 L1474.19 999.89 L1475.39 1000.08 L1476.59 1000.26 L1477.79 1000.45 L1478.99 1000.63 L1480.19 1000.8 L1481.39 1000.98 L1482.6 1001.15 L1483.8 1001.32 L1485 1001.49 L1486.2 1001.65 L1487.4 1001.81 L1488.6 1001.97 L1489.8 1002.13 L1491 1002.29 L1492.2 1002.44 L1493.4 1002.59 L1494.6 1002.74 L1495.8 1002.89 L1497 1003.03 L1498.2 1003.18 L1499.4 1003.32 L1500.6 1003.46 L1501.8 1003.6 L1503 1003.74 L1504.2 1003.87 L1505.4 1004.01 L1506.6 1004.14 L1507.81 1004.27 L1509.01 1004.4 L1510.21 1004.53 L1511.41 1004.66 L1512.61 1004.78 L1513.81 1004.91 L1515.01 1005.03 L1516.21 1005.15 L1517.41 1005.27 L1518.61 1005.39 L1519.81 1005.51 L1521.01 1005.63 L1522.21 1005.75 L1523.41 1005.86 L1524.61 1005.98 L1525.81 1006.09 L1527.01 1006.2 L1528.21 1006.32 L1529.41 1006.43 L1530.61 1006.54 L1531.81 1006.65 L1533.02 1006.76 L1534.22 1006.87 L1535.42 1006.97 L1536.62 1007.08 L1537.82 1007.19 L1539.02 1007.29 L1540.22 1007.39 L1541.42 1007.5 L1542.62 1007.6 L1543.82 1007.7 L1545.02 1007.8 L1546.22 1007.9 L1547.42 1008 L1548.62 1008.1 L1549.82 1008.2 L1551.02 1008.29 L1552.22 1008.39 L1553.42 1008.48 L1554.62 1008.58 L1555.82 1008.67 L1557.02 1008.76 L1558.22 1008.85 L1559.43 1008.94 L1560.63 1009.04 L1561.83 1009.12 L1563.03 1009.21 L1564.23 1009.3 L1565.43 1009.39 L1566.63 1009.47 L1567.83 1009.56 L1569.03 1009.64 L1570.23 1009.73 L1571.43 1009.81 L1572.63 1009.89 L1573.83 1009.98 L1575.03 1010.06 L1576.23 1010.14 L1577.43 1010.22 L1578.63 1010.3 L1579.83 1010.37 L1581.03 1010.45 L1582.23 1010.53 L1583.43 1010.6 L1584.64 1010.68 L1585.84 1010.75 L1587.04 1010.83 L1588.24 1010.9 L1589.44 1010.98 L1590.64 1011.05 L1591.84 1011.12 L1593.04 1011.19 L1594.24 1011.26 L1595.44 1011.33 L1596.64 1011.4 L1597.84 1011.47 L1599.04 1011.54 L1600.24 1011.6 L1601.44 1011.67 L1602.64 1011.74 L1603.84 1011.8 L1605.04 1011.87 L1606.24 1011.93 L1607.44 1011.99 L1608.64 1012.06 L1609.85 1012.12 L1611.05 1012.18 L1612.25 1012.24 L1613.45 1012.31 L1614.65 1012.37 L1615.85 1012.43 L1617.05 1012.49 L1618.25 1012.55 L1619.45 1012.6 L1620.65 1012.66 L1621.85 1012.72 L1623.05 1012.78 L1624.25 1012.83 L1625.45 1012.89 L1626.65 1012.95 L1627.85 1013 L1629.05 1013.06 L1630.25 1013.11 L1631.45 1013.16 L1632.65 1013.22 L1633.85 1013.27 L1635.05 1013.32 L1636.26 1013.38 L1637.46 1013.43 L1638.66 1013.48 L1639.86 1013.53 L1641.06 1013.58 L1642.26 1013.63 L1643.46 1013.68 L1644.66 1013.73 L1645.86 1013.78 L1647.06 1013.83 L1648.26 1013.88 L1649.46 1013.92 L1650.66 1013.97 L1651.86 1014.02 L1653.06 1014.06 L1654.26 1014.11 L1655.46 1014.16 L1656.66 1014.2 L1657.86 1014.25 L1659.06 1014.29 L1660.26 1014.34 L1661.47 1014.38 L1662.67 1014.42 L1663.87 1014.47 L1665.07 1014.51 L1666.27 1014.55 L1667.47 1014.6 L1668.67 1014.64 L1669.87 1014.68 L1671.07 1014.72 L1672.27 1014.76 L1673.47 1014.8 L1674.67 1014.84 L1675.87 1014.88 L1677.07 1014.92 L1678.27 1014.96 L1679.47 1015 L1680.67 1015.04 L1681.87 1015.08 L1683.07 1015.12 L1684.27 1015.16 L1685.47 1015.2 L1686.68 1015.23 L1687.88 1015.27 L1689.08 1015.31 L1690.28 1015.35 L1691.48 1015.38 L1692.68 1015.42 L1693.88 1015.46 L1695.08 1015.49 L1696.28 1015.53 L1697.48 1015.57 L1698.68 1015.6 L1699.88 1015.64 L1701.08 1015.67 L1702.28 1015.71 L1703.48 1015.74 L1704.68 1015.78 L1705.88 1015.81 L1707.08 1015.85 L1708.28 1015.88 L1709.48 1015.92 L1710.68 1015.95 L1711.88 1015.98 L1713.09 1016.02 L1714.29 1016.05 L1715.49 1016.09 L1716.69 1016.12 L1717.89 1016.15 L1719.09 1016.19 L1720.29 1016.22 L1721.49 1016.25 L1722.69 1016.28 L1723.89 1016.32 L1725.09 1016.35 L1726.29 1016.38 L1727.49 1016.41 L1728.69 1016.45 L1729.89 1016.48 L1731.09 1016.51 L1732.29 1016.54 L1733.49 1016.57 L1734.69 1016.61 L1735.89 1016.64 L1737.09 1016.67 L1738.3 1016.7 L1739.5 1016.73 L1740.7 1016.76 L1741.9 1016.79 L1743.1 1016.83 L1744.3 1016.86 L1745.5 1016.89 L1746.7 1016.92 L1747.9 1016.95 L1749.1 1016.98 L1750.3 1017.01" fill="none" stroke="#D95319" stroke-width="3.0" stroke-linejoin="round"/>
<path d="M1300.5 785.71 L1300.58 777.99 L1300.65 774.82 L1300.73 772.4 L1300.8 770.39 L1300.88 768.62 L1300.95 767.04 L1301.03 765.6 L1301.1 764.28 L1301.18 763.04 L1301.26 761.88 L1301.33 760.79 L1301.41 759.75 L1301.48 758.77 L1301.56 757.83 L1301.63 756.93 L1301.71 756.07 L1301.79 755.25 L1301.86 754.46 L1301.94 753.7 L1302.01 752.97 L1302.09 752.26 L1302.16 751.58 L1302.24 750.92 L1302.31 750.29 L1302.39 749.67 L1302.47 749.08 L1302.54 748.5 L1302.62 747.95 L1302.69 747.41 L1302.77 746.88 L1302.84 746.38 L1302.92 745.89 L1302.99 745.41 L1303.07 744.95 L1303.15 744.5 L1303.22 744.07 L1303.3 743.65 L1303.37 743.25 L1303.45 742.86 L1303.52 742.48 L1303.6 742.11 L1303.68 741.75 L1303.75 741.41 L1303.83 741.08 L1303.9 740.76 L1303.98 740.45 L1304.05 740.16 L1304.13 739.87 L1304.2 739.59 L1304.28 739.33 L1304.36 739.07 L1304.43 738.83 L1304.51 738.59 L1304.58 738.37 L1304.66 738.16 L1304.73 737.95 L1304.81 737.76 L1304.88 737.57 L1304.96 737.39 L1305.04 737.23 L1305.11 737.07 L1305.19 736.92 L1305.26 736.78 L1305.34 736.65 L1305.41 736.53 L1305.49 736.42 L1305.56 736.32 L1305.64 736.22 L1305.72 736.14 L1305.79 736.06 L1305.87 735.99 L1305.94 735.93 L1306.02 735.88 L1306.09 735.84 L1306.17 735.8 L1306.25 735.78 L1306.32 735.76 L1306.4 735.75 L1306.47 735.75 L1306.55 735.75 L1306.62 735.77 L1306.7 735.79 L1306.77 735.82 L1306.85 735.86 L1306.93 735.9 L1307 735.96 L1307.08 736.02 L1307.15 736.08 L1307.23 736.15 L1307.3 736.23 L1307.38 736.32 L1307.45 736.41 L1307.53 736.51 L1307.61 736.61 L1307.68 736.72 L1307.76 736.83 L1307.83 736.95 L1307.91 737.07 L1307.98 737.2 L1308.06 737.33 L1308.14 737.47 L1308.21 737.61 L1308.29 737.76 L1308.36 737.91 L1308.44 738.06 L1308.51 738.22 L1308.59 738.39 L1308.66 738.55 L1308.74 738.72 L1308.82 738.9 L1308.89 739.08 L1308.97 739.26 L1309.04 739.44 L1309.12 739.63 L1309.19 739.82 L1309.27 740.01 L1309.34 740.21 L1309.42 740.41 L1309.5 740.61 L1309.63 740.98 L1309.94 741.86 L1310.26 742.78 L1310.57 743.73 L1310.88 744.71 L1311.19 745.72 L1311.5 746.76 L1311.82 747.81 L1312.13 748.89 L1312.44 749.98 L1312.75 751.09 L1313.06 752.2 L1313.38 753.33 L1313.69 754.47 L1314 755.61 L1314.31 756.76 L1314.62 757.91 L1314.94 759.07 L1315.25 760.23 L1315.56 761.39 L1315.87 762.55 L1316.18 763.71 L1316.5 764.88 L1316.81 766.04 L1317.12 767.2 L1317.43 768.36 L1317.75 769.52 L1318.06 770.67 L1318.37 771.83 L1318.68 772.98 L1318.99 774.13 L1319.31 775.27 L1319.62 776.42 L1319.93 777.56 L1320.24 778.69 L1320.55 779.83 L1320.87 780.96 L1321.18 782.09 L1321.49 783.21 L1321.8 784.34 L1322.11 785.46 L1322.43 786.58 L1322.74 787.7 L1323.05 788.81 L1323.36 789.92 L1323.67 791.04 L1323.99 792.14 L1324.3 793.25 L1324.61 794.35 L1324.92 795.45 L1325.24 796.55 L1325.55 797.64 L1325.86 798.73 L1326.17 799.81 L1326.48 800.9 L1326.8 801.98 L1327.11 803.05 L1327.42 804.12 L1327.73 805.19 L1328.04 806.25 L1328.36 807.31 L1328.67 808.37 L1328.98 809.42 L1329.29 810.46 L1329.6 811.51 L1329.92 812.54 L1330.23 813.58 L1330.54 814.61 L1330.85 815.63 L1331.16 816.65 L1331.48 817.66 L1331.79 818.67 L1332.1 819.68 L1332.41 820.68 L1332.72 821.68 L1333.04 822.67 L1333.35 823.65 L1333.66 824.63 L1333.97 825.61 L1334.29 826.58 L1334.6 827.54 L1334.91 828.5 L1335.22 829.45 L1335.53 830.4 L1335.85 831.34 L1336.16 832.28 L1336.47 833.21 L1336.78 834.14 L1337.09 835.06 L1337.41 835.97 L1337.72 836.88 L1338.03 837.79 L1338.34 838.68 L1338.65 839.58 L1338.97 840.46 L1339.28 841.34 L1339.59 842.22 L1339.9 843.08 L1340.21 843.95 L1340.53 844.8 L1340.84 845.65 L1341.15 846.5 L1341.46 847.34 L1341.78 848.17 L1342.09 849 L1342.4 849.82 L1342.71 850.64 L1343.02 851.45 L1343.34 852.26 L1343.65 853.06 L1343.96 853.85 L1344.27 854.64 L1344.58 855.43 L1344.9 856.21 L1345.21 856.99 L1345.52 857.76 L1345.83 858.52 L1346.14 859.28 L1346.46 860.04 L1346.77 860.79 L1347.08 861.54 L1347.39 862.28 L1347.7 863.02 L1348.02 863.75 L1348.33 864.48 L1348.64 865.2 L1348.95 865.93 L1349.27 866.64 L1349.58 867.35 L1349.89 868.06 L1350.2 868.77 L1350.51 869.47 L1350.83 870.16 L1351.14 870.86 L1351.45 871.55 L1351.76 872.23 L1352.07 872.91 L1352.39 873.59 L1352.7 874.27 L1353.01 874.94 L1353.32 875.61 L1353.63 876.27 L1353.95 876.93 L1354.26 877.59 L1354.57 878.25 L1354.88 878.9 L1355.19 879.55 L1355.51 880.2 L1355.82 880.84 L1356.13 881.48 L1356.44 882.12 L1356.76 882.75 L1357.07 883.38 L1357.38 884.01 L1357.69 884.64 L1358 885.26 L1358.32 885.87 L1358.63 886.49 L1358.94 887.1 L1359.25 887.71 L1359.56 888.31 L1359.88 888.91 L1360.19 889.51 L1360.5 890.11 L1360.81 890.7 L1361.12 891.29 L1361.44 891.87 L1361.75 892.45 L1362.06 893.03 L1362.37 893.6 L1362.68 894.17 L1363 894.74 L1363.31 895.3 L1363.62 895.86 L1363.93 896.41 L1364.25 896.97 L1364.56 897.51 L1364.87 898.06 L1365.18 898.6 L1365.49 899.13 L1365.81 899.67 L1366.12 900.2 L1366.43 900.72 L1366.74 901.24 L1367.05 901.76 L1367.37 902.27 L1367.68 902.78 L1367.99 903.29 L1368.3 903.79 L1368.61 904.29 L1368.93 904.78 L1369.24 905.27 L1369.55 905.75 L1369.86 906.23 L1370.17 906.71 L1370.49 907.18 L1370.8 907.65 L1371.11 908.11 L1371.42 908.57 L1371.74 909.03 L1372.05 909.48 L1372.36 909.93 L1372.67 910.37 L1372.98 910.81 L1373.3 911.24 L1373.61 911.67 L1373.92 912.1 L1374.23 912.52 L1374.54 912.94 L1374.86 913.35 L1375.17 913.76 L1375.48 914.17 L1375.79 914.57 L1376.1 914.97 L1376.42 915.36 L1376.73 915.75 L1377.04 916.14 L1377.35 916.52 L1377.66 916.9 L1377.98 917.27 L1378.29 917.64 L1378.6 918.01 L1378.91 918.38 L1379.23 918.74 L1379.54 919.1 L1379.85 919.46 L1380.16 919.81 L1380.47 920.16 L1380.79 920.51 L1381.1 920.86 L1381.41 921.2 L1381.72 921.54 L1382.03 921.88 L1382.35 922.21 L1382.66 922.55 L1382.97 922.88 L1383.28 923.21 L1383.59 923.53 L1383.91 923.86 L1384.22 924.18 L1384.53 924.5 L1384.84 924.82 L1385.15 925.14 L1385.47 925.46 L1385.78 925.77 L1386.09 926.08 L1386.4 926.39 L1386.72 926.7 L1387.03 927.01 L1387.34 927.32 L1387.65 927.63 L1387.96 927.93 L1388.28 928.24 L1388.59 928.54 L1388.9 928.84 L1389.21 929.14 L1389.52 929.44 L1389.84 929.74 L1390.15 930.04 L1390.46 930.33 L1391.36 931.18 L1392.56 932.3 L1393.76 933.41 L1394.96 934.5 L1396.16 935.57 L1397.36 936.63 L1398.56 937.67 L1399.76 938.69 L1400.96 939.7 L1402.16 940.68 L1403.36 941.65 L1404.56 942.6 L1405.77 943.53 L1406.97 944.44 L1408.17 945.33 L1409.37 946.21 L1410.57 947.07 L1411.77 947.92 L1412.97 948.76 L1414.17 949.59 L1415.37 950.4 L1416.57 951.21 L1417.77 952.01 L1418.97 952.79 L1420.17 953.57 L1421.37 954.34 L1422.57 955.1 L1423.77 955.85 L1424.97 956.59 L1426.17 957.32 L1427.37 958.03 L1428.57 958.73 L1429.77 959.43 L1430.98 960.1 L1432.18 960.77 L1433.38 961.42 L1434.58 962.07 L1435.78 962.69 L1436.98 963.31 L1438.18 963.91 L1439.38 964.5 L1440.58 965.07 L1441.78 965.64 L1442.98 966.19 L1444.18 966.74 L1445.38 967.27 L1446.58 967.8 L1447.78 968.31 L1448.98 968.82 L1450.18 969.32 L1451.38 969.81 L1452.58 970.29 L1453.78 970.76 L1454.98 971.23 L1456.18 971.69 L1457.39 972.15 L1458.59 972.6 L1459.79 973.04 L1460.99 973.48 L1462.19 973.91 L1463.39 974.33 L1464.59 974.75 L1465.79 975.17 L1466.99 975.58 L1468.19 975.98 L1469.39 976.38 L1470.59 976.77 L1471.79 977.16 L1472.99 977.54 L1474.19 977.91 L1475.39 978.28 L1476.59 978.64 L1477.79 979 L1478.99 979.35 L1480.19 979.7 L1481.39 980.04 L1482.6 980.37 L1483.8 980.7 L1485 981.02 L1486.2 981.34 L1487.4 981.65 L1488.6 981.96 L1489.8 982.27 L1491 982.56 L1492.2 982.86 L1493.4 983.15 L1494.6 983.43 L1495.8 983.72 L1497 983.99 L1498.2 984.27 L1499.4 984.54 L1500.6 984.8 L1501.8 985.06 L1503 985.32 L1504.2 985.58 L1505.4 985.83 L1506.6 986.08 L1507.81 986.33 L1509.01 986.57 L1510.21 986.81 L1511.41 987.05 L1512.61 987.28 L1513.81 987.51 L1515.01 987.74 L1516.21 987.97 L1517.41 988.19 L1518.61 988.42 L1519.81 988.64 L1521.01 988.85 L1522.21 989.07 L1523.41 989.29 L1524.61 989.5 L1525.81 989.71 L1527.01 989.92 L1528.21 990.12 L1529.41 990.33 L1530.61 990.53 L1531.81 990.74 L1533.02 990.94 L1534.22 991.13 L1535.42 991.33 L1536.62 991.52 L1537.82 991.72 L1539.02 991.91 L1540.22 992.1 L1541.42 992.28 L1542.62 992.47 L1543.82 992.65 L1545.02 992.83 L1546.22 993.01 L1547.42 993.19 L1548.62 993.36 L1549.82 993.54 L1551.02 993.71 L1552.22 993.88 L1553.42 994.05 L1554.62 994.21 L1555.82 994.38 L1557.02 994.54 L1558.22 994.7 L1559.43 994.85 L1560.63 995.01 L1561.83 995.16 L1563.03 995.32 L1564.23 995.46 L1565.43 995.61 L1566.63 995.76 L1567.83 995.9 L1569.03 996.04 L1570.23 996.18 L1571.43 996.32 L1572.63 996.45 L1573.83 996.59 L1575.03 996.72 L1576.23 996.85 L1577.43 996.98 L1578.63 997.1 L1579.83 997.23 L1581.03 997.35 L1582.23 997.47 L1583.43 997.59 L1584.64 997.71 L1585.84 997.83 L1587.04 997.94 L1588.24 998.06 L1589.44 998.17 L1590.64 998.28 L1591.84 998.39 L1593.04 998.5 L1594.24 998.61 L1595.44 998.72 L1596.64 998.83 L1597.84 998.94 L1599.04 999.04 L1600.24 999.15 L1601.44 999.25 L1602.64 999.36 L1603.84 999.46 L1605.04 999.56 L1606.24 999.66 L1607.44 999.77 L1608.64 999.87 L1609.85 999.97 L1611.05 1000.07 L1612.25 1000.17 L1613.45 1000.27 L1614.65 1000.37 L1615.85 1000.47 L1617.05 1000.57 L1618.25 1000.67 L1619.45 1000.77 L1620.65 1000.87 L1621.85 1000.97 L1623.05 1001.07 L1624.25 1001.17 L1625.45 1001.27 L1626.65 1001.37 L1627.85 1001.47 L1629.05 1001.56 L1630.25 1001.66 L1631.45 1001.76 L1632.65 1001.85 L1633.85 1001.95 L1635.05 1002.05 L1636.26 1002.14 L1637.46 1002.24 L1638.66 1002.33 L1639.86 1002.43 L1641.06 1002.52 L1642.26 1002.61 L1643.46 1002.71 L1644.66 1002.8 L1645.86 1002.89 L1647.06 1002.98 L1648.26 1003.07 L1649.46 1003.16 L1650.66 1003.25 L1651.86 1003.34 L1653.06 1003.43 L1654.26 1003.51 L1655.46 1003.6 L1656.66 1003.69 L1657.86 1003.77 L1659.06 1003.86 L1660.26 1003.94 L1661.47 1004.02 L1662.67 1004.1 L1663.87 1004.19 L1665.07 1004.27 L1666.27 1004.35 L1667.47 1004.43 L1668.67 1004.51 L1669.87 1004.58 L1671.07 1004.66 L1672.27 1004.74 L1673.47 1004.81 L1674.67 1004.89 L1675.87 1004.96 L1677.07 1005.04 L1678.27 1005.11 L1679.47 1005.19 L1680.67 1005.26 L1681.87 1005.33 L1683.07 1005.4 L1684.27 1005.47 L1685.47 1005.54 L1686.68 1005.61 L1687.88 1005.68 L1689.08 1005.75 L1690.28 1005.82 L1691.48 1005.89 L1692.68 1005.95 L1693.88 1006.02 L1695.08 1006.09 L1696.28 1006.15 L1697.48 1006.22 L1698.68 1006.28 L1699.88 1006.35 L1701.08 1006.41 L1702.28 1006.48 L1703.48 1006.54 L1704.68 1006.6 L1705.88 1006.67 L1707.08 1006.73 L1708.28 1006.79 L1709.48 1006.85 L1710.68 1006.91 L1711.88 1006.97 L1713.09 1007.03 L1714.29 1007.09 L1715.49 1007.15 L1716.69 1007.21 L1717.89 1007.27 L1719.09 1007.33 L1720.29 1007.39 L1721.49 1007.45 L1722.69 1007.51 L1723.89 1007.57 L1725.09 1007.62 L1726.29 1007.68 L1727.49 1007.74 L1728.69 1007.79 L1729.89 1007.85 L1731.09 1007.91 L1732.29 1007.96 L1733.49 1008.02 L1734.69 1008.08 L1735.89 1008.13 L1737.09 1008.19 L1738.3 1008.24 L1739.5 1008.3 L1740.7 1008.35 L1741.9 1008.41 L1743.1 1008.46 L1744.3 1008.52 L1745.5 1008.57 L1746.7 1008.63 L1747.9 1008.68 L1749.1 1008.74 L1750.3 1008.79" fill="none" stroke="#EDB120" stroke-width="3.0" stroke-linejoin="round"/>
<path d="M1300.5 785.71 L1300.58 766.25 L1300.65 758.26 L1300.73 752.18 L1300.8 747.1 L1300.88 742.66 L1300.95 738.68 L1301.03 735.05 L1301.1 731.71 L1301.18 728.59 L1301.26 725.67 L1301.33 722.91 L1301.41 720.3 L1301.48 717.82 L1301.56 715.46 L1301.63 713.19 L1301.71 711.03 L1301.79 708.95 L1301.86 706.95 L1301.94 705.02 L1302.01 703.16 L1302.09 701.36 L1302.16 699.63 L1302.24 697.95 L1302.31 696.32 L1302.39 694.74 L1302.47 693.21 L1302.54 691.73 L1302.62 690.28 L1302.69 688.88 L1302.77 687.52 L1302.84 686.19 L1302.92 684.9 L1302.99 683.64 L1303.07 682.42 L1303.15 681.22 L1303.22 680.06 L1303.3 678.93 L1303.37 677.83 L1303.45 676.75 L1303.52 675.7 L1303.6 674.67 L1303.68 673.67 L1303.75 672.7 L1303.83 671.75 L1303.9 670.82 L1303.98 669.91 L1304.05 669.02 L1304.13 668.16 L1304.2 667.32 L1304.28 666.49 L1304.36 665.69 L1304.43 664.91 L1304.51 664.14 L1304.58 663.39 L1304.66 662.66 L1304.73 661.95 L1304.81 661.25 L1304.88 660.57 L1304.96 659.91 L1305.04 659.27 L1305.11 658.64 L1305.19 658.02 L1305.26 657.42 L1305.34 656.84 L1305.41 656.27 L1305.49 655.71 L1305.56 655.17 L1305.64 654.64 L1305.72 654.13 L1305.79 653.63 L1305.87 653.14 L1305.94 652.67 L1306.02 652.2 L1306.09 651.75 L1306.17 651.32 L1306.25 650.89 L1306.32 650.48 L1306.4 650.08 L1306.47 649.69 L1306.55 649.31 L1306.62 648.95 L1306.7 648.59 L1306.77 648.25 L1306.85 647.92 L1306.93 647.59 L1307 647.28 L1307.08 646.98 L1307.15 646.69 L1307.23 646.41 L1307.3 646.14 L1307.38 645.88 L1307.45 645.63 L1307.53 645.39 L1307.61 645.16 L1307.68 644.94 L1307.76 644.73 L1307.83 644.52 L1307.91 644.33 L1307.98 644.14 L1308.06 643.97 L1308.14 643.8 L1308.21 643.64 L1308.29 643.49 L1308.36 643.35 L1308.44 643.22 L1308.51 643.1 L1308.59 642.98 L1308.66 642.87 L1308.74 642.77 L1308.82 642.68 L1308.89 642.6 L1308.97 642.52 L1309.04 642.45 L1309.12 642.39 L1309.19 642.34 L1309.27 642.3 L1309.34 642.26 L1309.42 642.23 L1309.5 642.21 L1309.63 642.18 L1309.94 642.22 L1310.26 642.36 L1310.57 642.61 L1310.88 642.95 L1311.19 643.38 L1311.5 643.89 L1311.82 644.48 L1312.13 645.13 L1312.44 645.86 L1312.75 646.64 L1313.06 647.48 L1313.38 648.37 L1313.69 649.32 L1314 650.3 L1314.31 651.33 L1314.62 652.39 L1314.94 653.49 L1315.25 654.63 L1315.56 655.79 L1315.87 656.98 L1316.18 658.2 L1316.5 659.44 L1316.81 660.7 L1317.12 661.99 L1317.43 663.29 L1317.75 664.6 L1318.06 665.94 L1318.37 667.29 L1318.68 668.65 L1318.99 670.02 L1319.31 671.41 L1319.62 672.8 L1319.93 674.2 L1320.24 675.62 L1320.55 677.03 L1320.87 678.46 L1321.18 679.89 L1321.49 681.33 L1321.8 682.77 L1322.11 684.21 L1322.43 685.66 L1322.74 687.11 L1323.05 688.56 L1323.36 690.02 L1323.67 691.47 L1323.99 692.93 L1324.3 694.39 L1324.61 695.84 L1324.92 697.3 L1325.24 698.75 L1325.55 700.21 L1325.86 701.66 L1326.17 703.11 L1326.48 704.55 L1326.8 706 L1327.11 707.44 L1327.42 708.88 L1327.73 710.31 L1328.04 711.74 L1328.36 713.17 L1328.67 714.59 L1328.98 716.01 L1329.29 717.43 L1329.6 718.84 L1329.92 720.24 L1330.23 721.65 L1330.54 723.04 L1330.85 724.43 L1331.16 725.82 L1331.48 727.2 L1331.79 728.58 L1332.1 729.95 L1332.41 731.31 L1332.72 732.67 L1333.04 734.03 L1333.35 735.38 L1333.66 736.72 L1333.97 738.06 L1334.29 739.4 L1334.6 740.73 L1334.91 742.05 L1335.22 743.37 L1335.53 744.68 L1335.85 745.98 L1336.16 747.28 L1336.47 748.58 L1336.78 749.87 L1337.09 751.15 L1337.41 752.43 L1337.72 753.71 L1338.03 754.98 L1338.34 756.24 L1338.65 757.5 L1338.97 758.75 L1339.28 760 L1339.59 761.24 L1339.9 762.47 L1340.21 763.71 L1340.53 764.93 L1340.84 766.15 L1341.15 767.37 L1341.46 768.57 L1341.78 769.78 L1342.09 770.98 L1342.4 772.17 L1342.71 773.36 L1343.02 774.54 L1343.34 775.72 L1343.65 776.89 L1343.96 778.05 L1344.27 779.21 L1344.58 780.37 L1344.9 781.51 L1345.21 782.66 L1345.52 783.79 L1345.83 784.92 L1346.14 786.05 L1346.46 787.17 L1346.77 788.28 L1347.08 789.39 L1347.39 790.49 L1347.7 791.58 L1348.02 792.67 L1348.33 793.75 L1348.64 794.83 L1348.95 795.9 L1349.27 796.96 L1349.58 798.02 L1349.89 799.07 L1350.2 800.12 L1350.51 801.16 L1350.83 802.19 L1351.14 803.21 L1351.45 804.23 L1351.76 805.25 L1352.07 806.25 L1352.39 807.25 L1352.7 808.25 L1353.01 809.23 L1353.32 810.21 L1353.63 811.19 L1353.95 812.15 L1354.26 813.11 L1354.57 814.07 L1354.88 815.02 L1355.19 815.96 L1355.51 816.89 L1355.82 817.82 L1356.13 818.75 L1356.44 819.66 L1356.76 820.57 L1357.07 821.48 L1357.38 822.37 L1357.69 823.26 L1358 824.15 L1358.32 825.03 L1358.63 825.9 L1358.94 826.76 L1359.25 827.62 L1359.56 828.48 L1359.88 829.33 L1360.19 830.17 L1360.5 831 L1360.81 831.83 L1361.12 832.66 L1361.44 833.48 L1361.75 834.29 L1362.06 835.09 L1362.37 835.9 L1362.68 836.69 L1363 837.48 L1363.31 838.27 L1363.62 839.05 L1363.93 839.82 L1364.25 840.59 L1364.56 841.35 L1364.87 842.11 L1365.18 842.86 L1365.49 843.61 L1365.81 844.35 L1366.12 845.08 L1366.43 845.82 L1366.74 846.54 L1367.05 847.26 L1367.37 847.98 L1367.68 848.69 L1367.99 849.4 L1368.3 850.1 L1368.61 850.8 L1368.93 851.49 L1369.24 852.18 L1369.55 852.87 L1369.86 853.55 L1370.17 854.22 L1370.49 854.89 L1370.8 855.56 L1371.11 856.22 L1371.42 856.88 L1371.74 857.54 L1372.05 858.19 L1372.36 858.84 L1372.67 859.48 L1372.98 860.12 L1373.3 860.75 L1373.61 861.38 L1373.92 862.01 L1374.23 862.63 L1374.54 863.25 L1374.86 863.87 L1375.17 864.48 L1375.48 865.09 L1375.79 865.7 L1376.1 866.3 L1376.42 866.9 L1376.73 867.49 L1377.04 868.08 L1377.35 868.67 L1377.66 869.25 L1377.98 869.83 L1378.29 870.4 L1378.6 870.97 L1378.91 871.54 L1379.23 872.11 L1379.54 872.67 L1379.85 873.22 L1380.16 873.78 L1380.47 874.33 L1380.79 874.87 L1381.1 875.41 L1381.41 875.95 L1381.72 876.48 L1382.03 877.02 L1382.35 877.54 L1382.66 878.07 L1382.97 878.59 L1383.28 879.1 L1383.59 879.61 L1383.91 880.12 L1384.22 880.63 L1384.53 881.13 L1384.84 881.63 L1385.15 882.12 L1385.47 882.62 L1385.78 883.11 L1386.09 883.59 L1386.4 884.07 L1386.72 884.55 L1387.03 885.03 L1387.34 885.5 L1387.65 885.97 L1387.96 886.44 L1388.28 886.9 L1388.59 887.36 L1388.9 887.82 L1389.21 888.28 L1389.52 888.73 L1389.84 889.18 L1390.15 889.63 L1390.46 890.07 L1391.36 891.34 L1392.56 892.99 L1393.76 894.61 L1394.96 896.19 L1396.16 897.74 L1397.36 899.26 L1398.56 900.74 L1399.76 902.2 L1400.96 903.64 L1402.16 905.05 L1403.36 906.44 L1404.56 907.81 L1405.77 909.16 L1406.97 910.49 L1408.17 911.8 L1409.37 913.1 L1410.57 914.37 L1411.77 915.63 L1412.97 916.87 L1414.17 918.09 L1415.37 919.29 L1416.57 920.47 L1417.77 921.62 L1418.97 922.76 L1420.17 923.87 L1421.37 924.96 L1422.57 926.02 L1423.77 927.06 L1424.97 928.07 L1426.17 929.06 L1427.37 930.02 L1428.57 930.96 L1429.77 931.88 L1430.98 932.79 L1432.18 933.67 L1433.38 934.54 L1434.58 935.4 L1435.78 936.24 L1436.98 937.07 L1438.18 937.89 L1439.38 938.7 L1440.58 939.49 L1441.78 940.27 L1442.98 941.04 L1444.18 941.8 L1445.38 942.55 L1446.58 943.28 L1447.78 944 L1448.98 944.71 L1450.18 945.41 L1451.38 946.1 L1452.58 946.78 L1453.78 947.44 L1454.98 948.09 L1456.18 948.73 L1457.39 949.36 L1458.59 949.98 L1459.79 950.58 L1460.99 951.18 L1462.19 951.76 L1463.39 952.34 L1464.59 952.9 L1465.79 953.46 L1466.99 954 L1468.19 954.54 L1469.39 955.07 L1470.59 955.6 L1471.79 956.11 L1472.99 956.62 L1474.19 957.12 L1475.39 957.62 L1476.59 958.11 L1477.79 958.6 L1478.99 959.08 L1480.19 959.56 L1481.39 960.03 L1482.6 960.49 L1483.8 960.96 L1485 961.42 L1486.2 961.87 L1487.4 962.32 L1488.6 962.77 L1489.8 963.21 L1491 963.64 L1492.2 964.07 L1493.4 964.5 L1494.6 964.92 L1495.8 965.34 L1497 965.76 L1498.2 966.16 L1499.4 966.57 L1500.6 966.97 L1501.8 967.36 L1503 967.75 L1504.2 968.13 L1505.4 968.51 L1506.6 968.89 L1507.81 969.26 L1509.01 969.62 L1510.21 969.98 L1511.41 970.34 L1512.61 970.69 L1513.81 971.03 L1515.01 971.38 L1516.21 971.71 L1517.41 972.04 L1518.61 972.37 L1519.81 972.69 L1521.01 973 L1522.21 973.31 L1523.41 973.62 L1524.61 973.91 L1525.81 974.21 L1527.01 974.5 L1528.21 974.78 L1529.41 975.06 L1530.61 975.34 L1531.81 975.61 L1533.02 975.88 L1534.22 976.14 L1535.42 976.4 L1536.62 976.65 L1537.82 976.91 L1539.02 977.15 L1540.22 977.4 L1541.42 977.64 L1542.62 977.88 L1543.82 978.11 L1545.02 978.34 L1546.22 978.57 L1547.42 978.8 L1548.62 979.03 L1549.82 979.25 L1551.02 979.47 L1552.22 979.68 L1553.42 979.9 L1554.62 980.11 L1555.82 980.33 L1557.02 980.54 L1558.22 980.74 L1559.43 980.95 L1560.63 981.16 L1561.83 981.36 L1563.03 981.56 L1564.23 981.77 L1565.43 981.97 L1566.63 982.17 L1567.83 982.37 L1569.03 982.57 L1570.23 982.76 L1571.43 982.96 L1572.63 983.16 L1573.83 983.35 L1575.03 983.55 L1576.23 983.75 L1577.43 983.94 L1578.63 984.13 L1579.83 984.33 L1581.03 984.52 L1582.23 984.71 L1583.43 984.9 L1584.64 985.09 L1585.84 985.28 L1587.04 985.47 L1588.24 985.65 L1589.44 985.84 L1590.64 986.02 L1591.84 986.21 L1593.04 986.39 L1594.24 986.57 L1595.44 986.75 L1596.64 986.93 L1597.84 987.1 L1599.04 987.28 L1600.24 987.45 L1601.44 987.63 L1602.64 987.8 L1603.84 987.97 L1605.04 988.13 L1606.24 988.3 L1607.44 988.47 L1608.64 988.63 L1609.85 988.79 L1611.05 988.95 L1612.25 989.11 L1613.45 989.27 L1614.65 989.42 L1615.85 989.58 L1617.05 989.73 L1618.25 989.88 L1619.45 990.03 L1620.65 990.17 L1621.85 990.32 L1623.05 990.46 L1624.25 990.61 L1625.45 990.75 L1626.65 990.89 L1627.85 991.02 L1629.05 991.16 L1630.25 991.29 L1631.45 991.43 L1632.65 991.56 L1633.85 991.69 L1635.05 991.82 L1636.26 991.95 L1637.46 992.08 L1638.66 992.2 L1639.86 992.33 L1641.06 992.45 L1642.26 992.58 L1643.46 992.7 L1644.66 992.82 L1645.86 992.94 L1647.06 993.06 L1648.26 993.17 L1649.46 993.29 L1650.66 993.41 L1651.86 993.52 L1653.06 993.64 L1654.26 993.75 L1655.46 993.86 L1656.66 993.97 L1657.86 994.08 L1659.06 994.19 L1660.26 994.3 L1661.47 994.41 L1662.67 994.52 L1663.87 994.63 L1665.07 994.73 L1666.27 994.84 L1667.47 994.95 L1668.67 995.05 L1669.87 995.15 L1671.07 995.26 L1672.27 995.36 L1673.47 995.46 L1674.67 995.56 L1675.87 995.66 L1677.07 995.76 L1678.27 995.86 L1679.47 995.96 L1680.67 996.06 L1681.87 996.16 L1683.07 996.25 L1684.27 996.35 L1685.47 996.44 L1686.68 996.54 L1687.88 996.63 L1689.08 996.73 L1690.28 996.82 L1691.48 996.91 L1692.68 997 L1693.88 997.09 L1695.08 997.18 L1696.28 997.27 L1697.48 997.36 L1698.68 997.45 L1699.88 997.54 L1701.08 997.63 L1702.28 997.71 L1703.48 997.8 L1704.68 997.88 L1705.88 997.97 L1707.08 998.05 L1708.28 998.14 L1709.48 998.22 L1710.68 998.3 L1711.88 998.38 L1713.09 998.47 L1714.29 998.55 L1715.49 998.63 L1716.69 998.71 L1717.89 998.79 L1719.09 998.87 L1720.29 998.95 L1721.49 999.02 L1722.69 999.1 L1723.89 999.18 L1725.09 999.26 L1726.29 999.33 L1727.49 999.41 L1728.69 999.49 L1729.89 999.56 L1731.09 999.64 L1732.29 999.71 L1733.49 999.79 L1734.69 999.86 L1735.89 999.94 L1737.09 1000.01 L1738.3 1000.09 L1739.5 1000.16 L1740.7 1000.23 L1741.9 1000.31 L1743.1 1000.38 L1744.3 1000.45 L1745.5 1000.53 L1746.7 1000.6 L1747.9 1000.67 L1749.1 1000.75 L1750.3 1000.82" fill="none" stroke="#7E2F8E" stroke-width="3.0" stroke-linejoin="round"/>
<text class="tk" transform="translate(1300.5 1059.9) scale(0.96 1)" text-anchor="middle">0</text>
<text class="tk" transform="translate(1390.46 1059.9) scale(0.96 1)" text-anchor="middle">20</text>
<text class="tk" transform="translate(1480.42 1059.9) scale(0.96 1)" text-anchor="middle">40</text>
<text class="tk" transform="translate(1570.38 1059.9) scale(0.96 1)" text-anchor="middle">60</text>
<text class="tk" transform="translate(1660.34 1059.9) scale(0.96 1)" text-anchor="middle">80</text>
<text class="tk" transform="translate(1750.3 1059.9) scale(0.96 1)" text-anchor="middle">100</text>
<text class="tk" transform="translate(1291.2 1036.6) scale(0.96 1)" text-anchor="end">0</text>
<text class="tk" transform="translate(1291.2 915.76) scale(0.96 1)" text-anchor="end">0.005</text>
<text class="tk" transform="translate(1291.2 794.91) scale(0.96 1)" text-anchor="end">0.01</text>
<text class="tk" transform="translate(1291.2 674.07) scale(0.96 1)" text-anchor="end">0.015</text>
<text class="mt th" font-size="34.47" font-style="italic" transform="translate(1467.61 623.40) scale(1.3050 1)">m</text>
<text class="mt" font-size="35.20" transform="translate(1509.68 626.30) scale(1.3746 1)">=</text>
<text class="mt" font-size="35.37" transform="translate(1546.06 623.25) scale(1.0142 1)">15</text>
<text class="mt th" font-size="38.43" font-style="italic" transform="translate(1518.08 1096.32) scale(1.1129 1)">t</text>
<text class="mt th" font-size="36.64" font-style="italic" transform="translate(1211.60 868.70) rotate(-90) scale(1.1426 1)">I</text>
<text class="mt th" font-size="21.88" font-style="italic" transform="translate(1198.68 851.71) rotate(-90) scale(1.0790 1)">c</text>
<text class="mt" font-size="26.78" transform="translate(1223.71 854.51) rotate(-90) scale(1.1716 1)">(</text>
<text class="mt th" font-size="22.59" font-style="italic" transform="translate(1222.20 846.66) rotate(-90) scale(1.9019 1)">l</text>
<text class="mt" font-size="24.08" transform="translate(1223.77 835.75) rotate(-90) scale(0.8306 1)">,</text>
<text class="mt th" font-size="22.34" font-style="italic" transform="translate(1223.20 831.36) rotate(-90) scale(1.3864 1)">m</text>
<text class="mt" font-size="26.78" transform="translate(1223.71 808.88) rotate(-90) scale(0.8992 1)">)</text>
<rect x="1560.6" y="670.2" width="154" height="135" fill="#fff" stroke="#262626" stroke-width="1.3"/>
<line x1="1566.7" y1="689.3" x2="1632.1" y2="689.3" stroke="#0072BD" stroke-width="3.0"/>
<text class="mt th" font-size="27.19" font-style="italic" transform="translate(1637.54 696.20) scale(1.0896 1)">l</text>
<text class="mt" font-size="27.20" transform="translate(1653.30 698.74) scale(1.3994 1)">=</text>
<text class="mt" font-size="27.47" transform="translate(1680.84 696.20) scale(1.0192 1)">2</text>
<line x1="1566.7" y1="722" x2="1632.1" y2="722" stroke="#D95319" stroke-width="3.0"/>
<text class="mt th" font-size="27.19" font-style="italic" transform="translate(1637.54 728.60) scale(1.0896 1)">l</text>
<text class="mt" font-size="27.20" transform="translate(1653.30 731.14) scale(1.3994 1)">=</text>
<text class="mt" font-size="27.37" transform="translate(1680.50 728.33) scale(1.0167 1)">5</text>
<line x1="1566.7" y1="754.5" x2="1632.1" y2="754.5" stroke="#EDB120" stroke-width="3.0"/>
<text class="mt th" font-size="27.19" font-style="italic" transform="translate(1637.54 761.20) scale(1.0896 1)">l</text>
<text class="mt" font-size="27.20" transform="translate(1653.30 763.74) scale(1.3994 1)">=</text>
<text class="mt" font-size="26.96" transform="translate(1679.74 760.93) scale(1.0003 1)">10</text>
<line x1="1566.7" y1="786.3" x2="1632.1" y2="786.3" stroke="#7E2F8E" stroke-width="3.0"/>
<text class="mt th" font-size="27.19" font-style="italic" transform="translate(1637.54 793.20) scale(1.0896 1)">l</text>
<text class="mt" font-size="27.20" transform="translate(1653.30 795.74) scale(1.3994 1)">=</text>
<text class="mt" font-size="27.16" transform="translate(1679.73 792.93) scale(0.9957 1)">15</text>
</svg></body></html>
